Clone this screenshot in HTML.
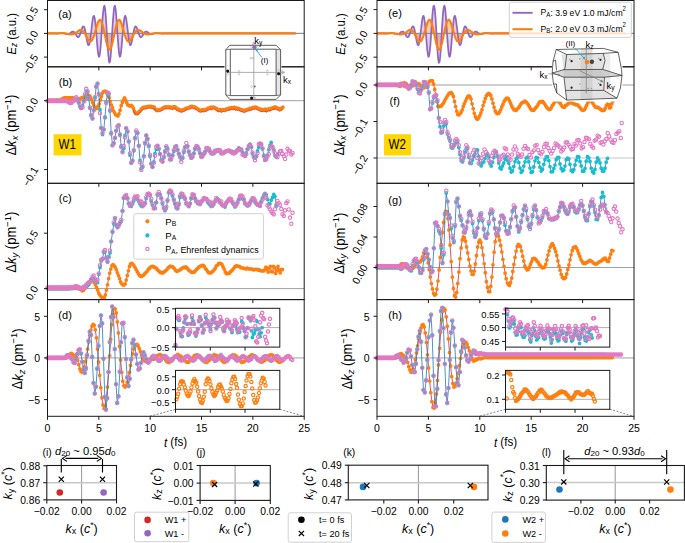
<!DOCTYPE html><html><head><meta charset="utf-8"><style>html,body{margin:0;padding:0;background:#fff;overflow:hidden;}svg{display:block;} text{font-family:"Liberation Sans", sans-serif;}</style></head><body><svg width="685" height="543" viewBox="0 0 685 543" font-family='"Liberation Sans", sans-serif'><defs></defs><line x1="47.5" y1="33.4" x2="304.2" y2="33.4" stroke="#a0a0a0" stroke-width="1" />
<line x1="47.5" y1="100.7" x2="304.2" y2="100.7" stroke="#a0a0a0" stroke-width="1" />
<line x1="47.5" y1="288.6" x2="304.2" y2="288.6" stroke="#a0a0a0" stroke-width="1" />
<line x1="47.5" y1="357.95" x2="304.2" y2="357.95" stroke="#a0a0a0" stroke-width="1" />
<line x1="377" y1="33.4" x2="634" y2="33.4" stroke="#a0a0a0" stroke-width="1" />
<line x1="377" y1="85" x2="634" y2="85" stroke="#a0a0a0" stroke-width="1" />
<line x1="377" y1="267.5" x2="634" y2="267.5" stroke="#a0a0a0" stroke-width="1" />
<line x1="377" y1="357.95" x2="634" y2="357.95" stroke="#a0a0a0" stroke-width="1" />
<line x1="377" y1="158" x2="634" y2="158" stroke="#c8c8c8" stroke-width="1.2" />
<path d="M47.5,33.4 48.1,33.4 48.7,33.4 49.3,33.4 50.0,33.4 50.6,33.4 51.2,33.4 51.8,33.4 52.4,33.4 53.0,33.4 53.6,33.4 54.2,33.4 54.9,33.4 55.5,33.5 56.1,33.5 56.7,33.5 57.3,33.5 57.9,33.5 58.5,33.5 59.1,33.4 59.8,33.3 60.4,33.3 61.0,33.2 61.6,33.1 62.2,33.1 62.8,33.1 63.4,33.2 64.0,33.3 64.7,33.4 65.3,33.6 65.9,33.8 66.5,34.0 67.1,34.1 67.7,34.2 68.3,34.1 68.9,33.9 69.6,33.6 70.2,33.2 70.8,32.7 71.4,32.2 72.0,31.8 72.6,31.6 73.2,31.6 73.8,31.9 74.5,32.5 75.1,33.3 75.7,34.3 76.3,35.3 76.9,36.3 77.5,36.9 78.1,37.2 78.7,36.9 79.4,36.1 80.0,34.7 80.6,32.9 81.2,30.9 81.8,29.0 82.4,27.4 83.0,26.4 83.6,26.4 84.3,27.3 84.9,29.3 85.5,32.1 86.1,35.5 86.7,39.0 87.3,42.1 87.9,44.3 88.5,45.2 89.2,44.6 89.8,42.3 90.4,38.4 91.0,33.5 91.6,28.1 92.2,22.9 92.8,18.7 93.4,16.2 94.1,15.9 94.7,18.0 95.3,22.4 95.9,28.7 96.5,36.0 97.1,43.5 97.7,50.1 98.3,54.8 99.0,56.8 99.6,55.7 100.2,51.6 100.8,44.7 101.4,36.0 102.0,26.6 102.6,17.8 103.3,10.8 103.9,6.5 104.5,5.8 105.1,8.8 105.7,15.1 106.3,24.0 106.9,34.3 107.5,44.6 108.2,53.5 108.8,59.9 109.4,62.7 110.0,61.6 110.6,56.8 111.2,49.0 111.8,39.1 112.4,28.7 113.1,18.9 113.7,11.3 114.3,6.7 114.9,5.7 115.5,8.4 116.1,14.3 116.7,22.4 117.3,31.7 118.0,40.9 118.6,48.7 119.2,54.2 119.8,56.7 120.4,56.1 121.0,52.5 121.6,46.7 122.2,39.5 122.9,32.0 123.5,25.1 124.1,19.8 124.7,16.6 125.3,15.8 125.9,17.3 126.5,20.8 127.1,25.6 127.8,31.0 128.4,36.3 129.0,40.7 129.6,43.7 130.2,45.1 130.8,44.9 131.4,43.3 132.0,40.5 132.7,37.1 133.3,33.6 133.9,30.5 134.5,28.1 135.1,26.7 135.7,26.3 136.3,26.8 136.9,28.2 137.6,30.0 138.2,32.0 138.8,33.9 139.4,35.5 140.0,36.6 140.6,37.2 141.2,37.1 141.8,36.6 142.5,35.8 143.1,34.8 143.7,33.7 144.3,32.8 144.9,32.1 145.5,31.7 146.1,31.6 146.7,31.7 147.4,32.0 148.0,32.5 148.6,33.0 149.2,33.4 149.8,33.8 150.4,34.0 151.0,34.2 151.7,34.2 152.3,34.1 152.9,33.9 153.5,33.7 154.1,33.5 154.7,33.3 155.3,33.2 155.9,33.1 156.6,33.1 157.2,33.1 157.8,33.2 158.4,33.2 159.0,33.3 159.6,33.4 160.2,33.4 160.8,33.5 161.5,33.5 162.1,33.5 162.7,33.5 163.3,33.5 163.9,33.4 164.5,33.4 165.1,33.4 165.7,33.4 166.4,33.4 167.0,33.4 167.6,33.4 168.2,33.4 168.8,33.4 169.4,33.4 170.0,33.4 170.6,33.4 171.3,33.4 171.9,33.4 172.5,33.4 173.1,33.4 173.7,33.4 174.3,33.4 174.9,33.4 175.5,33.4 176.2,33.4 176.8,33.4 177.4,33.4 178.0,33.4 178.6,33.4 179.2,33.4 179.8,33.4 180.4,33.4 181.1,33.4 181.7,33.4 182.3,33.4 182.9,33.4 183.5,33.4 184.1,33.4 184.7,33.4 185.3,33.4 186.0,33.4 186.6,33.4 187.2,33.4 187.8,33.4 188.4,33.4 189.0,33.4 189.6,33.4 190.2,33.4 190.9,33.4 191.5,33.4 192.1,33.4 192.7,33.4 193.3,33.4 193.9,33.4 194.5,33.4 195.1,33.4 195.8,33.4 196.4,33.4 197.0,33.4 197.6,33.4 198.2,33.4 198.8,33.4 199.4,33.4 200.0,33.4 200.7,33.4 201.3,33.4 201.9,33.4 202.5,33.4 203.1,33.4 203.7,33.4 204.3,33.4 205.0,33.4 205.6,33.4 206.2,33.4 206.8,33.4 207.4,33.4 208.0,33.4 208.6,33.4 209.2,33.4 209.9,33.4 210.5,33.4 211.1,33.4 211.7,33.4 212.3,33.4 212.9,33.4 213.5,33.4 214.1,33.4 214.8,33.4 215.4,33.4 216.0,33.4 216.6,33.4 217.2,33.4 217.8,33.4 218.4,33.4 219.0,33.4 219.7,33.4 220.3,33.4 220.9,33.4 221.5,33.4 222.1,33.4 222.7,33.4 223.3,33.4 223.9,33.4 224.6,33.4 225.2,33.4 225.8,33.4 226.4,33.4 227.0,33.4 227.6,33.4 228.2,33.4 228.8,33.4 229.5,33.4 230.1,33.4 230.7,33.4 231.3,33.4 231.9,33.4 232.5,33.4 233.1,33.4 233.7,33.4 234.4,33.4 235.0,33.4 235.6,33.4 236.2,33.4 236.8,33.4 237.4,33.4 238.0,33.4 238.6,33.4 239.3,33.4 239.9,33.4 240.5,33.4 241.1,33.4 241.7,33.4 242.3,33.4 242.9,33.4 243.5,33.4 244.2,33.4 244.8,33.4 245.4,33.4 246.0,33.4 246.6,33.4 247.2,33.4 247.8,33.4 248.4,33.4 249.1,33.4 249.7,33.4 250.3,33.4 250.9,33.4 251.5,33.4 252.1,33.4 252.7,33.4 253.4,33.4 254.0,33.4 254.6,33.4 255.2,33.4 255.8,33.4 256.4,33.4 257.0,33.4 257.6,33.4 258.3,33.4 258.9,33.4 259.5,33.4 260.1,33.4 260.7,33.4 261.3,33.4 261.9,33.4 262.5,33.4 263.2,33.4 263.8,33.4 264.4,33.4 265.0,33.4 265.6,33.4 266.2,33.4 266.8,33.4 267.4,33.4 268.1,33.4 268.7,33.4 269.3,33.4 269.9,33.4 270.5,33.4 271.1,33.4 271.7,33.4 272.3,33.4 273.0,33.4 273.6,33.4 274.2,33.4 274.8,33.4 275.4,33.4 276.0,33.4 276.6,33.4 277.2,33.4 277.9,33.4 278.5,33.4 279.1,33.4 279.7,33.4 280.3,33.4 280.9,33.4 281.5,33.4 282.1,33.4 282.8,33.4 283.4,33.4 284.0,33.4 284.6,33.4 285.2,33.4 285.8,33.4 286.4,33.4 287.0,33.4 287.7,33.4 288.3,33.4 288.9,33.4 289.5,33.4 290.1,33.4 290.7,33.4 291.3,33.4 291.9,33.4 292.6,33.4 293.2,33.4 293.8,33.4 294.4,33.4 295.0,33.4 295.6,33.4 296.2,33.4 296.8,33.4 297.5,33.4 298.1,33.4 298.7,33.4 299.3,33.4 299.9,33.4 300.5,33.4 301.1,33.4 301.7,33.4 302.4,33.4 303.0,33.4 303.6,33.4 304.2,33.4 L304.2,33.4 L47.5,33.4 Z" fill="#9467bd" fill-opacity="0.3" stroke="none"/>
<path d="M47.5,33.4 48.1,33.4 48.7,33.4 49.3,33.4 50.0,33.4 50.6,33.4 51.2,33.4 51.8,33.4 52.4,33.4 53.0,33.4 53.6,33.4 54.2,33.4 54.9,33.4 55.5,33.4 56.1,33.4 56.7,33.3 57.3,33.3 57.9,33.3 58.5,33.3 59.1,33.2 59.8,33.2 60.4,33.2 61.0,33.2 61.6,33.2 62.2,33.2 62.8,33.2 63.4,33.2 64.0,33.3 64.7,33.4 65.3,33.4 65.9,33.6 66.5,33.7 67.1,33.8 67.7,33.9 68.3,34.1 68.9,34.2 69.6,34.3 70.2,34.4 70.8,34.4 71.4,34.4 72.0,34.4 72.6,34.3 73.2,34.1 73.8,33.9 74.5,33.6 75.1,33.3 75.7,32.9 76.3,32.4 76.9,32.0 77.5,31.5 78.1,31.1 78.7,30.6 79.4,30.3 80.0,30.1 80.6,30.0 81.2,30.0 81.8,30.2 82.4,30.5 83.0,31.1 83.6,31.8 84.3,32.6 84.9,33.6 85.5,34.7 86.1,35.9 86.7,37.1 87.3,38.2 87.9,39.3 88.5,40.2 89.2,40.9 89.8,41.4 90.4,41.5 91.0,41.3 91.6,40.8 92.2,39.9 92.8,38.7 93.4,37.2 94.1,35.4 94.7,33.3 95.3,31.2 95.9,29.0 96.5,26.8 97.1,24.8 97.7,23.0 98.3,21.5 99.0,20.5 99.6,19.9 100.2,19.9 100.8,20.3 101.4,21.4 102.0,22.9 102.6,24.9 103.3,27.3 103.9,30.0 104.5,33.0 105.1,36.0 105.7,38.9 106.3,41.7 106.9,44.2 107.5,46.4 108.2,48.0 108.8,49.0 109.4,49.5 110.0,49.3 110.6,48.5 111.2,47.2 111.8,45.3 112.4,42.9 113.1,40.3 113.7,37.4 114.3,34.4 114.9,31.4 115.5,28.5 116.1,26.0 116.7,23.8 117.3,22.0 118.0,20.7 118.6,20.0 119.2,19.8 119.8,20.2 120.4,21.0 121.0,22.3 121.6,23.9 122.2,25.9 122.9,28.0 123.5,30.2 124.1,32.4 124.7,34.5 125.3,36.4 125.9,38.0 126.5,39.4 127.1,40.5 127.8,41.2 128.4,41.5 129.0,41.5 129.6,41.2 130.2,40.6 130.8,39.7 131.4,38.7 132.0,37.6 132.7,36.4 133.3,35.2 133.9,34.1 134.5,33.1 135.1,32.1 135.7,31.4 136.3,30.7 136.9,30.3 137.6,30.1 138.2,30.0 138.8,30.0 139.4,30.2 140.0,30.5 140.6,30.9 141.2,31.3 141.8,31.7 142.5,32.2 143.1,32.7 143.7,33.1 144.3,33.5 144.9,33.8 145.5,34.0 146.1,34.2 146.7,34.4 147.4,34.4 148.0,34.4 148.6,34.4 149.2,34.3 149.8,34.2 150.4,34.1 151.0,34.0 151.7,33.9 152.3,33.7 152.9,33.6 153.5,33.5 154.1,33.4 154.7,33.3 155.3,33.3 155.9,33.2 156.6,33.2 157.2,33.2 157.8,33.2 158.4,33.2 159.0,33.2 159.6,33.2 160.2,33.3 160.8,33.3 161.5,33.3 162.1,33.3 162.7,33.4 163.3,33.4 163.9,33.4 164.5,33.4 165.1,33.4 165.7,33.4 166.4,33.4 167.0,33.4 167.6,33.4 168.2,33.4 168.8,33.4 169.4,33.4 170.0,33.4 170.6,33.4 171.3,33.4 171.9,33.4 172.5,33.4 173.1,33.4 173.7,33.4 174.3,33.4 174.9,33.4 175.5,33.4 176.2,33.4 176.8,33.4 177.4,33.4 178.0,33.4 178.6,33.4 179.2,33.4 179.8,33.4 180.4,33.4 181.1,33.4 181.7,33.4 182.3,33.4 182.9,33.4 183.5,33.4 184.1,33.4 184.7,33.4 185.3,33.4 186.0,33.4 186.6,33.4 187.2,33.4 187.8,33.4 188.4,33.4 189.0,33.4 189.6,33.4 190.2,33.4 190.9,33.4 191.5,33.4 192.1,33.4 192.7,33.4 193.3,33.4 193.9,33.4 194.5,33.4 195.1,33.4 195.8,33.4 196.4,33.4 197.0,33.4 197.6,33.4 198.2,33.4 198.8,33.4 199.4,33.4 200.0,33.4 200.7,33.4 201.3,33.4 201.9,33.4 202.5,33.4 203.1,33.4 203.7,33.4 204.3,33.4 205.0,33.4 205.6,33.4 206.2,33.4 206.8,33.4 207.4,33.4 208.0,33.4 208.6,33.4 209.2,33.4 209.9,33.4 210.5,33.4 211.1,33.4 211.7,33.4 212.3,33.4 212.9,33.4 213.5,33.4 214.1,33.4 214.8,33.4 215.4,33.4 216.0,33.4 216.6,33.4 217.2,33.4 217.8,33.4 218.4,33.4 219.0,33.4 219.7,33.4 220.3,33.4 220.9,33.4 221.5,33.4 222.1,33.4 222.7,33.4 223.3,33.4 223.9,33.4 224.6,33.4 225.2,33.4 225.8,33.4 226.4,33.4 227.0,33.4 227.6,33.4 228.2,33.4 228.8,33.4 229.5,33.4 230.1,33.4 230.7,33.4 231.3,33.4 231.9,33.4 232.5,33.4 233.1,33.4 233.7,33.4 234.4,33.4 235.0,33.4 235.6,33.4 236.2,33.4 236.8,33.4 237.4,33.4 238.0,33.4 238.6,33.4 239.3,33.4 239.9,33.4 240.5,33.4 241.1,33.4 241.7,33.4 242.3,33.4 242.9,33.4 243.5,33.4 244.2,33.4 244.8,33.4 245.4,33.4 246.0,33.4 246.6,33.4 247.2,33.4 247.8,33.4 248.4,33.4 249.1,33.4 249.7,33.4 250.3,33.4 250.9,33.4 251.5,33.4 252.1,33.4 252.7,33.4 253.4,33.4 254.0,33.4 254.6,33.4 255.2,33.4 255.8,33.4 256.4,33.4 257.0,33.4 257.6,33.4 258.3,33.4 258.9,33.4 259.5,33.4 260.1,33.4 260.7,33.4 261.3,33.4 261.9,33.4 262.5,33.4 263.2,33.4 263.8,33.4 264.4,33.4 265.0,33.4 265.6,33.4 266.2,33.4 266.8,33.4 267.4,33.4 268.1,33.4 268.7,33.4 269.3,33.4 269.9,33.4 270.5,33.4 271.1,33.4 271.7,33.4 272.3,33.4 273.0,33.4 273.6,33.4 274.2,33.4 274.8,33.4 275.4,33.4 276.0,33.4 276.6,33.4 277.2,33.4 277.9,33.4 278.5,33.4 279.1,33.4 279.7,33.4 280.3,33.4 280.9,33.4 281.5,33.4 282.1,33.4 282.8,33.4 283.4,33.4 284.0,33.4 284.6,33.4 285.2,33.4 285.8,33.4 286.4,33.4 287.0,33.4 287.7,33.4 288.3,33.4 288.9,33.4 289.5,33.4 290.1,33.4 290.7,33.4 291.3,33.4 291.9,33.4 292.6,33.4 293.2,33.4 293.8,33.4 294.4,33.4 295.0,33.4 295.6,33.4 296.2,33.4 296.8,33.4 297.5,33.4 298.1,33.4 298.7,33.4 299.3,33.4 299.9,33.4 300.5,33.4 301.1,33.4 301.7,33.4 302.4,33.4 303.0,33.4 303.6,33.4 304.2,33.4 L304.2,33.4 L47.5,33.4 Z" fill="#ff7f0e" fill-opacity="0.38" stroke="none"/>
<line x1="47.5" y1="33.4" x2="304.2" y2="33.4" stroke="#8c8c8c" stroke-width="1" />
<path d="M47.5,33.4 48.1,33.4 48.7,33.4 49.3,33.4 50.0,33.4 50.6,33.4 51.2,33.4 51.8,33.4 52.4,33.4 53.0,33.4 53.6,33.4 54.2,33.4 54.9,33.4 55.5,33.5 56.1,33.5 56.7,33.5 57.3,33.5 57.9,33.5 58.5,33.5 59.1,33.4 59.8,33.3 60.4,33.3 61.0,33.2 61.6,33.1 62.2,33.1 62.8,33.1 63.4,33.2 64.0,33.3 64.7,33.4 65.3,33.6 65.9,33.8 66.5,34.0 67.1,34.1 67.7,34.2 68.3,34.1 68.9,33.9 69.6,33.6 70.2,33.2 70.8,32.7 71.4,32.2 72.0,31.8 72.6,31.6 73.2,31.6 73.8,31.9 74.5,32.5 75.1,33.3 75.7,34.3 76.3,35.3 76.9,36.3 77.5,36.9 78.1,37.2 78.7,36.9 79.4,36.1 80.0,34.7 80.6,32.9 81.2,30.9 81.8,29.0 82.4,27.4 83.0,26.4 83.6,26.4 84.3,27.3 84.9,29.3 85.5,32.1 86.1,35.5 86.7,39.0 87.3,42.1 87.9,44.3 88.5,45.2 89.2,44.6 89.8,42.3 90.4,38.4 91.0,33.5 91.6,28.1 92.2,22.9 92.8,18.7 93.4,16.2 94.1,15.9 94.7,18.0 95.3,22.4 95.9,28.7 96.5,36.0 97.1,43.5 97.7,50.1 98.3,54.8 99.0,56.8 99.6,55.7 100.2,51.6 100.8,44.7 101.4,36.0 102.0,26.6 102.6,17.8 103.3,10.8 103.9,6.5 104.5,5.8 105.1,8.8 105.7,15.1 106.3,24.0 106.9,34.3 107.5,44.6 108.2,53.5 108.8,59.9 109.4,62.7 110.0,61.6 110.6,56.8 111.2,49.0 111.8,39.1 112.4,28.7 113.1,18.9 113.7,11.3 114.3,6.7 114.9,5.7 115.5,8.4 116.1,14.3 116.7,22.4 117.3,31.7 118.0,40.9 118.6,48.7 119.2,54.2 119.8,56.7 120.4,56.1 121.0,52.5 121.6,46.7 122.2,39.5 122.9,32.0 123.5,25.1 124.1,19.8 124.7,16.6 125.3,15.8 125.9,17.3 126.5,20.8 127.1,25.6 127.8,31.0 128.4,36.3 129.0,40.7 129.6,43.7 130.2,45.1 130.8,44.9 131.4,43.3 132.0,40.5 132.7,37.1 133.3,33.6 133.9,30.5 134.5,28.1 135.1,26.7 135.7,26.3 136.3,26.8 136.9,28.2 137.6,30.0 138.2,32.0 138.8,33.9 139.4,35.5 140.0,36.6 140.6,37.2 141.2,37.1 141.8,36.6 142.5,35.8 143.1,34.8 143.7,33.7 144.3,32.8 144.9,32.1 145.5,31.7 146.1,31.6 146.7,31.7 147.4,32.0 148.0,32.5 148.6,33.0 149.2,33.4 149.8,33.8 150.4,34.0 151.0,34.2 151.7,34.2 152.3,34.1 152.9,33.9 153.5,33.7 154.1,33.5 154.7,33.3 155.3,33.2 155.9,33.1 156.6,33.1 157.2,33.1 157.8,33.2 158.4,33.2 159.0,33.3 159.6,33.4 160.2,33.4 160.8,33.5 161.5,33.5 162.1,33.5 162.7,33.5 163.3,33.5 163.9,33.4 164.5,33.4 165.1,33.4 165.7,33.4 166.4,33.4 167.0,33.4 167.6,33.4 168.2,33.4 168.8,33.4 169.4,33.4 170.0,33.4 170.6,33.4 171.3,33.4 171.9,33.4 172.5,33.4 173.1,33.4 173.7,33.4 174.3,33.4 174.9,33.4 175.5,33.4 176.2,33.4 176.8,33.4 177.4,33.4 178.0,33.4 178.6,33.4 179.2,33.4 179.8,33.4 180.4,33.4 181.1,33.4 181.7,33.4 182.3,33.4 182.9,33.4 183.5,33.4 184.1,33.4 184.7,33.4 185.3,33.4 186.0,33.4 186.6,33.4 187.2,33.4 187.8,33.4 188.4,33.4 189.0,33.4 189.6,33.4 190.2,33.4 190.9,33.4 191.5,33.4 192.1,33.4 192.7,33.4 193.3,33.4 193.9,33.4 194.5,33.4 195.1,33.4 195.8,33.4 196.4,33.4 197.0,33.4 197.6,33.4 198.2,33.4 198.8,33.4 199.4,33.4 200.0,33.4 200.7,33.4 201.3,33.4 201.9,33.4 202.5,33.4 203.1,33.4 203.7,33.4 204.3,33.4 205.0,33.4 205.6,33.4 206.2,33.4 206.8,33.4 207.4,33.4 208.0,33.4 208.6,33.4 209.2,33.4 209.9,33.4 210.5,33.4 211.1,33.4 211.7,33.4 212.3,33.4 212.9,33.4 213.5,33.4 214.1,33.4 214.8,33.4 215.4,33.4 216.0,33.4 216.6,33.4 217.2,33.4 217.8,33.4 218.4,33.4 219.0,33.4 219.7,33.4 220.3,33.4 220.9,33.4 221.5,33.4 222.1,33.4 222.7,33.4 223.3,33.4 223.9,33.4 224.6,33.4 225.2,33.4 225.8,33.4 226.4,33.4 227.0,33.4 227.6,33.4 228.2,33.4 228.8,33.4 229.5,33.4 230.1,33.4 230.7,33.4 231.3,33.4 231.9,33.4 232.5,33.4 233.1,33.4 233.7,33.4 234.4,33.4 235.0,33.4 235.6,33.4 236.2,33.4 236.8,33.4 237.4,33.4 238.0,33.4 238.6,33.4 239.3,33.4 239.9,33.4 240.5,33.4 241.1,33.4 241.7,33.4 242.3,33.4 242.9,33.4 243.5,33.4 244.2,33.4 244.8,33.4 245.4,33.4 246.0,33.4 246.6,33.4 247.2,33.4 247.8,33.4 248.4,33.4 249.1,33.4 249.7,33.4 250.3,33.4 250.9,33.4 251.5,33.4 252.1,33.4 252.7,33.4 253.4,33.4 254.0,33.4 254.6,33.4 255.2,33.4 255.8,33.4 256.4,33.4 257.0,33.4 257.6,33.4 258.3,33.4 258.9,33.4 259.5,33.4 260.1,33.4 260.7,33.4 261.3,33.4 261.9,33.4 262.5,33.4 263.2,33.4 263.8,33.4 264.4,33.4 265.0,33.4 265.6,33.4 266.2,33.4 266.8,33.4 267.4,33.4 268.1,33.4 268.7,33.4 269.3,33.4 269.9,33.4 270.5,33.4 271.1,33.4 271.7,33.4 272.3,33.4 273.0,33.4 273.6,33.4 274.2,33.4 274.8,33.4 275.4,33.4 276.0,33.4 276.6,33.4 277.2,33.4 277.9,33.4 278.5,33.4 279.1,33.4 279.7,33.4 280.3,33.4 280.9,33.4 281.5,33.4 282.1,33.4 282.8,33.4 283.4,33.4 284.0,33.4 284.6,33.4 285.2,33.4 285.8,33.4 286.4,33.4 287.0,33.4 287.7,33.4 288.3,33.4 288.9,33.4 289.5,33.4 290.1,33.4 290.7,33.4 291.3,33.4 291.9,33.4 292.6,33.4 293.2,33.4 293.8,33.4 294.4,33.4 295.0,33.4 295.6,33.4" fill="none" stroke="#9467bd" stroke-width="1.75" stroke-linejoin="round"/>
<path d="M47.5,33.4 48.1,33.4 48.7,33.4 49.3,33.4 50.0,33.4 50.6,33.4 51.2,33.4 51.8,33.4 52.4,33.4 53.0,33.4 53.6,33.4 54.2,33.4 54.9,33.4 55.5,33.4 56.1,33.4 56.7,33.3 57.3,33.3 57.9,33.3 58.5,33.3 59.1,33.2 59.8,33.2 60.4,33.2 61.0,33.2 61.6,33.2 62.2,33.2 62.8,33.2 63.4,33.2 64.0,33.3 64.7,33.4 65.3,33.4 65.9,33.6 66.5,33.7 67.1,33.8 67.7,33.9 68.3,34.1 68.9,34.2 69.6,34.3 70.2,34.4 70.8,34.4 71.4,34.4 72.0,34.4 72.6,34.3 73.2,34.1 73.8,33.9 74.5,33.6 75.1,33.3 75.7,32.9 76.3,32.4 76.9,32.0 77.5,31.5 78.1,31.1 78.7,30.6 79.4,30.3 80.0,30.1 80.6,30.0 81.2,30.0 81.8,30.2 82.4,30.5 83.0,31.1 83.6,31.8 84.3,32.6 84.9,33.6 85.5,34.7 86.1,35.9 86.7,37.1 87.3,38.2 87.9,39.3 88.5,40.2 89.2,40.9 89.8,41.4 90.4,41.5 91.0,41.3 91.6,40.8 92.2,39.9 92.8,38.7 93.4,37.2 94.1,35.4 94.7,33.3 95.3,31.2 95.9,29.0 96.5,26.8 97.1,24.8 97.7,23.0 98.3,21.5 99.0,20.5 99.6,19.9 100.2,19.9 100.8,20.3 101.4,21.4 102.0,22.9 102.6,24.9 103.3,27.3 103.9,30.0 104.5,33.0 105.1,36.0 105.7,38.9 106.3,41.7 106.9,44.2 107.5,46.4 108.2,48.0 108.8,49.0 109.4,49.5 110.0,49.3 110.6,48.5 111.2,47.2 111.8,45.3 112.4,42.9 113.1,40.3 113.7,37.4 114.3,34.4 114.9,31.4 115.5,28.5 116.1,26.0 116.7,23.8 117.3,22.0 118.0,20.7 118.6,20.0 119.2,19.8 119.8,20.2 120.4,21.0 121.0,22.3 121.6,23.9 122.2,25.9 122.9,28.0 123.5,30.2 124.1,32.4 124.7,34.5 125.3,36.4 125.9,38.0 126.5,39.4 127.1,40.5 127.8,41.2 128.4,41.5 129.0,41.5 129.6,41.2 130.2,40.6 130.8,39.7 131.4,38.7 132.0,37.6 132.7,36.4 133.3,35.2 133.9,34.1 134.5,33.1 135.1,32.1 135.7,31.4 136.3,30.7 136.9,30.3 137.6,30.1 138.2,30.0 138.8,30.0 139.4,30.2 140.0,30.5 140.6,30.9 141.2,31.3 141.8,31.7 142.5,32.2 143.1,32.7 143.7,33.1 144.3,33.5 144.9,33.8 145.5,34.0 146.1,34.2 146.7,34.4 147.4,34.4 148.0,34.4 148.6,34.4 149.2,34.3 149.8,34.2 150.4,34.1 151.0,34.0 151.7,33.9 152.3,33.7 152.9,33.6 153.5,33.5 154.1,33.4 154.7,33.3 155.3,33.3 155.9,33.2 156.6,33.2 157.2,33.2 157.8,33.2 158.4,33.2 159.0,33.2 159.6,33.2 160.2,33.3 160.8,33.3 161.5,33.3 162.1,33.3 162.7,33.4 163.3,33.4 163.9,33.4 164.5,33.4 165.1,33.4 165.7,33.4 166.4,33.4 167.0,33.4 167.6,33.4 168.2,33.4 168.8,33.4 169.4,33.4 170.0,33.4 170.6,33.4 171.3,33.4 171.9,33.4 172.5,33.4 173.1,33.4 173.7,33.4 174.3,33.4 174.9,33.4 175.5,33.4 176.2,33.4 176.8,33.4 177.4,33.4 178.0,33.4 178.6,33.4 179.2,33.4 179.8,33.4 180.4,33.4 181.1,33.4 181.7,33.4 182.3,33.4 182.9,33.4 183.5,33.4 184.1,33.4 184.7,33.4 185.3,33.4 186.0,33.4 186.6,33.4 187.2,33.4 187.8,33.4 188.4,33.4 189.0,33.4 189.6,33.4 190.2,33.4 190.9,33.4 191.5,33.4 192.1,33.4 192.7,33.4 193.3,33.4 193.9,33.4 194.5,33.4 195.1,33.4 195.8,33.4 196.4,33.4 197.0,33.4 197.6,33.4 198.2,33.4 198.8,33.4 199.4,33.4 200.0,33.4 200.7,33.4 201.3,33.4 201.9,33.4 202.5,33.4 203.1,33.4 203.7,33.4 204.3,33.4 205.0,33.4 205.6,33.4 206.2,33.4 206.8,33.4 207.4,33.4 208.0,33.4 208.6,33.4 209.2,33.4 209.9,33.4 210.5,33.4 211.1,33.4 211.7,33.4 212.3,33.4 212.9,33.4 213.5,33.4 214.1,33.4 214.8,33.4 215.4,33.4 216.0,33.4 216.6,33.4 217.2,33.4 217.8,33.4 218.4,33.4 219.0,33.4 219.7,33.4 220.3,33.4 220.9,33.4 221.5,33.4 222.1,33.4 222.7,33.4 223.3,33.4 223.9,33.4 224.6,33.4 225.2,33.4 225.8,33.4 226.4,33.4 227.0,33.4 227.6,33.4 228.2,33.4 228.8,33.4 229.5,33.4 230.1,33.4 230.7,33.4 231.3,33.4 231.9,33.4 232.5,33.4 233.1,33.4 233.7,33.4 234.4,33.4 235.0,33.4 235.6,33.4 236.2,33.4 236.8,33.4 237.4,33.4 238.0,33.4 238.6,33.4 239.3,33.4 239.9,33.4 240.5,33.4 241.1,33.4 241.7,33.4 242.3,33.4 242.9,33.4 243.5,33.4 244.2,33.4 244.8,33.4 245.4,33.4 246.0,33.4 246.6,33.4 247.2,33.4 247.8,33.4 248.4,33.4 249.1,33.4 249.7,33.4 250.3,33.4 250.9,33.4 251.5,33.4 252.1,33.4 252.7,33.4 253.4,33.4 254.0,33.4 254.6,33.4 255.2,33.4 255.8,33.4 256.4,33.4 257.0,33.4 257.6,33.4 258.3,33.4 258.9,33.4 259.5,33.4 260.1,33.4 260.7,33.4 261.3,33.4 261.9,33.4 262.5,33.4 263.2,33.4 263.8,33.4 264.4,33.4 265.0,33.4 265.6,33.4 266.2,33.4 266.8,33.4 267.4,33.4 268.1,33.4 268.7,33.4 269.3,33.4 269.9,33.4 270.5,33.4 271.1,33.4 271.7,33.4 272.3,33.4 273.0,33.4 273.6,33.4 274.2,33.4 274.8,33.4 275.4,33.4 276.0,33.4 276.6,33.4 277.2,33.4 277.9,33.4 278.5,33.4 279.1,33.4 279.7,33.4 280.3,33.4 280.9,33.4 281.5,33.4 282.1,33.4 282.8,33.4 283.4,33.4 284.0,33.4 284.6,33.4 285.2,33.4 285.8,33.4 286.4,33.4 287.0,33.4 287.7,33.4 288.3,33.4 288.9,33.4 289.5,33.4 290.1,33.4 290.7,33.4 291.3,33.4 291.9,33.4 292.6,33.4 293.2,33.4 293.8,33.4 294.4,33.4 295.0,33.4 295.6,33.4" fill="none" stroke="#ff7f0e" stroke-width="2.1" stroke-linejoin="round"/>
<path d="M377.0,33.4 377.6,33.4 378.2,33.4 378.8,33.4 379.5,33.4 380.1,33.4 380.7,33.4 381.3,33.4 381.9,33.4 382.5,33.4 383.1,33.4 383.7,33.4 384.4,33.4 385.0,33.5 385.6,33.5 386.2,33.5 386.8,33.5 387.4,33.5 388.0,33.5 388.7,33.4 389.3,33.3 389.9,33.3 390.5,33.2 391.1,33.1 391.7,33.1 392.3,33.1 392.9,33.2 393.6,33.3 394.2,33.4 394.8,33.6 395.4,33.8 396.0,34.0 396.6,34.1 397.2,34.2 397.9,34.1 398.5,33.9 399.1,33.6 399.7,33.2 400.3,32.7 400.9,32.2 401.5,31.8 402.1,31.6 402.8,31.6 403.4,31.9 404.0,32.5 404.6,33.3 405.2,34.3 405.8,35.3 406.4,36.3 407.1,37.0 407.7,37.2 408.3,37.0 408.9,36.1 409.5,34.7 410.1,32.9 410.7,30.9 411.3,29.0 412.0,27.4 412.6,26.4 413.2,26.4 413.8,27.3 414.4,29.3 415.0,32.1 415.6,35.5 416.3,39.0 416.9,42.1 417.5,44.4 418.1,45.3 418.7,44.6 419.3,42.3 419.9,38.5 420.5,33.5 421.2,28.1 421.8,22.9 422.4,18.7 423.0,16.2 423.6,15.9 424.2,18.0 424.8,22.4 425.5,28.7 426.1,36.0 426.7,43.5 427.3,50.1 427.9,54.8 428.5,56.9 429.1,55.8 429.7,51.6 430.4,44.8 431.0,36.1 431.6,26.6 432.2,17.7 432.8,10.7 433.4,6.4 434.0,5.7 434.7,8.7 435.3,15.0 435.9,24.0 436.5,34.3 437.1,44.7 437.7,53.6 438.3,60.0 438.9,62.8 439.6,61.7 440.2,56.9 440.8,49.1 441.4,39.2 442.0,28.6 442.6,18.9 443.2,11.2 443.9,6.6 444.5,5.6 445.1,8.3 445.7,14.2 446.3,22.4 446.9,31.7 447.5,40.9 448.2,48.8 448.8,54.3 449.4,56.8 450.0,56.1 450.6,52.6 451.2,46.8 451.8,39.5 452.4,32.0 453.1,25.1 453.7,19.7 454.3,16.5 454.9,15.7 455.5,17.3 456.1,20.8 456.7,25.6 457.4,31.0 458.0,36.3 458.6,40.7 459.2,43.8 459.8,45.2 460.4,45.0 461.0,43.3 461.6,40.5 462.3,37.1 462.9,33.6 463.5,30.5 464.1,28.1 464.7,26.7 465.3,26.3 465.9,26.8 466.6,28.2 467.2,30.0 467.8,32.0 468.4,33.9 469.0,35.5 469.6,36.6 470.2,37.2 470.8,37.1 471.5,36.6 472.1,35.8 472.7,34.8 473.3,33.7 473.9,32.8 474.5,32.1 475.1,31.7 475.8,31.6 476.4,31.7 477.0,32.0 477.6,32.5 478.2,33.0 478.8,33.4 479.4,33.8 480.0,34.0 480.7,34.2 481.3,34.2 481.9,34.1 482.5,33.9 483.1,33.7 483.7,33.5 484.3,33.3 485.0,33.2 485.6,33.1 486.2,33.1 486.8,33.1 487.4,33.2 488.0,33.2 488.6,33.3 489.2,33.4 489.9,33.4 490.5,33.5 491.1,33.5 491.7,33.5 492.3,33.5 492.9,33.5 493.5,33.4 494.2,33.4 494.8,33.4 495.4,33.4 496.0,33.4 496.6,33.4 497.2,33.4 497.8,33.4 498.4,33.4 499.1,33.4 499.7,33.4 500.3,33.4 500.9,33.4 501.5,33.4 502.1,33.4 502.7,33.4 503.4,33.4 504.0,33.4 504.6,33.4 505.2,33.4 505.8,33.4 506.4,33.4 507.0,33.4 507.6,33.4 508.3,33.4 508.9,33.4 509.5,33.4 510.1,33.4 510.7,33.4 511.3,33.4 511.9,33.4 512.6,33.4 513.2,33.4 513.8,33.4 514.4,33.4 515.0,33.4 515.6,33.4 516.2,33.4 516.8,33.4 517.5,33.4 518.1,33.4 518.7,33.4 519.3,33.4 519.9,33.4 520.5,33.4 521.1,33.4 521.8,33.4 522.4,33.4 523.0,33.4 523.6,33.4 524.2,33.4 524.8,33.4 525.4,33.4 526.0,33.4 526.7,33.4 527.3,33.4 527.9,33.4 528.5,33.4 529.1,33.4 529.7,33.4 530.3,33.4 531.0,33.4 531.6,33.4 532.2,33.4 532.8,33.4 533.4,33.4 534.0,33.4 534.6,33.4 535.2,33.4 535.9,33.4 536.5,33.4 537.1,33.4 537.7,33.4 538.3,33.4 538.9,33.4 539.5,33.4 540.2,33.4 540.8,33.4 541.4,33.4 542.0,33.4 542.6,33.4 543.2,33.4 543.8,33.4 544.4,33.4 545.1,33.4 545.7,33.4 546.3,33.4 546.9,33.4 547.5,33.4 548.1,33.4 548.7,33.4 549.4,33.4 550.0,33.4 550.6,33.4 551.2,33.4 551.8,33.4 552.4,33.4 553.0,33.4 553.6,33.4 554.3,33.4 554.9,33.4 555.5,33.4 556.1,33.4 556.7,33.4 557.3,33.4 557.9,33.4 558.6,33.4 559.2,33.4 559.8,33.4 560.4,33.4 561.0,33.4 561.6,33.4 562.2,33.4 562.8,33.4 563.5,33.4 564.1,33.4 564.7,33.4 565.3,33.4 565.9,33.4 566.5,33.4 567.1,33.4 567.8,33.4 568.4,33.4 569.0,33.4 569.6,33.4 570.2,33.4 570.8,33.4 571.4,33.4 572.1,33.4 572.7,33.4 573.3,33.4 573.9,33.4 574.5,33.4 575.1,33.4 575.7,33.4 576.3,33.4 577.0,33.4 577.6,33.4 578.2,33.4 578.8,33.4 579.4,33.4 580.0,33.4 580.6,33.4 581.3,33.4 581.9,33.4 582.5,33.4 583.1,33.4 583.7,33.4 584.3,33.4 584.9,33.4 585.5,33.4 586.2,33.4 586.8,33.4 587.4,33.4 588.0,33.4 588.6,33.4 589.2,33.4 589.8,33.4 590.5,33.4 591.1,33.4 591.7,33.4 592.3,33.4 592.9,33.4 593.5,33.4 594.1,33.4 594.7,33.4 595.4,33.4 596.0,33.4 596.6,33.4 597.2,33.4 597.8,33.4 598.4,33.4 599.0,33.4 599.7,33.4 600.3,33.4 600.9,33.4 601.5,33.4 602.1,33.4 602.7,33.4 603.3,33.4 603.9,33.4 604.6,33.4 605.2,33.4 605.8,33.4 606.4,33.4 607.0,33.4 607.6,33.4 608.2,33.4 608.9,33.4 609.5,33.4 610.1,33.4 610.7,33.4 611.3,33.4 611.9,33.4 612.5,33.4 613.1,33.4 613.8,33.4 614.4,33.4 615.0,33.4 615.6,33.4 616.2,33.4 616.8,33.4 617.4,33.4 618.1,33.4 618.7,33.4 619.3,33.4 619.9,33.4 620.5,33.4 621.1,33.4 621.7,33.4 622.3,33.4 623.0,33.4 623.6,33.4 624.2,33.4 624.8,33.4 625.4,33.4 626.0,33.4 626.6,33.4 627.3,33.4 627.9,33.4 628.5,33.4 629.1,33.4 629.7,33.4 630.3,33.4 630.9,33.4 631.5,33.4 632.2,33.4 632.8,33.4 633.4,33.4 634.0,33.4 L634.0,33.4 L377.0,33.4 Z" fill="#9467bd" fill-opacity="0.3" stroke="none"/>
<path d="M377.0,33.4 377.6,33.4 378.2,33.4 378.8,33.4 379.5,33.4 380.1,33.4 380.7,33.4 381.3,33.4 381.9,33.4 382.5,33.4 383.1,33.4 383.7,33.4 384.4,33.4 385.0,33.4 385.6,33.4 386.2,33.3 386.8,33.3 387.4,33.3 388.0,33.3 388.7,33.2 389.3,33.2 389.9,33.2 390.5,33.2 391.1,33.2 391.7,33.2 392.3,33.2 392.9,33.2 393.6,33.3 394.2,33.4 394.8,33.5 395.4,33.6 396.0,33.7 396.6,33.8 397.2,33.9 397.9,34.1 398.5,34.2 399.1,34.3 399.7,34.4 400.3,34.4 400.9,34.4 401.5,34.4 402.1,34.3 402.8,34.1 403.4,33.9 404.0,33.6 404.6,33.3 405.2,32.9 405.8,32.4 406.4,32.0 407.1,31.5 407.7,31.0 408.3,30.6 408.9,30.3 409.5,30.1 410.1,29.9 410.7,30.0 411.3,30.2 412.0,30.5 412.6,31.0 413.2,31.7 413.8,32.6 414.4,33.6 415.0,34.7 415.6,35.9 416.3,37.1 416.9,38.2 417.5,39.3 418.1,40.2 418.7,40.9 419.3,41.4 419.9,41.6 420.5,41.4 421.2,40.9 421.8,40.0 422.4,38.7 423.0,37.2 423.6,35.4 424.2,33.3 424.8,31.2 425.5,29.0 426.1,26.8 426.7,24.8 427.3,23.0 427.9,21.5 428.5,20.4 429.1,19.9 429.7,19.8 430.4,20.3 431.0,21.3 431.6,22.9 432.2,24.9 432.8,27.3 433.4,30.0 434.0,33.0 434.7,36.0 435.3,39.0 435.9,41.8 436.5,44.3 437.1,46.4 437.7,48.0 438.3,49.1 438.9,49.6 439.6,49.4 440.2,48.6 440.8,47.2 441.4,45.3 442.0,43.0 442.6,40.3 443.2,37.4 443.9,34.4 444.5,31.4 445.1,28.5 445.7,26.0 446.3,23.7 446.9,22.0 447.5,20.7 448.2,20.0 448.8,19.8 449.4,20.1 450.0,21.0 450.6,22.2 451.2,23.9 451.8,25.8 452.4,27.9 453.1,30.1 453.7,32.4 454.3,34.5 454.9,36.4 455.5,38.1 456.1,39.4 456.7,40.5 457.4,41.2 458.0,41.5 458.6,41.5 459.2,41.2 459.8,40.6 460.4,39.8 461.0,38.7 461.6,37.6 462.3,36.4 462.9,35.3 463.5,34.1 464.1,33.1 464.7,32.1 465.3,31.3 465.9,30.7 466.6,30.3 467.2,30.0 467.8,29.9 468.4,30.0 469.0,30.2 469.6,30.5 470.2,30.8 470.8,31.3 471.5,31.7 472.1,32.2 472.7,32.7 473.3,33.1 473.9,33.5 474.5,33.8 475.1,34.0 475.8,34.2 476.4,34.4 477.0,34.4 477.6,34.4 478.2,34.4 478.8,34.3 479.4,34.2 480.0,34.1 480.7,34.0 481.3,33.9 481.9,33.7 482.5,33.6 483.1,33.5 483.7,33.4 484.3,33.3 485.0,33.3 485.6,33.2 486.2,33.2 486.8,33.2 487.4,33.2 488.0,33.2 488.6,33.2 489.2,33.2 489.9,33.3 490.5,33.3 491.1,33.3 491.7,33.3 492.3,33.4 492.9,33.4 493.5,33.4 494.2,33.4 494.8,33.4 495.4,33.4 496.0,33.4 496.6,33.4 497.2,33.4 497.8,33.4 498.4,33.4 499.1,33.4 499.7,33.4 500.3,33.4 500.9,33.4 501.5,33.4 502.1,33.4 502.7,33.4 503.4,33.4 504.0,33.4 504.6,33.4 505.2,33.4 505.8,33.4 506.4,33.4 507.0,33.4 507.6,33.4 508.3,33.4 508.9,33.4 509.5,33.4 510.1,33.4 510.7,33.4 511.3,33.4 511.9,33.4 512.6,33.4 513.2,33.4 513.8,33.4 514.4,33.4 515.0,33.4 515.6,33.4 516.2,33.4 516.8,33.4 517.5,33.4 518.1,33.4 518.7,33.4 519.3,33.4 519.9,33.4 520.5,33.4 521.1,33.4 521.8,33.4 522.4,33.4 523.0,33.4 523.6,33.4 524.2,33.4 524.8,33.4 525.4,33.4 526.0,33.4 526.7,33.4 527.3,33.4 527.9,33.4 528.5,33.4 529.1,33.4 529.7,33.4 530.3,33.4 531.0,33.4 531.6,33.4 532.2,33.4 532.8,33.4 533.4,33.4 534.0,33.4 534.6,33.4 535.2,33.4 535.9,33.4 536.5,33.4 537.1,33.4 537.7,33.4 538.3,33.4 538.9,33.4 539.5,33.4 540.2,33.4 540.8,33.4 541.4,33.4 542.0,33.4 542.6,33.4 543.2,33.4 543.8,33.4 544.4,33.4 545.1,33.4 545.7,33.4 546.3,33.4 546.9,33.4 547.5,33.4 548.1,33.4 548.7,33.4 549.4,33.4 550.0,33.4 550.6,33.4 551.2,33.4 551.8,33.4 552.4,33.4 553.0,33.4 553.6,33.4 554.3,33.4 554.9,33.4 555.5,33.4 556.1,33.4 556.7,33.4 557.3,33.4 557.9,33.4 558.6,33.4 559.2,33.4 559.8,33.4 560.4,33.4 561.0,33.4 561.6,33.4 562.2,33.4 562.8,33.4 563.5,33.4 564.1,33.4 564.7,33.4 565.3,33.4 565.9,33.4 566.5,33.4 567.1,33.4 567.8,33.4 568.4,33.4 569.0,33.4 569.6,33.4 570.2,33.4 570.8,33.4 571.4,33.4 572.1,33.4 572.7,33.4 573.3,33.4 573.9,33.4 574.5,33.4 575.1,33.4 575.7,33.4 576.3,33.4 577.0,33.4 577.6,33.4 578.2,33.4 578.8,33.4 579.4,33.4 580.0,33.4 580.6,33.4 581.3,33.4 581.9,33.4 582.5,33.4 583.1,33.4 583.7,33.4 584.3,33.4 584.9,33.4 585.5,33.4 586.2,33.4 586.8,33.4 587.4,33.4 588.0,33.4 588.6,33.4 589.2,33.4 589.8,33.4 590.5,33.4 591.1,33.4 591.7,33.4 592.3,33.4 592.9,33.4 593.5,33.4 594.1,33.4 594.7,33.4 595.4,33.4 596.0,33.4 596.6,33.4 597.2,33.4 597.8,33.4 598.4,33.4 599.0,33.4 599.7,33.4 600.3,33.4 600.9,33.4 601.5,33.4 602.1,33.4 602.7,33.4 603.3,33.4 603.9,33.4 604.6,33.4 605.2,33.4 605.8,33.4 606.4,33.4 607.0,33.4 607.6,33.4 608.2,33.4 608.9,33.4 609.5,33.4 610.1,33.4 610.7,33.4 611.3,33.4 611.9,33.4 612.5,33.4 613.1,33.4 613.8,33.4 614.4,33.4 615.0,33.4 615.6,33.4 616.2,33.4 616.8,33.4 617.4,33.4 618.1,33.4 618.7,33.4 619.3,33.4 619.9,33.4 620.5,33.4 621.1,33.4 621.7,33.4 622.3,33.4 623.0,33.4 623.6,33.4 624.2,33.4 624.8,33.4 625.4,33.4 626.0,33.4 626.6,33.4 627.3,33.4 627.9,33.4 628.5,33.4 629.1,33.4 629.7,33.4 630.3,33.4 630.9,33.4 631.5,33.4 632.2,33.4 632.8,33.4 633.4,33.4 634.0,33.4 L634.0,33.4 L377.0,33.4 Z" fill="#ff7f0e" fill-opacity="0.38" stroke="none"/>
<line x1="377" y1="33.4" x2="634" y2="33.4" stroke="#8c8c8c" stroke-width="1" />
<path d="M377.0,33.4 377.6,33.4 378.2,33.4 378.8,33.4 379.5,33.4 380.1,33.4 380.7,33.4 381.3,33.4 381.9,33.4 382.5,33.4 383.1,33.4 383.7,33.4 384.4,33.4 385.0,33.5 385.6,33.5 386.2,33.5 386.8,33.5 387.4,33.5 388.0,33.5 388.7,33.4 389.3,33.3 389.9,33.3 390.5,33.2 391.1,33.1 391.7,33.1 392.3,33.1 392.9,33.2 393.6,33.3 394.2,33.4 394.8,33.6 395.4,33.8 396.0,34.0 396.6,34.1 397.2,34.2 397.9,34.1 398.5,33.9 399.1,33.6 399.7,33.2 400.3,32.7 400.9,32.2 401.5,31.8 402.1,31.6 402.8,31.6 403.4,31.9 404.0,32.5 404.6,33.3 405.2,34.3 405.8,35.3 406.4,36.3 407.1,37.0 407.7,37.2 408.3,37.0 408.9,36.1 409.5,34.7 410.1,32.9 410.7,30.9 411.3,29.0 412.0,27.4 412.6,26.4 413.2,26.4 413.8,27.3 414.4,29.3 415.0,32.1 415.6,35.5 416.3,39.0 416.9,42.1 417.5,44.4 418.1,45.3 418.7,44.6 419.3,42.3 419.9,38.5 420.5,33.5 421.2,28.1 421.8,22.9 422.4,18.7 423.0,16.2 423.6,15.9 424.2,18.0 424.8,22.4 425.5,28.7 426.1,36.0 426.7,43.5 427.3,50.1 427.9,54.8 428.5,56.9 429.1,55.8 429.7,51.6 430.4,44.8 431.0,36.1 431.6,26.6 432.2,17.7 432.8,10.7 433.4,6.4 434.0,5.7 434.7,8.7 435.3,15.0 435.9,24.0 436.5,34.3 437.1,44.7 437.7,53.6 438.3,60.0 438.9,62.8 439.6,61.7 440.2,56.9 440.8,49.1 441.4,39.2 442.0,28.6 442.6,18.9 443.2,11.2 443.9,6.6 444.5,5.6 445.1,8.3 445.7,14.2 446.3,22.4 446.9,31.7 447.5,40.9 448.2,48.8 448.8,54.3 449.4,56.8 450.0,56.1 450.6,52.6 451.2,46.8 451.8,39.5 452.4,32.0 453.1,25.1 453.7,19.7 454.3,16.5 454.9,15.7 455.5,17.3 456.1,20.8 456.7,25.6 457.4,31.0 458.0,36.3 458.6,40.7 459.2,43.8 459.8,45.2 460.4,45.0 461.0,43.3 461.6,40.5 462.3,37.1 462.9,33.6 463.5,30.5 464.1,28.1 464.7,26.7 465.3,26.3 465.9,26.8 466.6,28.2 467.2,30.0 467.8,32.0 468.4,33.9 469.0,35.5 469.6,36.6 470.2,37.2 470.8,37.1 471.5,36.6 472.1,35.8 472.7,34.8 473.3,33.7 473.9,32.8 474.5,32.1 475.1,31.7 475.8,31.6 476.4,31.7 477.0,32.0 477.6,32.5 478.2,33.0 478.8,33.4 479.4,33.8 480.0,34.0 480.7,34.2 481.3,34.2 481.9,34.1 482.5,33.9 483.1,33.7 483.7,33.5 484.3,33.3 485.0,33.2 485.6,33.1 486.2,33.1 486.8,33.1 487.4,33.2 488.0,33.2 488.6,33.3 489.2,33.4 489.9,33.4 490.5,33.5 491.1,33.5 491.7,33.5 492.3,33.5 492.9,33.5 493.5,33.4 494.2,33.4 494.8,33.4 495.4,33.4 496.0,33.4 496.6,33.4 497.2,33.4 497.8,33.4 498.4,33.4 499.1,33.4 499.7,33.4 500.3,33.4 500.9,33.4 501.5,33.4 502.1,33.4 502.7,33.4 503.4,33.4 504.0,33.4 504.6,33.4 505.2,33.4 505.8,33.4 506.4,33.4 507.0,33.4 507.6,33.4 508.3,33.4 508.9,33.4 509.5,33.4 510.1,33.4 510.7,33.4 511.3,33.4 511.9,33.4 512.6,33.4 513.2,33.4 513.8,33.4 514.4,33.4 515.0,33.4 515.6,33.4 516.2,33.4 516.8,33.4 517.5,33.4 518.1,33.4 518.7,33.4 519.3,33.4 519.9,33.4 520.5,33.4 521.1,33.4 521.8,33.4 522.4,33.4 523.0,33.4 523.6,33.4 524.2,33.4 524.8,33.4 525.4,33.4 526.0,33.4 526.7,33.4 527.3,33.4 527.9,33.4 528.5,33.4 529.1,33.4 529.7,33.4 530.3,33.4 531.0,33.4 531.6,33.4 532.2,33.4 532.8,33.4 533.4,33.4 534.0,33.4 534.6,33.4 535.2,33.4 535.9,33.4 536.5,33.4 537.1,33.4 537.7,33.4 538.3,33.4 538.9,33.4 539.5,33.4 540.2,33.4 540.8,33.4 541.4,33.4 542.0,33.4 542.6,33.4 543.2,33.4 543.8,33.4 544.4,33.4 545.1,33.4 545.7,33.4 546.3,33.4 546.9,33.4 547.5,33.4 548.1,33.4 548.7,33.4 549.4,33.4 550.0,33.4 550.6,33.4 551.2,33.4 551.8,33.4 552.4,33.4 553.0,33.4 553.6,33.4 554.3,33.4 554.9,33.4 555.5,33.4 556.1,33.4 556.7,33.4 557.3,33.4 557.9,33.4 558.6,33.4 559.2,33.4 559.8,33.4 560.4,33.4 561.0,33.4 561.6,33.4 562.2,33.4 562.8,33.4 563.5,33.4 564.1,33.4 564.7,33.4 565.3,33.4 565.9,33.4 566.5,33.4 567.1,33.4 567.8,33.4 568.4,33.4 569.0,33.4 569.6,33.4 570.2,33.4 570.8,33.4 571.4,33.4 572.1,33.4 572.7,33.4 573.3,33.4 573.9,33.4 574.5,33.4 575.1,33.4 575.7,33.4 576.3,33.4 577.0,33.4 577.6,33.4 578.2,33.4 578.8,33.4 579.4,33.4 580.0,33.4 580.6,33.4 581.3,33.4 581.9,33.4 582.5,33.4 583.1,33.4 583.7,33.4 584.3,33.4 584.9,33.4 585.5,33.4 586.2,33.4 586.8,33.4 587.4,33.4 588.0,33.4 588.6,33.4 589.2,33.4 589.8,33.4 590.5,33.4 591.1,33.4 591.7,33.4 592.3,33.4 592.9,33.4 593.5,33.4 594.1,33.4 594.7,33.4 595.4,33.4 596.0,33.4 596.6,33.4 597.2,33.4 597.8,33.4 598.4,33.4 599.0,33.4 599.7,33.4 600.3,33.4 600.9,33.4 601.5,33.4 602.1,33.4 602.7,33.4 603.3,33.4 603.9,33.4 604.6,33.4 605.2,33.4 605.8,33.4 606.4,33.4 607.0,33.4 607.6,33.4 608.2,33.4 608.9,33.4 609.5,33.4 610.1,33.4 610.7,33.4 611.3,33.4 611.9,33.4 612.5,33.4 613.1,33.4 613.8,33.4 614.4,33.4 615.0,33.4 615.6,33.4 616.2,33.4 616.8,33.4 617.4,33.4 618.1,33.4 618.7,33.4 619.3,33.4 619.9,33.4 620.5,33.4 621.1,33.4 621.7,33.4 622.3,33.4 623.0,33.4 623.6,33.4 624.2,33.4 624.8,33.4 625.4,33.4" fill="none" stroke="#9467bd" stroke-width="1.75" stroke-linejoin="round"/>
<path d="M377.0,33.4 377.6,33.4 378.2,33.4 378.8,33.4 379.5,33.4 380.1,33.4 380.7,33.4 381.3,33.4 381.9,33.4 382.5,33.4 383.1,33.4 383.7,33.4 384.4,33.4 385.0,33.4 385.6,33.4 386.2,33.3 386.8,33.3 387.4,33.3 388.0,33.3 388.7,33.2 389.3,33.2 389.9,33.2 390.5,33.2 391.1,33.2 391.7,33.2 392.3,33.2 392.9,33.2 393.6,33.3 394.2,33.4 394.8,33.5 395.4,33.6 396.0,33.7 396.6,33.8 397.2,33.9 397.9,34.1 398.5,34.2 399.1,34.3 399.7,34.4 400.3,34.4 400.9,34.4 401.5,34.4 402.1,34.3 402.8,34.1 403.4,33.9 404.0,33.6 404.6,33.3 405.2,32.9 405.8,32.4 406.4,32.0 407.1,31.5 407.7,31.0 408.3,30.6 408.9,30.3 409.5,30.1 410.1,29.9 410.7,30.0 411.3,30.2 412.0,30.5 412.6,31.0 413.2,31.7 413.8,32.6 414.4,33.6 415.0,34.7 415.6,35.9 416.3,37.1 416.9,38.2 417.5,39.3 418.1,40.2 418.7,40.9 419.3,41.4 419.9,41.6 420.5,41.4 421.2,40.9 421.8,40.0 422.4,38.7 423.0,37.2 423.6,35.4 424.2,33.3 424.8,31.2 425.5,29.0 426.1,26.8 426.7,24.8 427.3,23.0 427.9,21.5 428.5,20.4 429.1,19.9 429.7,19.8 430.4,20.3 431.0,21.3 431.6,22.9 432.2,24.9 432.8,27.3 433.4,30.0 434.0,33.0 434.7,36.0 435.3,39.0 435.9,41.8 436.5,44.3 437.1,46.4 437.7,48.0 438.3,49.1 438.9,49.6 439.6,49.4 440.2,48.6 440.8,47.2 441.4,45.3 442.0,43.0 442.6,40.3 443.2,37.4 443.9,34.4 444.5,31.4 445.1,28.5 445.7,26.0 446.3,23.7 446.9,22.0 447.5,20.7 448.2,20.0 448.8,19.8 449.4,20.1 450.0,21.0 450.6,22.2 451.2,23.9 451.8,25.8 452.4,27.9 453.1,30.1 453.7,32.4 454.3,34.5 454.9,36.4 455.5,38.1 456.1,39.4 456.7,40.5 457.4,41.2 458.0,41.5 458.6,41.5 459.2,41.2 459.8,40.6 460.4,39.8 461.0,38.7 461.6,37.6 462.3,36.4 462.9,35.3 463.5,34.1 464.1,33.1 464.7,32.1 465.3,31.3 465.9,30.7 466.6,30.3 467.2,30.0 467.8,29.9 468.4,30.0 469.0,30.2 469.6,30.5 470.2,30.8 470.8,31.3 471.5,31.7 472.1,32.2 472.7,32.7 473.3,33.1 473.9,33.5 474.5,33.8 475.1,34.0 475.8,34.2 476.4,34.4 477.0,34.4 477.6,34.4 478.2,34.4 478.8,34.3 479.4,34.2 480.0,34.1 480.7,34.0 481.3,33.9 481.9,33.7 482.5,33.6 483.1,33.5 483.7,33.4 484.3,33.3 485.0,33.3 485.6,33.2 486.2,33.2 486.8,33.2 487.4,33.2 488.0,33.2 488.6,33.2 489.2,33.2 489.9,33.3 490.5,33.3 491.1,33.3 491.7,33.3 492.3,33.4 492.9,33.4 493.5,33.4 494.2,33.4 494.8,33.4 495.4,33.4 496.0,33.4 496.6,33.4 497.2,33.4 497.8,33.4 498.4,33.4 499.1,33.4 499.7,33.4 500.3,33.4 500.9,33.4 501.5,33.4 502.1,33.4 502.7,33.4 503.4,33.4 504.0,33.4 504.6,33.4 505.2,33.4 505.8,33.4 506.4,33.4 507.0,33.4 507.6,33.4 508.3,33.4 508.9,33.4 509.5,33.4 510.1,33.4 510.7,33.4 511.3,33.4 511.9,33.4 512.6,33.4 513.2,33.4 513.8,33.4 514.4,33.4 515.0,33.4 515.6,33.4 516.2,33.4 516.8,33.4 517.5,33.4 518.1,33.4 518.7,33.4 519.3,33.4 519.9,33.4 520.5,33.4 521.1,33.4 521.8,33.4 522.4,33.4 523.0,33.4 523.6,33.4 524.2,33.4 524.8,33.4 525.4,33.4 526.0,33.4 526.7,33.4 527.3,33.4 527.9,33.4 528.5,33.4 529.1,33.4 529.7,33.4 530.3,33.4 531.0,33.4 531.6,33.4 532.2,33.4 532.8,33.4 533.4,33.4 534.0,33.4 534.6,33.4 535.2,33.4 535.9,33.4 536.5,33.4 537.1,33.4 537.7,33.4 538.3,33.4 538.9,33.4 539.5,33.4 540.2,33.4 540.8,33.4 541.4,33.4 542.0,33.4 542.6,33.4 543.2,33.4 543.8,33.4 544.4,33.4 545.1,33.4 545.7,33.4 546.3,33.4 546.9,33.4 547.5,33.4 548.1,33.4 548.7,33.4 549.4,33.4 550.0,33.4 550.6,33.4 551.2,33.4 551.8,33.4 552.4,33.4 553.0,33.4 553.6,33.4 554.3,33.4 554.9,33.4 555.5,33.4 556.1,33.4 556.7,33.4 557.3,33.4 557.9,33.4 558.6,33.4 559.2,33.4 559.8,33.4 560.4,33.4 561.0,33.4 561.6,33.4 562.2,33.4 562.8,33.4 563.5,33.4 564.1,33.4 564.7,33.4 565.3,33.4 565.9,33.4 566.5,33.4 567.1,33.4 567.8,33.4 568.4,33.4 569.0,33.4 569.6,33.4 570.2,33.4 570.8,33.4 571.4,33.4 572.1,33.4 572.7,33.4 573.3,33.4 573.9,33.4 574.5,33.4 575.1,33.4 575.7,33.4 576.3,33.4 577.0,33.4 577.6,33.4 578.2,33.4 578.8,33.4 579.4,33.4 580.0,33.4 580.6,33.4 581.3,33.4 581.9,33.4 582.5,33.4 583.1,33.4 583.7,33.4 584.3,33.4 584.9,33.4 585.5,33.4 586.2,33.4 586.8,33.4 587.4,33.4 588.0,33.4 588.6,33.4 589.2,33.4 589.8,33.4 590.5,33.4 591.1,33.4 591.7,33.4 592.3,33.4 592.9,33.4 593.5,33.4 594.1,33.4 594.7,33.4 595.4,33.4 596.0,33.4 596.6,33.4 597.2,33.4 597.8,33.4 598.4,33.4 599.0,33.4 599.7,33.4 600.3,33.4 600.9,33.4 601.5,33.4 602.1,33.4 602.7,33.4 603.3,33.4 603.9,33.4 604.6,33.4 605.2,33.4 605.8,33.4 606.4,33.4 607.0,33.4 607.6,33.4 608.2,33.4 608.9,33.4 609.5,33.4 610.1,33.4 610.7,33.4 611.3,33.4 611.9,33.4 612.5,33.4 613.1,33.4 613.8,33.4 614.4,33.4 615.0,33.4 615.6,33.4 616.2,33.4 616.8,33.4 617.4,33.4 618.1,33.4 618.7,33.4 619.3,33.4 619.9,33.4 620.5,33.4 621.1,33.4 621.7,33.4 622.3,33.4 623.0,33.4 623.6,33.4 624.2,33.4 624.8,33.4 625.4,33.4" fill="none" stroke="#ff7f0e" stroke-width="2.1" stroke-linejoin="round"/>
<path d="M47.5,100.7 47.9,100.7 48.2,100.7 48.6,100.7 48.9,100.7 49.3,100.7 49.6,100.7 50.0,100.7 50.3,100.7 50.7,100.7 51.0,100.7 51.4,100.7 51.7,100.6 52.1,100.6 52.4,100.6 52.8,100.6 53.1,100.6 53.5,100.6 53.8,100.6 54.2,100.6 54.5,100.6 54.9,100.6 55.2,100.6 55.6,100.6 55.9,100.5 56.3,100.5 56.6,100.5 57.0,100.5 57.3,100.5 57.7,100.5 58.0,100.5 58.4,100.5 58.7,100.5 59.1,100.5 59.4,100.5 59.8,100.5 60.1,100.5 60.5,100.4 60.8,100.2 61.2,100.0 61.5,99.6 61.9,99.3 62.2,99.0 62.6,98.6 62.9,98.4 63.3,98.3 63.6,98.2 64.0,98.2 64.3,98.2 64.7,98.2 65.0,98.2 65.4,98.2 65.7,98.2 66.1,98.2 66.4,98.2 66.8,98.2 67.1,98.2 67.5,98.2 67.8,98.2 68.2,98.2 68.5,98.2 68.9,98.2 69.2,98.2 69.6,98.2 69.9,98.2 70.3,98.2 70.6,98.2 71.0,98.2 71.3,98.2 71.7,98.2 72.0,98.1 72.4,98.2 72.7,98.2 73.1,98.3 73.4,98.2 73.8,97.9 74.1,98.3 74.5,98.6 74.8,98.7 75.0,99.0 76.1,99.5 77.2,99.7 78.3,99.6 79.4,99.1 80.5,98.3 81.6,97.8 82.7,97.5 83.8,98.4 84.9,98.8 86.0,98.6 87.1,97.3 88.2,95.8 89.3,95.6 90.4,96.8 91.5,99.5 92.6,102.3 93.7,105.1 94.8,107.4 95.9,108.3 97.0,108.3 98.1,106.2 99.2,103.8 100.3,100.0 101.4,96.5 102.5,93.1 103.6,91.6 104.7,91.2 105.8,91.3 106.9,93.0 108.0,95.3 109.1,97.6 110.2,101.3 111.3,104.8 112.4,107.5 113.5,110.8 114.6,112.7 115.7,114.8 116.8,115.3 117.9,116.0 119.0,113.9 120.1,110.2 121.2,105.7 122.3,102.4 123.4,99.9 124.5,97.9 125.6,100.0 126.7,102.7 127.8,104.9 128.9,105.6 130.0,106.0 131.1,105.5 132.2,106.2 133.3,108.2 134.4,111.2 135.5,113.1 136.6,113.2 137.7,113.2 138.8,111.8 139.9,111.1 141.0,109.5 142.1,108.2 143.2,107.4 144.3,107.3 145.4,107.2 146.5,107.0 147.6,106.6 148.7,106.4 149.8,106.4 150.9,106.3 152.0,106.7 153.1,107.0 154.2,107.1 155.3,108.9 156.4,109.9 157.5,109.8 158.6,109.8 159.7,109.6 160.8,109.3 161.9,108.8 163.0,107.8 164.1,107.5 165.2,106.9 166.3,107.1 167.4,106.9 168.5,107.2 169.6,107.0 170.7,107.4 171.8,107.2 172.9,107.8 174.0,106.6 175.1,107.0 176.2,107.9 177.3,109.1 178.4,109.2 179.5,110.0 180.6,110.1 181.7,110.5 182.8,109.8 183.9,109.7 185.0,108.9 186.1,108.1 187.2,108.1 188.3,107.6 189.4,107.4 190.5,106.7 191.6,106.4 192.7,106.7 193.8,106.8 194.9,107.2 196.0,107.6 197.1,108.7 198.2,109.1 199.3,110.1 200.4,110.3 201.5,110.4 202.6,109.7 203.7,110.2 204.8,109.8 205.9,109.5 207.0,109.1 208.1,108.2 209.2,108.1 210.3,107.4 211.4,108.1 212.5,107.2 213.6,107.2 214.7,107.6 215.8,108.3 216.9,108.7 218.0,110.1 219.1,109.8 220.2,109.7 221.3,110.5 222.4,110.0 223.5,109.6 224.6,109.9 225.7,109.5 226.8,108.8 227.9,108.9 229.0,108.1 230.1,108.3 231.2,107.7 232.3,108.0 233.4,107.6 234.5,107.3 235.6,108.6 236.7,108.1 237.8,108.5 238.9,108.7 240.0,109.2 241.1,109.7 242.2,110.0 243.3,110.3 244.4,110.7 245.5,110.1 246.6,109.6 247.7,109.3 248.8,109.1 249.9,108.3 251.0,108.6 252.1,107.8 253.2,107.5 254.3,107.5 255.4,107.1 256.5,107.5 257.6,108.2 258.7,108.6 259.8,108.8 260.9,109.9 262.0,109.3 263.1,109.8 264.2,109.9 265.3,109.1 266.4,110.4 267.5,109.6 268.6,108.9 269.7,109.4 270.8,108.6 271.9,108.2 273.0,107.6 274.1,107.6 275.2,107.0 276.3,107.9 277.4,108.0 278.5,108.7 279.6,109.3 280.7,108.9 281.8,108.1 282.9,107.2" stroke="#d62728" stroke-width="0.8" fill="none" stroke-linejoin="round"/>
<path d="M47.5 100.7h0M47.9 100.7h0M48.2 100.7h0M48.6 100.7h0M48.9 100.7h0M49.3 100.7h0M49.6 100.7h0M50.0 100.7h0M50.3 100.7h0M50.7 100.7h0M51.0 100.7h0M51.4 100.7h0M51.7 100.6h0M52.1 100.6h0M52.4 100.6h0M52.8 100.6h0M53.1 100.6h0M53.5 100.6h0M53.8 100.6h0M54.2 100.6h0M54.5 100.6h0M54.9 100.6h0M55.2 100.6h0M55.6 100.6h0M55.9 100.5h0M56.3 100.5h0M56.6 100.5h0M57.0 100.5h0M57.3 100.5h0M57.7 100.5h0M58.0 100.5h0M58.4 100.5h0M58.7 100.5h0M59.1 100.5h0M59.4 100.5h0M59.8 100.5h0M60.1 100.5h0M60.5 100.4h0M60.8 100.2h0M61.2 100.0h0M61.5 99.6h0M61.9 99.3h0M62.2 99.0h0M62.6 98.6h0M62.9 98.4h0M63.3 98.3h0M63.6 98.2h0M64.0 98.2h0M64.3 98.2h0M64.7 98.2h0M65.0 98.2h0M65.4 98.2h0M65.7 98.2h0M66.1 98.2h0M66.4 98.2h0M66.8 98.2h0M67.1 98.2h0M67.5 98.2h0M67.8 98.2h0M68.2 98.2h0M68.5 98.2h0M68.9 98.2h0M69.2 98.2h0M69.6 98.2h0M69.9 98.2h0M70.3 98.2h0M70.6 98.2h0M71.0 98.2h0M71.3 98.2h0M71.7 98.2h0M72.0 98.1h0M72.4 98.2h0M72.7 98.2h0M73.1 98.3h0M73.4 98.2h0M73.8 97.9h0M74.1 98.3h0M74.5 98.6h0M74.8 98.7h0M75.0 99.0h0M76.1 99.5h0M77.2 99.7h0M78.3 99.6h0M79.4 99.1h0M80.5 98.3h0M81.6 97.8h0M82.7 97.5h0M83.8 98.4h0M84.9 98.8h0M86.0 98.6h0M87.1 97.3h0M88.2 95.8h0M89.3 95.6h0M90.4 96.8h0M91.5 99.5h0M92.6 102.3h0M93.7 105.1h0M94.8 107.4h0M95.9 108.3h0M97.0 108.3h0M98.1 106.2h0M99.2 103.8h0M100.3 100.0h0M101.4 96.5h0M102.5 93.1h0M103.6 91.6h0M104.7 91.2h0M105.8 91.3h0M106.9 93.0h0M108.0 95.3h0M109.1 97.6h0M110.2 101.3h0M111.3 104.8h0M112.4 107.5h0M113.5 110.8h0M114.6 112.7h0M115.7 114.8h0M116.8 115.3h0M117.9 116.0h0M119.0 113.9h0M120.1 110.2h0M121.2 105.7h0M122.3 102.4h0M123.4 99.9h0M124.5 97.9h0M125.6 100.0h0M126.7 102.7h0M127.8 104.9h0M128.9 105.6h0M130.0 106.0h0M131.1 105.5h0M132.2 106.2h0M133.3 108.2h0M134.4 111.2h0M135.5 113.1h0M136.6 113.2h0M137.7 113.2h0M138.8 111.8h0M139.9 111.1h0M141.0 109.5h0M142.1 108.2h0M143.2 107.4h0M144.3 107.3h0M145.4 107.2h0M146.5 107.0h0M147.6 106.6h0M148.7 106.4h0M149.8 106.4h0M150.9 106.3h0M152.0 106.7h0M153.1 107.0h0M154.2 107.1h0M155.3 108.9h0M156.4 109.9h0M157.5 109.8h0M158.6 109.8h0M159.7 109.6h0M160.8 109.3h0M161.9 108.8h0M163.0 107.8h0M164.1 107.5h0M165.2 106.9h0M166.3 107.1h0M167.4 106.9h0M168.5 107.2h0M169.6 107.0h0M170.7 107.4h0M171.8 107.2h0M172.9 107.8h0M174.0 106.6h0M175.1 107.0h0M176.2 107.9h0M177.3 109.1h0M178.4 109.2h0M179.5 110.0h0M180.6 110.1h0M181.7 110.5h0M182.8 109.8h0M183.9 109.7h0M185.0 108.9h0M186.1 108.1h0M187.2 108.1h0M188.3 107.6h0M189.4 107.4h0M190.5 106.7h0M191.6 106.4h0M192.7 106.7h0M193.8 106.8h0M194.9 107.2h0M196.0 107.6h0M197.1 108.7h0M198.2 109.1h0M199.3 110.1h0M200.4 110.3h0M201.5 110.4h0M202.6 109.7h0M203.7 110.2h0M204.8 109.8h0M205.9 109.5h0M207.0 109.1h0M208.1 108.2h0M209.2 108.1h0M210.3 107.4h0M211.4 108.1h0M212.5 107.2h0M213.6 107.2h0M214.7 107.6h0M215.8 108.3h0M216.9 108.7h0M218.0 110.1h0M219.1 109.8h0M220.2 109.7h0M221.3 110.5h0M222.4 110.0h0M223.5 109.6h0M224.6 109.9h0M225.7 109.5h0M226.8 108.8h0M227.9 108.9h0M229.0 108.1h0M230.1 108.3h0M231.2 107.7h0M232.3 108.0h0M233.4 107.6h0M234.5 107.3h0M235.6 108.6h0M236.7 108.1h0M237.8 108.5h0M238.9 108.7h0M240.0 109.2h0M241.1 109.7h0M242.2 110.0h0M243.3 110.3h0M244.4 110.7h0M245.5 110.1h0M246.6 109.6h0M247.7 109.3h0M248.8 109.1h0M249.9 108.3h0M251.0 108.6h0M252.1 107.8h0M253.2 107.5h0M254.3 107.5h0M255.4 107.1h0M256.5 107.5h0M257.6 108.2h0M258.7 108.6h0M259.8 108.8h0M260.9 109.9h0M262.0 109.3h0M263.1 109.8h0M264.2 109.9h0M265.3 109.1h0M266.4 110.4h0M267.5 109.6h0M268.6 108.9h0M269.7 109.4h0M270.8 108.6h0M271.9 108.2h0M273.0 107.6h0M274.1 107.6h0M275.2 107.0h0M276.3 107.9h0M277.4 108.0h0M278.5 108.7h0M279.6 109.3h0M280.7 108.9h0M281.8 108.1h0M282.9 107.2h0" stroke="#ff7f0e" stroke-width="3.80" stroke-linecap="round" fill="none"/>
<path d="M133.3,110.1 134.4,113.1 135.5,115.0 136.6,115.1 137.7,115.1 138.8,113.7 139.9,113.0 141.0,111.4 142.1,110.1 143.2,109.3 144.3,109.2 145.4,109.1 146.5,108.9 147.6,108.5 148.7,108.3 149.8,108.3 150.9,108.2 152.0,108.6 153.1,108.9 154.2,109.0 155.3,110.8 156.4,111.8 157.5,111.7 158.6,111.7 159.7,111.5 160.8,111.2 161.9,110.7 163.0,109.7 164.1,109.4 165.2,108.8 166.3,109.0 167.4,108.8 168.5,109.1 169.6,108.9 170.7,109.3 171.8,109.1 172.9,109.7 174.0,108.5 175.1,108.9 176.2,109.8 177.3,111.0 178.4,111.1 179.5,111.9 180.6,112.0 181.7,112.4 182.8,111.7 183.9,111.6 185.0,110.8 186.1,110.0 187.2,110.0 188.3,109.5 189.4,109.3 190.5,108.6 191.6,108.3 192.7,108.6 193.8,108.7 194.9,109.1 196.0,109.5 197.1,110.6 198.2,111.0 199.3,112.0 200.4,112.2 201.5,112.3 202.6,111.6 203.7,112.1 204.8,111.7 205.9,111.4 207.0,111.0 208.1,110.1 209.2,110.0 210.3,109.3 211.4,110.0 212.5,109.1 213.6,109.1 214.7,109.5 215.8,110.2 216.9,110.6 218.0,112.0 219.1,111.7 220.2,111.6 221.3,112.4 222.4,111.9 223.5,111.5 224.6,111.8 225.7,111.4 226.8,110.7 227.9,110.8 229.0,110.0 230.1,110.2 231.2,109.6 232.3,109.9 233.4,109.5 234.5,109.2 235.6,110.5 236.7,110.0 237.8,110.4 238.9,110.6 240.0,111.1 241.1,111.6 242.2,111.9 243.3,112.2 244.4,112.6 245.5,112.0 246.6,111.5 247.7,111.2 248.8,111.0 249.9,110.2 251.0,110.5 252.1,109.7 253.2,109.4 254.3,109.4 255.4,109.0 256.5,109.4 257.6,110.1 258.7,110.5 259.8,110.7 260.9,111.8 262.0,111.2 263.1,111.7 264.2,111.8 265.3,111.0 266.4,112.3 267.5,111.5 268.6,110.8 269.7,111.3 270.8,110.5 271.9,110.1 273.0,109.5 274.1,109.5 275.2,108.9 276.3,109.8 277.4,109.9 278.5,110.6 279.6,111.2 280.7,110.8 281.8,110.0 282.9,109.1" stroke="#d62728" stroke-width="0.7" fill="none" stroke-linejoin="round"/>
<path d="M47.5,100.9 47.9,100.9 48.2,100.9 48.6,100.9 48.9,100.9 49.3,100.9 49.6,100.9 50.0,100.9 50.3,100.9 50.7,100.9 51.0,100.9 51.4,100.9 51.7,100.9 52.1,100.9 52.4,100.9 52.8,100.9 53.1,100.9 53.5,100.9 53.8,100.9 54.2,100.9 54.5,100.9 54.9,100.9 55.2,100.9 55.6,100.9 55.9,100.9 56.3,100.9 56.6,100.9 57.0,100.9 57.3,100.9 57.7,100.9 58.0,100.9 58.4,100.9 58.7,100.9 59.1,100.9 59.4,100.9 59.8,100.9 60.1,100.9 60.5,100.9 60.8,100.9 61.2,100.9 61.5,100.9 61.9,100.9 62.2,100.9 62.6,100.9 62.9,100.9 63.3,100.9 63.6,100.9 64.0,100.9 64.3,100.9 64.7,100.9 65.0,100.9 65.4,100.9 65.7,100.9 66.1,100.9 66.4,100.9 66.8,101.0 67.1,101.2 67.5,101.3 67.8,101.5 68.2,101.8 68.5,102.0 68.9,102.3 69.2,102.5 69.6,102.7 69.9,102.8 70.3,102.9 70.6,103.0 71.0,103.0 71.3,102.8 71.7,102.5 72.0,101.9 72.4,101.6 72.7,100.9 73.1,100.7 73.4,100.2 73.8,100.9 74.1,99.5 74.5,100.0 74.8,100.0 75.0,98.7 76.2,98.3 77.5,98.7 78.8,102.6 80.0,106.9 81.2,107.9 82.5,105.3 83.8,101.8 85.0,95.9 86.2,91.1 87.5,92.3 88.8,98.8 90.0,108.3 91.2,115.9 92.5,118.8 93.8,109.8 95.0,98.0 96.2,86.3 97.5,84.0 98.8,94.7 100.0,109.7 101.2,127.8 102.5,134.5 103.8,129.1 105.0,117.2 106.2,101.8 107.5,93.8 108.8,94.7 110.0,111.1 111.2,132.7 112.5,144.8 113.8,143.5 115.0,137.7 116.2,130.6 117.5,125.8 118.8,125.7 120.0,134.2 121.2,146.0 122.5,151.2 123.8,148.4 125.0,135.3 126.2,128.3 127.5,131.4 128.8,141.8 130.0,155.2 131.2,163.0 132.5,161.2 133.8,150.8 135.0,137.6 136.2,131.8 137.5,132.7 138.8,145.8 140.0,160.3 141.2,168.5 142.5,167.2 143.8,155.9 145.0,143.7 146.2,135.2 147.5,138.6 148.8,146.4 150.0,156.5 151.2,163.7 152.5,166.8 153.8,161.8 155.0,153.4 156.2,149.3 157.5,145.6 158.8,149.2 160.0,153.9 161.2,160.0 162.5,161.6 163.8,157.8 165.0,151.0 166.2,147.3 167.5,148.1 168.8,155.0 170.0,159.3 171.2,159.7 172.5,155.3 173.8,151.5 175.0,146.7 176.2,146.1 177.5,150.2 178.8,153.7 180.0,157.1 181.2,159.7 182.5,158.2 183.8,152.4 185.0,146.9 186.2,146.5 187.5,146.4 188.8,151.7 190.0,154.6 191.2,158.2 192.5,157.3 193.8,153.4 195.0,149.3 196.2,147.3 197.5,146.5 198.8,148.6 200.0,153.3 201.2,156.3 202.5,156.0 203.8,154.1 205.0,152.3 206.2,150.4 207.5,149.4 208.8,148.8 210.0,151.0 211.2,153.1 212.5,153.9 213.8,153.7 215.0,152.6 216.2,150.4 217.5,149.9 218.8,149.7 220.0,152.1 221.2,151.9 222.5,152.7 223.8,153.2 225.0,152.0 226.2,150.9 227.5,150.6 228.8,150.4 230.0,151.6 231.2,151.8 232.5,151.3 233.8,152.9 235.0,153.0 236.2,151.0 237.5,150.2 238.8,147.9 240.0,148.7 241.2,149.7 242.5,152.1 243.8,155.1 245.0,155.9 246.2,152.9 247.5,149.4 248.8,146.1 250.0,144.3 251.2,147.2 252.5,153.9 253.8,157.4 255.0,158.2 256.2,156.5 257.5,151.0 258.8,147.3 260.0,143.6 261.2,144.4 262.5,149.0 263.8,155.2 265.0,159.9 266.2,159.2 267.5,155.1 268.8,149.7 270.0,145.5 271.2,142.4 272.5,146.9 273.8,149.7 275.0,155.7 276.2,157.2 277.5,154.4" stroke="#1f77b4" stroke-width="0.8" fill="none" stroke-linejoin="round"/>
<path d="M47.5 100.9h0M47.9 100.9h0M48.2 100.9h0M48.6 100.9h0M48.9 100.9h0M49.3 100.9h0M49.6 100.9h0M50.0 100.9h0M50.3 100.9h0M50.7 100.9h0M51.0 100.9h0M51.4 100.9h0M51.7 100.9h0M52.1 100.9h0M52.4 100.9h0M52.8 100.9h0M53.1 100.9h0M53.5 100.9h0M53.8 100.9h0M54.2 100.9h0M54.5 100.9h0M54.9 100.9h0M55.2 100.9h0M55.6 100.9h0M55.9 100.9h0M56.3 100.9h0M56.6 100.9h0M57.0 100.9h0M57.3 100.9h0M57.7 100.9h0M58.0 100.9h0M58.4 100.9h0M58.7 100.9h0M59.1 100.9h0M59.4 100.9h0M59.8 100.9h0M60.1 100.9h0M60.5 100.9h0M60.8 100.9h0M61.2 100.9h0M61.5 100.9h0M61.9 100.9h0M62.2 100.9h0M62.6 100.9h0M62.9 100.9h0M63.3 100.9h0M63.6 100.9h0M64.0 100.9h0M64.3 100.9h0M64.7 100.9h0M65.0 100.9h0M65.4 100.9h0M65.7 100.9h0M66.1 100.9h0M66.4 100.9h0M66.8 101.0h0M67.1 101.2h0M67.5 101.3h0M67.8 101.5h0M68.2 101.8h0M68.5 102.0h0M68.9 102.3h0M69.2 102.5h0M69.6 102.7h0M69.9 102.8h0M70.3 102.9h0M70.6 103.0h0M71.0 103.0h0M71.3 102.8h0M71.7 102.5h0M72.0 101.9h0M72.4 101.6h0M72.7 100.9h0M73.1 100.7h0M73.4 100.2h0M73.8 100.9h0M74.1 99.5h0M74.5 100.0h0M74.8 100.0h0M75.0 98.7h0M76.2 98.3h0M77.5 98.7h0M78.8 102.6h0M80.0 106.9h0M81.2 107.9h0M82.5 105.3h0M83.8 101.8h0M85.0 95.9h0M86.2 91.1h0M87.5 92.3h0M88.8 98.8h0M90.0 108.3h0M91.2 115.9h0M92.5 118.8h0M93.8 109.8h0M95.0 98.0h0M96.2 86.3h0M97.5 84.0h0M98.8 94.7h0M100.0 109.7h0M101.2 127.8h0M102.5 134.5h0M103.8 129.1h0M105.0 117.2h0M106.2 101.8h0M107.5 93.8h0M108.8 94.7h0M110.0 111.1h0M111.2 132.7h0M112.5 144.8h0M113.8 143.5h0M115.0 137.7h0M116.2 130.6h0M117.5 125.8h0M118.8 125.7h0M120.0 134.2h0M121.2 146.0h0M122.5 151.2h0M123.8 148.4h0M125.0 135.3h0M126.2 128.3h0M127.5 131.4h0M128.8 141.8h0M130.0 155.2h0M131.2 163.0h0M132.5 161.2h0M133.8 150.8h0M135.0 137.6h0M136.2 131.8h0M137.5 132.7h0M138.8 145.8h0M140.0 160.3h0M141.2 168.5h0M142.5 167.2h0M143.8 155.9h0M145.0 143.7h0M146.2 135.2h0M147.5 138.6h0M148.8 146.4h0M150.0 156.5h0M151.2 163.7h0M152.5 166.8h0M153.8 161.8h0M155.0 153.4h0M156.2 149.3h0M157.5 145.6h0M158.8 149.2h0M160.0 153.9h0M161.2 160.0h0M162.5 161.6h0M163.8 157.8h0M165.0 151.0h0M166.2 147.3h0M167.5 148.1h0M168.8 155.0h0M170.0 159.3h0M171.2 159.7h0M172.5 155.3h0M173.8 151.5h0M175.0 146.7h0M176.2 146.1h0M177.5 150.2h0M178.8 153.7h0M180.0 157.1h0M181.2 159.7h0M182.5 158.2h0M183.8 152.4h0M185.0 146.9h0M186.2 146.5h0M187.5 146.4h0M188.8 151.7h0M190.0 154.6h0M191.2 158.2h0M192.5 157.3h0M193.8 153.4h0M195.0 149.3h0M196.2 147.3h0M197.5 146.5h0M198.8 148.6h0M200.0 153.3h0M201.2 156.3h0M202.5 156.0h0M203.8 154.1h0M205.0 152.3h0M206.2 150.4h0M207.5 149.4h0M208.8 148.8h0M210.0 151.0h0M211.2 153.1h0M212.5 153.9h0M213.8 153.7h0M215.0 152.6h0M216.2 150.4h0M217.5 149.9h0M218.8 149.7h0M220.0 152.1h0M221.2 151.9h0M222.5 152.7h0M223.8 153.2h0M225.0 152.0h0M226.2 150.9h0M227.5 150.6h0M228.8 150.4h0M230.0 151.6h0M231.2 151.8h0M232.5 151.3h0M233.8 152.9h0M235.0 153.0h0M236.2 151.0h0M237.5 150.2h0M238.8 147.9h0M240.0 148.7h0M241.2 149.7h0M242.5 152.1h0M243.8 155.1h0M245.0 155.9h0M246.2 152.9h0M247.5 149.4h0M248.8 146.1h0M250.0 144.3h0M251.2 147.2h0M252.5 153.9h0M253.8 157.4h0M255.0 158.2h0M256.2 156.5h0M257.5 151.0h0M258.8 147.3h0M260.0 143.6h0M261.2 144.4h0M262.5 149.0h0M263.8 155.2h0M265.0 159.9h0M266.2 159.2h0M267.5 155.1h0M268.8 149.7h0M270.0 145.5h0M271.2 142.4h0M272.5 146.9h0M273.8 149.7h0M275.0 155.7h0M276.2 157.2h0M277.5 154.4h0" stroke="#17becf" stroke-width="3.80" stroke-linecap="round" fill="none"/>
<path d="M45.8 100.9a1.7 1.7 0 1 0 3.4 0a1.7 1.7 0 1 0 -3.4 0M46.1 100.9a1.7 1.7 0 1 0 3.4 0a1.7 1.7 0 1 0 -3.4 0M46.5 100.9a1.7 1.7 0 1 0 3.4 0a1.7 1.7 0 1 0 -3.4 0M46.9 100.9a1.7 1.7 0 1 0 3.4 0a1.7 1.7 0 1 0 -3.4 0M47.2 100.9a1.7 1.7 0 1 0 3.4 0a1.7 1.7 0 1 0 -3.4 0M47.6 100.9a1.7 1.7 0 1 0 3.4 0a1.7 1.7 0 1 0 -3.4 0M47.9 100.9a1.7 1.7 0 1 0 3.4 0a1.7 1.7 0 1 0 -3.4 0M48.3 100.9a1.7 1.7 0 1 0 3.4 0a1.7 1.7 0 1 0 -3.4 0M48.6 100.9a1.7 1.7 0 1 0 3.4 0a1.7 1.7 0 1 0 -3.4 0M49.0 100.9a1.7 1.7 0 1 0 3.4 0a1.7 1.7 0 1 0 -3.4 0M49.3 100.9a1.7 1.7 0 1 0 3.4 0a1.7 1.7 0 1 0 -3.4 0M49.7 100.9a1.7 1.7 0 1 0 3.4 0a1.7 1.7 0 1 0 -3.4 0M50.0 100.9a1.7 1.7 0 1 0 3.4 0a1.7 1.7 0 1 0 -3.4 0M50.4 100.9a1.7 1.7 0 1 0 3.4 0a1.7 1.7 0 1 0 -3.4 0M50.7 100.9a1.7 1.7 0 1 0 3.4 0a1.7 1.7 0 1 0 -3.4 0M51.1 100.9a1.7 1.7 0 1 0 3.4 0a1.7 1.7 0 1 0 -3.4 0M51.4 100.9a1.7 1.7 0 1 0 3.4 0a1.7 1.7 0 1 0 -3.4 0M51.8 100.9a1.7 1.7 0 1 0 3.4 0a1.7 1.7 0 1 0 -3.4 0M52.1 100.9a1.7 1.7 0 1 0 3.4 0a1.7 1.7 0 1 0 -3.4 0M52.5 100.9a1.7 1.7 0 1 0 3.4 0a1.7 1.7 0 1 0 -3.4 0M52.8 100.9a1.7 1.7 0 1 0 3.4 0a1.7 1.7 0 1 0 -3.4 0M53.2 100.9a1.7 1.7 0 1 0 3.4 0a1.7 1.7 0 1 0 -3.4 0M53.5 100.9a1.7 1.7 0 1 0 3.4 0a1.7 1.7 0 1 0 -3.4 0M53.9 100.9a1.7 1.7 0 1 0 3.4 0a1.7 1.7 0 1 0 -3.4 0M54.2 100.9a1.7 1.7 0 1 0 3.4 0a1.7 1.7 0 1 0 -3.4 0M54.6 100.9a1.7 1.7 0 1 0 3.4 0a1.7 1.7 0 1 0 -3.4 0M54.9 100.9a1.7 1.7 0 1 0 3.4 0a1.7 1.7 0 1 0 -3.4 0M55.3 100.9a1.7 1.7 0 1 0 3.4 0a1.7 1.7 0 1 0 -3.4 0M55.6 100.9a1.7 1.7 0 1 0 3.4 0a1.7 1.7 0 1 0 -3.4 0M56.0 100.9a1.7 1.7 0 1 0 3.4 0a1.7 1.7 0 1 0 -3.4 0M56.3 100.9a1.7 1.7 0 1 0 3.4 0a1.7 1.7 0 1 0 -3.4 0M56.7 100.9a1.7 1.7 0 1 0 3.4 0a1.7 1.7 0 1 0 -3.4 0M57.0 100.9a1.7 1.7 0 1 0 3.4 0a1.7 1.7 0 1 0 -3.4 0M57.4 100.9a1.7 1.7 0 1 0 3.4 0a1.7 1.7 0 1 0 -3.4 0M57.7 100.9a1.7 1.7 0 1 0 3.4 0a1.7 1.7 0 1 0 -3.4 0M58.1 100.9a1.7 1.7 0 1 0 3.4 0a1.7 1.7 0 1 0 -3.4 0M58.4 100.9a1.7 1.7 0 1 0 3.4 0a1.7 1.7 0 1 0 -3.4 0M58.8 100.9a1.7 1.7 0 1 0 3.4 0a1.7 1.7 0 1 0 -3.4 0M59.1 100.9a1.7 1.7 0 1 0 3.4 0a1.7 1.7 0 1 0 -3.4 0M59.5 100.9a1.7 1.7 0 1 0 3.4 0a1.7 1.7 0 1 0 -3.4 0M59.8 100.9a1.7 1.7 0 1 0 3.4 0a1.7 1.7 0 1 0 -3.4 0M60.2 100.9a1.7 1.7 0 1 0 3.4 0a1.7 1.7 0 1 0 -3.4 0M60.5 100.9a1.7 1.7 0 1 0 3.4 0a1.7 1.7 0 1 0 -3.4 0M60.9 100.9a1.7 1.7 0 1 0 3.4 0a1.7 1.7 0 1 0 -3.4 0M61.2 100.9a1.7 1.7 0 1 0 3.4 0a1.7 1.7 0 1 0 -3.4 0M61.6 100.9a1.7 1.7 0 1 0 3.4 0a1.7 1.7 0 1 0 -3.4 0M61.9 100.9a1.7 1.7 0 1 0 3.4 0a1.7 1.7 0 1 0 -3.4 0M62.3 100.9a1.7 1.7 0 1 0 3.4 0a1.7 1.7 0 1 0 -3.4 0M62.6 100.9a1.7 1.7 0 1 0 3.4 0a1.7 1.7 0 1 0 -3.4 0M63.0 100.9a1.7 1.7 0 1 0 3.4 0a1.7 1.7 0 1 0 -3.4 0M63.3 100.9a1.7 1.7 0 1 0 3.4 0a1.7 1.7 0 1 0 -3.4 0M63.7 100.9a1.7 1.7 0 1 0 3.4 0a1.7 1.7 0 1 0 -3.4 0M64.0 100.9a1.7 1.7 0 1 0 3.4 0a1.7 1.7 0 1 0 -3.4 0M64.4 100.9a1.7 1.7 0 1 0 3.4 0a1.7 1.7 0 1 0 -3.4 0M64.7 100.9a1.7 1.7 0 1 0 3.4 0a1.7 1.7 0 1 0 -3.4 0M65.1 101.0a1.7 1.7 0 1 0 3.4 0a1.7 1.7 0 1 0 -3.4 0M65.4 101.2a1.7 1.7 0 1 0 3.4 0a1.7 1.7 0 1 0 -3.4 0M65.8 101.3a1.7 1.7 0 1 0 3.4 0a1.7 1.7 0 1 0 -3.4 0M66.1 101.5a1.7 1.7 0 1 0 3.4 0a1.7 1.7 0 1 0 -3.4 0M66.5 101.8a1.7 1.7 0 1 0 3.4 0a1.7 1.7 0 1 0 -3.4 0M66.8 102.0a1.7 1.7 0 1 0 3.4 0a1.7 1.7 0 1 0 -3.4 0M67.2 102.3a1.7 1.7 0 1 0 3.4 0a1.7 1.7 0 1 0 -3.4 0M67.5 102.5a1.7 1.7 0 1 0 3.4 0a1.7 1.7 0 1 0 -3.4 0M67.9 102.7a1.7 1.7 0 1 0 3.4 0a1.7 1.7 0 1 0 -3.4 0M68.2 102.8a1.7 1.7 0 1 0 3.4 0a1.7 1.7 0 1 0 -3.4 0M68.6 102.9a1.7 1.7 0 1 0 3.4 0a1.7 1.7 0 1 0 -3.4 0M68.9 103.0a1.7 1.7 0 1 0 3.4 0a1.7 1.7 0 1 0 -3.4 0M69.3 103.0a1.7 1.7 0 1 0 3.4 0a1.7 1.7 0 1 0 -3.4 0M69.6 102.8a1.7 1.7 0 1 0 3.4 0a1.7 1.7 0 1 0 -3.4 0M70.0 102.6a1.7 1.7 0 1 0 3.4 0a1.7 1.7 0 1 0 -3.4 0M70.3 101.8a1.7 1.7 0 1 0 3.4 0a1.7 1.7 0 1 0 -3.4 0M70.7 101.6a1.7 1.7 0 1 0 3.4 0a1.7 1.7 0 1 0 -3.4 0M71.0 101.0a1.7 1.7 0 1 0 3.4 0a1.7 1.7 0 1 0 -3.4 0M71.4 101.2a1.7 1.7 0 1 0 3.4 0a1.7 1.7 0 1 0 -3.4 0M71.7 100.7a1.7 1.7 0 1 0 3.4 0a1.7 1.7 0 1 0 -3.4 0M72.1 100.7a1.7 1.7 0 1 0 3.4 0a1.7 1.7 0 1 0 -3.4 0M72.4 100.6a1.7 1.7 0 1 0 3.4 0a1.7 1.7 0 1 0 -3.4 0M72.8 100.2a1.7 1.7 0 1 0 3.4 0a1.7 1.7 0 1 0 -3.4 0M73.1 98.9a1.7 1.7 0 1 0 3.4 0a1.7 1.7 0 1 0 -3.4 0M73.3 100.3a1.7 1.7 0 1 0 3.4 0a1.7 1.7 0 1 0 -3.4 0M74.5 97.3a1.7 1.7 0 1 0 3.4 0a1.7 1.7 0 1 0 -3.4 0M75.8 99.0a1.7 1.7 0 1 0 3.4 0a1.7 1.7 0 1 0 -3.4 0M77.0 102.7a1.7 1.7 0 1 0 3.4 0a1.7 1.7 0 1 0 -3.4 0M78.3 105.4a1.7 1.7 0 1 0 3.4 0a1.7 1.7 0 1 0 -3.4 0M79.5 108.2a1.7 1.7 0 1 0 3.4 0a1.7 1.7 0 1 0 -3.4 0M80.8 107.2a1.7 1.7 0 1 0 3.4 0a1.7 1.7 0 1 0 -3.4 0M82.0 101.0a1.7 1.7 0 1 0 3.4 0a1.7 1.7 0 1 0 -3.4 0M83.3 94.3a1.7 1.7 0 1 0 3.4 0a1.7 1.7 0 1 0 -3.4 0M84.5 88.8a1.7 1.7 0 1 0 3.4 0a1.7 1.7 0 1 0 -3.4 0M85.8 91.2a1.7 1.7 0 1 0 3.4 0a1.7 1.7 0 1 0 -3.4 0M87.0 98.0a1.7 1.7 0 1 0 3.4 0a1.7 1.7 0 1 0 -3.4 0M88.3 107.5a1.7 1.7 0 1 0 3.4 0a1.7 1.7 0 1 0 -3.4 0M89.5 114.9a1.7 1.7 0 1 0 3.4 0a1.7 1.7 0 1 0 -3.4 0M90.8 118.3a1.7 1.7 0 1 0 3.4 0a1.7 1.7 0 1 0 -3.4 0M92.0 110.4a1.7 1.7 0 1 0 3.4 0a1.7 1.7 0 1 0 -3.4 0M93.3 97.3a1.7 1.7 0 1 0 3.4 0a1.7 1.7 0 1 0 -3.4 0M94.5 86.7a1.7 1.7 0 1 0 3.4 0a1.7 1.7 0 1 0 -3.4 0M95.8 83.4a1.7 1.7 0 1 0 3.4 0a1.7 1.7 0 1 0 -3.4 0M97.0 93.7a1.7 1.7 0 1 0 3.4 0a1.7 1.7 0 1 0 -3.4 0M98.3 113.0a1.7 1.7 0 1 0 3.4 0a1.7 1.7 0 1 0 -3.4 0M99.5 127.9a1.7 1.7 0 1 0 3.4 0a1.7 1.7 0 1 0 -3.4 0M100.8 133.1a1.7 1.7 0 1 0 3.4 0a1.7 1.7 0 1 0 -3.4 0M102.0 129.7a1.7 1.7 0 1 0 3.4 0a1.7 1.7 0 1 0 -3.4 0M103.3 117.5a1.7 1.7 0 1 0 3.4 0a1.7 1.7 0 1 0 -3.4 0M104.5 103.1a1.7 1.7 0 1 0 3.4 0a1.7 1.7 0 1 0 -3.4 0M105.8 92.4a1.7 1.7 0 1 0 3.4 0a1.7 1.7 0 1 0 -3.4 0M107.0 93.2a1.7 1.7 0 1 0 3.4 0a1.7 1.7 0 1 0 -3.4 0M108.3 110.2a1.7 1.7 0 1 0 3.4 0a1.7 1.7 0 1 0 -3.4 0M109.5 133.7a1.7 1.7 0 1 0 3.4 0a1.7 1.7 0 1 0 -3.4 0M110.8 145.4a1.7 1.7 0 1 0 3.4 0a1.7 1.7 0 1 0 -3.4 0M112.0 143.2a1.7 1.7 0 1 0 3.4 0a1.7 1.7 0 1 0 -3.4 0M113.3 137.9a1.7 1.7 0 1 0 3.4 0a1.7 1.7 0 1 0 -3.4 0M114.5 130.7a1.7 1.7 0 1 0 3.4 0a1.7 1.7 0 1 0 -3.4 0M115.8 126.8a1.7 1.7 0 1 0 3.4 0a1.7 1.7 0 1 0 -3.4 0M117.0 125.2a1.7 1.7 0 1 0 3.4 0a1.7 1.7 0 1 0 -3.4 0M118.3 135.0a1.7 1.7 0 1 0 3.4 0a1.7 1.7 0 1 0 -3.4 0M119.5 147.1a1.7 1.7 0 1 0 3.4 0a1.7 1.7 0 1 0 -3.4 0M120.8 152.2a1.7 1.7 0 1 0 3.4 0a1.7 1.7 0 1 0 -3.4 0M122.0 146.1a1.7 1.7 0 1 0 3.4 0a1.7 1.7 0 1 0 -3.4 0M123.3 137.4a1.7 1.7 0 1 0 3.4 0a1.7 1.7 0 1 0 -3.4 0M124.5 128.3a1.7 1.7 0 1 0 3.4 0a1.7 1.7 0 1 0 -3.4 0M125.8 131.6a1.7 1.7 0 1 0 3.4 0a1.7 1.7 0 1 0 -3.4 0M127.0 141.3a1.7 1.7 0 1 0 3.4 0a1.7 1.7 0 1 0 -3.4 0M128.3 153.3a1.7 1.7 0 1 0 3.4 0a1.7 1.7 0 1 0 -3.4 0M129.6 162.7a1.7 1.7 0 1 0 3.4 0a1.7 1.7 0 1 0 -3.4 0M130.8 160.7a1.7 1.7 0 1 0 3.4 0a1.7 1.7 0 1 0 -3.4 0M132.1 150.2a1.7 1.7 0 1 0 3.4 0a1.7 1.7 0 1 0 -3.4 0M133.3 138.4a1.7 1.7 0 1 0 3.4 0a1.7 1.7 0 1 0 -3.4 0M134.6 130.5a1.7 1.7 0 1 0 3.4 0a1.7 1.7 0 1 0 -3.4 0M135.8 133.1a1.7 1.7 0 1 0 3.4 0a1.7 1.7 0 1 0 -3.4 0M137.1 145.8a1.7 1.7 0 1 0 3.4 0a1.7 1.7 0 1 0 -3.4 0M138.3 162.3a1.7 1.7 0 1 0 3.4 0a1.7 1.7 0 1 0 -3.4 0M139.6 169.9a1.7 1.7 0 1 0 3.4 0a1.7 1.7 0 1 0 -3.4 0M140.8 166.4a1.7 1.7 0 1 0 3.4 0a1.7 1.7 0 1 0 -3.4 0M142.1 156.5a1.7 1.7 0 1 0 3.4 0a1.7 1.7 0 1 0 -3.4 0M143.3 142.7a1.7 1.7 0 1 0 3.4 0a1.7 1.7 0 1 0 -3.4 0M144.6 135.7a1.7 1.7 0 1 0 3.4 0a1.7 1.7 0 1 0 -3.4 0M145.8 138.9a1.7 1.7 0 1 0 3.4 0a1.7 1.7 0 1 0 -3.4 0M147.1 145.6a1.7 1.7 0 1 0 3.4 0a1.7 1.7 0 1 0 -3.4 0M148.3 154.9a1.7 1.7 0 1 0 3.4 0a1.7 1.7 0 1 0 -3.4 0M149.6 163.7a1.7 1.7 0 1 0 3.4 0a1.7 1.7 0 1 0 -3.4 0M150.8 167.0a1.7 1.7 0 1 0 3.4 0a1.7 1.7 0 1 0 -3.4 0M152.1 162.9a1.7 1.7 0 1 0 3.4 0a1.7 1.7 0 1 0 -3.4 0M153.3 155.7a1.7 1.7 0 1 0 3.4 0a1.7 1.7 0 1 0 -3.4 0M154.6 146.7a1.7 1.7 0 1 0 3.4 0a1.7 1.7 0 1 0 -3.4 0M155.8 145.7a1.7 1.7 0 1 0 3.4 0a1.7 1.7 0 1 0 -3.4 0M157.1 148.5a1.7 1.7 0 1 0 3.4 0a1.7 1.7 0 1 0 -3.4 0M158.3 154.0a1.7 1.7 0 1 0 3.4 0a1.7 1.7 0 1 0 -3.4 0M159.6 160.3a1.7 1.7 0 1 0 3.4 0a1.7 1.7 0 1 0 -3.4 0M160.8 161.7a1.7 1.7 0 1 0 3.4 0a1.7 1.7 0 1 0 -3.4 0M162.1 156.7a1.7 1.7 0 1 0 3.4 0a1.7 1.7 0 1 0 -3.4 0M163.3 152.0a1.7 1.7 0 1 0 3.4 0a1.7 1.7 0 1 0 -3.4 0M164.6 146.3a1.7 1.7 0 1 0 3.4 0a1.7 1.7 0 1 0 -3.4 0M165.8 149.4a1.7 1.7 0 1 0 3.4 0a1.7 1.7 0 1 0 -3.4 0M167.1 154.6a1.7 1.7 0 1 0 3.4 0a1.7 1.7 0 1 0 -3.4 0M168.3 159.4a1.7 1.7 0 1 0 3.4 0a1.7 1.7 0 1 0 -3.4 0M169.6 158.4a1.7 1.7 0 1 0 3.4 0a1.7 1.7 0 1 0 -3.4 0M170.8 155.4a1.7 1.7 0 1 0 3.4 0a1.7 1.7 0 1 0 -3.4 0M172.1 150.3a1.7 1.7 0 1 0 3.4 0a1.7 1.7 0 1 0 -3.4 0M173.3 147.9a1.7 1.7 0 1 0 3.4 0a1.7 1.7 0 1 0 -3.4 0M174.6 146.2a1.7 1.7 0 1 0 3.4 0a1.7 1.7 0 1 0 -3.4 0M175.8 149.7a1.7 1.7 0 1 0 3.4 0a1.7 1.7 0 1 0 -3.4 0M177.1 153.7a1.7 1.7 0 1 0 3.4 0a1.7 1.7 0 1 0 -3.4 0M178.3 156.6a1.7 1.7 0 1 0 3.4 0a1.7 1.7 0 1 0 -3.4 0M179.6 162.0a1.7 1.7 0 1 0 3.4 0a1.7 1.7 0 1 0 -3.4 0M180.8 157.7a1.7 1.7 0 1 0 3.4 0a1.7 1.7 0 1 0 -3.4 0M182.1 151.0a1.7 1.7 0 1 0 3.4 0a1.7 1.7 0 1 0 -3.4 0M183.3 147.8a1.7 1.7 0 1 0 3.4 0a1.7 1.7 0 1 0 -3.4 0M184.6 143.0a1.7 1.7 0 1 0 3.4 0a1.7 1.7 0 1 0 -3.4 0M185.8 146.2a1.7 1.7 0 1 0 3.4 0a1.7 1.7 0 1 0 -3.4 0M187.1 151.6a1.7 1.7 0 1 0 3.4 0a1.7 1.7 0 1 0 -3.4 0M188.3 155.2a1.7 1.7 0 1 0 3.4 0a1.7 1.7 0 1 0 -3.4 0M189.6 157.6a1.7 1.7 0 1 0 3.4 0a1.7 1.7 0 1 0 -3.4 0M190.8 156.3a1.7 1.7 0 1 0 3.4 0a1.7 1.7 0 1 0 -3.4 0M192.1 153.5a1.7 1.7 0 1 0 3.4 0a1.7 1.7 0 1 0 -3.4 0M193.3 148.4a1.7 1.7 0 1 0 3.4 0a1.7 1.7 0 1 0 -3.4 0M194.6 146.0a1.7 1.7 0 1 0 3.4 0a1.7 1.7 0 1 0 -3.4 0M195.8 146.5a1.7 1.7 0 1 0 3.4 0a1.7 1.7 0 1 0 -3.4 0M197.1 149.9a1.7 1.7 0 1 0 3.4 0a1.7 1.7 0 1 0 -3.4 0M198.3 153.2a1.7 1.7 0 1 0 3.4 0a1.7 1.7 0 1 0 -3.4 0M199.6 157.0a1.7 1.7 0 1 0 3.4 0a1.7 1.7 0 1 0 -3.4 0M200.8 156.5a1.7 1.7 0 1 0 3.4 0a1.7 1.7 0 1 0 -3.4 0M202.1 153.9a1.7 1.7 0 1 0 3.4 0a1.7 1.7 0 1 0 -3.4 0M203.3 151.9a1.7 1.7 0 1 0 3.4 0a1.7 1.7 0 1 0 -3.4 0M204.6 148.0a1.7 1.7 0 1 0 3.4 0a1.7 1.7 0 1 0 -3.4 0M205.8 148.1a1.7 1.7 0 1 0 3.4 0a1.7 1.7 0 1 0 -3.4 0M207.1 148.7a1.7 1.7 0 1 0 3.4 0a1.7 1.7 0 1 0 -3.4 0M208.3 151.5a1.7 1.7 0 1 0 3.4 0a1.7 1.7 0 1 0 -3.4 0M209.6 153.4a1.7 1.7 0 1 0 3.4 0a1.7 1.7 0 1 0 -3.4 0M210.8 153.0a1.7 1.7 0 1 0 3.4 0a1.7 1.7 0 1 0 -3.4 0M212.1 152.6a1.7 1.7 0 1 0 3.4 0a1.7 1.7 0 1 0 -3.4 0M213.3 150.7a1.7 1.7 0 1 0 3.4 0a1.7 1.7 0 1 0 -3.4 0M214.6 150.9a1.7 1.7 0 1 0 3.4 0a1.7 1.7 0 1 0 -3.4 0M215.8 150.6a1.7 1.7 0 1 0 3.4 0a1.7 1.7 0 1 0 -3.4 0M217.1 150.8a1.7 1.7 0 1 0 3.4 0a1.7 1.7 0 1 0 -3.4 0M218.3 150.3a1.7 1.7 0 1 0 3.4 0a1.7 1.7 0 1 0 -3.4 0M219.6 153.6a1.7 1.7 0 1 0 3.4 0a1.7 1.7 0 1 0 -3.4 0M220.8 153.5a1.7 1.7 0 1 0 3.4 0a1.7 1.7 0 1 0 -3.4 0M222.1 152.5a1.7 1.7 0 1 0 3.4 0a1.7 1.7 0 1 0 -3.4 0M223.3 151.8a1.7 1.7 0 1 0 3.4 0a1.7 1.7 0 1 0 -3.4 0M224.6 151.3a1.7 1.7 0 1 0 3.4 0a1.7 1.7 0 1 0 -3.4 0M225.8 151.0a1.7 1.7 0 1 0 3.4 0a1.7 1.7 0 1 0 -3.4 0M227.1 150.5a1.7 1.7 0 1 0 3.4 0a1.7 1.7 0 1 0 -3.4 0M228.3 151.1a1.7 1.7 0 1 0 3.4 0a1.7 1.7 0 1 0 -3.4 0M229.6 151.9a1.7 1.7 0 1 0 3.4 0a1.7 1.7 0 1 0 -3.4 0M230.8 153.2a1.7 1.7 0 1 0 3.4 0a1.7 1.7 0 1 0 -3.4 0M232.1 153.5a1.7 1.7 0 1 0 3.4 0a1.7 1.7 0 1 0 -3.4 0M233.3 152.4a1.7 1.7 0 1 0 3.4 0a1.7 1.7 0 1 0 -3.4 0M234.6 152.0a1.7 1.7 0 1 0 3.4 0a1.7 1.7 0 1 0 -3.4 0M235.8 149.9a1.7 1.7 0 1 0 3.4 0a1.7 1.7 0 1 0 -3.4 0M237.1 148.5a1.7 1.7 0 1 0 3.4 0a1.7 1.7 0 1 0 -3.4 0M238.3 150.2a1.7 1.7 0 1 0 3.4 0a1.7 1.7 0 1 0 -3.4 0M239.6 149.4a1.7 1.7 0 1 0 3.4 0a1.7 1.7 0 1 0 -3.4 0M240.8 154.7a1.7 1.7 0 1 0 3.4 0a1.7 1.7 0 1 0 -3.4 0M242.1 155.2a1.7 1.7 0 1 0 3.4 0a1.7 1.7 0 1 0 -3.4 0M243.3 156.0a1.7 1.7 0 1 0 3.4 0a1.7 1.7 0 1 0 -3.4 0M244.6 154.2a1.7 1.7 0 1 0 3.4 0a1.7 1.7 0 1 0 -3.4 0M245.8 149.2a1.7 1.7 0 1 0 3.4 0a1.7 1.7 0 1 0 -3.4 0M247.1 146.1a1.7 1.7 0 1 0 3.4 0a1.7 1.7 0 1 0 -3.4 0M248.3 144.5a1.7 1.7 0 1 0 3.4 0a1.7 1.7 0 1 0 -3.4 0M249.6 147.0a1.7 1.7 0 1 0 3.4 0a1.7 1.7 0 1 0 -3.4 0M250.8 152.5a1.7 1.7 0 1 0 3.4 0a1.7 1.7 0 1 0 -3.4 0M252.1 156.7a1.7 1.7 0 1 0 3.4 0a1.7 1.7 0 1 0 -3.4 0M253.3 160.2a1.7 1.7 0 1 0 3.4 0a1.7 1.7 0 1 0 -3.4 0M254.6 156.3a1.7 1.7 0 1 0 3.4 0a1.7 1.7 0 1 0 -3.4 0M255.8 153.3a1.7 1.7 0 1 0 3.4 0a1.7 1.7 0 1 0 -3.4 0M257.1 144.2a1.7 1.7 0 1 0 3.4 0a1.7 1.7 0 1 0 -3.4 0M258.3 143.4a1.7 1.7 0 1 0 3.4 0a1.7 1.7 0 1 0 -3.4 0M259.6 144.2a1.7 1.7 0 1 0 3.4 0a1.7 1.7 0 1 0 -3.4 0M260.8 148.2a1.7 1.7 0 1 0 3.4 0a1.7 1.7 0 1 0 -3.4 0M262.1 156.0a1.7 1.7 0 1 0 3.4 0a1.7 1.7 0 1 0 -3.4 0M263.3 159.9a1.7 1.7 0 1 0 3.4 0a1.7 1.7 0 1 0 -3.4 0M264.6 158.9a1.7 1.7 0 1 0 3.4 0a1.7 1.7 0 1 0 -3.4 0M265.8 156.5a1.7 1.7 0 1 0 3.4 0a1.7 1.7 0 1 0 -3.4 0M267.1 154.1a1.7 1.7 0 1 0 3.4 0a1.7 1.7 0 1 0 -3.4 0M268.3 147.9a1.7 1.7 0 1 0 3.4 0a1.7 1.7 0 1 0 -3.4 0M269.6 146.3a1.7 1.7 0 1 0 3.4 0a1.7 1.7 0 1 0 -3.4 0M270.8 147.0a1.7 1.7 0 1 0 3.4 0a1.7 1.7 0 1 0 -3.4 0M272.1 151.0a1.7 1.7 0 1 0 3.4 0a1.7 1.7 0 1 0 -3.4 0M273.3 153.3a1.7 1.7 0 1 0 3.4 0a1.7 1.7 0 1 0 -3.4 0M274.6 155.8a1.7 1.7 0 1 0 3.4 0a1.7 1.7 0 1 0 -3.4 0M275.8 157.3a1.7 1.7 0 1 0 3.4 0a1.7 1.7 0 1 0 -3.4 0M277.1 153.8a1.7 1.7 0 1 0 3.4 0a1.7 1.7 0 1 0 -3.4 0M278.3 151.2a1.7 1.7 0 1 0 3.4 0a1.7 1.7 0 1 0 -3.4 0M279.6 151.1a1.7 1.7 0 1 0 3.4 0a1.7 1.7 0 1 0 -3.4 0M280.8 153.9a1.7 1.7 0 1 0 3.4 0a1.7 1.7 0 1 0 -3.4 0M282.1 156.0a1.7 1.7 0 1 0 3.4 0a1.7 1.7 0 1 0 -3.4 0M283.3 158.9a1.7 1.7 0 1 0 3.4 0a1.7 1.7 0 1 0 -3.4 0M284.6 154.6a1.7 1.7 0 1 0 3.4 0a1.7 1.7 0 1 0 -3.4 0M285.8 148.8a1.7 1.7 0 1 0 3.4 0a1.7 1.7 0 1 0 -3.4 0M287.1 150.6a1.7 1.7 0 1 0 3.4 0a1.7 1.7 0 1 0 -3.4 0M288.3 151.1a1.7 1.7 0 1 0 3.4 0a1.7 1.7 0 1 0 -3.4 0M289.6 154.4a1.7 1.7 0 1 0 3.4 0a1.7 1.7 0 1 0 -3.4 0M290.8 152.9a1.7 1.7 0 1 0 3.4 0a1.7 1.7 0 1 0 -3.4 0" stroke="#e377c2" stroke-width="1.1" fill="none"/>
<path d="M47.5,288.6 47.9,288.6 48.2,288.6 48.6,288.6 48.9,288.6 49.3,288.6 49.6,288.6 50.0,288.6 50.3,288.6 50.7,288.6 51.0,288.6 51.4,288.6 51.7,288.6 52.1,288.6 52.4,288.6 52.8,288.6 53.1,288.6 53.5,288.6 53.8,288.6 54.2,288.6 54.5,288.6 54.9,288.6 55.2,288.6 55.6,288.6 55.9,288.6 56.3,288.6 56.6,288.6 57.0,288.6 57.3,288.6 57.7,288.6 58.0,288.6 58.4,288.6 58.7,288.6 59.1,288.6 59.4,288.6 59.8,288.6 60.1,288.6 60.5,288.6 60.8,288.6 61.2,288.6 61.5,288.6 61.9,288.6 62.2,288.6 62.6,288.6 62.9,288.6 63.3,288.6 63.6,288.6 64.0,288.6 64.3,288.6 64.7,288.6 65.0,288.6 65.4,288.6 65.7,288.6 66.1,288.6 66.4,288.6 66.8,288.6 67.1,288.6 67.5,288.6 67.8,288.6 68.2,288.6 68.5,288.6 68.9,288.5 69.2,288.3 69.6,288.2 69.9,288.0 70.3,287.8 70.6,287.7 71.0,287.5 71.3,287.4 71.7,287.3 72.0,287.3 72.4,287.3 72.7,287.4 73.1,287.5 73.4,287.6 73.8,287.7 74.1,287.9 74.5,288.0 74.8,288.2 75.2,288.3 75.5,288.4 75.9,288.4 76.2,288.4 76.6,288.3 76.9,288.2 77.3,288.2 77.6,287.9 78.0,287.6 78.3,287.7 78.7,287.5 79.0,287.5 79.4,287.6 79.7,287.8 80.0,288.0 81.1,289.7 82.2,290.8 83.3,290.4 84.4,288.8 85.5,287.0 86.6,286.9 87.7,285.6 88.8,283.5 89.9,281.4 91.0,280.1 92.1,280.6 93.2,281.0 94.3,282.6 95.4,284.7 96.5,287.3 97.6,289.9 98.7,293.1 99.8,295.0 100.9,296.3 102.0,297.8 103.1,298.0 104.2,297.7 105.3,295.0 106.4,290.1 107.5,284.8 108.6,278.6 109.7,273.2 110.8,269.1 111.9,265.7 113.0,264.6 114.1,265.7 115.2,267.2 116.3,269.7 117.4,272.8 118.5,275.6 119.6,278.4 120.7,282.0 121.8,283.8 122.9,284.8 124.0,285.0 125.1,283.9 126.2,280.1 127.3,275.5 128.4,270.8 129.5,266.4 130.6,263.9 131.7,263.5 132.8,264.1 133.9,265.6 135.0,267.3 136.1,269.6 137.2,271.6 138.3,273.6 139.4,275.2 140.5,276.2 141.6,276.4 142.7,275.6 143.8,274.9 144.9,273.6 146.0,272.6 147.1,271.3 148.2,269.4 149.3,268.5 150.4,267.2 151.5,266.6 152.6,266.5 153.7,266.6 154.8,267.6 155.9,267.9 157.0,269.2 158.1,270.5 159.2,271.3 160.3,272.5 161.4,272.5 162.5,273.0 163.6,272.2 164.7,271.6 165.8,270.6 166.9,269.6 168.0,268.0 169.1,267.1 170.2,266.1 171.3,266.6 172.4,266.6 173.5,267.7 174.6,268.8 175.7,270.4 176.8,271.3 177.9,270.9 179.0,270.6 180.1,269.8 181.2,269.0 182.3,268.1 183.4,267.3 184.5,267.7 185.6,266.9 186.7,267.7 187.8,269.0 188.9,270.3 190.0,271.0 191.1,271.9 192.2,272.4 193.3,272.2 194.4,272.0 195.5,270.7 196.6,269.4 197.7,268.3 198.8,267.2 199.9,266.5 201.0,266.0 202.1,265.3 203.2,265.5 204.3,266.5 205.4,268.7 206.5,269.7 207.6,271.3 208.7,272.8 209.8,272.8 210.9,272.9 212.0,272.1 213.1,270.9 214.2,269.8 215.3,268.2 216.4,265.8 217.5,265.1 218.6,263.7 219.7,263.4 220.8,263.6 221.9,264.5 223.0,266.7 224.1,268.9 225.2,271.8 226.3,273.5 227.4,273.7 228.5,273.2 229.6,273.1 230.7,271.6 231.8,270.7 232.9,269.3 234.0,268.0 235.1,266.5 236.2,265.9 237.3,266.0 238.4,266.3 239.5,266.5 240.6,267.5 241.7,267.9 242.8,268.1 243.9,268.3 245.0,268.7 246.1,268.9 247.2,268.1 248.3,268.8 249.4,268.8 250.5,268.9 251.6,269.2 252.7,269.4 253.8,269.9 254.9,269.5 256.0,269.4 257.1,269.4 258.2,270.1 259.3,270.0 260.4,270.5 261.5,270.9 262.6,270.9 263.7,270.9 264.8,269.6 265.9,267.2 267.0,269.5 268.1,272.0 269.2,268.2 270.3,266.3 271.4,271.6 272.5,271.8 273.6,266.5 274.7,267.9 275.8,273.4 276.9,270.6 278.0,266.3 279.1,270.0 280.2,272.8 281.3,269.6 282.4,269.5" stroke="#d62728" stroke-width="0.8" fill="none" stroke-linejoin="round"/>
<path d="M47.5 288.6h0M47.9 288.6h0M48.2 288.6h0M48.6 288.6h0M48.9 288.6h0M49.3 288.6h0M49.6 288.6h0M50.0 288.6h0M50.3 288.6h0M50.7 288.6h0M51.0 288.6h0M51.4 288.6h0M51.7 288.6h0M52.1 288.6h0M52.4 288.6h0M52.8 288.6h0M53.1 288.6h0M53.5 288.6h0M53.8 288.6h0M54.2 288.6h0M54.5 288.6h0M54.9 288.6h0M55.2 288.6h0M55.6 288.6h0M55.9 288.6h0M56.3 288.6h0M56.6 288.6h0M57.0 288.6h0M57.3 288.6h0M57.7 288.6h0M58.0 288.6h0M58.4 288.6h0M58.7 288.6h0M59.1 288.6h0M59.4 288.6h0M59.8 288.6h0M60.1 288.6h0M60.5 288.6h0M60.8 288.6h0M61.2 288.6h0M61.5 288.6h0M61.9 288.6h0M62.2 288.6h0M62.6 288.6h0M62.9 288.6h0M63.3 288.6h0M63.6 288.6h0M64.0 288.6h0M64.3 288.6h0M64.7 288.6h0M65.0 288.6h0M65.4 288.6h0M65.7 288.6h0M66.1 288.6h0M66.4 288.6h0M66.8 288.6h0M67.1 288.6h0M67.5 288.6h0M67.8 288.6h0M68.2 288.6h0M68.5 288.6h0M68.9 288.5h0M69.2 288.3h0M69.6 288.2h0M69.9 288.0h0M70.3 287.8h0M70.6 287.7h0M71.0 287.5h0M71.3 287.4h0M71.7 287.3h0M72.0 287.3h0M72.4 287.3h0M72.7 287.4h0M73.1 287.5h0M73.4 287.6h0M73.8 287.7h0M74.1 287.9h0M74.5 288.0h0M74.8 288.2h0M75.2 288.3h0M75.5 288.4h0M75.9 288.4h0M76.2 288.4h0M76.6 288.3h0M76.9 288.2h0M77.3 288.2h0M77.6 287.9h0M78.0 287.6h0M78.3 287.7h0M78.7 287.5h0M79.0 287.5h0M79.4 287.6h0M79.7 287.8h0M80.0 288.0h0M81.1 289.7h0M82.2 290.8h0M83.3 290.4h0M84.4 288.8h0M85.5 287.0h0M86.6 286.9h0M87.7 285.6h0M88.8 283.5h0M89.9 281.4h0M91.0 280.1h0M92.1 280.6h0M93.2 281.0h0M94.3 282.6h0M95.4 284.7h0M96.5 287.3h0M97.6 289.9h0M98.7 293.1h0M99.8 295.0h0M100.9 296.3h0M102.0 297.8h0M103.1 298.0h0M104.2 297.7h0M105.3 295.0h0M106.4 290.1h0M107.5 284.8h0M108.6 278.6h0M109.7 273.2h0M110.8 269.1h0M111.9 265.7h0M113.0 264.6h0M114.1 265.7h0M115.2 267.2h0M116.3 269.7h0M117.4 272.8h0M118.5 275.6h0M119.6 278.4h0M120.7 282.0h0M121.8 283.8h0M122.9 284.8h0M124.0 285.0h0M125.1 283.9h0M126.2 280.1h0M127.3 275.5h0M128.4 270.8h0M129.5 266.4h0M130.6 263.9h0M131.7 263.5h0M132.8 264.1h0M133.9 265.6h0M135.0 267.3h0M136.1 269.6h0M137.2 271.6h0M138.3 273.6h0M139.4 275.2h0M140.5 276.2h0M141.6 276.4h0M142.7 275.6h0M143.8 274.9h0M144.9 273.6h0M146.0 272.6h0M147.1 271.3h0M148.2 269.4h0M149.3 268.5h0M150.4 267.2h0M151.5 266.6h0M152.6 266.5h0M153.7 266.6h0M154.8 267.6h0M155.9 267.9h0M157.0 269.2h0M158.1 270.5h0M159.2 271.3h0M160.3 272.5h0M161.4 272.5h0M162.5 273.0h0M163.6 272.2h0M164.7 271.6h0M165.8 270.6h0M166.9 269.6h0M168.0 268.0h0M169.1 267.1h0M170.2 266.1h0M171.3 266.6h0M172.4 266.6h0M173.5 267.7h0M174.6 268.8h0M175.7 270.4h0M176.8 271.3h0M177.9 270.9h0M179.0 270.6h0M180.1 269.8h0M181.2 269.0h0M182.3 268.1h0M183.4 267.3h0M184.5 267.7h0M185.6 266.9h0M186.7 267.7h0M187.8 269.0h0M188.9 270.3h0M190.0 271.0h0M191.1 271.9h0M192.2 272.4h0M193.3 272.2h0M194.4 272.0h0M195.5 270.7h0M196.6 269.4h0M197.7 268.3h0M198.8 267.2h0M199.9 266.5h0M201.0 266.0h0M202.1 265.3h0M203.2 265.5h0M204.3 266.5h0M205.4 268.7h0M206.5 269.7h0M207.6 271.3h0M208.7 272.8h0M209.8 272.8h0M210.9 272.9h0M212.0 272.1h0M213.1 270.9h0M214.2 269.8h0M215.3 268.2h0M216.4 265.8h0M217.5 265.1h0M218.6 263.7h0M219.7 263.4h0M220.8 263.6h0M221.9 264.5h0M223.0 266.7h0M224.1 268.9h0M225.2 271.8h0M226.3 273.5h0M227.4 273.7h0M228.5 273.2h0M229.6 273.1h0M230.7 271.6h0M231.8 270.7h0M232.9 269.3h0M234.0 268.0h0M235.1 266.5h0M236.2 265.9h0M237.3 266.0h0M238.4 266.3h0M239.5 266.5h0M240.6 267.5h0M241.7 267.9h0M242.8 268.1h0M243.9 268.3h0M245.0 268.7h0M246.1 268.9h0M247.2 268.1h0M248.3 268.8h0M249.4 268.8h0M250.5 268.9h0M251.6 269.2h0M252.7 269.4h0M253.8 269.9h0M254.9 269.5h0M256.0 269.4h0M257.1 269.4h0M258.2 270.1h0M259.3 270.0h0M260.4 270.5h0M261.5 270.9h0M262.6 270.9h0M263.7 270.9h0M264.8 269.6h0M265.9 267.2h0M267.0 269.5h0M268.1 272.0h0M269.2 268.2h0M270.3 266.3h0M271.4 271.6h0M272.5 271.8h0M273.6 266.5h0M274.7 267.9h0M275.8 273.4h0M276.9 270.6h0M278.0 266.3h0M279.1 270.0h0M280.2 272.8h0M281.3 269.6h0M282.4 269.5h0" stroke="#ff7f0e" stroke-width="3.80" stroke-linecap="round" fill="none"/>
<path d="M47.5,288.6 47.9,288.6 48.2,288.6 48.6,288.6 48.9,288.6 49.3,288.6 49.6,288.6 50.0,288.6 50.3,288.6 50.7,288.6 51.0,288.6 51.4,288.6 51.7,288.6 52.1,288.6 52.4,288.6 52.8,288.6 53.1,288.6 53.5,288.6 53.8,288.6 54.2,288.6 54.5,288.6 54.9,288.6 55.2,288.6 55.6,288.6 55.9,288.6 56.3,288.6 56.6,288.6 57.0,288.6 57.3,288.6 57.7,288.6 58.0,288.6 58.4,288.6 58.7,288.6 59.1,288.6 59.4,288.6 59.8,288.6 60.1,288.6 60.5,288.6 60.8,288.6 61.2,288.6 61.5,288.6 61.9,288.6 62.2,288.6 62.6,288.6 62.9,288.6 63.3,288.6 63.6,288.6 64.0,288.6 64.3,288.6 64.7,288.6 65.0,288.6 65.4,288.6 65.7,288.6 66.1,288.6 66.4,288.6 66.8,288.6 67.1,288.6 67.5,288.6 67.8,288.6 68.2,288.6 68.5,288.6 68.9,288.6 69.2,288.6 69.6,288.6 69.9,288.6 70.3,288.6 70.6,288.6 71.0,288.6 71.3,288.6 71.7,288.6 72.0,288.6 72.4,288.6 72.7,288.5 73.1,288.3 73.4,288.2 73.8,288.0 74.1,287.7 74.5,287.5 74.8,287.3 75.2,287.2 75.5,287.1 75.9,287.0 76.2,287.0 76.6,287.1 76.9,287.3 77.3,287.5 77.6,287.5 78.0,287.8 78.3,287.9 78.7,288.2 79.0,288.9 79.4,288.5 79.7,288.7 80.0,288.5 81.2,288.2 82.5,288.4 83.8,287.2 85.0,286.8 86.2,286.0 87.5,284.8 88.8,284.5 90.0,282.6 91.2,279.2 92.5,278.8 93.8,278.3 95.0,280.5 96.2,281.5 97.5,282.5 98.8,274.3 100.0,267.4 101.2,260.9 102.5,258.5 103.8,252.6 105.0,252.1 106.2,257.5 107.5,262.1 108.8,256.5 110.0,252.9 111.2,241.4 112.5,232.3 113.8,223.9 115.0,219.0 116.2,225.3 117.5,227.4 118.8,225.4 120.0,223.1 121.2,221.6 122.5,210.8 123.8,198.2 125.0,197.3 126.2,195.8 127.5,198.7 128.8,203.7 130.0,206.2 131.2,206.4 132.5,204.0 133.8,200.8 135.0,197.7 136.2,197.6 137.5,199.3 138.8,201.7 140.0,204.0 141.2,206.0 142.5,206.2 143.8,205.3 145.0,203.7 146.2,198.7 147.5,195.0 148.8,193.5 150.0,195.4 151.2,201.2 152.5,205.3 153.8,207.5 155.0,208.3 156.2,202.3 157.5,195.1 158.8,193.8 160.0,194.5 161.2,198.0 162.5,203.9 163.8,207.9 165.0,210.7 166.2,208.5 167.5,201.1 168.8,192.8 170.0,190.9 171.2,191.9 172.5,196.0 173.8,200.1 175.0,204.0 176.2,207.9 177.5,208.0 178.8,204.9 180.0,197.5 181.2,194.8 182.5,195.5 183.8,197.5 185.0,198.9 186.2,203.9 187.5,204.7 188.8,206.6 190.0,203.3 191.2,198.6 192.5,195.7 193.8,195.9 195.0,198.4 196.2,201.5 197.5,203.3 198.8,203.9 200.0,203.8 201.2,202.2 202.5,200.4 203.8,198.9 205.0,198.7 206.2,199.1 207.5,202.0 208.8,203.4 210.0,204.9 211.2,206.4 212.5,206.1 213.8,204.3 215.0,200.9 216.2,199.5 217.5,198.7 218.8,200.6 220.0,201.9 221.2,204.1 222.5,205.1 223.8,205.6 225.0,207.1 226.2,203.7 227.5,201.1 228.8,199.7 230.0,200.0 231.2,200.9 232.5,203.1 233.8,204.7 235.0,206.9 236.2,204.5 237.5,201.9 238.8,199.7 240.0,197.2 241.2,196.9 242.5,198.8 243.8,200.0 245.0,203.0 246.2,205.0 247.5,205.9 248.8,205.6 250.0,203.2 251.2,200.4 252.5,199.0 253.8,200.0 255.0,202.1 256.2,203.5 257.5,205.1 258.8,204.9 260.0,205.8 261.2,201.6 262.5,197.9 263.8,195.0 265.0,193.3 266.2,194.6 267.5,199.4 268.8,204.1 270.0,203.8 271.2,200.2 272.5,197.4 273.8,194.5 275.0,196.6 276.2,206.2" stroke="#1f77b4" stroke-width="0.8" fill="none" stroke-linejoin="round"/>
<path d="M47.5 288.6h0M47.9 288.6h0M48.2 288.6h0M48.6 288.6h0M48.9 288.6h0M49.3 288.6h0M49.6 288.6h0M50.0 288.6h0M50.3 288.6h0M50.7 288.6h0M51.0 288.6h0M51.4 288.6h0M51.7 288.6h0M52.1 288.6h0M52.4 288.6h0M52.8 288.6h0M53.1 288.6h0M53.5 288.6h0M53.8 288.6h0M54.2 288.6h0M54.5 288.6h0M54.9 288.6h0M55.2 288.6h0M55.6 288.6h0M55.9 288.6h0M56.3 288.6h0M56.6 288.6h0M57.0 288.6h0M57.3 288.6h0M57.7 288.6h0M58.0 288.6h0M58.4 288.6h0M58.7 288.6h0M59.1 288.6h0M59.4 288.6h0M59.8 288.6h0M60.1 288.6h0M60.5 288.6h0M60.8 288.6h0M61.2 288.6h0M61.5 288.6h0M61.9 288.6h0M62.2 288.6h0M62.6 288.6h0M62.9 288.6h0M63.3 288.6h0M63.6 288.6h0M64.0 288.6h0M64.3 288.6h0M64.7 288.6h0M65.0 288.6h0M65.4 288.6h0M65.7 288.6h0M66.1 288.6h0M66.4 288.6h0M66.8 288.6h0M67.1 288.6h0M67.5 288.6h0M67.8 288.6h0M68.2 288.6h0M68.5 288.6h0M68.9 288.6h0M69.2 288.6h0M69.6 288.6h0M69.9 288.6h0M70.3 288.6h0M70.6 288.6h0M71.0 288.6h0M71.3 288.6h0M71.7 288.6h0M72.0 288.6h0M72.4 288.6h0M72.7 288.5h0M73.1 288.3h0M73.4 288.2h0M73.8 288.0h0M74.1 287.7h0M74.5 287.5h0M74.8 287.3h0M75.2 287.2h0M75.5 287.1h0M75.9 287.0h0M76.2 287.0h0M76.6 287.1h0M76.9 287.3h0M77.3 287.5h0M77.6 287.5h0M78.0 287.8h0M78.3 287.9h0M78.7 288.2h0M79.0 288.9h0M79.4 288.5h0M79.7 288.7h0M80.0 288.5h0M81.2 288.2h0M82.5 288.4h0M83.8 287.2h0M85.0 286.8h0M86.2 286.0h0M87.5 284.8h0M88.8 284.5h0M90.0 282.6h0M91.2 279.2h0M92.5 278.8h0M93.8 278.3h0M95.0 280.5h0M96.2 281.5h0M97.5 282.5h0M98.8 274.3h0M100.0 267.4h0M101.2 260.9h0M102.5 258.5h0M103.8 252.6h0M105.0 252.1h0M106.2 257.5h0M107.5 262.1h0M108.8 256.5h0M110.0 252.9h0M111.2 241.4h0M112.5 232.3h0M113.8 223.9h0M115.0 219.0h0M116.2 225.3h0M117.5 227.4h0M118.8 225.4h0M120.0 223.1h0M121.2 221.6h0M122.5 210.8h0M123.8 198.2h0M125.0 197.3h0M126.2 195.8h0M127.5 198.7h0M128.8 203.7h0M130.0 206.2h0M131.2 206.4h0M132.5 204.0h0M133.8 200.8h0M135.0 197.7h0M136.2 197.6h0M137.5 199.3h0M138.8 201.7h0M140.0 204.0h0M141.2 206.0h0M142.5 206.2h0M143.8 205.3h0M145.0 203.7h0M146.2 198.7h0M147.5 195.0h0M148.8 193.5h0M150.0 195.4h0M151.2 201.2h0M152.5 205.3h0M153.8 207.5h0M155.0 208.3h0M156.2 202.3h0M157.5 195.1h0M158.8 193.8h0M160.0 194.5h0M161.2 198.0h0M162.5 203.9h0M163.8 207.9h0M165.0 210.7h0M166.2 208.5h0M167.5 201.1h0M168.8 192.8h0M170.0 190.9h0M171.2 191.9h0M172.5 196.0h0M173.8 200.1h0M175.0 204.0h0M176.2 207.9h0M177.5 208.0h0M178.8 204.9h0M180.0 197.5h0M181.2 194.8h0M182.5 195.5h0M183.8 197.5h0M185.0 198.9h0M186.2 203.9h0M187.5 204.7h0M188.8 206.6h0M190.0 203.3h0M191.2 198.6h0M192.5 195.7h0M193.8 195.9h0M195.0 198.4h0M196.2 201.5h0M197.5 203.3h0M198.8 203.9h0M200.0 203.8h0M201.2 202.2h0M202.5 200.4h0M203.8 198.9h0M205.0 198.7h0M206.2 199.1h0M207.5 202.0h0M208.8 203.4h0M210.0 204.9h0M211.2 206.4h0M212.5 206.1h0M213.8 204.3h0M215.0 200.9h0M216.2 199.5h0M217.5 198.7h0M218.8 200.6h0M220.0 201.9h0M221.2 204.1h0M222.5 205.1h0M223.8 205.6h0M225.0 207.1h0M226.2 203.7h0M227.5 201.1h0M228.8 199.7h0M230.0 200.0h0M231.2 200.9h0M232.5 203.1h0M233.8 204.7h0M235.0 206.9h0M236.2 204.5h0M237.5 201.9h0M238.8 199.7h0M240.0 197.2h0M241.2 196.9h0M242.5 198.8h0M243.8 200.0h0M245.0 203.0h0M246.2 205.0h0M247.5 205.9h0M248.8 205.6h0M250.0 203.2h0M251.2 200.4h0M252.5 199.0h0M253.8 200.0h0M255.0 202.1h0M256.2 203.5h0M257.5 205.1h0M258.8 204.9h0M260.0 205.8h0M261.2 201.6h0M262.5 197.9h0M263.8 195.0h0M265.0 193.3h0M266.2 194.6h0M267.5 199.4h0M268.8 204.1h0M270.0 203.8h0M271.2 200.2h0M272.5 197.4h0M273.8 194.5h0M275.0 196.6h0M276.2 206.2h0" stroke="#17becf" stroke-width="3.80" stroke-linecap="round" fill="none"/>
<path d="M45.8 287.8a1.7 1.7 0 1 0 3.4 0a1.7 1.7 0 1 0 -3.4 0M46.1 287.8a1.7 1.7 0 1 0 3.4 0a1.7 1.7 0 1 0 -3.4 0M46.5 287.8a1.7 1.7 0 1 0 3.4 0a1.7 1.7 0 1 0 -3.4 0M46.9 287.8a1.7 1.7 0 1 0 3.4 0a1.7 1.7 0 1 0 -3.4 0M47.2 287.8a1.7 1.7 0 1 0 3.4 0a1.7 1.7 0 1 0 -3.4 0M47.6 287.8a1.7 1.7 0 1 0 3.4 0a1.7 1.7 0 1 0 -3.4 0M47.9 287.8a1.7 1.7 0 1 0 3.4 0a1.7 1.7 0 1 0 -3.4 0M48.3 287.8a1.7 1.7 0 1 0 3.4 0a1.7 1.7 0 1 0 -3.4 0M48.6 287.8a1.7 1.7 0 1 0 3.4 0a1.7 1.7 0 1 0 -3.4 0M49.0 287.8a1.7 1.7 0 1 0 3.4 0a1.7 1.7 0 1 0 -3.4 0M49.3 287.8a1.7 1.7 0 1 0 3.4 0a1.7 1.7 0 1 0 -3.4 0M49.7 287.8a1.7 1.7 0 1 0 3.4 0a1.7 1.7 0 1 0 -3.4 0M50.0 287.8a1.7 1.7 0 1 0 3.4 0a1.7 1.7 0 1 0 -3.4 0M50.4 287.8a1.7 1.7 0 1 0 3.4 0a1.7 1.7 0 1 0 -3.4 0M50.7 287.8a1.7 1.7 0 1 0 3.4 0a1.7 1.7 0 1 0 -3.4 0M51.1 287.8a1.7 1.7 0 1 0 3.4 0a1.7 1.7 0 1 0 -3.4 0M51.4 287.8a1.7 1.7 0 1 0 3.4 0a1.7 1.7 0 1 0 -3.4 0M51.8 287.8a1.7 1.7 0 1 0 3.4 0a1.7 1.7 0 1 0 -3.4 0M52.1 287.8a1.7 1.7 0 1 0 3.4 0a1.7 1.7 0 1 0 -3.4 0M52.5 287.8a1.7 1.7 0 1 0 3.4 0a1.7 1.7 0 1 0 -3.4 0M52.8 287.8a1.7 1.7 0 1 0 3.4 0a1.7 1.7 0 1 0 -3.4 0M53.2 287.8a1.7 1.7 0 1 0 3.4 0a1.7 1.7 0 1 0 -3.4 0M53.5 287.8a1.7 1.7 0 1 0 3.4 0a1.7 1.7 0 1 0 -3.4 0M53.9 287.8a1.7 1.7 0 1 0 3.4 0a1.7 1.7 0 1 0 -3.4 0M54.2 287.8a1.7 1.7 0 1 0 3.4 0a1.7 1.7 0 1 0 -3.4 0M54.6 287.8a1.7 1.7 0 1 0 3.4 0a1.7 1.7 0 1 0 -3.4 0M54.9 287.8a1.7 1.7 0 1 0 3.4 0a1.7 1.7 0 1 0 -3.4 0M55.3 287.8a1.7 1.7 0 1 0 3.4 0a1.7 1.7 0 1 0 -3.4 0M55.6 287.8a1.7 1.7 0 1 0 3.4 0a1.7 1.7 0 1 0 -3.4 0M56.0 287.8a1.7 1.7 0 1 0 3.4 0a1.7 1.7 0 1 0 -3.4 0M56.3 287.8a1.7 1.7 0 1 0 3.4 0a1.7 1.7 0 1 0 -3.4 0M56.7 287.8a1.7 1.7 0 1 0 3.4 0a1.7 1.7 0 1 0 -3.4 0M57.0 287.8a1.7 1.7 0 1 0 3.4 0a1.7 1.7 0 1 0 -3.4 0M57.4 287.8a1.7 1.7 0 1 0 3.4 0a1.7 1.7 0 1 0 -3.4 0M57.7 287.8a1.7 1.7 0 1 0 3.4 0a1.7 1.7 0 1 0 -3.4 0M58.1 287.8a1.7 1.7 0 1 0 3.4 0a1.7 1.7 0 1 0 -3.4 0M58.4 287.8a1.7 1.7 0 1 0 3.4 0a1.7 1.7 0 1 0 -3.4 0M58.8 287.8a1.7 1.7 0 1 0 3.4 0a1.7 1.7 0 1 0 -3.4 0M59.1 287.8a1.7 1.7 0 1 0 3.4 0a1.7 1.7 0 1 0 -3.4 0M59.5 287.8a1.7 1.7 0 1 0 3.4 0a1.7 1.7 0 1 0 -3.4 0M59.8 287.8a1.7 1.7 0 1 0 3.4 0a1.7 1.7 0 1 0 -3.4 0M60.2 287.8a1.7 1.7 0 1 0 3.4 0a1.7 1.7 0 1 0 -3.4 0M60.5 287.8a1.7 1.7 0 1 0 3.4 0a1.7 1.7 0 1 0 -3.4 0M60.9 287.8a1.7 1.7 0 1 0 3.4 0a1.7 1.7 0 1 0 -3.4 0M61.2 287.8a1.7 1.7 0 1 0 3.4 0a1.7 1.7 0 1 0 -3.4 0M61.6 287.8a1.7 1.7 0 1 0 3.4 0a1.7 1.7 0 1 0 -3.4 0M61.9 287.8a1.7 1.7 0 1 0 3.4 0a1.7 1.7 0 1 0 -3.4 0M62.3 287.8a1.7 1.7 0 1 0 3.4 0a1.7 1.7 0 1 0 -3.4 0M62.6 287.8a1.7 1.7 0 1 0 3.4 0a1.7 1.7 0 1 0 -3.4 0M63.0 287.8a1.7 1.7 0 1 0 3.4 0a1.7 1.7 0 1 0 -3.4 0M63.3 287.8a1.7 1.7 0 1 0 3.4 0a1.7 1.7 0 1 0 -3.4 0M63.7 287.8a1.7 1.7 0 1 0 3.4 0a1.7 1.7 0 1 0 -3.4 0M64.0 287.8a1.7 1.7 0 1 0 3.4 0a1.7 1.7 0 1 0 -3.4 0M64.4 287.8a1.7 1.7 0 1 0 3.4 0a1.7 1.7 0 1 0 -3.4 0M64.7 287.8a1.7 1.7 0 1 0 3.4 0a1.7 1.7 0 1 0 -3.4 0M65.1 287.8a1.7 1.7 0 1 0 3.4 0a1.7 1.7 0 1 0 -3.4 0M65.4 287.8a1.7 1.7 0 1 0 3.4 0a1.7 1.7 0 1 0 -3.4 0M65.8 287.8a1.7 1.7 0 1 0 3.4 0a1.7 1.7 0 1 0 -3.4 0M66.1 287.8a1.7 1.7 0 1 0 3.4 0a1.7 1.7 0 1 0 -3.4 0M66.5 287.8a1.7 1.7 0 1 0 3.4 0a1.7 1.7 0 1 0 -3.4 0M66.8 287.8a1.7 1.7 0 1 0 3.4 0a1.7 1.7 0 1 0 -3.4 0M67.2 287.8a1.7 1.7 0 1 0 3.4 0a1.7 1.7 0 1 0 -3.4 0M67.5 287.8a1.7 1.7 0 1 0 3.4 0a1.7 1.7 0 1 0 -3.4 0M67.9 287.8a1.7 1.7 0 1 0 3.4 0a1.7 1.7 0 1 0 -3.4 0M68.2 287.8a1.7 1.7 0 1 0 3.4 0a1.7 1.7 0 1 0 -3.4 0M68.6 287.8a1.7 1.7 0 1 0 3.4 0a1.7 1.7 0 1 0 -3.4 0M68.9 287.8a1.7 1.7 0 1 0 3.4 0a1.7 1.7 0 1 0 -3.4 0M69.3 287.8a1.7 1.7 0 1 0 3.4 0a1.7 1.7 0 1 0 -3.4 0M69.6 287.8a1.7 1.7 0 1 0 3.4 0a1.7 1.7 0 1 0 -3.4 0M70.0 287.8a1.7 1.7 0 1 0 3.4 0a1.7 1.7 0 1 0 -3.4 0M70.3 287.8a1.7 1.7 0 1 0 3.4 0a1.7 1.7 0 1 0 -3.4 0M70.7 287.8a1.7 1.7 0 1 0 3.4 0a1.7 1.7 0 1 0 -3.4 0M71.0 287.7a1.7 1.7 0 1 0 3.4 0a1.7 1.7 0 1 0 -3.4 0M71.4 287.5a1.7 1.7 0 1 0 3.4 0a1.7 1.7 0 1 0 -3.4 0M71.7 287.4a1.7 1.7 0 1 0 3.4 0a1.7 1.7 0 1 0 -3.4 0M72.1 287.2a1.7 1.7 0 1 0 3.4 0a1.7 1.7 0 1 0 -3.4 0M72.4 286.9a1.7 1.7 0 1 0 3.4 0a1.7 1.7 0 1 0 -3.4 0M72.8 286.7a1.7 1.7 0 1 0 3.4 0a1.7 1.7 0 1 0 -3.4 0M73.1 286.5a1.7 1.7 0 1 0 3.4 0a1.7 1.7 0 1 0 -3.4 0M73.5 286.4a1.7 1.7 0 1 0 3.4 0a1.7 1.7 0 1 0 -3.4 0M73.8 286.3a1.7 1.7 0 1 0 3.4 0a1.7 1.7 0 1 0 -3.4 0M74.2 286.2a1.7 1.7 0 1 0 3.4 0a1.7 1.7 0 1 0 -3.4 0M74.5 286.2a1.7 1.7 0 1 0 3.4 0a1.7 1.7 0 1 0 -3.4 0M74.9 286.3a1.7 1.7 0 1 0 3.4 0a1.7 1.7 0 1 0 -3.4 0M75.2 286.4a1.7 1.7 0 1 0 3.4 0a1.7 1.7 0 1 0 -3.4 0M75.6 286.7a1.7 1.7 0 1 0 3.4 0a1.7 1.7 0 1 0 -3.4 0M75.9 286.9a1.7 1.7 0 1 0 3.4 0a1.7 1.7 0 1 0 -3.4 0M76.3 286.8a1.7 1.7 0 1 0 3.4 0a1.7 1.7 0 1 0 -3.4 0M76.6 287.6a1.7 1.7 0 1 0 3.4 0a1.7 1.7 0 1 0 -3.4 0M77.0 287.3a1.7 1.7 0 1 0 3.4 0a1.7 1.7 0 1 0 -3.4 0M77.3 287.9a1.7 1.7 0 1 0 3.4 0a1.7 1.7 0 1 0 -3.4 0M77.7 287.6a1.7 1.7 0 1 0 3.4 0a1.7 1.7 0 1 0 -3.4 0M78.0 287.7a1.7 1.7 0 1 0 3.4 0a1.7 1.7 0 1 0 -3.4 0M78.3 288.1a1.7 1.7 0 1 0 3.4 0a1.7 1.7 0 1 0 -3.4 0M79.5 289.0a1.7 1.7 0 1 0 3.4 0a1.7 1.7 0 1 0 -3.4 0M80.8 287.7a1.7 1.7 0 1 0 3.4 0a1.7 1.7 0 1 0 -3.4 0M82.0 286.7a1.7 1.7 0 1 0 3.4 0a1.7 1.7 0 1 0 -3.4 0M83.3 287.6a1.7 1.7 0 1 0 3.4 0a1.7 1.7 0 1 0 -3.4 0M84.5 284.9a1.7 1.7 0 1 0 3.4 0a1.7 1.7 0 1 0 -3.4 0M85.8 283.4a1.7 1.7 0 1 0 3.4 0a1.7 1.7 0 1 0 -3.4 0M87.0 282.5a1.7 1.7 0 1 0 3.4 0a1.7 1.7 0 1 0 -3.4 0M88.3 281.9a1.7 1.7 0 1 0 3.4 0a1.7 1.7 0 1 0 -3.4 0M89.5 279.6a1.7 1.7 0 1 0 3.4 0a1.7 1.7 0 1 0 -3.4 0M90.8 277.1a1.7 1.7 0 1 0 3.4 0a1.7 1.7 0 1 0 -3.4 0M92.0 275.6a1.7 1.7 0 1 0 3.4 0a1.7 1.7 0 1 0 -3.4 0M93.3 278.9a1.7 1.7 0 1 0 3.4 0a1.7 1.7 0 1 0 -3.4 0M94.5 281.3a1.7 1.7 0 1 0 3.4 0a1.7 1.7 0 1 0 -3.4 0M95.8 279.9a1.7 1.7 0 1 0 3.4 0a1.7 1.7 0 1 0 -3.4 0M97.0 273.5a1.7 1.7 0 1 0 3.4 0a1.7 1.7 0 1 0 -3.4 0M98.3 265.3a1.7 1.7 0 1 0 3.4 0a1.7 1.7 0 1 0 -3.4 0M99.5 259.7a1.7 1.7 0 1 0 3.4 0a1.7 1.7 0 1 0 -3.4 0M100.8 259.1a1.7 1.7 0 1 0 3.4 0a1.7 1.7 0 1 0 -3.4 0M102.0 251.5a1.7 1.7 0 1 0 3.4 0a1.7 1.7 0 1 0 -3.4 0M103.3 250.1a1.7 1.7 0 1 0 3.4 0a1.7 1.7 0 1 0 -3.4 0M104.5 258.6a1.7 1.7 0 1 0 3.4 0a1.7 1.7 0 1 0 -3.4 0M105.8 261.6a1.7 1.7 0 1 0 3.4 0a1.7 1.7 0 1 0 -3.4 0M107.0 257.3a1.7 1.7 0 1 0 3.4 0a1.7 1.7 0 1 0 -3.4 0M108.3 250.5a1.7 1.7 0 1 0 3.4 0a1.7 1.7 0 1 0 -3.4 0M109.5 241.4a1.7 1.7 0 1 0 3.4 0a1.7 1.7 0 1 0 -3.4 0M110.8 231.6a1.7 1.7 0 1 0 3.4 0a1.7 1.7 0 1 0 -3.4 0M112.0 222.5a1.7 1.7 0 1 0 3.4 0a1.7 1.7 0 1 0 -3.4 0M113.3 217.9a1.7 1.7 0 1 0 3.4 0a1.7 1.7 0 1 0 -3.4 0M114.5 224.8a1.7 1.7 0 1 0 3.4 0a1.7 1.7 0 1 0 -3.4 0M115.8 227.2a1.7 1.7 0 1 0 3.4 0a1.7 1.7 0 1 0 -3.4 0M117.0 225.2a1.7 1.7 0 1 0 3.4 0a1.7 1.7 0 1 0 -3.4 0M118.3 222.5a1.7 1.7 0 1 0 3.4 0a1.7 1.7 0 1 0 -3.4 0M119.5 220.1a1.7 1.7 0 1 0 3.4 0a1.7 1.7 0 1 0 -3.4 0M120.8 210.9a1.7 1.7 0 1 0 3.4 0a1.7 1.7 0 1 0 -3.4 0M122.0 197.9a1.7 1.7 0 1 0 3.4 0a1.7 1.7 0 1 0 -3.4 0M123.3 195.9a1.7 1.7 0 1 0 3.4 0a1.7 1.7 0 1 0 -3.4 0M124.5 194.9a1.7 1.7 0 1 0 3.4 0a1.7 1.7 0 1 0 -3.4 0M125.8 198.3a1.7 1.7 0 1 0 3.4 0a1.7 1.7 0 1 0 -3.4 0M127.0 203.5a1.7 1.7 0 1 0 3.4 0a1.7 1.7 0 1 0 -3.4 0M128.3 205.6a1.7 1.7 0 1 0 3.4 0a1.7 1.7 0 1 0 -3.4 0M129.6 205.1a1.7 1.7 0 1 0 3.4 0a1.7 1.7 0 1 0 -3.4 0M130.8 202.4a1.7 1.7 0 1 0 3.4 0a1.7 1.7 0 1 0 -3.4 0M132.1 198.5a1.7 1.7 0 1 0 3.4 0a1.7 1.7 0 1 0 -3.4 0M133.3 196.4a1.7 1.7 0 1 0 3.4 0a1.7 1.7 0 1 0 -3.4 0M134.6 196.7a1.7 1.7 0 1 0 3.4 0a1.7 1.7 0 1 0 -3.4 0M135.8 196.3a1.7 1.7 0 1 0 3.4 0a1.7 1.7 0 1 0 -3.4 0M137.1 200.4a1.7 1.7 0 1 0 3.4 0a1.7 1.7 0 1 0 -3.4 0M138.3 202.0a1.7 1.7 0 1 0 3.4 0a1.7 1.7 0 1 0 -3.4 0M139.6 201.6a1.7 1.7 0 1 0 3.4 0a1.7 1.7 0 1 0 -3.4 0M140.8 206.2a1.7 1.7 0 1 0 3.4 0a1.7 1.7 0 1 0 -3.4 0M142.1 204.5a1.7 1.7 0 1 0 3.4 0a1.7 1.7 0 1 0 -3.4 0M143.3 203.1a1.7 1.7 0 1 0 3.4 0a1.7 1.7 0 1 0 -3.4 0M144.6 197.1a1.7 1.7 0 1 0 3.4 0a1.7 1.7 0 1 0 -3.4 0M145.8 194.1a1.7 1.7 0 1 0 3.4 0a1.7 1.7 0 1 0 -3.4 0M147.1 193.8a1.7 1.7 0 1 0 3.4 0a1.7 1.7 0 1 0 -3.4 0M148.3 194.7a1.7 1.7 0 1 0 3.4 0a1.7 1.7 0 1 0 -3.4 0M149.6 198.8a1.7 1.7 0 1 0 3.4 0a1.7 1.7 0 1 0 -3.4 0M150.8 204.1a1.7 1.7 0 1 0 3.4 0a1.7 1.7 0 1 0 -3.4 0M152.1 208.4a1.7 1.7 0 1 0 3.4 0a1.7 1.7 0 1 0 -3.4 0M153.3 208.2a1.7 1.7 0 1 0 3.4 0a1.7 1.7 0 1 0 -3.4 0M154.6 202.5a1.7 1.7 0 1 0 3.4 0a1.7 1.7 0 1 0 -3.4 0M155.8 194.3a1.7 1.7 0 1 0 3.4 0a1.7 1.7 0 1 0 -3.4 0M157.1 192.1a1.7 1.7 0 1 0 3.4 0a1.7 1.7 0 1 0 -3.4 0M158.3 194.5a1.7 1.7 0 1 0 3.4 0a1.7 1.7 0 1 0 -3.4 0M159.6 198.4a1.7 1.7 0 1 0 3.4 0a1.7 1.7 0 1 0 -3.4 0M160.8 202.5a1.7 1.7 0 1 0 3.4 0a1.7 1.7 0 1 0 -3.4 0M162.1 208.1a1.7 1.7 0 1 0 3.4 0a1.7 1.7 0 1 0 -3.4 0M163.3 209.2a1.7 1.7 0 1 0 3.4 0a1.7 1.7 0 1 0 -3.4 0M164.6 206.9a1.7 1.7 0 1 0 3.4 0a1.7 1.7 0 1 0 -3.4 0M165.8 200.2a1.7 1.7 0 1 0 3.4 0a1.7 1.7 0 1 0 -3.4 0M167.1 192.3a1.7 1.7 0 1 0 3.4 0a1.7 1.7 0 1 0 -3.4 0M168.3 190.5a1.7 1.7 0 1 0 3.4 0a1.7 1.7 0 1 0 -3.4 0M169.6 191.6a1.7 1.7 0 1 0 3.4 0a1.7 1.7 0 1 0 -3.4 0M170.8 194.6a1.7 1.7 0 1 0 3.4 0a1.7 1.7 0 1 0 -3.4 0M172.1 199.5a1.7 1.7 0 1 0 3.4 0a1.7 1.7 0 1 0 -3.4 0M173.3 203.4a1.7 1.7 0 1 0 3.4 0a1.7 1.7 0 1 0 -3.4 0M174.6 206.6a1.7 1.7 0 1 0 3.4 0a1.7 1.7 0 1 0 -3.4 0M175.8 208.6a1.7 1.7 0 1 0 3.4 0a1.7 1.7 0 1 0 -3.4 0M177.1 203.6a1.7 1.7 0 1 0 3.4 0a1.7 1.7 0 1 0 -3.4 0M178.3 196.1a1.7 1.7 0 1 0 3.4 0a1.7 1.7 0 1 0 -3.4 0M179.6 193.5a1.7 1.7 0 1 0 3.4 0a1.7 1.7 0 1 0 -3.4 0M180.8 194.1a1.7 1.7 0 1 0 3.4 0a1.7 1.7 0 1 0 -3.4 0M182.1 196.6a1.7 1.7 0 1 0 3.4 0a1.7 1.7 0 1 0 -3.4 0M183.3 198.4a1.7 1.7 0 1 0 3.4 0a1.7 1.7 0 1 0 -3.4 0M184.6 202.8a1.7 1.7 0 1 0 3.4 0a1.7 1.7 0 1 0 -3.4 0M185.8 204.2a1.7 1.7 0 1 0 3.4 0a1.7 1.7 0 1 0 -3.4 0M187.1 205.8a1.7 1.7 0 1 0 3.4 0a1.7 1.7 0 1 0 -3.4 0M188.3 203.7a1.7 1.7 0 1 0 3.4 0a1.7 1.7 0 1 0 -3.4 0M189.6 198.1a1.7 1.7 0 1 0 3.4 0a1.7 1.7 0 1 0 -3.4 0M190.8 194.2a1.7 1.7 0 1 0 3.4 0a1.7 1.7 0 1 0 -3.4 0M192.1 194.7a1.7 1.7 0 1 0 3.4 0a1.7 1.7 0 1 0 -3.4 0M193.3 198.4a1.7 1.7 0 1 0 3.4 0a1.7 1.7 0 1 0 -3.4 0M194.6 201.1a1.7 1.7 0 1 0 3.4 0a1.7 1.7 0 1 0 -3.4 0M195.8 201.6a1.7 1.7 0 1 0 3.4 0a1.7 1.7 0 1 0 -3.4 0M197.1 203.1a1.7 1.7 0 1 0 3.4 0a1.7 1.7 0 1 0 -3.4 0M198.3 204.2a1.7 1.7 0 1 0 3.4 0a1.7 1.7 0 1 0 -3.4 0M199.6 201.3a1.7 1.7 0 1 0 3.4 0a1.7 1.7 0 1 0 -3.4 0M200.8 200.6a1.7 1.7 0 1 0 3.4 0a1.7 1.7 0 1 0 -3.4 0M202.1 198.0a1.7 1.7 0 1 0 3.4 0a1.7 1.7 0 1 0 -3.4 0M203.3 198.5a1.7 1.7 0 1 0 3.4 0a1.7 1.7 0 1 0 -3.4 0M204.6 198.8a1.7 1.7 0 1 0 3.4 0a1.7 1.7 0 1 0 -3.4 0M205.8 200.3a1.7 1.7 0 1 0 3.4 0a1.7 1.7 0 1 0 -3.4 0M207.1 201.4a1.7 1.7 0 1 0 3.4 0a1.7 1.7 0 1 0 -3.4 0M208.3 202.0a1.7 1.7 0 1 0 3.4 0a1.7 1.7 0 1 0 -3.4 0M209.6 206.0a1.7 1.7 0 1 0 3.4 0a1.7 1.7 0 1 0 -3.4 0M210.8 205.5a1.7 1.7 0 1 0 3.4 0a1.7 1.7 0 1 0 -3.4 0M212.1 202.8a1.7 1.7 0 1 0 3.4 0a1.7 1.7 0 1 0 -3.4 0M213.3 201.6a1.7 1.7 0 1 0 3.4 0a1.7 1.7 0 1 0 -3.4 0M214.6 197.9a1.7 1.7 0 1 0 3.4 0a1.7 1.7 0 1 0 -3.4 0M215.8 200.2a1.7 1.7 0 1 0 3.4 0a1.7 1.7 0 1 0 -3.4 0M217.1 200.1a1.7 1.7 0 1 0 3.4 0a1.7 1.7 0 1 0 -3.4 0M218.3 202.4a1.7 1.7 0 1 0 3.4 0a1.7 1.7 0 1 0 -3.4 0M219.6 201.4a1.7 1.7 0 1 0 3.4 0a1.7 1.7 0 1 0 -3.4 0M220.8 205.3a1.7 1.7 0 1 0 3.4 0a1.7 1.7 0 1 0 -3.4 0M222.1 205.8a1.7 1.7 0 1 0 3.4 0a1.7 1.7 0 1 0 -3.4 0M223.3 205.3a1.7 1.7 0 1 0 3.4 0a1.7 1.7 0 1 0 -3.4 0M224.6 202.8a1.7 1.7 0 1 0 3.4 0a1.7 1.7 0 1 0 -3.4 0M225.8 201.4a1.7 1.7 0 1 0 3.4 0a1.7 1.7 0 1 0 -3.4 0M227.1 199.4a1.7 1.7 0 1 0 3.4 0a1.7 1.7 0 1 0 -3.4 0M228.3 198.4a1.7 1.7 0 1 0 3.4 0a1.7 1.7 0 1 0 -3.4 0M229.6 199.2a1.7 1.7 0 1 0 3.4 0a1.7 1.7 0 1 0 -3.4 0M230.8 201.7a1.7 1.7 0 1 0 3.4 0a1.7 1.7 0 1 0 -3.4 0M232.1 204.2a1.7 1.7 0 1 0 3.4 0a1.7 1.7 0 1 0 -3.4 0M233.3 206.1a1.7 1.7 0 1 0 3.4 0a1.7 1.7 0 1 0 -3.4 0M234.6 205.0a1.7 1.7 0 1 0 3.4 0a1.7 1.7 0 1 0 -3.4 0M235.8 203.1a1.7 1.7 0 1 0 3.4 0a1.7 1.7 0 1 0 -3.4 0M237.1 199.3a1.7 1.7 0 1 0 3.4 0a1.7 1.7 0 1 0 -3.4 0M238.3 195.7a1.7 1.7 0 1 0 3.4 0a1.7 1.7 0 1 0 -3.4 0M239.6 195.6a1.7 1.7 0 1 0 3.4 0a1.7 1.7 0 1 0 -3.4 0M240.8 196.3a1.7 1.7 0 1 0 3.4 0a1.7 1.7 0 1 0 -3.4 0M242.1 199.3a1.7 1.7 0 1 0 3.4 0a1.7 1.7 0 1 0 -3.4 0M243.3 203.3a1.7 1.7 0 1 0 3.4 0a1.7 1.7 0 1 0 -3.4 0M244.6 204.2a1.7 1.7 0 1 0 3.4 0a1.7 1.7 0 1 0 -3.4 0M245.8 204.9a1.7 1.7 0 1 0 3.4 0a1.7 1.7 0 1 0 -3.4 0M247.1 204.7a1.7 1.7 0 1 0 3.4 0a1.7 1.7 0 1 0 -3.4 0M248.3 202.7a1.7 1.7 0 1 0 3.4 0a1.7 1.7 0 1 0 -3.4 0M249.6 200.6a1.7 1.7 0 1 0 3.4 0a1.7 1.7 0 1 0 -3.4 0M250.8 198.1a1.7 1.7 0 1 0 3.4 0a1.7 1.7 0 1 0 -3.4 0M252.1 198.6a1.7 1.7 0 1 0 3.4 0a1.7 1.7 0 1 0 -3.4 0M253.3 200.4a1.7 1.7 0 1 0 3.4 0a1.7 1.7 0 1 0 -3.4 0M254.6 203.3a1.7 1.7 0 1 0 3.4 0a1.7 1.7 0 1 0 -3.4 0M255.8 204.5a1.7 1.7 0 1 0 3.4 0a1.7 1.7 0 1 0 -3.4 0M257.1 204.4a1.7 1.7 0 1 0 3.4 0a1.7 1.7 0 1 0 -3.4 0M258.3 206.1a1.7 1.7 0 1 0 3.4 0a1.7 1.7 0 1 0 -3.4 0M259.6 202.0a1.7 1.7 0 1 0 3.4 0a1.7 1.7 0 1 0 -3.4 0M260.8 199.4a1.7 1.7 0 1 0 3.4 0a1.7 1.7 0 1 0 -3.4 0M262.1 196.7a1.7 1.7 0 1 0 3.4 0a1.7 1.7 0 1 0 -3.4 0M263.3 194.6a1.7 1.7 0 1 0 3.4 0a1.7 1.7 0 1 0 -3.4 0M264.6 197.8a1.7 1.7 0 1 0 3.4 0a1.7 1.7 0 1 0 -3.4 0M265.8 205.3a1.7 1.7 0 1 0 3.4 0a1.7 1.7 0 1 0 -3.4 0M267.1 206.8a1.7 1.7 0 1 0 3.4 0a1.7 1.7 0 1 0 -3.4 0M268.3 209.2a1.7 1.7 0 1 0 3.4 0a1.7 1.7 0 1 0 -3.4 0M269.6 211.6a1.7 1.7 0 1 0 3.4 0a1.7 1.7 0 1 0 -3.4 0M270.8 213.3a1.7 1.7 0 1 0 3.4 0a1.7 1.7 0 1 0 -3.4 0M272.1 214.3a1.7 1.7 0 1 0 3.4 0a1.7 1.7 0 1 0 -3.4 0M273.3 209.2a1.7 1.7 0 1 0 3.4 0a1.7 1.7 0 1 0 -3.4 0M274.6 204.9a1.7 1.7 0 1 0 3.4 0a1.7 1.7 0 1 0 -3.4 0M275.8 200.9a1.7 1.7 0 1 0 3.4 0a1.7 1.7 0 1 0 -3.4 0M277.1 203.1a1.7 1.7 0 1 0 3.4 0a1.7 1.7 0 1 0 -3.4 0M278.3 204.9a1.7 1.7 0 1 0 3.4 0a1.7 1.7 0 1 0 -3.4 0M279.6 209.1a1.7 1.7 0 1 0 3.4 0a1.7 1.7 0 1 0 -3.4 0M280.8 214.3a1.7 1.7 0 1 0 3.4 0a1.7 1.7 0 1 0 -3.4 0M282.1 215.8a1.7 1.7 0 1 0 3.4 0a1.7 1.7 0 1 0 -3.4 0M283.3 210.3a1.7 1.7 0 1 0 3.4 0a1.7 1.7 0 1 0 -3.4 0M284.6 203.1a1.7 1.7 0 1 0 3.4 0a1.7 1.7 0 1 0 -3.4 0M285.8 201.5a1.7 1.7 0 1 0 3.4 0a1.7 1.7 0 1 0 -3.4 0M287.1 209.4a1.7 1.7 0 1 0 3.4 0a1.7 1.7 0 1 0 -3.4 0M288.3 217.6a1.7 1.7 0 1 0 3.4 0a1.7 1.7 0 1 0 -3.4 0M289.6 223.8a1.7 1.7 0 1 0 3.4 0a1.7 1.7 0 1 0 -3.4 0M290.8 212.8a1.7 1.7 0 1 0 3.4 0a1.7 1.7 0 1 0 -3.4 0" stroke="#e377c2" stroke-width="1.1" fill="none"/>
<path d="M47.5,358.0 47.9,358.0 48.2,358.0 48.6,358.0 48.9,358.0 49.3,358.0 49.6,358.0 50.0,358.0 50.3,358.0 50.7,358.0 51.0,358.0 51.4,358.0 51.7,358.0 52.1,358.0 52.4,358.0 52.8,358.0 53.1,358.0 53.5,358.0 53.8,358.0 54.2,358.0 54.5,358.0 54.9,358.0 55.2,358.0 55.6,358.0 55.9,358.0 56.3,358.0 56.6,358.0 57.0,358.0 57.3,358.0 57.7,358.0 58.0,358.0 58.4,358.0 58.7,358.0 59.1,358.0 59.4,358.0 59.8,358.0 60.1,358.0 60.5,358.0 60.8,358.0 61.2,358.0 61.5,358.0 61.9,358.0 62.2,358.0 62.6,358.0 62.9,358.0 63.3,358.0 63.6,358.0 64.0,358.0 64.3,358.0 64.7,358.0 65.0,358.0 65.4,358.0 65.7,358.0 66.1,358.0 66.4,357.9 66.8,357.8 67.1,357.5 67.5,357.3 67.8,356.9 68.2,356.7 68.5,356.1 68.9,355.4 69.2,355.2 69.6,355.2 69.9,354.4 70.0,354.2 71.1,353.5 72.2,353.8 73.3,355.0 74.4,355.9 75.5,357.5 76.6,357.5 77.7,360.2 78.8,364.7 79.9,369.0 81.0,371.4 82.1,372.2 83.2,370.7 84.3,367.0 85.4,361.4 86.5,355.9 87.6,349.1 88.7,342.0 89.8,335.2 90.9,330.1 92.0,326.2 93.1,324.4 94.2,325.3 95.3,329.8 96.4,337.8 97.5,349.0 98.6,362.0 99.7,375.3 100.8,387.7 101.9,397.8 103.0,405.0 104.1,408.6 105.2,406.4 106.3,398.9 107.4,387.1 108.5,372.0 109.6,355.8 110.7,339.5 111.8,324.7 112.9,314.7 114.0,308.7 115.1,308.9 116.2,313.0 117.3,321.9 118.4,332.9 119.5,346.3 120.6,359.9 121.7,372.2 122.8,381.2 123.9,385.8 125.0,387.1 126.1,385.5 127.2,382.1 128.3,377.3 129.4,372.3 130.5,365.5 131.6,359.1 132.7,353.8 133.8,349.0 134.9,345.7 136.0,344.4 137.1,344.4 138.2,345.9 139.3,348.6 140.4,351.7 141.5,354.8 142.6,357.8 143.7,359.9 144.8,361.0 145.9,360.6 147.0,360.2 148.1,360.4 149.2,359.6 150.3,359.1 151.4,359.6 152.5,359.2 153.6,359.2 154.7,358.1 155.8,356.9 156.9,355.9 158.0,355.3 159.1,354.9 160.2,354.7 161.3,355.3 162.4,355.8 163.5,357.5 164.6,358.3 165.7,360.1 166.8,361.4 167.9,362.2 169.0,362.6 170.1,361.4 171.2,361.3 172.3,360.4 173.4,359.0 174.5,357.1 175.6,356.3 176.7,355.9 177.8,354.5 178.9,355.1 180.0,355.9 181.1,356.3 182.2,357.9 183.3,358.8 184.4,360.1 185.5,361.1 186.6,362.0 187.7,362.1 188.8,362.0 189.9,360.6 191.0,359.7 192.1,358.8 193.2,357.3 194.3,355.6 195.4,355.4 196.5,354.8 197.6,355.2 198.7,355.8 199.8,357.1 200.9,358.0 202.0,358.8 203.1,360.1 204.2,361.7 205.3,361.9 206.4,362.4 207.5,361.7 208.6,360.5 209.7,359.9 210.8,358.0 211.9,356.3 213.0,356.5 214.1,354.6 215.2,355.1 216.3,355.4 217.4,355.9 218.5,356.4 219.6,358.5 220.7,359.1 221.8,360.3 222.9,361.5 224.0,362.3 225.1,362.1 226.2,361.7 227.3,360.4 228.4,359.3 229.5,357.6 230.6,356.6 231.7,355.9 232.8,355.0 233.9,355.1 235.0,355.1 236.1,355.9 237.2,357.2 238.3,358.4 239.4,360.0 240.5,361.0 241.6,362.3 242.7,362.0 243.8,361.9 244.9,361.0 246.0,360.3 247.1,359.3 248.2,357.5 249.3,356.5 250.4,355.8 251.5,355.0 252.6,354.8 253.7,355.6 254.8,356.2 255.9,357.5 257.0,359.1 258.1,360.4 259.2,361.0 260.3,361.7 261.4,362.2 262.5,361.8 263.6,360.6 264.7,360.5 265.8,358.8 266.9,357.7 268.0,356.0 269.1,355.8 270.2,354.8 271.3,354.9 272.4,355.1 273.5,356.4 274.6,357.6 275.7,358.9 276.8,360.4 277.9,361.3 279.0,362.2 280.1,362.0 281.2,361.5 282.3,361.0" stroke="#d62728" stroke-width="0.8" fill="none" stroke-linejoin="round"/>
<path d="M47.5 358.0h0M47.9 358.0h0M48.2 358.0h0M48.6 358.0h0M48.9 358.0h0M49.3 358.0h0M49.6 358.0h0M50.0 358.0h0M50.3 358.0h0M50.7 358.0h0M51.0 358.0h0M51.4 358.0h0M51.7 358.0h0M52.1 358.0h0M52.4 358.0h0M52.8 358.0h0M53.1 358.0h0M53.5 358.0h0M53.8 358.0h0M54.2 358.0h0M54.5 358.0h0M54.9 358.0h0M55.2 358.0h0M55.6 358.0h0M55.9 358.0h0M56.3 358.0h0M56.6 358.0h0M57.0 358.0h0M57.3 358.0h0M57.7 358.0h0M58.0 358.0h0M58.4 358.0h0M58.7 358.0h0M59.1 358.0h0M59.4 358.0h0M59.8 358.0h0M60.1 358.0h0M60.5 358.0h0M60.8 358.0h0M61.2 358.0h0M61.5 358.0h0M61.9 358.0h0M62.2 358.0h0M62.6 358.0h0M62.9 358.0h0M63.3 358.0h0M63.6 358.0h0M64.0 358.0h0M64.3 358.0h0M64.7 358.0h0M65.0 358.0h0M65.4 358.0h0M65.7 358.0h0M66.1 358.0h0M66.4 357.9h0M66.8 357.8h0M67.1 357.5h0M67.5 357.3h0M67.8 356.9h0M68.2 356.7h0M68.5 356.1h0M68.9 355.4h0M69.2 355.2h0M69.6 355.2h0M69.9 354.4h0M70.0 354.2h0M71.1 353.5h0M72.2 353.8h0M73.3 355.0h0M74.4 355.9h0M75.5 357.5h0M76.6 357.5h0M77.7 360.2h0M78.8 364.7h0M79.9 369.0h0M81.0 371.4h0M82.1 372.2h0M83.2 370.7h0M84.3 367.0h0M85.4 361.4h0M86.5 355.9h0M87.6 349.1h0M88.7 342.0h0M89.8 335.2h0M90.9 330.1h0M92.0 326.2h0M93.1 324.4h0M94.2 325.3h0M95.3 329.8h0M96.4 337.8h0M97.5 349.0h0M98.6 362.0h0M99.7 375.3h0M100.8 387.7h0M101.9 397.8h0M103.0 405.0h0M104.1 408.6h0M105.2 406.4h0M106.3 398.9h0M107.4 387.1h0M108.5 372.0h0M109.6 355.8h0M110.7 339.5h0M111.8 324.7h0M112.9 314.7h0M114.0 308.7h0M115.1 308.9h0M116.2 313.0h0M117.3 321.9h0M118.4 332.9h0M119.5 346.3h0M120.6 359.9h0M121.7 372.2h0M122.8 381.2h0M123.9 385.8h0M125.0 387.1h0M126.1 385.5h0M127.2 382.1h0M128.3 377.3h0M129.4 372.3h0M130.5 365.5h0M131.6 359.1h0M132.7 353.8h0M133.8 349.0h0M134.9 345.7h0M136.0 344.4h0M137.1 344.4h0M138.2 345.9h0M139.3 348.6h0M140.4 351.7h0M141.5 354.8h0M142.6 357.8h0M143.7 359.9h0M144.8 361.0h0M145.9 360.6h0M147.0 360.2h0M148.1 360.4h0M149.2 359.6h0M150.3 359.1h0M151.4 359.6h0M152.5 359.2h0M153.6 359.2h0M154.7 358.1h0M155.8 356.9h0M156.9 355.9h0M158.0 355.3h0M159.1 354.9h0M160.2 354.7h0M161.3 355.3h0M162.4 355.8h0M163.5 357.5h0M164.6 358.3h0M165.7 360.1h0M166.8 361.4h0M167.9 362.2h0M169.0 362.6h0M170.1 361.4h0M171.2 361.3h0M172.3 360.4h0M173.4 359.0h0M174.5 357.1h0M175.6 356.3h0M176.7 355.9h0M177.8 354.5h0M178.9 355.1h0M180.0 355.9h0M181.1 356.3h0M182.2 357.9h0M183.3 358.8h0M184.4 360.1h0M185.5 361.1h0M186.6 362.0h0M187.7 362.1h0M188.8 362.0h0M189.9 360.6h0M191.0 359.7h0M192.1 358.8h0M193.2 357.3h0M194.3 355.6h0M195.4 355.4h0M196.5 354.8h0M197.6 355.2h0M198.7 355.8h0M199.8 357.1h0M200.9 358.0h0M202.0 358.8h0M203.1 360.1h0M204.2 361.7h0M205.3 361.9h0M206.4 362.4h0M207.5 361.7h0M208.6 360.5h0M209.7 359.9h0M210.8 358.0h0M211.9 356.3h0M213.0 356.5h0M214.1 354.6h0M215.2 355.1h0M216.3 355.4h0M217.4 355.9h0M218.5 356.4h0M219.6 358.5h0M220.7 359.1h0M221.8 360.3h0M222.9 361.5h0M224.0 362.3h0M225.1 362.1h0M226.2 361.7h0M227.3 360.4h0M228.4 359.3h0M229.5 357.6h0M230.6 356.6h0M231.7 355.9h0M232.8 355.0h0M233.9 355.1h0M235.0 355.1h0M236.1 355.9h0M237.2 357.2h0M238.3 358.4h0M239.4 360.0h0M240.5 361.0h0M241.6 362.3h0M242.7 362.0h0M243.8 361.9h0M244.9 361.0h0M246.0 360.3h0M247.1 359.3h0M248.2 357.5h0M249.3 356.5h0M250.4 355.8h0M251.5 355.0h0M252.6 354.8h0M253.7 355.6h0M254.8 356.2h0M255.9 357.5h0M257.0 359.1h0M258.1 360.4h0M259.2 361.0h0M260.3 361.7h0M261.4 362.2h0M262.5 361.8h0M263.6 360.6h0M264.7 360.5h0M265.8 358.8h0M266.9 357.7h0M268.0 356.0h0M269.1 355.8h0M270.2 354.8h0M271.3 354.9h0M272.4 355.1h0M273.5 356.4h0M274.6 357.6h0M275.7 358.9h0M276.8 360.4h0M277.9 361.3h0M279.0 362.2h0M280.1 362.0h0M281.2 361.5h0M282.3 361.0h0" stroke="#ff7f0e" stroke-width="3.80" stroke-linecap="round" fill="none"/>
<path d="M47.5,358.0 47.9,358.0 48.2,358.0 48.6,358.0 48.9,358.0 49.3,358.0 49.6,358.0 50.0,358.0 50.3,358.0 50.7,358.0 51.0,358.0 51.4,358.0 51.7,358.0 52.1,358.0 52.4,358.0 52.8,358.0 53.1,358.0 53.5,358.0 53.8,358.0 54.2,358.0 54.5,358.0 54.9,358.0 55.2,358.0 55.6,358.0 55.9,358.0 56.3,358.0 56.6,358.0 57.0,358.0 57.3,358.0 57.7,358.0 58.0,358.0 58.4,358.0 58.7,358.0 59.1,358.0 59.4,358.0 59.8,358.0 60.1,358.0 60.5,358.0 60.8,358.0 61.2,358.0 61.5,358.0 61.9,358.0 62.2,358.0 62.6,358.0 62.9,358.0 63.3,357.9 63.6,358.2 64.0,358.0 64.3,357.9 64.7,358.0 65.0,357.5 65.4,357.4 65.7,357.0 66.0,356.5 67.2,355.1 68.5,355.2 69.8,356.0 71.0,358.2 72.2,359.5 73.5,361.6 74.8,363.2 76.0,359.1 77.2,353.6 78.5,350.0 79.8,349.1 81.0,353.8 82.2,361.5 83.5,369.5 84.8,372.9 86.0,369.0 87.2,355.0 88.5,341.2 89.8,332.0 91.0,334.5 92.2,356.7 93.5,383.0 94.8,393.6 96.0,386.7 97.2,368.9 98.5,346.2 99.8,325.8 101.0,315.3 102.2,323.2 103.5,359.0 104.8,397.0 106.0,409.8 107.2,398.0 108.5,372.1 109.8,342.6 111.0,317.2 112.2,306.6 113.5,317.1 114.8,349.2 116.0,384.1 117.2,402.9 118.5,395.9 119.8,372.3 121.0,342.3 122.2,323.0 123.5,323.6 124.8,337.7 126.0,359.0 127.2,378.1 128.5,386.3 129.8,378.6 131.0,359.3 132.2,343.2 133.5,340.5 134.8,345.7 136.0,354.9 137.2,364.3 138.5,369.7 139.8,368.8 141.0,362.9 142.2,355.8 143.5,352.7 144.8,355.0 146.0,358.5 147.2,361.4 148.5,362.8 149.8,361.1 151.0,359.5 152.2,356.5 153.5,356.4 154.8,356.5 156.0,358.0 157.2,359.1 158.5,361.1 159.8,360.3 161.0,360.0 162.2,357.8 163.5,356.2 164.8,355.9 166.0,357.1 167.2,357.8 168.5,359.5 169.8,360.8 171.0,360.7 172.2,359.0 173.5,357.7 174.8,357.0 176.0,355.9 177.2,357.0 178.5,358.1 179.8,359.1 181.0,360.5 182.2,360.1 183.5,359.3 184.8,357.5 186.0,356.7 187.2,356.1 188.5,357.0 189.8,357.8 191.0,359.5 192.2,360.7 193.5,360.7 194.8,359.5 196.0,357.9 197.2,356.3 198.5,356.2 199.8,357.0 201.0,358.3 202.2,359.8 203.5,360.3 204.8,360.5 206.0,359.1 207.2,357.4 208.5,356.0 209.8,356.5 211.0,356.5 212.2,357.9 213.5,359.2 214.8,361.1 216.0,360.8 217.2,358.8 218.5,357.0 219.8,356.2 221.0,355.9 222.2,356.7 223.5,358.4 224.8,359.4 226.0,360.4 227.2,360.3 228.5,359.1 229.8,357.6 231.0,356.2 232.2,356.1 233.5,357.1 234.8,358.0 236.0,360.0 237.2,360.3 238.5,360.4 239.8,358.4 241.0,357.6 242.2,356.2 243.5,356.5 244.8,356.9 246.0,358.1 247.2,360.1 248.5,360.2 249.8,359.8 251.0,358.6 252.2,357.1 253.5,356.1 254.8,355.9 256.0,357.3 257.2,358.8 258.5,360.2 259.8,361.1 261.0,360.3 262.2,358.8 263.5,357.0 264.8,356.1 266.0,356.2 267.2,357.5 268.5,358.4 269.8,360.4 271.0,361.0 272.2,360.0 273.5,358.7 274.8,357.3 276.0,356.0" stroke="#1f77b4" stroke-width="0.8" fill="none" stroke-linejoin="round"/>
<path d="M47.5 358.0h0M47.9 358.0h0M48.2 358.0h0M48.6 358.0h0M48.9 358.0h0M49.3 358.0h0M49.6 358.0h0M50.0 358.0h0M50.3 358.0h0M50.7 358.0h0M51.0 358.0h0M51.4 358.0h0M51.7 358.0h0M52.1 358.0h0M52.4 358.0h0M52.8 358.0h0M53.1 358.0h0M53.5 358.0h0M53.8 358.0h0M54.2 358.0h0M54.5 358.0h0M54.9 358.0h0M55.2 358.0h0M55.6 358.0h0M55.9 358.0h0M56.3 358.0h0M56.6 358.0h0M57.0 358.0h0M57.3 358.0h0M57.7 358.0h0M58.0 358.0h0M58.4 358.0h0M58.7 358.0h0M59.1 358.0h0M59.4 358.0h0M59.8 358.0h0M60.1 358.0h0M60.5 358.0h0M60.8 358.0h0M61.2 358.0h0M61.5 358.0h0M61.9 358.0h0M62.2 358.0h0M62.6 358.0h0M62.9 358.0h0M63.3 357.9h0M63.6 358.2h0M64.0 358.0h0M64.3 357.9h0M64.7 358.0h0M65.0 357.5h0M65.4 357.4h0M65.7 357.0h0M66.0 356.5h0M67.2 355.1h0M68.5 355.2h0M69.8 356.0h0M71.0 358.2h0M72.2 359.5h0M73.5 361.6h0M74.8 363.2h0M76.0 359.1h0M77.2 353.6h0M78.5 350.0h0M79.8 349.1h0M81.0 353.8h0M82.2 361.5h0M83.5 369.5h0M84.8 372.9h0M86.0 369.0h0M87.2 355.0h0M88.5 341.2h0M89.8 332.0h0M91.0 334.5h0M92.2 356.7h0M93.5 383.0h0M94.8 393.6h0M96.0 386.7h0M97.2 368.9h0M98.5 346.2h0M99.8 325.8h0M101.0 315.3h0M102.2 323.2h0M103.5 359.0h0M104.8 397.0h0M106.0 409.8h0M107.2 398.0h0M108.5 372.1h0M109.8 342.6h0M111.0 317.2h0M112.2 306.6h0M113.5 317.1h0M114.8 349.2h0M116.0 384.1h0M117.2 402.9h0M118.5 395.9h0M119.8 372.3h0M121.0 342.3h0M122.2 323.0h0M123.5 323.6h0M124.8 337.7h0M126.0 359.0h0M127.2 378.1h0M128.5 386.3h0M129.8 378.6h0M131.0 359.3h0M132.2 343.2h0M133.5 340.5h0M134.8 345.7h0M136.0 354.9h0M137.2 364.3h0M138.5 369.7h0M139.8 368.8h0M141.0 362.9h0M142.2 355.8h0M143.5 352.7h0M144.8 355.0h0M146.0 358.5h0M147.2 361.4h0M148.5 362.8h0M149.8 361.1h0M151.0 359.5h0M152.2 356.5h0M153.5 356.4h0M154.8 356.5h0M156.0 358.0h0M157.2 359.1h0M158.5 361.1h0M159.8 360.3h0M161.0 360.0h0M162.2 357.8h0M163.5 356.2h0M164.8 355.9h0M166.0 357.1h0M167.2 357.8h0M168.5 359.5h0M169.8 360.8h0M171.0 360.7h0M172.2 359.0h0M173.5 357.7h0M174.8 357.0h0M176.0 355.9h0M177.2 357.0h0M178.5 358.1h0M179.8 359.1h0M181.0 360.5h0M182.2 360.1h0M183.5 359.3h0M184.8 357.5h0M186.0 356.7h0M187.2 356.1h0M188.5 357.0h0M189.8 357.8h0M191.0 359.5h0M192.2 360.7h0M193.5 360.7h0M194.8 359.5h0M196.0 357.9h0M197.2 356.3h0M198.5 356.2h0M199.8 357.0h0M201.0 358.3h0M202.2 359.8h0M203.5 360.3h0M204.8 360.5h0M206.0 359.1h0M207.2 357.4h0M208.5 356.0h0M209.8 356.5h0M211.0 356.5h0M212.2 357.9h0M213.5 359.2h0M214.8 361.1h0M216.0 360.8h0M217.2 358.8h0M218.5 357.0h0M219.8 356.2h0M221.0 355.9h0M222.2 356.7h0M223.5 358.4h0M224.8 359.4h0M226.0 360.4h0M227.2 360.3h0M228.5 359.1h0M229.8 357.6h0M231.0 356.2h0M232.2 356.1h0M233.5 357.1h0M234.8 358.0h0M236.0 360.0h0M237.2 360.3h0M238.5 360.4h0M239.8 358.4h0M241.0 357.6h0M242.2 356.2h0M243.5 356.5h0M244.8 356.9h0M246.0 358.1h0M247.2 360.1h0M248.5 360.2h0M249.8 359.8h0M251.0 358.6h0M252.2 357.1h0M253.5 356.1h0M254.8 355.9h0M256.0 357.3h0M257.2 358.8h0M258.5 360.2h0M259.8 361.1h0M261.0 360.3h0M262.2 358.8h0M263.5 357.0h0M264.8 356.1h0M266.0 356.2h0M267.2 357.5h0M268.5 358.4h0M269.8 360.4h0M271.0 361.0h0M272.2 360.0h0M273.5 358.7h0M274.8 357.3h0M276.0 356.0h0" stroke="#17becf" stroke-width="3.80" stroke-linecap="round" fill="none"/>
<path d="M45.8 358.0a1.7 1.7 0 1 0 3.4 0a1.7 1.7 0 1 0 -3.4 0M46.1 358.0a1.7 1.7 0 1 0 3.4 0a1.7 1.7 0 1 0 -3.4 0M46.5 358.0a1.7 1.7 0 1 0 3.4 0a1.7 1.7 0 1 0 -3.4 0M46.9 358.0a1.7 1.7 0 1 0 3.4 0a1.7 1.7 0 1 0 -3.4 0M47.2 358.0a1.7 1.7 0 1 0 3.4 0a1.7 1.7 0 1 0 -3.4 0M47.6 358.0a1.7 1.7 0 1 0 3.4 0a1.7 1.7 0 1 0 -3.4 0M47.9 358.0a1.7 1.7 0 1 0 3.4 0a1.7 1.7 0 1 0 -3.4 0M48.3 358.0a1.7 1.7 0 1 0 3.4 0a1.7 1.7 0 1 0 -3.4 0M48.6 358.0a1.7 1.7 0 1 0 3.4 0a1.7 1.7 0 1 0 -3.4 0M49.0 358.0a1.7 1.7 0 1 0 3.4 0a1.7 1.7 0 1 0 -3.4 0M49.3 358.0a1.7 1.7 0 1 0 3.4 0a1.7 1.7 0 1 0 -3.4 0M49.7 358.0a1.7 1.7 0 1 0 3.4 0a1.7 1.7 0 1 0 -3.4 0M50.0 358.0a1.7 1.7 0 1 0 3.4 0a1.7 1.7 0 1 0 -3.4 0M50.4 358.0a1.7 1.7 0 1 0 3.4 0a1.7 1.7 0 1 0 -3.4 0M50.7 358.0a1.7 1.7 0 1 0 3.4 0a1.7 1.7 0 1 0 -3.4 0M51.1 358.0a1.7 1.7 0 1 0 3.4 0a1.7 1.7 0 1 0 -3.4 0M51.4 358.0a1.7 1.7 0 1 0 3.4 0a1.7 1.7 0 1 0 -3.4 0M51.8 358.0a1.7 1.7 0 1 0 3.4 0a1.7 1.7 0 1 0 -3.4 0M52.1 358.0a1.7 1.7 0 1 0 3.4 0a1.7 1.7 0 1 0 -3.4 0M52.5 358.0a1.7 1.7 0 1 0 3.4 0a1.7 1.7 0 1 0 -3.4 0M52.8 358.0a1.7 1.7 0 1 0 3.4 0a1.7 1.7 0 1 0 -3.4 0M53.2 358.0a1.7 1.7 0 1 0 3.4 0a1.7 1.7 0 1 0 -3.4 0M53.5 358.0a1.7 1.7 0 1 0 3.4 0a1.7 1.7 0 1 0 -3.4 0M53.9 358.0a1.7 1.7 0 1 0 3.4 0a1.7 1.7 0 1 0 -3.4 0M54.2 358.0a1.7 1.7 0 1 0 3.4 0a1.7 1.7 0 1 0 -3.4 0M54.6 358.0a1.7 1.7 0 1 0 3.4 0a1.7 1.7 0 1 0 -3.4 0M54.9 358.0a1.7 1.7 0 1 0 3.4 0a1.7 1.7 0 1 0 -3.4 0M55.3 358.0a1.7 1.7 0 1 0 3.4 0a1.7 1.7 0 1 0 -3.4 0M55.6 358.0a1.7 1.7 0 1 0 3.4 0a1.7 1.7 0 1 0 -3.4 0M56.0 358.0a1.7 1.7 0 1 0 3.4 0a1.7 1.7 0 1 0 -3.4 0M56.3 358.0a1.7 1.7 0 1 0 3.4 0a1.7 1.7 0 1 0 -3.4 0M56.7 358.0a1.7 1.7 0 1 0 3.4 0a1.7 1.7 0 1 0 -3.4 0M57.0 358.0a1.7 1.7 0 1 0 3.4 0a1.7 1.7 0 1 0 -3.4 0M57.4 358.0a1.7 1.7 0 1 0 3.4 0a1.7 1.7 0 1 0 -3.4 0M57.7 358.0a1.7 1.7 0 1 0 3.4 0a1.7 1.7 0 1 0 -3.4 0M58.1 358.0a1.7 1.7 0 1 0 3.4 0a1.7 1.7 0 1 0 -3.4 0M58.4 358.0a1.7 1.7 0 1 0 3.4 0a1.7 1.7 0 1 0 -3.4 0M58.8 358.0a1.7 1.7 0 1 0 3.4 0a1.7 1.7 0 1 0 -3.4 0M59.1 358.0a1.7 1.7 0 1 0 3.4 0a1.7 1.7 0 1 0 -3.4 0M59.5 358.0a1.7 1.7 0 1 0 3.4 0a1.7 1.7 0 1 0 -3.4 0M59.8 358.0a1.7 1.7 0 1 0 3.4 0a1.7 1.7 0 1 0 -3.4 0M60.2 358.0a1.7 1.7 0 1 0 3.4 0a1.7 1.7 0 1 0 -3.4 0M60.5 358.0a1.7 1.7 0 1 0 3.4 0a1.7 1.7 0 1 0 -3.4 0M60.9 358.0a1.7 1.7 0 1 0 3.4 0a1.7 1.7 0 1 0 -3.4 0M61.2 358.0a1.7 1.7 0 1 0 3.4 0a1.7 1.7 0 1 0 -3.4 0M61.6 358.0a1.7 1.7 0 1 0 3.4 0a1.7 1.7 0 1 0 -3.4 0M61.9 358.0a1.7 1.7 0 1 0 3.4 0a1.7 1.7 0 1 0 -3.4 0M62.3 358.0a1.7 1.7 0 1 0 3.4 0a1.7 1.7 0 1 0 -3.4 0M62.6 358.0a1.7 1.7 0 1 0 3.4 0a1.7 1.7 0 1 0 -3.4 0M63.0 358.0a1.7 1.7 0 1 0 3.4 0a1.7 1.7 0 1 0 -3.4 0M63.3 357.6a1.7 1.7 0 1 0 3.4 0a1.7 1.7 0 1 0 -3.4 0M63.7 357.4a1.7 1.7 0 1 0 3.4 0a1.7 1.7 0 1 0 -3.4 0M64.0 357.1a1.7 1.7 0 1 0 3.4 0a1.7 1.7 0 1 0 -3.4 0M64.3 357.0a1.7 1.7 0 1 0 3.4 0a1.7 1.7 0 1 0 -3.4 0M65.5 355.3a1.7 1.7 0 1 0 3.4 0a1.7 1.7 0 1 0 -3.4 0M66.8 355.6a1.7 1.7 0 1 0 3.4 0a1.7 1.7 0 1 0 -3.4 0M68.0 356.2a1.7 1.7 0 1 0 3.4 0a1.7 1.7 0 1 0 -3.4 0M69.3 358.0a1.7 1.7 0 1 0 3.4 0a1.7 1.7 0 1 0 -3.4 0M70.5 359.2a1.7 1.7 0 1 0 3.4 0a1.7 1.7 0 1 0 -3.4 0M71.8 362.4a1.7 1.7 0 1 0 3.4 0a1.7 1.7 0 1 0 -3.4 0M73.0 362.7a1.7 1.7 0 1 0 3.4 0a1.7 1.7 0 1 0 -3.4 0M74.3 359.5a1.7 1.7 0 1 0 3.4 0a1.7 1.7 0 1 0 -3.4 0M75.5 354.4a1.7 1.7 0 1 0 3.4 0a1.7 1.7 0 1 0 -3.4 0M76.8 350.3a1.7 1.7 0 1 0 3.4 0a1.7 1.7 0 1 0 -3.4 0M78.0 349.4a1.7 1.7 0 1 0 3.4 0a1.7 1.7 0 1 0 -3.4 0M79.3 353.6a1.7 1.7 0 1 0 3.4 0a1.7 1.7 0 1 0 -3.4 0M80.5 361.9a1.7 1.7 0 1 0 3.4 0a1.7 1.7 0 1 0 -3.4 0M81.8 369.5a1.7 1.7 0 1 0 3.4 0a1.7 1.7 0 1 0 -3.4 0M83.0 373.0a1.7 1.7 0 1 0 3.4 0a1.7 1.7 0 1 0 -3.4 0M84.3 368.0a1.7 1.7 0 1 0 3.4 0a1.7 1.7 0 1 0 -3.4 0M85.5 355.3a1.7 1.7 0 1 0 3.4 0a1.7 1.7 0 1 0 -3.4 0M86.8 340.7a1.7 1.7 0 1 0 3.4 0a1.7 1.7 0 1 0 -3.4 0M88.0 331.7a1.7 1.7 0 1 0 3.4 0a1.7 1.7 0 1 0 -3.4 0M89.3 335.2a1.7 1.7 0 1 0 3.4 0a1.7 1.7 0 1 0 -3.4 0M90.5 356.9a1.7 1.7 0 1 0 3.4 0a1.7 1.7 0 1 0 -3.4 0M91.8 383.0a1.7 1.7 0 1 0 3.4 0a1.7 1.7 0 1 0 -3.4 0M93.0 393.6a1.7 1.7 0 1 0 3.4 0a1.7 1.7 0 1 0 -3.4 0M94.3 386.7a1.7 1.7 0 1 0 3.4 0a1.7 1.7 0 1 0 -3.4 0M95.5 368.5a1.7 1.7 0 1 0 3.4 0a1.7 1.7 0 1 0 -3.4 0M96.8 345.5a1.7 1.7 0 1 0 3.4 0a1.7 1.7 0 1 0 -3.4 0M98.0 326.1a1.7 1.7 0 1 0 3.4 0a1.7 1.7 0 1 0 -3.4 0M99.3 315.5a1.7 1.7 0 1 0 3.4 0a1.7 1.7 0 1 0 -3.4 0M100.5 323.5a1.7 1.7 0 1 0 3.4 0a1.7 1.7 0 1 0 -3.4 0M101.8 358.4a1.7 1.7 0 1 0 3.4 0a1.7 1.7 0 1 0 -3.4 0M103.0 397.1a1.7 1.7 0 1 0 3.4 0a1.7 1.7 0 1 0 -3.4 0M104.3 409.5a1.7 1.7 0 1 0 3.4 0a1.7 1.7 0 1 0 -3.4 0M105.5 398.2a1.7 1.7 0 1 0 3.4 0a1.7 1.7 0 1 0 -3.4 0M106.8 372.1a1.7 1.7 0 1 0 3.4 0a1.7 1.7 0 1 0 -3.4 0M108.0 342.1a1.7 1.7 0 1 0 3.4 0a1.7 1.7 0 1 0 -3.4 0M109.3 317.1a1.7 1.7 0 1 0 3.4 0a1.7 1.7 0 1 0 -3.4 0M110.5 306.4a1.7 1.7 0 1 0 3.4 0a1.7 1.7 0 1 0 -3.4 0M111.8 317.1a1.7 1.7 0 1 0 3.4 0a1.7 1.7 0 1 0 -3.4 0M113.0 349.1a1.7 1.7 0 1 0 3.4 0a1.7 1.7 0 1 0 -3.4 0M114.3 384.2a1.7 1.7 0 1 0 3.4 0a1.7 1.7 0 1 0 -3.4 0M115.5 402.9a1.7 1.7 0 1 0 3.4 0a1.7 1.7 0 1 0 -3.4 0M116.8 396.5a1.7 1.7 0 1 0 3.4 0a1.7 1.7 0 1 0 -3.4 0M118.0 371.6a1.7 1.7 0 1 0 3.4 0a1.7 1.7 0 1 0 -3.4 0M119.3 342.2a1.7 1.7 0 1 0 3.4 0a1.7 1.7 0 1 0 -3.4 0M120.5 323.4a1.7 1.7 0 1 0 3.4 0a1.7 1.7 0 1 0 -3.4 0M121.8 322.8a1.7 1.7 0 1 0 3.4 0a1.7 1.7 0 1 0 -3.4 0M123.0 337.1a1.7 1.7 0 1 0 3.4 0a1.7 1.7 0 1 0 -3.4 0M124.3 359.1a1.7 1.7 0 1 0 3.4 0a1.7 1.7 0 1 0 -3.4 0M125.5 377.6a1.7 1.7 0 1 0 3.4 0a1.7 1.7 0 1 0 -3.4 0M126.8 385.9a1.7 1.7 0 1 0 3.4 0a1.7 1.7 0 1 0 -3.4 0M128.1 378.8a1.7 1.7 0 1 0 3.4 0a1.7 1.7 0 1 0 -3.4 0M129.3 359.6a1.7 1.7 0 1 0 3.4 0a1.7 1.7 0 1 0 -3.4 0M130.6 343.1a1.7 1.7 0 1 0 3.4 0a1.7 1.7 0 1 0 -3.4 0M131.8 339.6a1.7 1.7 0 1 0 3.4 0a1.7 1.7 0 1 0 -3.4 0M133.1 345.2a1.7 1.7 0 1 0 3.4 0a1.7 1.7 0 1 0 -3.4 0M134.3 354.4a1.7 1.7 0 1 0 3.4 0a1.7 1.7 0 1 0 -3.4 0M135.6 363.8a1.7 1.7 0 1 0 3.4 0a1.7 1.7 0 1 0 -3.4 0M136.8 369.4a1.7 1.7 0 1 0 3.4 0a1.7 1.7 0 1 0 -3.4 0M138.1 368.2a1.7 1.7 0 1 0 3.4 0a1.7 1.7 0 1 0 -3.4 0M139.3 362.8a1.7 1.7 0 1 0 3.4 0a1.7 1.7 0 1 0 -3.4 0M140.6 355.6a1.7 1.7 0 1 0 3.4 0a1.7 1.7 0 1 0 -3.4 0M141.8 352.3a1.7 1.7 0 1 0 3.4 0a1.7 1.7 0 1 0 -3.4 0M143.1 355.4a1.7 1.7 0 1 0 3.4 0a1.7 1.7 0 1 0 -3.4 0M144.3 359.1a1.7 1.7 0 1 0 3.4 0a1.7 1.7 0 1 0 -3.4 0M145.6 361.9a1.7 1.7 0 1 0 3.4 0a1.7 1.7 0 1 0 -3.4 0M146.8 362.6a1.7 1.7 0 1 0 3.4 0a1.7 1.7 0 1 0 -3.4 0M148.1 360.6a1.7 1.7 0 1 0 3.4 0a1.7 1.7 0 1 0 -3.4 0M149.3 359.3a1.7 1.7 0 1 0 3.4 0a1.7 1.7 0 1 0 -3.4 0M150.6 356.8a1.7 1.7 0 1 0 3.4 0a1.7 1.7 0 1 0 -3.4 0M151.8 355.7a1.7 1.7 0 1 0 3.4 0a1.7 1.7 0 1 0 -3.4 0M153.1 356.6a1.7 1.7 0 1 0 3.4 0a1.7 1.7 0 1 0 -3.4 0M154.3 357.5a1.7 1.7 0 1 0 3.4 0a1.7 1.7 0 1 0 -3.4 0M155.6 359.3a1.7 1.7 0 1 0 3.4 0a1.7 1.7 0 1 0 -3.4 0M156.8 360.4a1.7 1.7 0 1 0 3.4 0a1.7 1.7 0 1 0 -3.4 0M158.1 360.8a1.7 1.7 0 1 0 3.4 0a1.7 1.7 0 1 0 -3.4 0M159.3 359.5a1.7 1.7 0 1 0 3.4 0a1.7 1.7 0 1 0 -3.4 0M160.6 357.9a1.7 1.7 0 1 0 3.4 0a1.7 1.7 0 1 0 -3.4 0M161.8 356.9a1.7 1.7 0 1 0 3.4 0a1.7 1.7 0 1 0 -3.4 0M163.1 356.0a1.7 1.7 0 1 0 3.4 0a1.7 1.7 0 1 0 -3.4 0M164.3 356.5a1.7 1.7 0 1 0 3.4 0a1.7 1.7 0 1 0 -3.4 0M165.6 358.2a1.7 1.7 0 1 0 3.4 0a1.7 1.7 0 1 0 -3.4 0M166.8 359.3a1.7 1.7 0 1 0 3.4 0a1.7 1.7 0 1 0 -3.4 0M168.1 360.2a1.7 1.7 0 1 0 3.4 0a1.7 1.7 0 1 0 -3.4 0M169.3 360.6a1.7 1.7 0 1 0 3.4 0a1.7 1.7 0 1 0 -3.4 0M170.6 359.2a1.7 1.7 0 1 0 3.4 0a1.7 1.7 0 1 0 -3.4 0M171.8 358.0a1.7 1.7 0 1 0 3.4 0a1.7 1.7 0 1 0 -3.4 0M173.1 356.6a1.7 1.7 0 1 0 3.4 0a1.7 1.7 0 1 0 -3.4 0M174.3 355.9a1.7 1.7 0 1 0 3.4 0a1.7 1.7 0 1 0 -3.4 0M175.6 357.0a1.7 1.7 0 1 0 3.4 0a1.7 1.7 0 1 0 -3.4 0M176.8 358.0a1.7 1.7 0 1 0 3.4 0a1.7 1.7 0 1 0 -3.4 0M178.1 359.8a1.7 1.7 0 1 0 3.4 0a1.7 1.7 0 1 0 -3.4 0M179.3 360.3a1.7 1.7 0 1 0 3.4 0a1.7 1.7 0 1 0 -3.4 0M180.6 360.4a1.7 1.7 0 1 0 3.4 0a1.7 1.7 0 1 0 -3.4 0M181.8 359.4a1.7 1.7 0 1 0 3.4 0a1.7 1.7 0 1 0 -3.4 0M183.1 357.5a1.7 1.7 0 1 0 3.4 0a1.7 1.7 0 1 0 -3.4 0M184.3 356.4a1.7 1.7 0 1 0 3.4 0a1.7 1.7 0 1 0 -3.4 0M185.6 356.1a1.7 1.7 0 1 0 3.4 0a1.7 1.7 0 1 0 -3.4 0M186.8 356.5a1.7 1.7 0 1 0 3.4 0a1.7 1.7 0 1 0 -3.4 0M188.1 358.1a1.7 1.7 0 1 0 3.4 0a1.7 1.7 0 1 0 -3.4 0M189.3 359.5a1.7 1.7 0 1 0 3.4 0a1.7 1.7 0 1 0 -3.4 0M190.6 360.2a1.7 1.7 0 1 0 3.4 0a1.7 1.7 0 1 0 -3.4 0M191.8 360.3a1.7 1.7 0 1 0 3.4 0a1.7 1.7 0 1 0 -3.4 0M193.1 359.4a1.7 1.7 0 1 0 3.4 0a1.7 1.7 0 1 0 -3.4 0M194.3 357.5a1.7 1.7 0 1 0 3.4 0a1.7 1.7 0 1 0 -3.4 0M195.6 356.4a1.7 1.7 0 1 0 3.4 0a1.7 1.7 0 1 0 -3.4 0M196.8 355.7a1.7 1.7 0 1 0 3.4 0a1.7 1.7 0 1 0 -3.4 0M198.1 356.4a1.7 1.7 0 1 0 3.4 0a1.7 1.7 0 1 0 -3.4 0M199.3 358.0a1.7 1.7 0 1 0 3.4 0a1.7 1.7 0 1 0 -3.4 0M200.6 359.4a1.7 1.7 0 1 0 3.4 0a1.7 1.7 0 1 0 -3.4 0M201.8 360.3a1.7 1.7 0 1 0 3.4 0a1.7 1.7 0 1 0 -3.4 0M203.1 360.4a1.7 1.7 0 1 0 3.4 0a1.7 1.7 0 1 0 -3.4 0M204.3 359.8a1.7 1.7 0 1 0 3.4 0a1.7 1.7 0 1 0 -3.4 0M205.6 357.7a1.7 1.7 0 1 0 3.4 0a1.7 1.7 0 1 0 -3.4 0M206.8 356.4a1.7 1.7 0 1 0 3.4 0a1.7 1.7 0 1 0 -3.4 0M208.1 355.8a1.7 1.7 0 1 0 3.4 0a1.7 1.7 0 1 0 -3.4 0M209.3 357.0a1.7 1.7 0 1 0 3.4 0a1.7 1.7 0 1 0 -3.4 0M210.6 357.3a1.7 1.7 0 1 0 3.4 0a1.7 1.7 0 1 0 -3.4 0M211.8 359.1a1.7 1.7 0 1 0 3.4 0a1.7 1.7 0 1 0 -3.4 0M213.1 360.2a1.7 1.7 0 1 0 3.4 0a1.7 1.7 0 1 0 -3.4 0M214.3 360.3a1.7 1.7 0 1 0 3.4 0a1.7 1.7 0 1 0 -3.4 0M215.6 359.7a1.7 1.7 0 1 0 3.4 0a1.7 1.7 0 1 0 -3.4 0M216.8 357.7a1.7 1.7 0 1 0 3.4 0a1.7 1.7 0 1 0 -3.4 0M218.1 356.4a1.7 1.7 0 1 0 3.4 0a1.7 1.7 0 1 0 -3.4 0M219.3 355.1a1.7 1.7 0 1 0 3.4 0a1.7 1.7 0 1 0 -3.4 0M220.6 357.2a1.7 1.7 0 1 0 3.4 0a1.7 1.7 0 1 0 -3.4 0M221.8 358.1a1.7 1.7 0 1 0 3.4 0a1.7 1.7 0 1 0 -3.4 0M223.1 359.4a1.7 1.7 0 1 0 3.4 0a1.7 1.7 0 1 0 -3.4 0M224.3 360.4a1.7 1.7 0 1 0 3.4 0a1.7 1.7 0 1 0 -3.4 0M225.6 360.6a1.7 1.7 0 1 0 3.4 0a1.7 1.7 0 1 0 -3.4 0M226.8 358.7a1.7 1.7 0 1 0 3.4 0a1.7 1.7 0 1 0 -3.4 0M228.1 357.2a1.7 1.7 0 1 0 3.4 0a1.7 1.7 0 1 0 -3.4 0M229.3 356.3a1.7 1.7 0 1 0 3.4 0a1.7 1.7 0 1 0 -3.4 0M230.6 356.1a1.7 1.7 0 1 0 3.4 0a1.7 1.7 0 1 0 -3.4 0M231.8 357.4a1.7 1.7 0 1 0 3.4 0a1.7 1.7 0 1 0 -3.4 0M233.1 358.3a1.7 1.7 0 1 0 3.4 0a1.7 1.7 0 1 0 -3.4 0M234.3 359.5a1.7 1.7 0 1 0 3.4 0a1.7 1.7 0 1 0 -3.4 0M235.6 360.6a1.7 1.7 0 1 0 3.4 0a1.7 1.7 0 1 0 -3.4 0M236.8 359.8a1.7 1.7 0 1 0 3.4 0a1.7 1.7 0 1 0 -3.4 0M238.1 358.9a1.7 1.7 0 1 0 3.4 0a1.7 1.7 0 1 0 -3.4 0M239.3 357.7a1.7 1.7 0 1 0 3.4 0a1.7 1.7 0 1 0 -3.4 0M240.6 356.5a1.7 1.7 0 1 0 3.4 0a1.7 1.7 0 1 0 -3.4 0M241.8 356.3a1.7 1.7 0 1 0 3.4 0a1.7 1.7 0 1 0 -3.4 0M243.1 357.2a1.7 1.7 0 1 0 3.4 0a1.7 1.7 0 1 0 -3.4 0M244.3 358.0a1.7 1.7 0 1 0 3.4 0a1.7 1.7 0 1 0 -3.4 0M245.6 359.2a1.7 1.7 0 1 0 3.4 0a1.7 1.7 0 1 0 -3.4 0M246.8 360.7a1.7 1.7 0 1 0 3.4 0a1.7 1.7 0 1 0 -3.4 0M248.1 359.7a1.7 1.7 0 1 0 3.4 0a1.7 1.7 0 1 0 -3.4 0M249.3 359.3a1.7 1.7 0 1 0 3.4 0a1.7 1.7 0 1 0 -3.4 0M250.6 357.5a1.7 1.7 0 1 0 3.4 0a1.7 1.7 0 1 0 -3.4 0M251.8 356.5a1.7 1.7 0 1 0 3.4 0a1.7 1.7 0 1 0 -3.4 0M253.1 356.5a1.7 1.7 0 1 0 3.4 0a1.7 1.7 0 1 0 -3.4 0M254.3 357.1a1.7 1.7 0 1 0 3.4 0a1.7 1.7 0 1 0 -3.4 0M255.6 358.8a1.7 1.7 0 1 0 3.4 0a1.7 1.7 0 1 0 -3.4 0M256.8 360.1a1.7 1.7 0 1 0 3.4 0a1.7 1.7 0 1 0 -3.4 0M258.1 360.7a1.7 1.7 0 1 0 3.4 0a1.7 1.7 0 1 0 -3.4 0M259.3 360.4a1.7 1.7 0 1 0 3.4 0a1.7 1.7 0 1 0 -3.4 0M260.6 358.5a1.7 1.7 0 1 0 3.4 0a1.7 1.7 0 1 0 -3.4 0M261.8 357.1a1.7 1.7 0 1 0 3.4 0a1.7 1.7 0 1 0 -3.4 0M263.1 356.4a1.7 1.7 0 1 0 3.4 0a1.7 1.7 0 1 0 -3.4 0M264.3 356.1a1.7 1.7 0 1 0 3.4 0a1.7 1.7 0 1 0 -3.4 0M265.6 357.2a1.7 1.7 0 1 0 3.4 0a1.7 1.7 0 1 0 -3.4 0M266.8 359.1a1.7 1.7 0 1 0 3.4 0a1.7 1.7 0 1 0 -3.4 0M268.1 359.9a1.7 1.7 0 1 0 3.4 0a1.7 1.7 0 1 0 -3.4 0M269.3 360.1a1.7 1.7 0 1 0 3.4 0a1.7 1.7 0 1 0 -3.4 0M270.6 360.3a1.7 1.7 0 1 0 3.4 0a1.7 1.7 0 1 0 -3.4 0M271.8 358.6a1.7 1.7 0 1 0 3.4 0a1.7 1.7 0 1 0 -3.4 0M273.1 357.8a1.7 1.7 0 1 0 3.4 0a1.7 1.7 0 1 0 -3.4 0M274.3 356.4a1.7 1.7 0 1 0 3.4 0a1.7 1.7 0 1 0 -3.4 0M275.6 356.0a1.7 1.7 0 1 0 3.4 0a1.7 1.7 0 1 0 -3.4 0M276.8 357.0a1.7 1.7 0 1 0 3.4 0a1.7 1.7 0 1 0 -3.4 0M278.1 358.8a1.7 1.7 0 1 0 3.4 0a1.7 1.7 0 1 0 -3.4 0M279.3 360.1a1.7 1.7 0 1 0 3.4 0a1.7 1.7 0 1 0 -3.4 0M280.6 360.0a1.7 1.7 0 1 0 3.4 0a1.7 1.7 0 1 0 -3.4 0M281.8 359.7a1.7 1.7 0 1 0 3.4 0a1.7 1.7 0 1 0 -3.4 0M283.1 358.6a1.7 1.7 0 1 0 3.4 0a1.7 1.7 0 1 0 -3.4 0M284.3 357.3a1.7 1.7 0 1 0 3.4 0a1.7 1.7 0 1 0 -3.4 0M285.6 356.2a1.7 1.7 0 1 0 3.4 0a1.7 1.7 0 1 0 -3.4 0M286.8 355.9a1.7 1.7 0 1 0 3.4 0a1.7 1.7 0 1 0 -3.4 0M288.1 356.7a1.7 1.7 0 1 0 3.4 0a1.7 1.7 0 1 0 -3.4 0M289.3 359.0a1.7 1.7 0 1 0 3.4 0a1.7 1.7 0 1 0 -3.4 0M290.6 359.9a1.7 1.7 0 1 0 3.4 0a1.7 1.7 0 1 0 -3.4 0" stroke="#e377c2" stroke-width="1.1" fill="none"/>
<path d="M377.0,358.0 377.4,358.0 377.7,358.0 378.1,358.0 378.4,358.0 378.8,358.0 379.1,358.0 379.5,358.0 379.8,358.0 380.2,358.0 380.5,358.0 380.9,358.0 381.2,358.0 381.6,358.0 381.9,358.0 382.3,358.0 382.6,358.0 383.0,358.0 383.3,358.0 383.7,358.0 384.0,358.0 384.4,358.0 384.7,358.0 385.1,358.0 385.4,358.0 385.8,358.0 386.1,358.0 386.5,358.0 386.8,358.0 387.2,358.0 387.5,358.0 387.9,358.0 388.2,358.0 388.6,358.0 388.9,358.0 389.3,358.0 389.6,358.0 390.0,358.0 390.3,358.0 390.7,358.0 391.0,358.0 391.4,358.0 391.7,358.0 392.1,358.0 392.4,358.0 392.8,358.0 393.1,358.0 393.5,358.0 393.8,358.0 394.2,358.0 394.5,358.0 394.9,358.0 395.2,358.0 395.6,358.0 395.9,357.9 396.3,357.8 396.6,357.5 397.0,357.3 397.3,356.9 397.7,356.6 398.0,356.1 398.4,355.4 398.7,355.2 399.1,355.1 399.4,354.4 399.8,354.1 400.0,353.8 401.1,353.6 402.2,354.4 403.3,355.3 404.4,357.2 405.5,357.1 406.6,358.5 407.7,362.3 408.8,366.7 409.9,370.0 411.0,372.2 412.1,371.8 413.2,369.1 414.3,364.4 415.4,359.5 416.5,352.9 417.6,345.8 418.7,338.6 419.8,332.9 420.9,328.1 422.0,325.2 423.1,324.7 424.2,326.9 425.3,332.9 426.4,342.6 427.5,354.8 428.6,368.0 429.7,381.1 430.8,392.6 431.9,401.6 433.0,407.5 434.1,408.0 435.2,403.4 436.3,394.0 437.4,380.5 438.5,365.0 439.6,348.3 440.7,332.1 441.8,320.0 442.9,311.2 444.0,308.5 445.1,310.0 446.2,316.8 447.3,326.2 448.4,338.9 449.5,352.6 450.6,365.9 451.7,376.6 452.8,383.5 453.9,387.1 455.0,386.4 456.1,383.4 457.2,378.6 458.3,373.2 459.4,365.6 460.5,358.4 461.6,352.3 462.7,346.9 463.8,343.2 464.9,342.0 466.0,342.3 467.1,344.2 468.2,347.3 469.3,350.7 470.4,354.2 471.5,357.6 472.6,359.8 473.7,361.0 474.8,360.5 475.9,359.7 477.0,359.6 478.1,358.6 479.2,358.2 480.3,358.8 481.4,358.3 482.5,358.3 483.6,357.8 484.7,357.4 485.8,357.2 486.9,357.6 488.0,357.6 489.1,357.6 490.2,357.6 491.3,357.6 492.4,357.6 493.5,357.6 494.6,357.6 495.7,357.6 496.8,357.6 497.9,357.6 499.0,357.6 500.1,357.6 501.2,357.6 502.3,357.6 503.4,357.6 504.5,357.6 505.6,357.6 506.7,357.6 507.8,357.6 508.9,357.6 510.0,357.6 511.1,357.6 512.2,357.6 513.3,357.6 514.4,357.6 515.5,357.6 516.6,357.6 517.7,357.6 518.8,357.6 519.9,357.6 521.0,357.6 522.1,357.6 523.2,357.6 524.3,357.6 525.4,357.6 526.5,357.6 527.6,357.6 528.7,357.6 529.8,357.6 530.9,357.6 532.0,357.6 533.1,357.6 534.2,357.6 535.3,357.6 536.4,357.6 537.5,357.6 538.6,357.6 539.7,357.6 540.8,357.6 541.9,357.6 543.0,357.6 544.1,357.6 545.2,357.6 546.3,357.6 547.4,357.6 548.5,357.6 549.6,357.6 550.7,357.6 551.8,357.6 552.9,357.6 554.0,357.6 555.1,357.6 556.2,357.6 557.3,357.6 558.4,357.6 559.5,357.6 560.6,357.6 561.7,357.6 562.8,357.6 563.9,357.6 565.0,357.6 566.1,357.6 567.2,357.6 568.3,357.6 569.4,357.6 570.5,357.6 571.6,357.6 572.7,357.6 573.8,357.6 574.9,357.6 576.0,357.6 577.1,357.6 578.2,357.6 579.3,357.6 580.4,357.6 581.5,357.6 582.6,357.6 583.7,357.6 584.8,357.6 585.9,357.6 587.0,357.6 588.1,357.6 589.2,357.6 590.3,357.6 591.4,357.6 592.5,357.6 593.6,357.6 594.7,357.6 595.8,357.6 596.9,357.6 598.0,357.6 599.1,357.6 600.2,357.6 601.3,357.6 602.4,357.6 603.5,357.6 604.6,357.6 605.7,357.6 606.8,357.6 607.9,357.6 609.0,357.6 610.1,357.6 611.2,357.6 612.3,357.6" stroke="#d62728" stroke-width="0.8" fill="none" stroke-linejoin="round"/>
<path d="M377.0 358.0h0M377.4 358.0h0M377.7 358.0h0M378.1 358.0h0M378.4 358.0h0M378.8 358.0h0M379.1 358.0h0M379.5 358.0h0M379.8 358.0h0M380.2 358.0h0M380.5 358.0h0M380.9 358.0h0M381.2 358.0h0M381.6 358.0h0M381.9 358.0h0M382.3 358.0h0M382.6 358.0h0M383.0 358.0h0M383.3 358.0h0M383.7 358.0h0M384.0 358.0h0M384.4 358.0h0M384.7 358.0h0M385.1 358.0h0M385.4 358.0h0M385.8 358.0h0M386.1 358.0h0M386.5 358.0h0M386.8 358.0h0M387.2 358.0h0M387.5 358.0h0M387.9 358.0h0M388.2 358.0h0M388.6 358.0h0M388.9 358.0h0M389.3 358.0h0M389.6 358.0h0M390.0 358.0h0M390.3 358.0h0M390.7 358.0h0M391.0 358.0h0M391.4 358.0h0M391.7 358.0h0M392.1 358.0h0M392.4 358.0h0M392.8 358.0h0M393.1 358.0h0M393.5 358.0h0M393.8 358.0h0M394.2 358.0h0M394.5 358.0h0M394.9 358.0h0M395.2 358.0h0M395.6 358.0h0M395.9 357.9h0M396.3 357.8h0M396.6 357.5h0M397.0 357.3h0M397.3 356.9h0M397.7 356.6h0M398.0 356.1h0M398.4 355.4h0M398.7 355.2h0M399.1 355.1h0M399.4 354.4h0M399.8 354.1h0M400.0 353.8h0M401.1 353.6h0M402.2 354.4h0M403.3 355.3h0M404.4 357.2h0M405.5 357.1h0M406.6 358.5h0M407.7 362.3h0M408.8 366.7h0M409.9 370.0h0M411.0 372.2h0M412.1 371.8h0M413.2 369.1h0M414.3 364.4h0M415.4 359.5h0M416.5 352.9h0M417.6 345.8h0M418.7 338.6h0M419.8 332.9h0M420.9 328.1h0M422.0 325.2h0M423.1 324.7h0M424.2 326.9h0M425.3 332.9h0M426.4 342.6h0M427.5 354.8h0M428.6 368.0h0M429.7 381.1h0M430.8 392.6h0M431.9 401.6h0M433.0 407.5h0M434.1 408.0h0M435.2 403.4h0M436.3 394.0h0M437.4 380.5h0M438.5 365.0h0M439.6 348.3h0M440.7 332.1h0M441.8 320.0h0M442.9 311.2h0M444.0 308.5h0M445.1 310.0h0M446.2 316.8h0M447.3 326.2h0M448.4 338.9h0M449.5 352.6h0M450.6 365.9h0M451.7 376.6h0M452.8 383.5h0M453.9 387.1h0M455.0 386.4h0M456.1 383.4h0M457.2 378.6h0M458.3 373.2h0M459.4 365.6h0M460.5 358.4h0M461.6 352.3h0M462.7 346.9h0M463.8 343.2h0M464.9 342.0h0M466.0 342.3h0M467.1 344.2h0M468.2 347.3h0M469.3 350.7h0M470.4 354.2h0M471.5 357.6h0M472.6 359.8h0M473.7 361.0h0M474.8 360.5h0M475.9 359.7h0M477.0 359.6h0M478.1 358.6h0M479.2 358.2h0M480.3 358.8h0M481.4 358.3h0M482.5 358.3h0M483.6 357.8h0M484.7 357.4h0M485.8 357.2h0M486.9 357.6h0M488.0 357.6h0M489.1 357.6h0M490.2 357.6h0M491.3 357.6h0M492.4 357.6h0M493.5 357.6h0M494.6 357.6h0M495.7 357.6h0M496.8 357.6h0M497.9 357.6h0M499.0 357.6h0M500.1 357.6h0M501.2 357.6h0M502.3 357.6h0M503.4 357.6h0M504.5 357.6h0M505.6 357.6h0M506.7 357.6h0M507.8 357.6h0M508.9 357.6h0M510.0 357.6h0M511.1 357.6h0M512.2 357.6h0M513.3 357.6h0M514.4 357.6h0M515.5 357.6h0M516.6 357.6h0M517.7 357.6h0M518.8 357.6h0M519.9 357.6h0M521.0 357.6h0M522.1 357.6h0M523.2 357.6h0M524.3 357.6h0M525.4 357.6h0M526.5 357.6h0M527.6 357.6h0M528.7 357.6h0M529.8 357.6h0M530.9 357.6h0M532.0 357.6h0M533.1 357.6h0M534.2 357.6h0M535.3 357.6h0M536.4 357.6h0M537.5 357.6h0M538.6 357.6h0M539.7 357.6h0M540.8 357.6h0M541.9 357.6h0M543.0 357.6h0M544.1 357.6h0M545.2 357.6h0M546.3 357.6h0M547.4 357.6h0M548.5 357.6h0M549.6 357.6h0M550.7 357.6h0M551.8 357.6h0M552.9 357.6h0M554.0 357.6h0M555.1 357.6h0M556.2 357.6h0M557.3 357.6h0M558.4 357.6h0M559.5 357.6h0M560.6 357.6h0M561.7 357.6h0M562.8 357.6h0M563.9 357.6h0M565.0 357.6h0M566.1 357.6h0M567.2 357.6h0M568.3 357.6h0M569.4 357.6h0M570.5 357.6h0M571.6 357.6h0M572.7 357.6h0M573.8 357.6h0M574.9 357.6h0M576.0 357.6h0M577.1 357.6h0M578.2 357.6h0M579.3 357.6h0M580.4 357.6h0M581.5 357.6h0M582.6 357.6h0M583.7 357.6h0M584.8 357.6h0M585.9 357.6h0M587.0 357.6h0M588.1 357.6h0M589.2 357.6h0M590.3 357.6h0M591.4 357.6h0M592.5 357.6h0M593.6 357.6h0M594.7 357.6h0M595.8 357.6h0M596.9 357.6h0M598.0 357.6h0M599.1 357.6h0M600.2 357.6h0M601.3 357.6h0M602.4 357.6h0M603.5 357.6h0M604.6 357.6h0M605.7 357.6h0M606.8 357.6h0M607.9 357.6h0M609.0 357.6h0M610.1 357.6h0M611.2 357.6h0M612.3 357.6h0" stroke="#ff7f0e" stroke-width="3.80" stroke-linecap="round" fill="none"/>
<path d="M377.0,358.0 377.4,358.0 377.7,358.0 378.1,358.0 378.4,358.0 378.8,358.0 379.1,358.0 379.5,358.0 379.8,358.0 380.2,358.0 380.5,358.0 380.9,358.0 381.2,358.0 381.6,358.0 381.9,358.0 382.3,358.0 382.6,358.0 383.0,358.0 383.3,358.0 383.7,358.0 384.0,358.0 384.4,358.0 384.7,358.0 385.1,358.0 385.4,358.0 385.8,358.0 386.1,358.0 386.5,358.0 386.8,358.0 387.2,358.0 387.5,358.0 387.9,358.0 388.2,358.0 388.6,358.0 388.9,358.0 389.3,358.0 389.6,358.0 390.0,358.0 390.3,358.0 390.7,358.0 391.0,358.0 391.4,358.0 391.7,358.0 392.1,358.0 392.4,358.0 392.8,358.0 393.1,358.1 393.5,358.0 393.8,357.9 394.2,358.0 394.5,357.5 394.9,357.4 395.2,357.1 395.6,356.5 395.9,356.0 396.0,356.4 397.2,355.3 398.5,355.2 399.8,357.3 401.0,358.7 402.2,360.5 403.5,362.3 404.8,361.0 406.0,357.5 407.2,352.6 408.5,349.7 409.8,349.9 411.0,356.3 412.2,365.1 413.5,372.4 414.8,371.8 416.0,363.9 417.2,349.6 418.5,336.2 419.8,330.8 421.0,341.8 422.2,367.7 423.5,390.0 424.8,392.7 426.0,380.8 427.2,359.7 428.5,337.1 429.8,320.3 431.0,315.1 432.2,335.1 433.5,375.9 434.8,406.2 436.0,406.3 437.2,389.3 438.5,360.3 439.8,331.3 441.0,311.0 442.2,307.8 443.5,328.1 444.8,363.8 446.0,394.0 447.2,403.4 448.5,388.2 449.8,359.6 451.0,333.0 452.2,321.1 453.5,327.7 454.8,345.9 456.0,367.4 457.2,382.6 458.5,385.0 459.8,372.2 461.0,352.1 462.2,340.2 463.5,341.5 464.8,347.8 466.0,355.5 467.2,360.6 468.5,361.6 469.8,359.5 471.0,355.6 472.2,352.7 473.5,350.2 474.8,350.8 476.0,354.1 477.2,353.8 478.5,354.3 479.8,353.2 481.0,353.9 482.2,353.8 483.5,354.2 484.8,354.0 486.0,355.1 487.2,354.4 488.5,354.4 489.8,354.4 491.0,354.4 492.2,354.4 493.5,354.4 494.8,354.4 496.0,354.4 497.2,354.4 498.5,354.4 499.8,354.4 501.0,354.4 502.2,354.4 503.5,354.4 504.8,354.4 506.0,354.4 507.2,354.4 508.5,354.4 509.8,354.4 511.0,354.4 512.2,354.4 513.5,354.4 514.8,354.4 516.0,354.4 517.2,354.4 518.5,354.4 519.8,354.4 521.0,354.4 522.2,354.4 523.5,354.4 524.8,354.4 526.0,354.4 527.2,354.4 528.5,354.4 529.8,354.4 531.0,354.4 532.2,354.4 533.5,354.4 534.8,354.4 536.0,354.4 537.2,354.4 538.5,354.4 539.8,354.4 541.0,354.4 542.2,354.4 543.5,354.4 544.8,354.4 546.0,354.4 547.2,354.4 548.5,354.4 549.8,354.4 551.0,354.4 552.2,354.4 553.5,354.4 554.8,354.4 556.0,354.4 557.2,354.4 558.5,354.4 559.8,354.4 561.0,354.4 562.2,354.4 563.5,354.4 564.8,354.4 566.0,354.4 567.2,354.4 568.5,354.4 569.8,354.4 571.0,354.4 572.2,354.4 573.5,354.4 574.8,354.4 576.0,354.4 577.2,354.4 578.5,354.4 579.8,354.4 581.0,354.4 582.2,354.4 583.5,354.4 584.8,354.4 586.0,354.4 587.2,354.4 588.5,354.4 589.8,354.4 591.0,354.4 592.2,354.4 593.5,354.4 594.8,354.4 596.0,354.4 597.2,354.4 598.5,354.4 599.8,354.4 601.0,354.4 602.2,354.4 603.5,354.4 604.8,354.4 606.0,354.4" stroke="#1f77b4" stroke-width="0.8" fill="none" stroke-linejoin="round"/>
<path d="M377.0 358.0h0M377.4 358.0h0M377.7 358.0h0M378.1 358.0h0M378.4 358.0h0M378.8 358.0h0M379.1 358.0h0M379.5 358.0h0M379.8 358.0h0M380.2 358.0h0M380.5 358.0h0M380.9 358.0h0M381.2 358.0h0M381.6 358.0h0M381.9 358.0h0M382.3 358.0h0M382.6 358.0h0M383.0 358.0h0M383.3 358.0h0M383.7 358.0h0M384.0 358.0h0M384.4 358.0h0M384.7 358.0h0M385.1 358.0h0M385.4 358.0h0M385.8 358.0h0M386.1 358.0h0M386.5 358.0h0M386.8 358.0h0M387.2 358.0h0M387.5 358.0h0M387.9 358.0h0M388.2 358.0h0M388.6 358.0h0M388.9 358.0h0M389.3 358.0h0M389.6 358.0h0M390.0 358.0h0M390.3 358.0h0M390.7 358.0h0M391.0 358.0h0M391.4 358.0h0M391.7 358.0h0M392.1 358.0h0M392.4 358.0h0M392.8 358.0h0M393.1 358.1h0M393.5 358.0h0M393.8 357.9h0M394.2 358.0h0M394.5 357.5h0M394.9 357.4h0M395.2 357.1h0M395.6 356.5h0M395.9 356.0h0M396.0 356.4h0M397.2 355.3h0M398.5 355.2h0M399.8 357.3h0M401.0 358.7h0M402.2 360.5h0M403.5 362.3h0M404.8 361.0h0M406.0 357.5h0M407.2 352.6h0M408.5 349.7h0M409.8 349.9h0M411.0 356.3h0M412.2 365.1h0M413.5 372.4h0M414.8 371.8h0M416.0 363.9h0M417.2 349.6h0M418.5 336.2h0M419.8 330.8h0M421.0 341.8h0M422.2 367.7h0M423.5 390.0h0M424.8 392.7h0M426.0 380.8h0M427.2 359.7h0M428.5 337.1h0M429.8 320.3h0M431.0 315.1h0M432.2 335.1h0M433.5 375.9h0M434.8 406.2h0M436.0 406.3h0M437.2 389.3h0M438.5 360.3h0M439.8 331.3h0M441.0 311.0h0M442.2 307.8h0M443.5 328.1h0M444.8 363.8h0M446.0 394.0h0M447.2 403.4h0M448.5 388.2h0M449.8 359.6h0M451.0 333.0h0M452.2 321.1h0M453.5 327.7h0M454.8 345.9h0M456.0 367.4h0M457.2 382.6h0M458.5 385.0h0M459.8 372.2h0M461.0 352.1h0M462.2 340.2h0M463.5 341.5h0M464.8 347.8h0M466.0 355.5h0M467.2 360.6h0M468.5 361.6h0M469.8 359.5h0M471.0 355.6h0M472.2 352.7h0M473.5 350.2h0M474.8 350.8h0M476.0 354.1h0M477.2 353.8h0M478.5 354.3h0M479.8 353.2h0M481.0 353.9h0M482.2 353.8h0M483.5 354.2h0M484.8 354.0h0M486.0 355.1h0M487.2 354.4h0M488.5 354.4h0M489.8 354.4h0M491.0 354.4h0M492.2 354.4h0M493.5 354.4h0M494.8 354.4h0M496.0 354.4h0M497.2 354.4h0M498.5 354.4h0M499.8 354.4h0M501.0 354.4h0M502.2 354.4h0M503.5 354.4h0M504.8 354.4h0M506.0 354.4h0M507.2 354.4h0M508.5 354.4h0M509.8 354.4h0M511.0 354.4h0M512.2 354.4h0M513.5 354.4h0M514.8 354.4h0M516.0 354.4h0M517.2 354.4h0M518.5 354.4h0M519.8 354.4h0M521.0 354.4h0M522.2 354.4h0M523.5 354.4h0M524.8 354.4h0M526.0 354.4h0M527.2 354.4h0M528.5 354.4h0M529.8 354.4h0M531.0 354.4h0M532.2 354.4h0M533.5 354.4h0M534.8 354.4h0M536.0 354.4h0M537.2 354.4h0M538.5 354.4h0M539.8 354.4h0M541.0 354.4h0M542.2 354.4h0M543.5 354.4h0M544.8 354.4h0M546.0 354.4h0M547.2 354.4h0M548.5 354.4h0M549.8 354.4h0M551.0 354.4h0M552.2 354.4h0M553.5 354.4h0M554.8 354.4h0M556.0 354.4h0M557.2 354.4h0M558.5 354.4h0M559.8 354.4h0M561.0 354.4h0M562.2 354.4h0M563.5 354.4h0M564.8 354.4h0M566.0 354.4h0M567.2 354.4h0M568.5 354.4h0M569.8 354.4h0M571.0 354.4h0M572.2 354.4h0M573.5 354.4h0M574.8 354.4h0M576.0 354.4h0M577.2 354.4h0M578.5 354.4h0M579.8 354.4h0M581.0 354.4h0M582.2 354.4h0M583.5 354.4h0M584.8 354.4h0M586.0 354.4h0M587.2 354.4h0M588.5 354.4h0M589.8 354.4h0M591.0 354.4h0M592.2 354.4h0M593.5 354.4h0M594.8 354.4h0M596.0 354.4h0M597.2 354.4h0M598.5 354.4h0M599.8 354.4h0M601.0 354.4h0M602.2 354.4h0M603.5 354.4h0M604.8 354.4h0M606.0 354.4h0" stroke="#17becf" stroke-width="3.80" stroke-linecap="round" fill="none"/>
<path d="M375.3 358.0a1.7 1.7 0 1 0 3.4 0a1.7 1.7 0 1 0 -3.4 0M375.7 358.0a1.7 1.7 0 1 0 3.4 0a1.7 1.7 0 1 0 -3.4 0M376.0 358.0a1.7 1.7 0 1 0 3.4 0a1.7 1.7 0 1 0 -3.4 0M376.4 358.0a1.7 1.7 0 1 0 3.4 0a1.7 1.7 0 1 0 -3.4 0M376.7 358.0a1.7 1.7 0 1 0 3.4 0a1.7 1.7 0 1 0 -3.4 0M377.1 358.0a1.7 1.7 0 1 0 3.4 0a1.7 1.7 0 1 0 -3.4 0M377.4 358.0a1.7 1.7 0 1 0 3.4 0a1.7 1.7 0 1 0 -3.4 0M377.8 358.0a1.7 1.7 0 1 0 3.4 0a1.7 1.7 0 1 0 -3.4 0M378.1 358.0a1.7 1.7 0 1 0 3.4 0a1.7 1.7 0 1 0 -3.4 0M378.5 358.0a1.7 1.7 0 1 0 3.4 0a1.7 1.7 0 1 0 -3.4 0M378.8 358.0a1.7 1.7 0 1 0 3.4 0a1.7 1.7 0 1 0 -3.4 0M379.2 358.0a1.7 1.7 0 1 0 3.4 0a1.7 1.7 0 1 0 -3.4 0M379.5 358.0a1.7 1.7 0 1 0 3.4 0a1.7 1.7 0 1 0 -3.4 0M379.9 358.0a1.7 1.7 0 1 0 3.4 0a1.7 1.7 0 1 0 -3.4 0M380.2 358.0a1.7 1.7 0 1 0 3.4 0a1.7 1.7 0 1 0 -3.4 0M380.6 358.0a1.7 1.7 0 1 0 3.4 0a1.7 1.7 0 1 0 -3.4 0M380.9 358.0a1.7 1.7 0 1 0 3.4 0a1.7 1.7 0 1 0 -3.4 0M381.3 358.0a1.7 1.7 0 1 0 3.4 0a1.7 1.7 0 1 0 -3.4 0M381.6 358.0a1.7 1.7 0 1 0 3.4 0a1.7 1.7 0 1 0 -3.4 0M382.0 358.0a1.7 1.7 0 1 0 3.4 0a1.7 1.7 0 1 0 -3.4 0M382.3 358.0a1.7 1.7 0 1 0 3.4 0a1.7 1.7 0 1 0 -3.4 0M382.7 358.0a1.7 1.7 0 1 0 3.4 0a1.7 1.7 0 1 0 -3.4 0M383.0 358.0a1.7 1.7 0 1 0 3.4 0a1.7 1.7 0 1 0 -3.4 0M383.4 358.0a1.7 1.7 0 1 0 3.4 0a1.7 1.7 0 1 0 -3.4 0M383.7 358.0a1.7 1.7 0 1 0 3.4 0a1.7 1.7 0 1 0 -3.4 0M384.1 358.0a1.7 1.7 0 1 0 3.4 0a1.7 1.7 0 1 0 -3.4 0M384.4 358.0a1.7 1.7 0 1 0 3.4 0a1.7 1.7 0 1 0 -3.4 0M384.8 358.0a1.7 1.7 0 1 0 3.4 0a1.7 1.7 0 1 0 -3.4 0M385.1 358.0a1.7 1.7 0 1 0 3.4 0a1.7 1.7 0 1 0 -3.4 0M385.5 358.0a1.7 1.7 0 1 0 3.4 0a1.7 1.7 0 1 0 -3.4 0M385.8 358.0a1.7 1.7 0 1 0 3.4 0a1.7 1.7 0 1 0 -3.4 0M386.2 358.0a1.7 1.7 0 1 0 3.4 0a1.7 1.7 0 1 0 -3.4 0M386.5 358.0a1.7 1.7 0 1 0 3.4 0a1.7 1.7 0 1 0 -3.4 0M386.9 358.0a1.7 1.7 0 1 0 3.4 0a1.7 1.7 0 1 0 -3.4 0M387.2 358.0a1.7 1.7 0 1 0 3.4 0a1.7 1.7 0 1 0 -3.4 0M387.6 358.0a1.7 1.7 0 1 0 3.4 0a1.7 1.7 0 1 0 -3.4 0M387.9 358.0a1.7 1.7 0 1 0 3.4 0a1.7 1.7 0 1 0 -3.4 0M388.3 358.0a1.7 1.7 0 1 0 3.4 0a1.7 1.7 0 1 0 -3.4 0M388.6 358.0a1.7 1.7 0 1 0 3.4 0a1.7 1.7 0 1 0 -3.4 0M389.0 358.0a1.7 1.7 0 1 0 3.4 0a1.7 1.7 0 1 0 -3.4 0M389.3 358.0a1.7 1.7 0 1 0 3.4 0a1.7 1.7 0 1 0 -3.4 0M389.7 358.0a1.7 1.7 0 1 0 3.4 0a1.7 1.7 0 1 0 -3.4 0M390.0 358.0a1.7 1.7 0 1 0 3.4 0a1.7 1.7 0 1 0 -3.4 0M390.4 358.0a1.7 1.7 0 1 0 3.4 0a1.7 1.7 0 1 0 -3.4 0M390.7 358.0a1.7 1.7 0 1 0 3.4 0a1.7 1.7 0 1 0 -3.4 0M391.1 358.0a1.7 1.7 0 1 0 3.4 0a1.7 1.7 0 1 0 -3.4 0M391.4 358.0a1.7 1.7 0 1 0 3.4 0a1.7 1.7 0 1 0 -3.4 0M391.8 358.0a1.7 1.7 0 1 0 3.4 0a1.7 1.7 0 1 0 -3.4 0M392.1 358.0a1.7 1.7 0 1 0 3.4 0a1.7 1.7 0 1 0 -3.4 0M392.5 357.9a1.7 1.7 0 1 0 3.4 0a1.7 1.7 0 1 0 -3.4 0M392.8 357.6a1.7 1.7 0 1 0 3.4 0a1.7 1.7 0 1 0 -3.4 0M393.2 357.4a1.7 1.7 0 1 0 3.4 0a1.7 1.7 0 1 0 -3.4 0M393.5 357.1a1.7 1.7 0 1 0 3.4 0a1.7 1.7 0 1 0 -3.4 0M393.9 356.9a1.7 1.7 0 1 0 3.4 0a1.7 1.7 0 1 0 -3.4 0M394.2 356.2a1.7 1.7 0 1 0 3.4 0a1.7 1.7 0 1 0 -3.4 0M394.3 356.7a1.7 1.7 0 1 0 3.4 0a1.7 1.7 0 1 0 -3.4 0M395.6 355.4a1.7 1.7 0 1 0 3.4 0a1.7 1.7 0 1 0 -3.4 0M396.8 355.0a1.7 1.7 0 1 0 3.4 0a1.7 1.7 0 1 0 -3.4 0M398.1 357.0a1.7 1.7 0 1 0 3.4 0a1.7 1.7 0 1 0 -3.4 0M399.3 359.4a1.7 1.7 0 1 0 3.4 0a1.7 1.7 0 1 0 -3.4 0M400.6 359.9a1.7 1.7 0 1 0 3.4 0a1.7 1.7 0 1 0 -3.4 0M401.8 362.8a1.7 1.7 0 1 0 3.4 0a1.7 1.7 0 1 0 -3.4 0M403.1 361.8a1.7 1.7 0 1 0 3.4 0a1.7 1.7 0 1 0 -3.4 0M404.3 357.8a1.7 1.7 0 1 0 3.4 0a1.7 1.7 0 1 0 -3.4 0M405.6 352.8a1.7 1.7 0 1 0 3.4 0a1.7 1.7 0 1 0 -3.4 0M406.8 349.4a1.7 1.7 0 1 0 3.4 0a1.7 1.7 0 1 0 -3.4 0M408.1 350.2a1.7 1.7 0 1 0 3.4 0a1.7 1.7 0 1 0 -3.4 0M409.3 356.3a1.7 1.7 0 1 0 3.4 0a1.7 1.7 0 1 0 -3.4 0M410.6 365.1a1.7 1.7 0 1 0 3.4 0a1.7 1.7 0 1 0 -3.4 0M411.8 371.5a1.7 1.7 0 1 0 3.4 0a1.7 1.7 0 1 0 -3.4 0M413.1 372.1a1.7 1.7 0 1 0 3.4 0a1.7 1.7 0 1 0 -3.4 0M414.3 363.5a1.7 1.7 0 1 0 3.4 0a1.7 1.7 0 1 0 -3.4 0M415.6 349.3a1.7 1.7 0 1 0 3.4 0a1.7 1.7 0 1 0 -3.4 0M416.8 336.9a1.7 1.7 0 1 0 3.4 0a1.7 1.7 0 1 0 -3.4 0M418.1 331.0a1.7 1.7 0 1 0 3.4 0a1.7 1.7 0 1 0 -3.4 0M419.3 341.8a1.7 1.7 0 1 0 3.4 0a1.7 1.7 0 1 0 -3.4 0M420.6 367.8a1.7 1.7 0 1 0 3.4 0a1.7 1.7 0 1 0 -3.4 0M421.8 389.9a1.7 1.7 0 1 0 3.4 0a1.7 1.7 0 1 0 -3.4 0M423.1 392.3a1.7 1.7 0 1 0 3.4 0a1.7 1.7 0 1 0 -3.4 0M424.3 380.1a1.7 1.7 0 1 0 3.4 0a1.7 1.7 0 1 0 -3.4 0M425.6 359.9a1.7 1.7 0 1 0 3.4 0a1.7 1.7 0 1 0 -3.4 0M426.8 337.3a1.7 1.7 0 1 0 3.4 0a1.7 1.7 0 1 0 -3.4 0M428.1 320.7a1.7 1.7 0 1 0 3.4 0a1.7 1.7 0 1 0 -3.4 0M429.3 314.5a1.7 1.7 0 1 0 3.4 0a1.7 1.7 0 1 0 -3.4 0M430.6 335.3a1.7 1.7 0 1 0 3.4 0a1.7 1.7 0 1 0 -3.4 0M431.8 375.6a1.7 1.7 0 1 0 3.4 0a1.7 1.7 0 1 0 -3.4 0M433.1 406.4a1.7 1.7 0 1 0 3.4 0a1.7 1.7 0 1 0 -3.4 0M434.3 406.4a1.7 1.7 0 1 0 3.4 0a1.7 1.7 0 1 0 -3.4 0M435.6 388.8a1.7 1.7 0 1 0 3.4 0a1.7 1.7 0 1 0 -3.4 0M436.8 360.1a1.7 1.7 0 1 0 3.4 0a1.7 1.7 0 1 0 -3.4 0M438.1 331.1a1.7 1.7 0 1 0 3.4 0a1.7 1.7 0 1 0 -3.4 0M439.3 311.1a1.7 1.7 0 1 0 3.4 0a1.7 1.7 0 1 0 -3.4 0M440.6 307.7a1.7 1.7 0 1 0 3.4 0a1.7 1.7 0 1 0 -3.4 0M441.8 328.2a1.7 1.7 0 1 0 3.4 0a1.7 1.7 0 1 0 -3.4 0M443.1 363.9a1.7 1.7 0 1 0 3.4 0a1.7 1.7 0 1 0 -3.4 0M444.3 394.6a1.7 1.7 0 1 0 3.4 0a1.7 1.7 0 1 0 -3.4 0M445.6 402.7a1.7 1.7 0 1 0 3.4 0a1.7 1.7 0 1 0 -3.4 0M446.8 388.1a1.7 1.7 0 1 0 3.4 0a1.7 1.7 0 1 0 -3.4 0M448.1 360.0a1.7 1.7 0 1 0 3.4 0a1.7 1.7 0 1 0 -3.4 0M449.3 332.2a1.7 1.7 0 1 0 3.4 0a1.7 1.7 0 1 0 -3.4 0M450.6 320.5a1.7 1.7 0 1 0 3.4 0a1.7 1.7 0 1 0 -3.4 0M451.8 327.8a1.7 1.7 0 1 0 3.4 0a1.7 1.7 0 1 0 -3.4 0M453.1 345.4a1.7 1.7 0 1 0 3.4 0a1.7 1.7 0 1 0 -3.4 0M454.3 367.0a1.7 1.7 0 1 0 3.4 0a1.7 1.7 0 1 0 -3.4 0M455.6 382.8a1.7 1.7 0 1 0 3.4 0a1.7 1.7 0 1 0 -3.4 0M456.8 385.3a1.7 1.7 0 1 0 3.4 0a1.7 1.7 0 1 0 -3.4 0M458.1 372.1a1.7 1.7 0 1 0 3.4 0a1.7 1.7 0 1 0 -3.4 0M459.3 351.3a1.7 1.7 0 1 0 3.4 0a1.7 1.7 0 1 0 -3.4 0M460.6 339.7a1.7 1.7 0 1 0 3.4 0a1.7 1.7 0 1 0 -3.4 0M461.8 341.0a1.7 1.7 0 1 0 3.4 0a1.7 1.7 0 1 0 -3.4 0M463.1 347.3a1.7 1.7 0 1 0 3.4 0a1.7 1.7 0 1 0 -3.4 0M464.3 355.2a1.7 1.7 0 1 0 3.4 0a1.7 1.7 0 1 0 -3.4 0M465.6 360.0a1.7 1.7 0 1 0 3.4 0a1.7 1.7 0 1 0 -3.4 0M466.8 361.6a1.7 1.7 0 1 0 3.4 0a1.7 1.7 0 1 0 -3.4 0M468.1 359.3a1.7 1.7 0 1 0 3.4 0a1.7 1.7 0 1 0 -3.4 0M469.3 355.3a1.7 1.7 0 1 0 3.4 0a1.7 1.7 0 1 0 -3.4 0M470.6 353.0a1.7 1.7 0 1 0 3.4 0a1.7 1.7 0 1 0 -3.4 0M471.8 350.9a1.7 1.7 0 1 0 3.4 0a1.7 1.7 0 1 0 -3.4 0M473.1 351.3a1.7 1.7 0 1 0 3.4 0a1.7 1.7 0 1 0 -3.4 0M474.3 354.0a1.7 1.7 0 1 0 3.4 0a1.7 1.7 0 1 0 -3.4 0M475.6 353.3a1.7 1.7 0 1 0 3.4 0a1.7 1.7 0 1 0 -3.4 0M476.8 354.1a1.7 1.7 0 1 0 3.4 0a1.7 1.7 0 1 0 -3.4 0M478.1 353.5a1.7 1.7 0 1 0 3.4 0a1.7 1.7 0 1 0 -3.4 0M479.3 353.3a1.7 1.7 0 1 0 3.4 0a1.7 1.7 0 1 0 -3.4 0M480.6 353.8a1.7 1.7 0 1 0 3.4 0a1.7 1.7 0 1 0 -3.4 0M481.8 353.7a1.7 1.7 0 1 0 3.4 0a1.7 1.7 0 1 0 -3.4 0M483.1 354.2a1.7 1.7 0 1 0 3.4 0a1.7 1.7 0 1 0 -3.4 0M484.3 354.5a1.7 1.7 0 1 0 3.4 0a1.7 1.7 0 1 0 -3.4 0M485.6 354.4a1.7 1.7 0 1 0 3.4 0a1.7 1.7 0 1 0 -3.4 0M486.8 354.4a1.7 1.7 0 1 0 3.4 0a1.7 1.7 0 1 0 -3.4 0M488.1 354.4a1.7 1.7 0 1 0 3.4 0a1.7 1.7 0 1 0 -3.4 0M489.3 354.4a1.7 1.7 0 1 0 3.4 0a1.7 1.7 0 1 0 -3.4 0M490.6 354.4a1.7 1.7 0 1 0 3.4 0a1.7 1.7 0 1 0 -3.4 0M491.8 354.4a1.7 1.7 0 1 0 3.4 0a1.7 1.7 0 1 0 -3.4 0M493.1 354.4a1.7 1.7 0 1 0 3.4 0a1.7 1.7 0 1 0 -3.4 0M494.3 354.4a1.7 1.7 0 1 0 3.4 0a1.7 1.7 0 1 0 -3.4 0M495.6 354.4a1.7 1.7 0 1 0 3.4 0a1.7 1.7 0 1 0 -3.4 0M496.8 354.4a1.7 1.7 0 1 0 3.4 0a1.7 1.7 0 1 0 -3.4 0M498.1 354.4a1.7 1.7 0 1 0 3.4 0a1.7 1.7 0 1 0 -3.4 0M499.3 354.4a1.7 1.7 0 1 0 3.4 0a1.7 1.7 0 1 0 -3.4 0M500.6 354.4a1.7 1.7 0 1 0 3.4 0a1.7 1.7 0 1 0 -3.4 0M501.8 354.4a1.7 1.7 0 1 0 3.4 0a1.7 1.7 0 1 0 -3.4 0M503.1 354.4a1.7 1.7 0 1 0 3.4 0a1.7 1.7 0 1 0 -3.4 0M504.3 354.4a1.7 1.7 0 1 0 3.4 0a1.7 1.7 0 1 0 -3.4 0M505.6 354.4a1.7 1.7 0 1 0 3.4 0a1.7 1.7 0 1 0 -3.4 0M506.8 354.4a1.7 1.7 0 1 0 3.4 0a1.7 1.7 0 1 0 -3.4 0M508.1 354.4a1.7 1.7 0 1 0 3.4 0a1.7 1.7 0 1 0 -3.4 0M509.3 354.4a1.7 1.7 0 1 0 3.4 0a1.7 1.7 0 1 0 -3.4 0M510.6 354.4a1.7 1.7 0 1 0 3.4 0a1.7 1.7 0 1 0 -3.4 0M511.8 354.4a1.7 1.7 0 1 0 3.4 0a1.7 1.7 0 1 0 -3.4 0M513.0 354.4a1.7 1.7 0 1 0 3.4 0a1.7 1.7 0 1 0 -3.4 0M514.3 354.4a1.7 1.7 0 1 0 3.4 0a1.7 1.7 0 1 0 -3.4 0M515.5 354.4a1.7 1.7 0 1 0 3.4 0a1.7 1.7 0 1 0 -3.4 0M516.8 354.4a1.7 1.7 0 1 0 3.4 0a1.7 1.7 0 1 0 -3.4 0M518.0 354.4a1.7 1.7 0 1 0 3.4 0a1.7 1.7 0 1 0 -3.4 0M519.3 354.4a1.7 1.7 0 1 0 3.4 0a1.7 1.7 0 1 0 -3.4 0M520.5 354.4a1.7 1.7 0 1 0 3.4 0a1.7 1.7 0 1 0 -3.4 0M521.8 354.4a1.7 1.7 0 1 0 3.4 0a1.7 1.7 0 1 0 -3.4 0M523.0 354.4a1.7 1.7 0 1 0 3.4 0a1.7 1.7 0 1 0 -3.4 0M524.3 354.4a1.7 1.7 0 1 0 3.4 0a1.7 1.7 0 1 0 -3.4 0M525.5 354.4a1.7 1.7 0 1 0 3.4 0a1.7 1.7 0 1 0 -3.4 0M526.8 354.4a1.7 1.7 0 1 0 3.4 0a1.7 1.7 0 1 0 -3.4 0M528.0 354.4a1.7 1.7 0 1 0 3.4 0a1.7 1.7 0 1 0 -3.4 0M529.3 354.4a1.7 1.7 0 1 0 3.4 0a1.7 1.7 0 1 0 -3.4 0M530.5 354.4a1.7 1.7 0 1 0 3.4 0a1.7 1.7 0 1 0 -3.4 0M531.8 354.4a1.7 1.7 0 1 0 3.4 0a1.7 1.7 0 1 0 -3.4 0M533.0 354.4a1.7 1.7 0 1 0 3.4 0a1.7 1.7 0 1 0 -3.4 0M534.3 354.4a1.7 1.7 0 1 0 3.4 0a1.7 1.7 0 1 0 -3.4 0M535.5 354.4a1.7 1.7 0 1 0 3.4 0a1.7 1.7 0 1 0 -3.4 0M536.8 354.4a1.7 1.7 0 1 0 3.4 0a1.7 1.7 0 1 0 -3.4 0M538.0 354.4a1.7 1.7 0 1 0 3.4 0a1.7 1.7 0 1 0 -3.4 0M539.3 354.4a1.7 1.7 0 1 0 3.4 0a1.7 1.7 0 1 0 -3.4 0M540.5 354.4a1.7 1.7 0 1 0 3.4 0a1.7 1.7 0 1 0 -3.4 0M541.8 354.4a1.7 1.7 0 1 0 3.4 0a1.7 1.7 0 1 0 -3.4 0M543.0 354.4a1.7 1.7 0 1 0 3.4 0a1.7 1.7 0 1 0 -3.4 0M544.3 354.4a1.7 1.7 0 1 0 3.4 0a1.7 1.7 0 1 0 -3.4 0M545.5 354.4a1.7 1.7 0 1 0 3.4 0a1.7 1.7 0 1 0 -3.4 0M546.8 354.4a1.7 1.7 0 1 0 3.4 0a1.7 1.7 0 1 0 -3.4 0M548.0 354.4a1.7 1.7 0 1 0 3.4 0a1.7 1.7 0 1 0 -3.4 0M549.3 354.4a1.7 1.7 0 1 0 3.4 0a1.7 1.7 0 1 0 -3.4 0M550.5 354.4a1.7 1.7 0 1 0 3.4 0a1.7 1.7 0 1 0 -3.4 0M551.8 354.4a1.7 1.7 0 1 0 3.4 0a1.7 1.7 0 1 0 -3.4 0M553.0 354.4a1.7 1.7 0 1 0 3.4 0a1.7 1.7 0 1 0 -3.4 0M554.3 354.4a1.7 1.7 0 1 0 3.4 0a1.7 1.7 0 1 0 -3.4 0M555.5 354.4a1.7 1.7 0 1 0 3.4 0a1.7 1.7 0 1 0 -3.4 0M556.8 354.4a1.7 1.7 0 1 0 3.4 0a1.7 1.7 0 1 0 -3.4 0M558.0 354.4a1.7 1.7 0 1 0 3.4 0a1.7 1.7 0 1 0 -3.4 0M559.3 354.4a1.7 1.7 0 1 0 3.4 0a1.7 1.7 0 1 0 -3.4 0M560.5 354.4a1.7 1.7 0 1 0 3.4 0a1.7 1.7 0 1 0 -3.4 0M561.8 354.4a1.7 1.7 0 1 0 3.4 0a1.7 1.7 0 1 0 -3.4 0M563.0 354.4a1.7 1.7 0 1 0 3.4 0a1.7 1.7 0 1 0 -3.4 0M564.3 354.4a1.7 1.7 0 1 0 3.4 0a1.7 1.7 0 1 0 -3.4 0M565.5 354.4a1.7 1.7 0 1 0 3.4 0a1.7 1.7 0 1 0 -3.4 0M566.8 354.4a1.7 1.7 0 1 0 3.4 0a1.7 1.7 0 1 0 -3.4 0M568.0 354.4a1.7 1.7 0 1 0 3.4 0a1.7 1.7 0 1 0 -3.4 0M569.3 354.4a1.7 1.7 0 1 0 3.4 0a1.7 1.7 0 1 0 -3.4 0M570.5 354.4a1.7 1.7 0 1 0 3.4 0a1.7 1.7 0 1 0 -3.4 0M571.8 354.4a1.7 1.7 0 1 0 3.4 0a1.7 1.7 0 1 0 -3.4 0M573.0 354.4a1.7 1.7 0 1 0 3.4 0a1.7 1.7 0 1 0 -3.4 0M574.3 354.4a1.7 1.7 0 1 0 3.4 0a1.7 1.7 0 1 0 -3.4 0M575.5 354.4a1.7 1.7 0 1 0 3.4 0a1.7 1.7 0 1 0 -3.4 0M576.8 354.4a1.7 1.7 0 1 0 3.4 0a1.7 1.7 0 1 0 -3.4 0M578.0 354.4a1.7 1.7 0 1 0 3.4 0a1.7 1.7 0 1 0 -3.4 0M579.3 354.4a1.7 1.7 0 1 0 3.4 0a1.7 1.7 0 1 0 -3.4 0M580.5 354.4a1.7 1.7 0 1 0 3.4 0a1.7 1.7 0 1 0 -3.4 0M581.8 354.4a1.7 1.7 0 1 0 3.4 0a1.7 1.7 0 1 0 -3.4 0M583.0 354.4a1.7 1.7 0 1 0 3.4 0a1.7 1.7 0 1 0 -3.4 0M584.3 354.4a1.7 1.7 0 1 0 3.4 0a1.7 1.7 0 1 0 -3.4 0M585.5 354.4a1.7 1.7 0 1 0 3.4 0a1.7 1.7 0 1 0 -3.4 0M586.8 354.4a1.7 1.7 0 1 0 3.4 0a1.7 1.7 0 1 0 -3.4 0M588.0 354.4a1.7 1.7 0 1 0 3.4 0a1.7 1.7 0 1 0 -3.4 0M589.3 354.4a1.7 1.7 0 1 0 3.4 0a1.7 1.7 0 1 0 -3.4 0M590.5 354.4a1.7 1.7 0 1 0 3.4 0a1.7 1.7 0 1 0 -3.4 0M591.8 354.4a1.7 1.7 0 1 0 3.4 0a1.7 1.7 0 1 0 -3.4 0M593.0 354.4a1.7 1.7 0 1 0 3.4 0a1.7 1.7 0 1 0 -3.4 0M594.3 354.4a1.7 1.7 0 1 0 3.4 0a1.7 1.7 0 1 0 -3.4 0M595.5 354.4a1.7 1.7 0 1 0 3.4 0a1.7 1.7 0 1 0 -3.4 0M596.8 354.4a1.7 1.7 0 1 0 3.4 0a1.7 1.7 0 1 0 -3.4 0M598.0 354.4a1.7 1.7 0 1 0 3.4 0a1.7 1.7 0 1 0 -3.4 0M599.3 354.4a1.7 1.7 0 1 0 3.4 0a1.7 1.7 0 1 0 -3.4 0M600.5 354.4a1.7 1.7 0 1 0 3.4 0a1.7 1.7 0 1 0 -3.4 0M601.8 354.4a1.7 1.7 0 1 0 3.4 0a1.7 1.7 0 1 0 -3.4 0M603.0 354.4a1.7 1.7 0 1 0 3.4 0a1.7 1.7 0 1 0 -3.4 0M604.3 354.4a1.7 1.7 0 1 0 3.4 0a1.7 1.7 0 1 0 -3.4 0M605.5 354.4a1.7 1.7 0 1 0 3.4 0a1.7 1.7 0 1 0 -3.4 0M606.8 354.4a1.7 1.7 0 1 0 3.4 0a1.7 1.7 0 1 0 -3.4 0M608.0 354.4a1.7 1.7 0 1 0 3.4 0a1.7 1.7 0 1 0 -3.4 0M609.3 354.4a1.7 1.7 0 1 0 3.4 0a1.7 1.7 0 1 0 -3.4 0M610.5 354.4a1.7 1.7 0 1 0 3.4 0a1.7 1.7 0 1 0 -3.4 0M611.8 354.4a1.7 1.7 0 1 0 3.4 0a1.7 1.7 0 1 0 -3.4 0M613.0 354.4a1.7 1.7 0 1 0 3.4 0a1.7 1.7 0 1 0 -3.4 0M614.3 354.4a1.7 1.7 0 1 0 3.4 0a1.7 1.7 0 1 0 -3.4 0M615.5 354.4a1.7 1.7 0 1 0 3.4 0a1.7 1.7 0 1 0 -3.4 0M616.8 354.4a1.7 1.7 0 1 0 3.4 0a1.7 1.7 0 1 0 -3.4 0M618.0 354.4a1.7 1.7 0 1 0 3.4 0a1.7 1.7 0 1 0 -3.4 0M619.3 354.4a1.7 1.7 0 1 0 3.4 0a1.7 1.7 0 1 0 -3.4 0" stroke="#e377c2" stroke-width="1.1" fill="none"/>
<path d="M377.0,85.0 377.4,85.0 377.7,85.0 378.1,85.0 378.4,85.0 378.8,85.0 379.1,85.0 379.5,85.0 379.8,85.0 380.2,85.0 380.5,85.0 380.9,85.0 381.2,85.0 381.6,85.0 381.9,85.0 382.3,85.0 382.6,85.0 383.0,85.0 383.3,85.0 383.7,85.0 384.0,85.0 384.4,85.0 384.7,85.0 385.1,85.0 385.4,85.0 385.8,85.0 386.1,85.0 386.5,85.0 386.8,85.0 387.2,85.0 387.5,85.0 387.9,85.0 388.2,85.0 388.6,85.0 388.9,85.0 389.3,85.0 389.6,85.0 390.0,85.0 390.3,85.0 390.7,85.0 391.0,85.0 391.4,85.0 391.7,85.0 392.1,85.0 392.4,85.0 392.8,85.0 393.1,85.0 393.5,85.0 393.8,85.0 394.2,85.0 394.5,85.0 394.9,85.0 395.2,85.0 395.6,85.0 395.9,85.0 396.3,85.0 396.6,85.1 397.0,85.2 397.3,85.3 397.7,85.4 398.0,85.6 398.4,85.8 398.7,85.9 399.1,86.0 399.4,86.1 399.8,86.2 400.1,86.2 400.5,86.1 400.8,85.9 401.2,85.6 401.5,85.2 401.9,84.8 402.2,84.4 402.6,84.0 402.9,83.7 403.3,83.4 403.6,83.1 404.0,82.9 404.3,82.9 404.7,82.8 405.0,83.3 406.1,83.6 407.2,85.2 408.3,86.3 409.4,86.1 410.5,86.3 411.6,86.1 412.7,85.9 413.8,84.9 414.9,84.4 416.0,83.8 417.1,83.5 418.2,83.8 419.3,84.0 420.4,85.6 421.5,87.1 422.6,88.1 423.7,87.6 424.8,87.6 425.9,86.3 427.0,85.1 428.1,83.5 429.2,81.7 430.3,81.0 431.4,80.8 432.5,80.8 433.6,83.8 434.7,89.5 435.8,96.1 436.9,101.5 438.0,106.2 439.1,106.5 440.2,106.2 441.3,106.0 442.4,104.4 443.5,102.9 444.6,100.9 445.7,98.8 446.8,97.0 447.9,95.2 449.0,93.4 450.1,93.0 451.2,92.6 452.3,94.1 453.4,96.5 454.5,101.5 455.6,106.6 456.7,111.2 457.8,114.5 458.9,114.8 460.0,113.8 461.1,112.2 462.2,109.9 463.3,106.5 464.4,103.6 465.5,101.1 466.6,98.6 467.7,96.7 468.8,95.9 469.9,96.7 471.0,99.0 472.1,103.8 473.2,108.6 474.3,113.3 475.4,116.7 476.5,118.8 477.6,119.2 478.7,118.0 479.8,115.7 480.9,113.0 482.0,109.7 483.1,105.6 484.2,101.9 485.3,98.5 486.4,95.7 487.5,94.4 488.6,93.5 489.7,93.8 490.8,95.5 491.9,98.9 493.0,103.2 494.1,107.3 495.2,110.9 496.3,112.8 497.4,113.7 498.5,113.4 499.6,111.9 500.7,109.8 501.8,106.9 502.9,104.5 504.0,101.7 505.1,100.0 506.2,98.5 507.3,98.1 508.4,98.7 509.5,100.8 510.6,103.2 511.7,105.9 512.8,107.9 513.9,109.8 515.0,109.9 516.1,110.4 517.2,109.1 518.3,108.0 519.4,106.5 520.5,104.6 521.6,103.2 522.7,102.4 523.8,102.1 524.9,101.2 526.0,101.8 527.1,103.2 528.2,104.6 529.3,106.5 530.4,108.6 531.5,109.9 532.6,110.2 533.7,110.3 534.8,109.0 535.9,107.7 537.0,106.3 538.1,104.6 539.2,102.4 540.3,101.7 541.4,101.8 542.5,101.5 543.6,102.7 544.7,104.1 545.8,105.8 546.9,107.4 548.0,108.8 549.1,109.5 550.2,109.2 551.3,107.7 552.4,105.5 553.5,104.0 554.6,102.1 555.7,101.0 556.8,100.4 557.9,100.3 559.0,102.0 560.1,103.0 561.2,105.0 562.3,106.6 563.4,107.1 564.5,107.2 565.6,105.4 566.7,105.0 567.8,104.0 568.9,102.9 570.0,102.8 571.1,102.4 572.2,103.2 573.3,103.8 574.4,104.0 575.5,104.6 576.6,104.9 577.7,105.0 578.8,106.2 579.9,107.3 581.0,109.0 582.1,110.1 583.2,110.3 584.3,109.8 585.4,108.0 586.5,105.6 587.6,103.1 588.7,101.4 589.8,100.2 590.9,100.8 592.0,102.1 593.1,103.7 594.2,105.6 595.3,107.1 596.4,107.4 597.5,107.1 598.6,107.9 599.7,108.6 600.8,109.4 601.9,110.4 603.0,110.5 604.1,110.2 605.2,108.5 606.3,105.7 607.4,104.2 608.5,104.6 609.6,107.9 610.7,107.2 611.8,103.8 612.9,101.0" stroke="#d62728" stroke-width="0.8" fill="none" stroke-linejoin="round"/>
<path d="M377.0 85.0h0M377.4 85.0h0M377.7 85.0h0M378.1 85.0h0M378.4 85.0h0M378.8 85.0h0M379.1 85.0h0M379.5 85.0h0M379.8 85.0h0M380.2 85.0h0M380.5 85.0h0M380.9 85.0h0M381.2 85.0h0M381.6 85.0h0M381.9 85.0h0M382.3 85.0h0M382.6 85.0h0M383.0 85.0h0M383.3 85.0h0M383.7 85.0h0M384.0 85.0h0M384.4 85.0h0M384.7 85.0h0M385.1 85.0h0M385.4 85.0h0M385.8 85.0h0M386.1 85.0h0M386.5 85.0h0M386.8 85.0h0M387.2 85.0h0M387.5 85.0h0M387.9 85.0h0M388.2 85.0h0M388.6 85.0h0M388.9 85.0h0M389.3 85.0h0M389.6 85.0h0M390.0 85.0h0M390.3 85.0h0M390.7 85.0h0M391.0 85.0h0M391.4 85.0h0M391.7 85.0h0M392.1 85.0h0M392.4 85.0h0M392.8 85.0h0M393.1 85.0h0M393.5 85.0h0M393.8 85.0h0M394.2 85.0h0M394.5 85.0h0M394.9 85.0h0M395.2 85.0h0M395.6 85.0h0M395.9 85.0h0M396.3 85.0h0M396.6 85.1h0M397.0 85.2h0M397.3 85.3h0M397.7 85.4h0M398.0 85.6h0M398.4 85.8h0M398.7 85.9h0M399.1 86.0h0M399.4 86.1h0M399.8 86.2h0M400.1 86.2h0M400.5 86.1h0M400.8 85.9h0M401.2 85.6h0M401.5 85.2h0M401.9 84.8h0M402.2 84.4h0M402.6 84.0h0M402.9 83.7h0M403.3 83.4h0M403.6 83.1h0M404.0 82.9h0M404.3 82.9h0M404.7 82.8h0M405.0 83.3h0M406.1 83.6h0M407.2 85.2h0M408.3 86.3h0M409.4 86.1h0M410.5 86.3h0M411.6 86.1h0M412.7 85.9h0M413.8 84.9h0M414.9 84.4h0M416.0 83.8h0M417.1 83.5h0M418.2 83.8h0M419.3 84.0h0M420.4 85.6h0M421.5 87.1h0M422.6 88.1h0M423.7 87.6h0M424.8 87.6h0M425.9 86.3h0M427.0 85.1h0M428.1 83.5h0M429.2 81.7h0M430.3 81.0h0M431.4 80.8h0M432.5 80.8h0M433.6 83.8h0M434.7 89.5h0M435.8 96.1h0M436.9 101.5h0M438.0 106.2h0M439.1 106.5h0M440.2 106.2h0M441.3 106.0h0M442.4 104.4h0M443.5 102.9h0M444.6 100.9h0M445.7 98.8h0M446.8 97.0h0M447.9 95.2h0M449.0 93.4h0M450.1 93.0h0M451.2 92.6h0M452.3 94.1h0M453.4 96.5h0M454.5 101.5h0M455.6 106.6h0M456.7 111.2h0M457.8 114.5h0M458.9 114.8h0M460.0 113.8h0M461.1 112.2h0M462.2 109.9h0M463.3 106.5h0M464.4 103.6h0M465.5 101.1h0M466.6 98.6h0M467.7 96.7h0M468.8 95.9h0M469.9 96.7h0M471.0 99.0h0M472.1 103.8h0M473.2 108.6h0M474.3 113.3h0M475.4 116.7h0M476.5 118.8h0M477.6 119.2h0M478.7 118.0h0M479.8 115.7h0M480.9 113.0h0M482.0 109.7h0M483.1 105.6h0M484.2 101.9h0M485.3 98.5h0M486.4 95.7h0M487.5 94.4h0M488.6 93.5h0M489.7 93.8h0M490.8 95.5h0M491.9 98.9h0M493.0 103.2h0M494.1 107.3h0M495.2 110.9h0M496.3 112.8h0M497.4 113.7h0M498.5 113.4h0M499.6 111.9h0M500.7 109.8h0M501.8 106.9h0M502.9 104.5h0M504.0 101.7h0M505.1 100.0h0M506.2 98.5h0M507.3 98.1h0M508.4 98.7h0M509.5 100.8h0M510.6 103.2h0M511.7 105.9h0M512.8 107.9h0M513.9 109.8h0M515.0 109.9h0M516.1 110.4h0M517.2 109.1h0M518.3 108.0h0M519.4 106.5h0M520.5 104.6h0M521.6 103.2h0M522.7 102.4h0M523.8 102.1h0M524.9 101.2h0M526.0 101.8h0M527.1 103.2h0M528.2 104.6h0M529.3 106.5h0M530.4 108.6h0M531.5 109.9h0M532.6 110.2h0M533.7 110.3h0M534.8 109.0h0M535.9 107.7h0M537.0 106.3h0M538.1 104.6h0M539.2 102.4h0M540.3 101.7h0M541.4 101.8h0M542.5 101.5h0M543.6 102.7h0M544.7 104.1h0M545.8 105.8h0M546.9 107.4h0M548.0 108.8h0M549.1 109.5h0M550.2 109.2h0M551.3 107.7h0M552.4 105.5h0M553.5 104.0h0M554.6 102.1h0M555.7 101.0h0M556.8 100.4h0M557.9 100.3h0M559.0 102.0h0M560.1 103.0h0M561.2 105.0h0M562.3 106.6h0M563.4 107.1h0M564.5 107.2h0M565.6 105.4h0M566.7 105.0h0M567.8 104.0h0M568.9 102.9h0M570.0 102.8h0M571.1 102.4h0M572.2 103.2h0M573.3 103.8h0M574.4 104.0h0M575.5 104.6h0M576.6 104.9h0M577.7 105.0h0M578.8 106.2h0M579.9 107.3h0M581.0 109.0h0M582.1 110.1h0M583.2 110.3h0M584.3 109.8h0M585.4 108.0h0M586.5 105.6h0M587.6 103.1h0M588.7 101.4h0M589.8 100.2h0M590.9 100.8h0M592.0 102.1h0M593.1 103.7h0M594.2 105.6h0M595.3 107.1h0M596.4 107.4h0M597.5 107.1h0M598.6 107.9h0M599.7 108.6h0M600.8 109.4h0M601.9 110.4h0M603.0 110.5h0M604.1 110.2h0M605.2 108.5h0M606.3 105.7h0M607.4 104.2h0M608.5 104.6h0M609.6 107.9h0M610.7 107.2h0M611.8 103.8h0M612.9 101.0h0" stroke="#ff7f0e" stroke-width="3.80" stroke-linecap="round" fill="none"/>
<path d="M377.0,85.0 377.4,85.0 377.7,85.0 378.1,85.0 378.4,85.0 378.8,85.0 379.1,85.0 379.5,85.0 379.8,85.0 380.2,85.0 380.5,85.0 380.9,85.0 381.2,85.0 381.6,85.0 381.9,85.0 382.3,85.0 382.6,85.0 383.0,85.0 383.3,85.0 383.7,85.0 384.0,85.0 384.4,85.0 384.7,85.0 385.1,85.0 385.4,85.0 385.8,85.0 386.1,85.0 386.5,85.0 386.8,85.0 387.2,85.0 387.5,85.0 387.9,85.0 388.2,85.0 388.6,85.0 388.9,85.0 389.3,85.0 389.6,85.0 390.0,85.0 390.3,85.0 390.7,85.0 391.0,85.0 391.4,85.0 391.7,85.0 392.1,85.0 392.4,85.0 392.8,85.0 393.1,85.0 393.5,85.0 393.8,85.0 394.2,85.0 394.5,85.0 394.9,85.0 395.2,85.0 395.6,85.0 395.9,85.0 396.3,85.0 396.6,85.0 397.0,85.0 397.3,85.0 397.7,85.0 398.0,85.0 398.4,85.0 398.7,84.9 399.1,84.8 399.4,84.6 399.8,84.4 400.1,84.2 400.5,84.0 400.8,83.9 401.2,83.8 401.5,83.8 401.9,83.9 402.2,84.1 402.6,83.8 402.9,84.6 403.3,84.9 403.6,84.7 404.0,85.0 404.3,85.1 404.7,85.3 405.0,85.2 406.2,85.2 407.5,87.6 408.8,88.2 410.0,88.0 411.2,84.4 412.5,81.8 413.8,81.9 415.0,81.7 416.2,85.4 417.5,89.3 418.8,91.6 420.0,91.6 421.2,89.7 422.5,85.6 423.8,81.8 425.0,82.2 426.2,83.6 427.5,87.4 428.8,93.0 430.0,109.5 431.2,108.8 432.5,103.1 433.8,97.7 435.0,96.7 436.2,95.7 437.5,101.8 438.8,118.3 440.0,126.7 441.2,133.1 442.5,132.3 443.8,126.0 445.0,123.0 446.2,123.8 447.5,134.1 448.8,137.8 450.0,141.0 451.2,147.5 452.5,148.2 453.8,146.0 455.0,143.5 456.2,141.1 457.5,142.1 458.8,147.6 460.0,154.6 461.2,160.8 462.5,161.9 463.8,158.0 465.0,152.4 466.2,148.6 467.5,148.6 468.8,157.2 470.0,163.4 471.2,163.5 472.5,160.0 473.8,156.3 475.0,154.0 476.2,149.9 477.5,150.0 478.8,156.3 480.0,163.5 481.2,165.9 482.5,162.8 483.8,161.9 485.0,158.3 486.2,155.0 487.5,153.9 488.8,156.8 490.0,163.4 491.2,166.1 492.5,162.3 493.8,157.3 495.0,152.3 496.2,152.7 497.5,156.5 498.8,163.1 500.0,168.0 501.2,169.1 502.5,165.9 503.8,163.0 505.0,159.0 506.2,156.4 507.5,160.4 508.8,163.2 510.0,168.2 511.2,172.0 512.5,171.0 513.8,166.6 515.0,161.6 516.2,158.8 517.5,157.0 518.8,162.4 520.0,168.1 521.2,172.3 522.5,170.8 523.8,166.1 525.0,161.9 526.2,157.9 527.5,157.1 528.8,161.7 530.0,168.1 531.2,172.4 532.5,171.7 533.8,166.9 535.0,160.8 536.2,157.5 537.5,157.8 538.8,162.4 540.0,167.2 541.2,171.1 542.5,169.4 543.8,164.3 545.0,159.8 546.2,156.8 547.5,156.6 548.8,160.6 550.0,166.6 551.2,171.8 552.5,171.7 553.8,168.5 555.0,165.1 556.2,159.7 557.5,157.7 558.8,157.5 560.0,164.0 561.2,168.4 562.5,170.8 563.8,169.9 565.0,166.1 566.2,159.7 567.5,158.2 568.8,159.0 570.0,164.3 571.2,170.3 572.5,171.7 573.8,169.7 575.0,165.0 576.2,160.2 577.5,156.6 578.8,157.0 580.0,161.5 581.2,165.9 582.5,171.2 583.8,171.2 585.0,168.4 586.2,161.2 587.5,156.7 588.8,157.8 590.0,161.5 591.2,168.2 592.5,171.7 593.8,173.0 595.0,169.4 596.2,162.1 597.5,158.0 598.8,160.1 600.0,162.9 601.2,168.2 602.5,171.1 603.8,171.0 605.0,168.2 606.2,162.2 607.5,158.3" stroke="#1f77b4" stroke-width="0.8" fill="none" stroke-linejoin="round"/>
<path d="M377.0 85.0h0M377.4 85.0h0M377.7 85.0h0M378.1 85.0h0M378.4 85.0h0M378.8 85.0h0M379.1 85.0h0M379.5 85.0h0M379.8 85.0h0M380.2 85.0h0M380.5 85.0h0M380.9 85.0h0M381.2 85.0h0M381.6 85.0h0M381.9 85.0h0M382.3 85.0h0M382.6 85.0h0M383.0 85.0h0M383.3 85.0h0M383.7 85.0h0M384.0 85.0h0M384.4 85.0h0M384.7 85.0h0M385.1 85.0h0M385.4 85.0h0M385.8 85.0h0M386.1 85.0h0M386.5 85.0h0M386.8 85.0h0M387.2 85.0h0M387.5 85.0h0M387.9 85.0h0M388.2 85.0h0M388.6 85.0h0M388.9 85.0h0M389.3 85.0h0M389.6 85.0h0M390.0 85.0h0M390.3 85.0h0M390.7 85.0h0M391.0 85.0h0M391.4 85.0h0M391.7 85.0h0M392.1 85.0h0M392.4 85.0h0M392.8 85.0h0M393.1 85.0h0M393.5 85.0h0M393.8 85.0h0M394.2 85.0h0M394.5 85.0h0M394.9 85.0h0M395.2 85.0h0M395.6 85.0h0M395.9 85.0h0M396.3 85.0h0M396.6 85.0h0M397.0 85.0h0M397.3 85.0h0M397.7 85.0h0M398.0 85.0h0M398.4 85.0h0M398.7 84.9h0M399.1 84.8h0M399.4 84.6h0M399.8 84.4h0M400.1 84.2h0M400.5 84.0h0M400.8 83.9h0M401.2 83.8h0M401.5 83.8h0M401.9 83.9h0M402.2 84.1h0M402.6 83.8h0M402.9 84.6h0M403.3 84.9h0M403.6 84.7h0M404.0 85.0h0M404.3 85.1h0M404.7 85.3h0M405.0 85.2h0M406.2 85.2h0M407.5 87.6h0M408.8 88.2h0M410.0 88.0h0M411.2 84.4h0M412.5 81.8h0M413.8 81.9h0M415.0 81.7h0M416.2 85.4h0M417.5 89.3h0M418.8 91.6h0M420.0 91.6h0M421.2 89.7h0M422.5 85.6h0M423.8 81.8h0M425.0 82.2h0M426.2 83.6h0M427.5 87.4h0M428.8 93.0h0M430.0 109.5h0M431.2 108.8h0M432.5 103.1h0M433.8 97.7h0M435.0 96.7h0M436.2 95.7h0M437.5 101.8h0M438.8 118.3h0M440.0 126.7h0M441.2 133.1h0M442.5 132.3h0M443.8 126.0h0M445.0 123.0h0M446.2 123.8h0M447.5 134.1h0M448.8 137.8h0M450.0 141.0h0M451.2 147.5h0M452.5 148.2h0M453.8 146.0h0M455.0 143.5h0M456.2 141.1h0M457.5 142.1h0M458.8 147.6h0M460.0 154.6h0M461.2 160.8h0M462.5 161.9h0M463.8 158.0h0M465.0 152.4h0M466.2 148.6h0M467.5 148.6h0M468.8 157.2h0M470.0 163.4h0M471.2 163.5h0M472.5 160.0h0M473.8 156.3h0M475.0 154.0h0M476.2 149.9h0M477.5 150.0h0M478.8 156.3h0M480.0 163.5h0M481.2 165.9h0M482.5 162.8h0M483.8 161.9h0M485.0 158.3h0M486.2 155.0h0M487.5 153.9h0M488.8 156.8h0M490.0 163.4h0M491.2 166.1h0M492.5 162.3h0M493.8 157.3h0M495.0 152.3h0M496.2 152.7h0M497.5 156.5h0M498.8 163.1h0M500.0 168.0h0M501.2 169.1h0M502.5 165.9h0M503.8 163.0h0M505.0 159.0h0M506.2 156.4h0M507.5 160.4h0M508.8 163.2h0M510.0 168.2h0M511.2 172.0h0M512.5 171.0h0M513.8 166.6h0M515.0 161.6h0M516.2 158.8h0M517.5 157.0h0M518.8 162.4h0M520.0 168.1h0M521.2 172.3h0M522.5 170.8h0M523.8 166.1h0M525.0 161.9h0M526.2 157.9h0M527.5 157.1h0M528.8 161.7h0M530.0 168.1h0M531.2 172.4h0M532.5 171.7h0M533.8 166.9h0M535.0 160.8h0M536.2 157.5h0M537.5 157.8h0M538.8 162.4h0M540.0 167.2h0M541.2 171.1h0M542.5 169.4h0M543.8 164.3h0M545.0 159.8h0M546.2 156.8h0M547.5 156.6h0M548.8 160.6h0M550.0 166.6h0M551.2 171.8h0M552.5 171.7h0M553.8 168.5h0M555.0 165.1h0M556.2 159.7h0M557.5 157.7h0M558.8 157.5h0M560.0 164.0h0M561.2 168.4h0M562.5 170.8h0M563.8 169.9h0M565.0 166.1h0M566.2 159.7h0M567.5 158.2h0M568.8 159.0h0M570.0 164.3h0M571.2 170.3h0M572.5 171.7h0M573.8 169.7h0M575.0 165.0h0M576.2 160.2h0M577.5 156.6h0M578.8 157.0h0M580.0 161.5h0M581.2 165.9h0M582.5 171.2h0M583.8 171.2h0M585.0 168.4h0M586.2 161.2h0M587.5 156.7h0M588.8 157.8h0M590.0 161.5h0M591.2 168.2h0M592.5 171.7h0M593.8 173.0h0M595.0 169.4h0M596.2 162.1h0M597.5 158.0h0M598.8 160.1h0M600.0 162.9h0M601.2 168.2h0M602.5 171.1h0M603.8 171.0h0M605.0 168.2h0M606.2 162.2h0M607.5 158.3h0" stroke="#17becf" stroke-width="3.80" stroke-linecap="round" fill="none"/>
<path d="M375.3 85.0a1.7 1.7 0 1 0 3.4 0a1.7 1.7 0 1 0 -3.4 0M375.7 85.0a1.7 1.7 0 1 0 3.4 0a1.7 1.7 0 1 0 -3.4 0M376.0 85.0a1.7 1.7 0 1 0 3.4 0a1.7 1.7 0 1 0 -3.4 0M376.4 85.0a1.7 1.7 0 1 0 3.4 0a1.7 1.7 0 1 0 -3.4 0M376.7 85.0a1.7 1.7 0 1 0 3.4 0a1.7 1.7 0 1 0 -3.4 0M377.1 85.0a1.7 1.7 0 1 0 3.4 0a1.7 1.7 0 1 0 -3.4 0M377.4 85.0a1.7 1.7 0 1 0 3.4 0a1.7 1.7 0 1 0 -3.4 0M377.8 85.0a1.7 1.7 0 1 0 3.4 0a1.7 1.7 0 1 0 -3.4 0M378.1 85.0a1.7 1.7 0 1 0 3.4 0a1.7 1.7 0 1 0 -3.4 0M378.5 85.0a1.7 1.7 0 1 0 3.4 0a1.7 1.7 0 1 0 -3.4 0M378.8 85.0a1.7 1.7 0 1 0 3.4 0a1.7 1.7 0 1 0 -3.4 0M379.2 85.0a1.7 1.7 0 1 0 3.4 0a1.7 1.7 0 1 0 -3.4 0M379.5 85.0a1.7 1.7 0 1 0 3.4 0a1.7 1.7 0 1 0 -3.4 0M379.9 85.0a1.7 1.7 0 1 0 3.4 0a1.7 1.7 0 1 0 -3.4 0M380.2 85.0a1.7 1.7 0 1 0 3.4 0a1.7 1.7 0 1 0 -3.4 0M380.6 85.0a1.7 1.7 0 1 0 3.4 0a1.7 1.7 0 1 0 -3.4 0M380.9 85.0a1.7 1.7 0 1 0 3.4 0a1.7 1.7 0 1 0 -3.4 0M381.3 85.0a1.7 1.7 0 1 0 3.4 0a1.7 1.7 0 1 0 -3.4 0M381.6 85.0a1.7 1.7 0 1 0 3.4 0a1.7 1.7 0 1 0 -3.4 0M382.0 85.0a1.7 1.7 0 1 0 3.4 0a1.7 1.7 0 1 0 -3.4 0M382.3 85.0a1.7 1.7 0 1 0 3.4 0a1.7 1.7 0 1 0 -3.4 0M382.7 85.0a1.7 1.7 0 1 0 3.4 0a1.7 1.7 0 1 0 -3.4 0M383.0 85.0a1.7 1.7 0 1 0 3.4 0a1.7 1.7 0 1 0 -3.4 0M383.4 85.0a1.7 1.7 0 1 0 3.4 0a1.7 1.7 0 1 0 -3.4 0M383.7 85.0a1.7 1.7 0 1 0 3.4 0a1.7 1.7 0 1 0 -3.4 0M384.1 85.0a1.7 1.7 0 1 0 3.4 0a1.7 1.7 0 1 0 -3.4 0M384.4 85.0a1.7 1.7 0 1 0 3.4 0a1.7 1.7 0 1 0 -3.4 0M384.8 85.0a1.7 1.7 0 1 0 3.4 0a1.7 1.7 0 1 0 -3.4 0M385.1 85.0a1.7 1.7 0 1 0 3.4 0a1.7 1.7 0 1 0 -3.4 0M385.5 85.0a1.7 1.7 0 1 0 3.4 0a1.7 1.7 0 1 0 -3.4 0M385.8 85.0a1.7 1.7 0 1 0 3.4 0a1.7 1.7 0 1 0 -3.4 0M386.2 85.0a1.7 1.7 0 1 0 3.4 0a1.7 1.7 0 1 0 -3.4 0M386.5 85.0a1.7 1.7 0 1 0 3.4 0a1.7 1.7 0 1 0 -3.4 0M386.9 85.0a1.7 1.7 0 1 0 3.4 0a1.7 1.7 0 1 0 -3.4 0M387.2 85.0a1.7 1.7 0 1 0 3.4 0a1.7 1.7 0 1 0 -3.4 0M387.6 85.0a1.7 1.7 0 1 0 3.4 0a1.7 1.7 0 1 0 -3.4 0M387.9 85.0a1.7 1.7 0 1 0 3.4 0a1.7 1.7 0 1 0 -3.4 0M388.3 85.0a1.7 1.7 0 1 0 3.4 0a1.7 1.7 0 1 0 -3.4 0M388.6 85.0a1.7 1.7 0 1 0 3.4 0a1.7 1.7 0 1 0 -3.4 0M389.0 85.0a1.7 1.7 0 1 0 3.4 0a1.7 1.7 0 1 0 -3.4 0M389.3 85.0a1.7 1.7 0 1 0 3.4 0a1.7 1.7 0 1 0 -3.4 0M389.7 85.0a1.7 1.7 0 1 0 3.4 0a1.7 1.7 0 1 0 -3.4 0M390.0 85.0a1.7 1.7 0 1 0 3.4 0a1.7 1.7 0 1 0 -3.4 0M390.4 85.0a1.7 1.7 0 1 0 3.4 0a1.7 1.7 0 1 0 -3.4 0M390.7 85.0a1.7 1.7 0 1 0 3.4 0a1.7 1.7 0 1 0 -3.4 0M391.1 85.0a1.7 1.7 0 1 0 3.4 0a1.7 1.7 0 1 0 -3.4 0M391.4 85.0a1.7 1.7 0 1 0 3.4 0a1.7 1.7 0 1 0 -3.4 0M391.8 85.0a1.7 1.7 0 1 0 3.4 0a1.7 1.7 0 1 0 -3.4 0M392.1 85.0a1.7 1.7 0 1 0 3.4 0a1.7 1.7 0 1 0 -3.4 0M392.5 85.0a1.7 1.7 0 1 0 3.4 0a1.7 1.7 0 1 0 -3.4 0M392.8 85.0a1.7 1.7 0 1 0 3.4 0a1.7 1.7 0 1 0 -3.4 0M393.2 85.0a1.7 1.7 0 1 0 3.4 0a1.7 1.7 0 1 0 -3.4 0M393.5 85.0a1.7 1.7 0 1 0 3.4 0a1.7 1.7 0 1 0 -3.4 0M393.9 85.0a1.7 1.7 0 1 0 3.4 0a1.7 1.7 0 1 0 -3.4 0M394.2 85.0a1.7 1.7 0 1 0 3.4 0a1.7 1.7 0 1 0 -3.4 0M394.6 85.0a1.7 1.7 0 1 0 3.4 0a1.7 1.7 0 1 0 -3.4 0M394.9 85.0a1.7 1.7 0 1 0 3.4 0a1.7 1.7 0 1 0 -3.4 0M395.3 85.0a1.7 1.7 0 1 0 3.4 0a1.7 1.7 0 1 0 -3.4 0M395.6 85.0a1.7 1.7 0 1 0 3.4 0a1.7 1.7 0 1 0 -3.4 0M396.0 85.0a1.7 1.7 0 1 0 3.4 0a1.7 1.7 0 1 0 -3.4 0M396.3 85.0a1.7 1.7 0 1 0 3.4 0a1.7 1.7 0 1 0 -3.4 0M396.7 85.0a1.7 1.7 0 1 0 3.4 0a1.7 1.7 0 1 0 -3.4 0M397.0 84.9a1.7 1.7 0 1 0 3.4 0a1.7 1.7 0 1 0 -3.4 0M397.4 84.8a1.7 1.7 0 1 0 3.4 0a1.7 1.7 0 1 0 -3.4 0M397.7 84.6a1.7 1.7 0 1 0 3.4 0a1.7 1.7 0 1 0 -3.4 0M398.1 84.4a1.7 1.7 0 1 0 3.4 0a1.7 1.7 0 1 0 -3.4 0M398.4 84.2a1.7 1.7 0 1 0 3.4 0a1.7 1.7 0 1 0 -3.4 0M398.8 84.0a1.7 1.7 0 1 0 3.4 0a1.7 1.7 0 1 0 -3.4 0M399.1 83.9a1.7 1.7 0 1 0 3.4 0a1.7 1.7 0 1 0 -3.4 0M399.5 83.9a1.7 1.7 0 1 0 3.4 0a1.7 1.7 0 1 0 -3.4 0M399.8 83.7a1.7 1.7 0 1 0 3.4 0a1.7 1.7 0 1 0 -3.4 0M400.2 83.7a1.7 1.7 0 1 0 3.4 0a1.7 1.7 0 1 0 -3.4 0M400.5 83.9a1.7 1.7 0 1 0 3.4 0a1.7 1.7 0 1 0 -3.4 0M400.9 84.2a1.7 1.7 0 1 0 3.4 0a1.7 1.7 0 1 0 -3.4 0M401.2 84.1a1.7 1.7 0 1 0 3.4 0a1.7 1.7 0 1 0 -3.4 0M401.6 84.7a1.7 1.7 0 1 0 3.4 0a1.7 1.7 0 1 0 -3.4 0M401.9 84.5a1.7 1.7 0 1 0 3.4 0a1.7 1.7 0 1 0 -3.4 0M402.3 85.3a1.7 1.7 0 1 0 3.4 0a1.7 1.7 0 1 0 -3.4 0M402.6 85.2a1.7 1.7 0 1 0 3.4 0a1.7 1.7 0 1 0 -3.4 0M403.0 85.3a1.7 1.7 0 1 0 3.4 0a1.7 1.7 0 1 0 -3.4 0M403.3 86.2a1.7 1.7 0 1 0 3.4 0a1.7 1.7 0 1 0 -3.4 0M404.6 85.2a1.7 1.7 0 1 0 3.4 0a1.7 1.7 0 1 0 -3.4 0M405.8 87.1a1.7 1.7 0 1 0 3.4 0a1.7 1.7 0 1 0 -3.4 0M407.1 88.7a1.7 1.7 0 1 0 3.4 0a1.7 1.7 0 1 0 -3.4 0M408.3 87.5a1.7 1.7 0 1 0 3.4 0a1.7 1.7 0 1 0 -3.4 0M409.6 85.1a1.7 1.7 0 1 0 3.4 0a1.7 1.7 0 1 0 -3.4 0M410.8 81.3a1.7 1.7 0 1 0 3.4 0a1.7 1.7 0 1 0 -3.4 0M412.1 82.4a1.7 1.7 0 1 0 3.4 0a1.7 1.7 0 1 0 -3.4 0M413.3 82.3a1.7 1.7 0 1 0 3.4 0a1.7 1.7 0 1 0 -3.4 0M414.6 84.9a1.7 1.7 0 1 0 3.4 0a1.7 1.7 0 1 0 -3.4 0M415.8 88.0a1.7 1.7 0 1 0 3.4 0a1.7 1.7 0 1 0 -3.4 0M417.1 93.0a1.7 1.7 0 1 0 3.4 0a1.7 1.7 0 1 0 -3.4 0M418.3 93.4a1.7 1.7 0 1 0 3.4 0a1.7 1.7 0 1 0 -3.4 0M419.6 89.6a1.7 1.7 0 1 0 3.4 0a1.7 1.7 0 1 0 -3.4 0M420.8 86.5a1.7 1.7 0 1 0 3.4 0a1.7 1.7 0 1 0 -3.4 0M422.1 81.9a1.7 1.7 0 1 0 3.4 0a1.7 1.7 0 1 0 -3.4 0M423.3 81.9a1.7 1.7 0 1 0 3.4 0a1.7 1.7 0 1 0 -3.4 0M424.6 83.8a1.7 1.7 0 1 0 3.4 0a1.7 1.7 0 1 0 -3.4 0M425.8 86.6a1.7 1.7 0 1 0 3.4 0a1.7 1.7 0 1 0 -3.4 0M427.1 92.2a1.7 1.7 0 1 0 3.4 0a1.7 1.7 0 1 0 -3.4 0M428.3 109.1a1.7 1.7 0 1 0 3.4 0a1.7 1.7 0 1 0 -3.4 0M429.6 108.3a1.7 1.7 0 1 0 3.4 0a1.7 1.7 0 1 0 -3.4 0M430.8 101.8a1.7 1.7 0 1 0 3.4 0a1.7 1.7 0 1 0 -3.4 0M432.1 96.6a1.7 1.7 0 1 0 3.4 0a1.7 1.7 0 1 0 -3.4 0M433.3 95.6a1.7 1.7 0 1 0 3.4 0a1.7 1.7 0 1 0 -3.4 0M434.6 95.0a1.7 1.7 0 1 0 3.4 0a1.7 1.7 0 1 0 -3.4 0M435.8 100.3a1.7 1.7 0 1 0 3.4 0a1.7 1.7 0 1 0 -3.4 0M437.1 117.7a1.7 1.7 0 1 0 3.4 0a1.7 1.7 0 1 0 -3.4 0M438.3 121.9a1.7 1.7 0 1 0 3.4 0a1.7 1.7 0 1 0 -3.4 0M439.6 131.9a1.7 1.7 0 1 0 3.4 0a1.7 1.7 0 1 0 -3.4 0M440.8 129.7a1.7 1.7 0 1 0 3.4 0a1.7 1.7 0 1 0 -3.4 0M442.1 122.6a1.7 1.7 0 1 0 3.4 0a1.7 1.7 0 1 0 -3.4 0M443.3 119.9a1.7 1.7 0 1 0 3.4 0a1.7 1.7 0 1 0 -3.4 0M444.6 121.9a1.7 1.7 0 1 0 3.4 0a1.7 1.7 0 1 0 -3.4 0M445.8 132.2a1.7 1.7 0 1 0 3.4 0a1.7 1.7 0 1 0 -3.4 0M447.1 135.8a1.7 1.7 0 1 0 3.4 0a1.7 1.7 0 1 0 -3.4 0M448.3 139.4a1.7 1.7 0 1 0 3.4 0a1.7 1.7 0 1 0 -3.4 0M449.6 145.1a1.7 1.7 0 1 0 3.4 0a1.7 1.7 0 1 0 -3.4 0M450.8 147.1a1.7 1.7 0 1 0 3.4 0a1.7 1.7 0 1 0 -3.4 0M452.1 145.4a1.7 1.7 0 1 0 3.4 0a1.7 1.7 0 1 0 -3.4 0M453.3 140.7a1.7 1.7 0 1 0 3.4 0a1.7 1.7 0 1 0 -3.4 0M454.6 139.0a1.7 1.7 0 1 0 3.4 0a1.7 1.7 0 1 0 -3.4 0M455.8 140.4a1.7 1.7 0 1 0 3.4 0a1.7 1.7 0 1 0 -3.4 0M457.1 145.2a1.7 1.7 0 1 0 3.4 0a1.7 1.7 0 1 0 -3.4 0M458.3 152.2a1.7 1.7 0 1 0 3.4 0a1.7 1.7 0 1 0 -3.4 0M459.6 158.2a1.7 1.7 0 1 0 3.4 0a1.7 1.7 0 1 0 -3.4 0M460.8 160.6a1.7 1.7 0 1 0 3.4 0a1.7 1.7 0 1 0 -3.4 0M462.1 156.2a1.7 1.7 0 1 0 3.4 0a1.7 1.7 0 1 0 -3.4 0M463.3 151.6a1.7 1.7 0 1 0 3.4 0a1.7 1.7 0 1 0 -3.4 0M464.6 145.2a1.7 1.7 0 1 0 3.4 0a1.7 1.7 0 1 0 -3.4 0M465.8 147.3a1.7 1.7 0 1 0 3.4 0a1.7 1.7 0 1 0 -3.4 0M467.1 155.1a1.7 1.7 0 1 0 3.4 0a1.7 1.7 0 1 0 -3.4 0M468.3 162.8a1.7 1.7 0 1 0 3.4 0a1.7 1.7 0 1 0 -3.4 0M469.8 157.9a1.7 1.7 0 1 0 3.4 0a1.7 1.7 0 1 0 -3.4 0M471.2 152.7a1.7 1.7 0 1 0 3.4 0a1.7 1.7 0 1 0 -3.4 0M472.6 149.7a1.7 1.7 0 1 0 3.4 0a1.7 1.7 0 1 0 -3.4 0M474.1 152.8a1.7 1.7 0 1 0 3.4 0a1.7 1.7 0 1 0 -3.4 0M475.5 158.0a1.7 1.7 0 1 0 3.4 0a1.7 1.7 0 1 0 -3.4 0M477.0 163.6a1.7 1.7 0 1 0 3.4 0a1.7 1.7 0 1 0 -3.4 0M478.4 160.8a1.7 1.7 0 1 0 3.4 0a1.7 1.7 0 1 0 -3.4 0M479.9 158.0a1.7 1.7 0 1 0 3.4 0a1.7 1.7 0 1 0 -3.4 0M481.3 153.7a1.7 1.7 0 1 0 3.4 0a1.7 1.7 0 1 0 -3.4 0M482.8 149.4a1.7 1.7 0 1 0 3.4 0a1.7 1.7 0 1 0 -3.4 0M484.2 152.1a1.7 1.7 0 1 0 3.4 0a1.7 1.7 0 1 0 -3.4 0M485.7 154.6a1.7 1.7 0 1 0 3.4 0a1.7 1.7 0 1 0 -3.4 0M487.1 160.6a1.7 1.7 0 1 0 3.4 0a1.7 1.7 0 1 0 -3.4 0M488.6 161.9a1.7 1.7 0 1 0 3.4 0a1.7 1.7 0 1 0 -3.4 0M490.0 155.8a1.7 1.7 0 1 0 3.4 0a1.7 1.7 0 1 0 -3.4 0M491.5 152.6a1.7 1.7 0 1 0 3.4 0a1.7 1.7 0 1 0 -3.4 0M492.9 150.8a1.7 1.7 0 1 0 3.4 0a1.7 1.7 0 1 0 -3.4 0M494.4 152.0a1.7 1.7 0 1 0 3.4 0a1.7 1.7 0 1 0 -3.4 0M495.8 155.5a1.7 1.7 0 1 0 3.4 0a1.7 1.7 0 1 0 -3.4 0M497.3 160.2a1.7 1.7 0 1 0 3.4 0a1.7 1.7 0 1 0 -3.4 0M498.7 159.3a1.7 1.7 0 1 0 3.4 0a1.7 1.7 0 1 0 -3.4 0M500.2 156.0a1.7 1.7 0 1 0 3.4 0a1.7 1.7 0 1 0 -3.4 0M501.6 154.8a1.7 1.7 0 1 0 3.4 0a1.7 1.7 0 1 0 -3.4 0M503.1 148.2a1.7 1.7 0 1 0 3.4 0a1.7 1.7 0 1 0 -3.4 0M504.5 149.3a1.7 1.7 0 1 0 3.4 0a1.7 1.7 0 1 0 -3.4 0M506.0 154.5a1.7 1.7 0 1 0 3.4 0a1.7 1.7 0 1 0 -3.4 0M507.4 158.6a1.7 1.7 0 1 0 3.4 0a1.7 1.7 0 1 0 -3.4 0M508.9 159.8a1.7 1.7 0 1 0 3.4 0a1.7 1.7 0 1 0 -3.4 0M510.3 154.6a1.7 1.7 0 1 0 3.4 0a1.7 1.7 0 1 0 -3.4 0M511.8 149.4a1.7 1.7 0 1 0 3.4 0a1.7 1.7 0 1 0 -3.4 0M513.2 146.5a1.7 1.7 0 1 0 3.4 0a1.7 1.7 0 1 0 -3.4 0M514.7 149.6a1.7 1.7 0 1 0 3.4 0a1.7 1.7 0 1 0 -3.4 0M516.1 153.9a1.7 1.7 0 1 0 3.4 0a1.7 1.7 0 1 0 -3.4 0M517.6 155.4a1.7 1.7 0 1 0 3.4 0a1.7 1.7 0 1 0 -3.4 0M519.0 156.8a1.7 1.7 0 1 0 3.4 0a1.7 1.7 0 1 0 -3.4 0M520.5 154.6a1.7 1.7 0 1 0 3.4 0a1.7 1.7 0 1 0 -3.4 0M521.9 148.7a1.7 1.7 0 1 0 3.4 0a1.7 1.7 0 1 0 -3.4 0M523.4 146.1a1.7 1.7 0 1 0 3.4 0a1.7 1.7 0 1 0 -3.4 0M524.8 148.3a1.7 1.7 0 1 0 3.4 0a1.7 1.7 0 1 0 -3.4 0M526.3 149.1a1.7 1.7 0 1 0 3.4 0a1.7 1.7 0 1 0 -3.4 0M527.7 155.1a1.7 1.7 0 1 0 3.4 0a1.7 1.7 0 1 0 -3.4 0M529.2 157.5a1.7 1.7 0 1 0 3.4 0a1.7 1.7 0 1 0 -3.4 0M530.6 152.2a1.7 1.7 0 1 0 3.4 0a1.7 1.7 0 1 0 -3.4 0M532.1 150.5a1.7 1.7 0 1 0 3.4 0a1.7 1.7 0 1 0 -3.4 0M533.5 145.7a1.7 1.7 0 1 0 3.4 0a1.7 1.7 0 1 0 -3.4 0M535.0 144.9a1.7 1.7 0 1 0 3.4 0a1.7 1.7 0 1 0 -3.4 0M536.4 150.0a1.7 1.7 0 1 0 3.4 0a1.7 1.7 0 1 0 -3.4 0M537.9 152.9a1.7 1.7 0 1 0 3.4 0a1.7 1.7 0 1 0 -3.4 0M539.3 154.2a1.7 1.7 0 1 0 3.4 0a1.7 1.7 0 1 0 -3.4 0M540.8 151.8a1.7 1.7 0 1 0 3.4 0a1.7 1.7 0 1 0 -3.4 0M542.2 147.1a1.7 1.7 0 1 0 3.4 0a1.7 1.7 0 1 0 -3.4 0M543.7 143.9a1.7 1.7 0 1 0 3.4 0a1.7 1.7 0 1 0 -3.4 0M545.1 143.8a1.7 1.7 0 1 0 3.4 0a1.7 1.7 0 1 0 -3.4 0M546.6 148.1a1.7 1.7 0 1 0 3.4 0a1.7 1.7 0 1 0 -3.4 0M548.0 150.8a1.7 1.7 0 1 0 3.4 0a1.7 1.7 0 1 0 -3.4 0M549.5 153.5a1.7 1.7 0 1 0 3.4 0a1.7 1.7 0 1 0 -3.4 0M550.9 151.0a1.7 1.7 0 1 0 3.4 0a1.7 1.7 0 1 0 -3.4 0M552.4 147.9a1.7 1.7 0 1 0 3.4 0a1.7 1.7 0 1 0 -3.4 0M553.8 143.4a1.7 1.7 0 1 0 3.4 0a1.7 1.7 0 1 0 -3.4 0M555.3 144.4a1.7 1.7 0 1 0 3.4 0a1.7 1.7 0 1 0 -3.4 0M556.7 145.7a1.7 1.7 0 1 0 3.4 0a1.7 1.7 0 1 0 -3.4 0M558.2 147.2a1.7 1.7 0 1 0 3.4 0a1.7 1.7 0 1 0 -3.4 0M559.6 151.4a1.7 1.7 0 1 0 3.4 0a1.7 1.7 0 1 0 -3.4 0M561.1 149.8a1.7 1.7 0 1 0 3.4 0a1.7 1.7 0 1 0 -3.4 0M562.5 147.6a1.7 1.7 0 1 0 3.4 0a1.7 1.7 0 1 0 -3.4 0M564.0 142.4a1.7 1.7 0 1 0 3.4 0a1.7 1.7 0 1 0 -3.4 0M565.4 142.3a1.7 1.7 0 1 0 3.4 0a1.7 1.7 0 1 0 -3.4 0M566.9 144.4a1.7 1.7 0 1 0 3.4 0a1.7 1.7 0 1 0 -3.4 0M568.3 146.5a1.7 1.7 0 1 0 3.4 0a1.7 1.7 0 1 0 -3.4 0M569.8 149.5a1.7 1.7 0 1 0 3.4 0a1.7 1.7 0 1 0 -3.4 0M571.2 149.1a1.7 1.7 0 1 0 3.4 0a1.7 1.7 0 1 0 -3.4 0M572.7 143.9a1.7 1.7 0 1 0 3.4 0a1.7 1.7 0 1 0 -3.4 0M574.1 145.6a1.7 1.7 0 1 0 3.4 0a1.7 1.7 0 1 0 -3.4 0M575.6 140.3a1.7 1.7 0 1 0 3.4 0a1.7 1.7 0 1 0 -3.4 0M577.0 139.9a1.7 1.7 0 1 0 3.4 0a1.7 1.7 0 1 0 -3.4 0M578.5 143.6a1.7 1.7 0 1 0 3.4 0a1.7 1.7 0 1 0 -3.4 0M579.9 148.3a1.7 1.7 0 1 0 3.4 0a1.7 1.7 0 1 0 -3.4 0M581.4 147.2a1.7 1.7 0 1 0 3.4 0a1.7 1.7 0 1 0 -3.4 0M582.8 142.1a1.7 1.7 0 1 0 3.4 0a1.7 1.7 0 1 0 -3.4 0M584.3 137.8a1.7 1.7 0 1 0 3.4 0a1.7 1.7 0 1 0 -3.4 0M585.7 138.2a1.7 1.7 0 1 0 3.4 0a1.7 1.7 0 1 0 -3.4 0M587.2 139.2a1.7 1.7 0 1 0 3.4 0a1.7 1.7 0 1 0 -3.4 0M588.6 144.0a1.7 1.7 0 1 0 3.4 0a1.7 1.7 0 1 0 -3.4 0M590.1 146.3a1.7 1.7 0 1 0 3.4 0a1.7 1.7 0 1 0 -3.4 0M591.5 147.7a1.7 1.7 0 1 0 3.4 0a1.7 1.7 0 1 0 -3.4 0M593.0 140.7a1.7 1.7 0 1 0 3.4 0a1.7 1.7 0 1 0 -3.4 0M594.4 139.7a1.7 1.7 0 1 0 3.4 0a1.7 1.7 0 1 0 -3.4 0M595.9 135.7a1.7 1.7 0 1 0 3.4 0a1.7 1.7 0 1 0 -3.4 0M597.3 136.7a1.7 1.7 0 1 0 3.4 0a1.7 1.7 0 1 0 -3.4 0M598.8 142.7a1.7 1.7 0 1 0 3.4 0a1.7 1.7 0 1 0 -3.4 0M600.2 142.0a1.7 1.7 0 1 0 3.4 0a1.7 1.7 0 1 0 -3.4 0M601.7 144.6a1.7 1.7 0 1 0 3.4 0a1.7 1.7 0 1 0 -3.4 0M603.1 141.2a1.7 1.7 0 1 0 3.4 0a1.7 1.7 0 1 0 -3.4 0M604.6 139.1a1.7 1.7 0 1 0 3.4 0a1.7 1.7 0 1 0 -3.4 0M606.0 133.1a1.7 1.7 0 1 0 3.4 0a1.7 1.7 0 1 0 -3.4 0M607.5 136.3a1.7 1.7 0 1 0 3.4 0a1.7 1.7 0 1 0 -3.4 0M608.9 139.7a1.7 1.7 0 1 0 3.4 0a1.7 1.7 0 1 0 -3.4 0M610.4 142.3a1.7 1.7 0 1 0 3.4 0a1.7 1.7 0 1 0 -3.4 0M611.8 143.0a1.7 1.7 0 1 0 3.4 0a1.7 1.7 0 1 0 -3.4 0M613.3 139.9a1.7 1.7 0 1 0 3.4 0a1.7 1.7 0 1 0 -3.4 0M614.7 134.1a1.7 1.7 0 1 0 3.4 0a1.7 1.7 0 1 0 -3.4 0M616.2 132.5a1.7 1.7 0 1 0 3.4 0a1.7 1.7 0 1 0 -3.4 0M617.6 131.2a1.7 1.7 0 1 0 3.4 0a1.7 1.7 0 1 0 -3.4 0M619.1 138.0a1.7 1.7 0 1 0 3.4 0a1.7 1.7 0 1 0 -3.4 0M620.0 122.9a1.7 1.7 0 1 0 3.4 0a1.7 1.7 0 1 0 -3.4 0" stroke="#e377c2" stroke-width="1.1" fill="none"/>
<path d="M377.0,267.5 377.4,267.5 377.7,267.5 378.1,267.5 378.4,267.5 378.8,267.5 379.1,267.5 379.5,267.5 379.8,267.5 380.2,267.5 380.5,267.5 380.9,267.5 381.2,267.5 381.6,267.5 381.9,267.5 382.3,267.5 382.6,267.5 383.0,267.5 383.3,267.5 383.7,267.5 384.0,267.5 384.4,267.5 384.7,267.5 385.1,267.5 385.4,267.5 385.8,267.5 386.1,267.5 386.5,267.5 386.8,267.5 387.2,267.5 387.5,267.5 387.9,267.5 388.2,267.5 388.6,267.5 388.9,267.5 389.3,267.5 389.6,267.5 390.0,267.5 390.3,267.5 390.7,267.5 391.0,267.5 391.4,267.5 391.7,267.5 392.1,267.5 392.4,267.5 392.8,267.5 393.1,267.5 393.5,267.5 393.8,267.5 394.2,267.5 394.5,267.5 394.9,267.5 395.2,267.5 395.6,267.5 395.9,267.5 396.3,267.5 396.6,267.5 397.0,267.5 397.3,267.5 397.7,267.5 398.0,267.5 398.4,267.4 398.7,267.2 399.1,266.9 399.4,266.5 399.8,266.1 400.1,265.6 400.5,265.1 400.8,264.6 401.2,264.3 401.5,264.0 401.9,264.0 402.2,264.0 402.6,264.0 402.9,264.2 403.3,264.5 403.6,264.9 404.0,265.3 404.3,265.6 404.7,265.9 405.0,266.4 406.1,267.6 407.2,267.9 408.3,267.8 409.4,268.0 410.5,267.7 411.6,268.4 412.7,268.5 413.8,267.4 414.9,265.5 416.0,264.0 417.1,262.5 418.2,261.9 419.3,262.2 420.4,261.8 421.5,259.9 422.6,256.8 423.7,252.9 424.8,251.9 425.9,253.1 427.0,257.3 428.1,262.8 429.2,269.7 430.3,277.0 431.4,283.6 432.5,288.9 433.6,293.5 434.7,295.1 435.8,294.2 436.9,289.2 438.0,281.1 439.1,269.9 440.2,257.4 441.3,244.7 442.4,232.5 443.5,222.5 444.6,214.3 445.7,211.3 446.8,211.7 447.9,218.6 449.0,229.9 450.1,245.0 451.2,261.6 452.3,277.1 453.4,288.5 454.5,295.7 455.6,297.1 456.7,292.5 457.8,283.5 458.9,272.1 460.0,258.7 461.1,247.9 462.2,239.9 463.3,237.0 464.4,237.7 465.5,241.2 466.6,246.9 467.7,252.8 468.8,259.5 469.9,266.1 471.0,270.9 472.1,274.3 473.2,274.3 474.3,271.1 475.4,264.0 476.5,255.5 477.6,246.9 478.7,242.0 479.8,240.2 480.9,242.5 482.0,247.6 483.1,255.0 484.2,263.8 485.3,272.7 486.4,281.7 487.5,287.5 488.6,291.7 489.7,291.7 490.8,286.3 491.9,277.1 493.0,264.8 494.1,252.2 495.2,241.7 496.3,235.6 497.4,234.5 498.5,236.2 499.6,240.2 500.7,245.5 501.8,251.9 502.9,259.3 504.0,266.3 505.1,273.2 506.2,278.7 507.3,283.1 508.4,284.5 509.5,285.4 510.6,282.5 511.7,278.2 512.8,271.5 513.9,264.4 515.0,257.5 516.1,251.1 517.2,246.6 518.3,244.5 519.4,245.1 520.5,246.6 521.6,250.9 522.7,256.2 523.8,261.0 524.9,266.0 526.0,268.2 527.1,269.9 528.2,269.6 529.3,267.5 530.4,264.5 531.5,261.8 532.6,259.0 533.7,258.4 534.8,258.7 535.9,259.4 537.0,261.2 538.1,262.2 539.2,264.5 540.3,265.4 541.4,267.0 542.5,267.8 543.6,267.7 544.7,267.0 545.8,264.3 546.9,260.0 548.0,255.1 549.1,250.9 550.2,247.1 551.3,244.9 552.4,243.7 553.5,245.6 554.6,248.4 555.7,251.5 556.8,255.5 557.9,260.9 559.0,266.0 560.1,270.2 561.2,274.3 562.3,277.2 563.4,278.4 564.5,278.5 565.6,277.4 566.7,274.0 567.8,269.5 568.9,264.9 570.0,259.8 571.1,254.8 572.2,250.7 573.3,247.7 574.4,247.3 575.5,246.6 576.6,248.3 577.7,250.7 578.8,253.7 579.9,256.5 581.0,259.6 582.1,261.6 583.2,263.3 584.3,263.0 585.4,263.5 586.5,262.6 587.6,262.0 588.7,261.2 589.8,260.5 590.9,260.9 592.0,261.6 593.1,262.9 594.2,263.3 595.3,264.1 596.4,263.9 597.5,263.2 598.6,262.3 599.7,261.6 600.8,261.2 601.9,260.4 603.0,259.5 604.1,258.4 605.2,258.2 606.3,259.9 607.4,261.3 608.5,261.4 609.6,257.9 610.7,254.2 611.8,250.4 612.9,250.8" stroke="#d62728" stroke-width="0.8" fill="none" stroke-linejoin="round"/>
<path d="M377.0 267.5h0M377.4 267.5h0M377.7 267.5h0M378.1 267.5h0M378.4 267.5h0M378.8 267.5h0M379.1 267.5h0M379.5 267.5h0M379.8 267.5h0M380.2 267.5h0M380.5 267.5h0M380.9 267.5h0M381.2 267.5h0M381.6 267.5h0M381.9 267.5h0M382.3 267.5h0M382.6 267.5h0M383.0 267.5h0M383.3 267.5h0M383.7 267.5h0M384.0 267.5h0M384.4 267.5h0M384.7 267.5h0M385.1 267.5h0M385.4 267.5h0M385.8 267.5h0M386.1 267.5h0M386.5 267.5h0M386.8 267.5h0M387.2 267.5h0M387.5 267.5h0M387.9 267.5h0M388.2 267.5h0M388.6 267.5h0M388.9 267.5h0M389.3 267.5h0M389.6 267.5h0M390.0 267.5h0M390.3 267.5h0M390.7 267.5h0M391.0 267.5h0M391.4 267.5h0M391.7 267.5h0M392.1 267.5h0M392.4 267.5h0M392.8 267.5h0M393.1 267.5h0M393.5 267.5h0M393.8 267.5h0M394.2 267.5h0M394.5 267.5h0M394.9 267.5h0M395.2 267.5h0M395.6 267.5h0M395.9 267.5h0M396.3 267.5h0M396.6 267.5h0M397.0 267.5h0M397.3 267.5h0M397.7 267.5h0M398.0 267.5h0M398.4 267.4h0M398.7 267.2h0M399.1 266.9h0M399.4 266.5h0M399.8 266.1h0M400.1 265.6h0M400.5 265.1h0M400.8 264.6h0M401.2 264.3h0M401.5 264.0h0M401.9 264.0h0M402.2 264.0h0M402.6 264.0h0M402.9 264.2h0M403.3 264.5h0M403.6 264.9h0M404.0 265.3h0M404.3 265.6h0M404.7 265.9h0M405.0 266.4h0M406.1 267.6h0M407.2 267.9h0M408.3 267.8h0M409.4 268.0h0M410.5 267.7h0M411.6 268.4h0M412.7 268.5h0M413.8 267.4h0M414.9 265.5h0M416.0 264.0h0M417.1 262.5h0M418.2 261.9h0M419.3 262.2h0M420.4 261.8h0M421.5 259.9h0M422.6 256.8h0M423.7 252.9h0M424.8 251.9h0M425.9 253.1h0M427.0 257.3h0M428.1 262.8h0M429.2 269.7h0M430.3 277.0h0M431.4 283.6h0M432.5 288.9h0M433.6 293.5h0M434.7 295.1h0M435.8 294.2h0M436.9 289.2h0M438.0 281.1h0M439.1 269.9h0M440.2 257.4h0M441.3 244.7h0M442.4 232.5h0M443.5 222.5h0M444.6 214.3h0M445.7 211.3h0M446.8 211.7h0M447.9 218.6h0M449.0 229.9h0M450.1 245.0h0M451.2 261.6h0M452.3 277.1h0M453.4 288.5h0M454.5 295.7h0M455.6 297.1h0M456.7 292.5h0M457.8 283.5h0M458.9 272.1h0M460.0 258.7h0M461.1 247.9h0M462.2 239.9h0M463.3 237.0h0M464.4 237.7h0M465.5 241.2h0M466.6 246.9h0M467.7 252.8h0M468.8 259.5h0M469.9 266.1h0M471.0 270.9h0M472.1 274.3h0M473.2 274.3h0M474.3 271.1h0M475.4 264.0h0M476.5 255.5h0M477.6 246.9h0M478.7 242.0h0M479.8 240.2h0M480.9 242.5h0M482.0 247.6h0M483.1 255.0h0M484.2 263.8h0M485.3 272.7h0M486.4 281.7h0M487.5 287.5h0M488.6 291.7h0M489.7 291.7h0M490.8 286.3h0M491.9 277.1h0M493.0 264.8h0M494.1 252.2h0M495.2 241.7h0M496.3 235.6h0M497.4 234.5h0M498.5 236.2h0M499.6 240.2h0M500.7 245.5h0M501.8 251.9h0M502.9 259.3h0M504.0 266.3h0M505.1 273.2h0M506.2 278.7h0M507.3 283.1h0M508.4 284.5h0M509.5 285.4h0M510.6 282.5h0M511.7 278.2h0M512.8 271.5h0M513.9 264.4h0M515.0 257.5h0M516.1 251.1h0M517.2 246.6h0M518.3 244.5h0M519.4 245.1h0M520.5 246.6h0M521.6 250.9h0M522.7 256.2h0M523.8 261.0h0M524.9 266.0h0M526.0 268.2h0M527.1 269.9h0M528.2 269.6h0M529.3 267.5h0M530.4 264.5h0M531.5 261.8h0M532.6 259.0h0M533.7 258.4h0M534.8 258.7h0M535.9 259.4h0M537.0 261.2h0M538.1 262.2h0M539.2 264.5h0M540.3 265.4h0M541.4 267.0h0M542.5 267.8h0M543.6 267.7h0M544.7 267.0h0M545.8 264.3h0M546.9 260.0h0M548.0 255.1h0M549.1 250.9h0M550.2 247.1h0M551.3 244.9h0M552.4 243.7h0M553.5 245.6h0M554.6 248.4h0M555.7 251.5h0M556.8 255.5h0M557.9 260.9h0M559.0 266.0h0M560.1 270.2h0M561.2 274.3h0M562.3 277.2h0M563.4 278.4h0M564.5 278.5h0M565.6 277.4h0M566.7 274.0h0M567.8 269.5h0M568.9 264.9h0M570.0 259.8h0M571.1 254.8h0M572.2 250.7h0M573.3 247.7h0M574.4 247.3h0M575.5 246.6h0M576.6 248.3h0M577.7 250.7h0M578.8 253.7h0M579.9 256.5h0M581.0 259.6h0M582.1 261.6h0M583.2 263.3h0M584.3 263.0h0M585.4 263.5h0M586.5 262.6h0M587.6 262.0h0M588.7 261.2h0M589.8 260.5h0M590.9 260.9h0M592.0 261.6h0M593.1 262.9h0M594.2 263.3h0M595.3 264.1h0M596.4 263.9h0M597.5 263.2h0M598.6 262.3h0M599.7 261.6h0M600.8 261.2h0M601.9 260.4h0M603.0 259.5h0M604.1 258.4h0M605.2 258.2h0M606.3 259.9h0M607.4 261.3h0M608.5 261.4h0M609.6 257.9h0M610.7 254.2h0M611.8 250.4h0M612.9 250.8h0" stroke="#ff7f0e" stroke-width="3.80" stroke-linecap="round" fill="none"/>
<path d="M377.0,267.5 377.4,267.5 377.7,267.5 378.1,267.5 378.4,267.5 378.8,267.5 379.1,267.5 379.5,267.5 379.8,267.5 380.2,267.5 380.5,267.5 380.9,267.5 381.2,267.5 381.6,267.5 381.9,267.5 382.3,267.5 382.6,267.5 383.0,267.5 383.3,267.5 383.7,267.5 384.0,267.5 384.4,267.5 384.7,267.5 385.1,267.5 385.4,267.5 385.8,267.5 386.1,267.5 386.5,267.5 386.8,267.5 387.2,267.5 387.5,267.5 387.9,267.5 388.2,267.5 388.6,267.5 388.9,267.5 389.3,267.5 389.6,267.5 390.0,267.5 390.3,267.5 390.7,267.5 391.0,267.5 391.4,267.5 391.7,267.5 392.1,267.5 392.4,267.5 392.8,267.5 393.1,267.5 393.5,267.5 393.8,267.5 394.2,267.5 394.5,267.5 394.9,267.5 395.2,267.5 395.6,267.5 395.9,267.5 396.3,267.5 396.6,267.5 397.0,267.5 397.3,267.5 397.7,267.5 398.0,267.5 398.4,267.5 398.7,267.5 399.1,267.5 399.4,267.7 399.8,268.1 400.1,268.6 400.5,269.0 400.8,269.2 401.2,269.2 401.5,269.0 401.9,268.5 402.2,268.4 402.6,267.8 402.9,267.2 403.3,266.4 403.6,266.2 404.0,265.9 404.3,265.5 404.7,265.1 405.0,265.2 406.2,265.5 407.5,266.4 408.8,269.1 410.0,270.4 411.2,270.9 412.5,265.9 413.8,260.7 415.0,260.2 416.2,261.4 417.5,264.0 418.8,267.8 420.0,273.0 421.2,272.6 422.5,269.4 423.8,259.6 425.0,249.8 426.2,249.1 427.5,253.6 428.8,260.0 430.0,266.8 431.2,272.2 432.5,271.7 433.8,248.4 435.0,223.0 436.2,223.6 437.5,226.0 438.8,231.2 440.0,233.5 441.2,248.2 442.5,263.5 443.8,254.7 445.0,214.5 446.2,193.0 447.5,201.4 448.8,214.8 450.0,218.6 451.2,228.6 452.5,238.1 453.8,242.5 455.0,226.3 456.2,202.6 457.5,199.0 458.8,206.5 460.0,216.7 461.2,220.4 462.5,225.2 463.8,232.0 465.0,232.8 466.2,228.9 467.5,221.4 468.8,212.7 470.0,212.0 471.2,215.6 472.5,223.6 473.8,233.0 475.0,236.8 476.2,234.9 477.5,228.1 478.8,220.8 480.0,214.0 481.2,215.0 482.5,220.8 483.8,229.7 485.0,236.9 486.2,238.2 487.5,233.2 488.8,224.1 490.0,214.1 491.2,210.9 492.5,212.6 493.8,219.2 495.0,228.8 496.2,233.9 497.5,234.0 498.8,230.0 500.0,222.8 501.2,216.2 502.5,215.7 503.8,218.4 505.0,225.3 506.2,230.9 507.5,233.5 508.8,231.5 510.0,227.7 511.2,219.5 512.5,211.7 513.8,208.7 515.0,207.9 516.2,216.9 517.5,226.5 518.8,231.9 520.0,228.8 521.2,222.3 522.5,215.6 523.8,209.6 525.0,206.1 526.2,210.7 527.5,219.3 528.8,226.7 530.0,227.4 531.2,224.4 532.5,216.5 533.8,209.5 535.0,206.2 536.2,209.8 537.5,217.8 538.8,222.2 540.0,222.5 541.2,220.5 542.5,217.3 543.8,212.8 545.0,211.2 546.2,211.6 547.5,214.0 548.8,218.6 550.0,219.0 551.2,219.8 552.5,219.0 553.8,219.7 555.0,218.8 556.2,218.2 557.5,216.9 558.8,211.8 560.0,207.7 561.2,203.8 562.5,203.8 563.8,206.9 565.0,210.7 566.2,213.2 567.5,213.4 568.8,212.1 570.0,207.4 571.2,204.7 572.5,205.7 573.8,207.6 575.0,211.8 576.2,212.8 577.5,212.6 578.8,209.5 580.0,205.1 581.2,203.4 582.5,206.0 583.8,211.0 585.0,217.5 586.2,220.6 587.5,220.6 588.8,213.9 590.0,206.7 591.2,201.7 592.5,202.0 593.8,206.3 595.0,212.5 596.2,219.4 597.5,219.7 598.8,215.5 600.0,206.4 601.2,197.4 602.5,192.3 603.8,196.4 605.0,204.8 606.2,211.8" stroke="#1f77b4" stroke-width="0.8" fill="none" stroke-linejoin="round"/>
<path d="M377.0 267.5h0M377.4 267.5h0M377.7 267.5h0M378.1 267.5h0M378.4 267.5h0M378.8 267.5h0M379.1 267.5h0M379.5 267.5h0M379.8 267.5h0M380.2 267.5h0M380.5 267.5h0M380.9 267.5h0M381.2 267.5h0M381.6 267.5h0M381.9 267.5h0M382.3 267.5h0M382.6 267.5h0M383.0 267.5h0M383.3 267.5h0M383.7 267.5h0M384.0 267.5h0M384.4 267.5h0M384.7 267.5h0M385.1 267.5h0M385.4 267.5h0M385.8 267.5h0M386.1 267.5h0M386.5 267.5h0M386.8 267.5h0M387.2 267.5h0M387.5 267.5h0M387.9 267.5h0M388.2 267.5h0M388.6 267.5h0M388.9 267.5h0M389.3 267.5h0M389.6 267.5h0M390.0 267.5h0M390.3 267.5h0M390.7 267.5h0M391.0 267.5h0M391.4 267.5h0M391.7 267.5h0M392.1 267.5h0M392.4 267.5h0M392.8 267.5h0M393.1 267.5h0M393.5 267.5h0M393.8 267.5h0M394.2 267.5h0M394.5 267.5h0M394.9 267.5h0M395.2 267.5h0M395.6 267.5h0M395.9 267.5h0M396.3 267.5h0M396.6 267.5h0M397.0 267.5h0M397.3 267.5h0M397.7 267.5h0M398.0 267.5h0M398.4 267.5h0M398.7 267.5h0M399.1 267.5h0M399.4 267.7h0M399.8 268.1h0M400.1 268.6h0M400.5 269.0h0M400.8 269.2h0M401.2 269.2h0M401.5 269.0h0M401.9 268.5h0M402.2 268.4h0M402.6 267.8h0M402.9 267.2h0M403.3 266.4h0M403.6 266.2h0M404.0 265.9h0M404.3 265.5h0M404.7 265.1h0M405.0 265.2h0M406.2 265.5h0M407.5 266.4h0M408.8 269.1h0M410.0 270.4h0M411.2 270.9h0M412.5 265.9h0M413.8 260.7h0M415.0 260.2h0M416.2 261.4h0M417.5 264.0h0M418.8 267.8h0M420.0 273.0h0M421.2 272.6h0M422.5 269.4h0M423.8 259.6h0M425.0 249.8h0M426.2 249.1h0M427.5 253.6h0M428.8 260.0h0M430.0 266.8h0M431.2 272.2h0M432.5 271.7h0M433.8 248.4h0M435.0 223.0h0M436.2 223.6h0M437.5 226.0h0M438.8 231.2h0M440.0 233.5h0M441.2 248.2h0M442.5 263.5h0M443.8 254.7h0M445.0 214.5h0M446.2 193.0h0M447.5 201.4h0M448.8 214.8h0M450.0 218.6h0M451.2 228.6h0M452.5 238.1h0M453.8 242.5h0M455.0 226.3h0M456.2 202.6h0M457.5 199.0h0M458.8 206.5h0M460.0 216.7h0M461.2 220.4h0M462.5 225.2h0M463.8 232.0h0M465.0 232.8h0M466.2 228.9h0M467.5 221.4h0M468.8 212.7h0M470.0 212.0h0M471.2 215.6h0M472.5 223.6h0M473.8 233.0h0M475.0 236.8h0M476.2 234.9h0M477.5 228.1h0M478.8 220.8h0M480.0 214.0h0M481.2 215.0h0M482.5 220.8h0M483.8 229.7h0M485.0 236.9h0M486.2 238.2h0M487.5 233.2h0M488.8 224.1h0M490.0 214.1h0M491.2 210.9h0M492.5 212.6h0M493.8 219.2h0M495.0 228.8h0M496.2 233.9h0M497.5 234.0h0M498.8 230.0h0M500.0 222.8h0M501.2 216.2h0M502.5 215.7h0M503.8 218.4h0M505.0 225.3h0M506.2 230.9h0M507.5 233.5h0M508.8 231.5h0M510.0 227.7h0M511.2 219.5h0M512.5 211.7h0M513.8 208.7h0M515.0 207.9h0M516.2 216.9h0M517.5 226.5h0M518.8 231.9h0M520.0 228.8h0M521.2 222.3h0M522.5 215.6h0M523.8 209.6h0M525.0 206.1h0M526.2 210.7h0M527.5 219.3h0M528.8 226.7h0M530.0 227.4h0M531.2 224.4h0M532.5 216.5h0M533.8 209.5h0M535.0 206.2h0M536.2 209.8h0M537.5 217.8h0M538.8 222.2h0M540.0 222.5h0M541.2 220.5h0M542.5 217.3h0M543.8 212.8h0M545.0 211.2h0M546.2 211.6h0M547.5 214.0h0M548.8 218.6h0M550.0 219.0h0M551.2 219.8h0M552.5 219.0h0M553.8 219.7h0M555.0 218.8h0M556.2 218.2h0M557.5 216.9h0M558.8 211.8h0M560.0 207.7h0M561.2 203.8h0M562.5 203.8h0M563.8 206.9h0M565.0 210.7h0M566.2 213.2h0M567.5 213.4h0M568.8 212.1h0M570.0 207.4h0M571.2 204.7h0M572.5 205.7h0M573.8 207.6h0M575.0 211.8h0M576.2 212.8h0M577.5 212.6h0M578.8 209.5h0M580.0 205.1h0M581.2 203.4h0M582.5 206.0h0M583.8 211.0h0M585.0 217.5h0M586.2 220.6h0M587.5 220.6h0M588.8 213.9h0M590.0 206.7h0M591.2 201.7h0M592.5 202.0h0M593.8 206.3h0M595.0 212.5h0M596.2 219.4h0M597.5 219.7h0M598.8 215.5h0M600.0 206.4h0M601.2 197.4h0M602.5 192.3h0M603.8 196.4h0M605.0 204.8h0M606.2 211.8h0" stroke="#17becf" stroke-width="3.80" stroke-linecap="round" fill="none"/>
<path d="M375.3 266.5a1.7 1.7 0 1 0 3.4 0a1.7 1.7 0 1 0 -3.4 0M375.7 266.5a1.7 1.7 0 1 0 3.4 0a1.7 1.7 0 1 0 -3.4 0M376.0 266.5a1.7 1.7 0 1 0 3.4 0a1.7 1.7 0 1 0 -3.4 0M376.4 266.5a1.7 1.7 0 1 0 3.4 0a1.7 1.7 0 1 0 -3.4 0M376.7 266.5a1.7 1.7 0 1 0 3.4 0a1.7 1.7 0 1 0 -3.4 0M377.1 266.5a1.7 1.7 0 1 0 3.4 0a1.7 1.7 0 1 0 -3.4 0M377.4 266.5a1.7 1.7 0 1 0 3.4 0a1.7 1.7 0 1 0 -3.4 0M377.8 266.5a1.7 1.7 0 1 0 3.4 0a1.7 1.7 0 1 0 -3.4 0M378.1 266.5a1.7 1.7 0 1 0 3.4 0a1.7 1.7 0 1 0 -3.4 0M378.5 266.5a1.7 1.7 0 1 0 3.4 0a1.7 1.7 0 1 0 -3.4 0M378.8 266.5a1.7 1.7 0 1 0 3.4 0a1.7 1.7 0 1 0 -3.4 0M379.2 266.5a1.7 1.7 0 1 0 3.4 0a1.7 1.7 0 1 0 -3.4 0M379.5 266.5a1.7 1.7 0 1 0 3.4 0a1.7 1.7 0 1 0 -3.4 0M379.9 266.5a1.7 1.7 0 1 0 3.4 0a1.7 1.7 0 1 0 -3.4 0M380.2 266.5a1.7 1.7 0 1 0 3.4 0a1.7 1.7 0 1 0 -3.4 0M380.6 266.5a1.7 1.7 0 1 0 3.4 0a1.7 1.7 0 1 0 -3.4 0M380.9 266.5a1.7 1.7 0 1 0 3.4 0a1.7 1.7 0 1 0 -3.4 0M381.3 266.5a1.7 1.7 0 1 0 3.4 0a1.7 1.7 0 1 0 -3.4 0M381.6 266.5a1.7 1.7 0 1 0 3.4 0a1.7 1.7 0 1 0 -3.4 0M382.0 266.5a1.7 1.7 0 1 0 3.4 0a1.7 1.7 0 1 0 -3.4 0M382.3 266.5a1.7 1.7 0 1 0 3.4 0a1.7 1.7 0 1 0 -3.4 0M382.7 266.5a1.7 1.7 0 1 0 3.4 0a1.7 1.7 0 1 0 -3.4 0M383.0 266.5a1.7 1.7 0 1 0 3.4 0a1.7 1.7 0 1 0 -3.4 0M383.4 266.5a1.7 1.7 0 1 0 3.4 0a1.7 1.7 0 1 0 -3.4 0M383.7 266.5a1.7 1.7 0 1 0 3.4 0a1.7 1.7 0 1 0 -3.4 0M384.1 266.5a1.7 1.7 0 1 0 3.4 0a1.7 1.7 0 1 0 -3.4 0M384.4 266.5a1.7 1.7 0 1 0 3.4 0a1.7 1.7 0 1 0 -3.4 0M384.8 266.5a1.7 1.7 0 1 0 3.4 0a1.7 1.7 0 1 0 -3.4 0M385.1 266.5a1.7 1.7 0 1 0 3.4 0a1.7 1.7 0 1 0 -3.4 0M385.5 266.5a1.7 1.7 0 1 0 3.4 0a1.7 1.7 0 1 0 -3.4 0M385.8 266.5a1.7 1.7 0 1 0 3.4 0a1.7 1.7 0 1 0 -3.4 0M386.2 266.5a1.7 1.7 0 1 0 3.4 0a1.7 1.7 0 1 0 -3.4 0M386.5 266.5a1.7 1.7 0 1 0 3.4 0a1.7 1.7 0 1 0 -3.4 0M386.9 266.5a1.7 1.7 0 1 0 3.4 0a1.7 1.7 0 1 0 -3.4 0M387.2 266.5a1.7 1.7 0 1 0 3.4 0a1.7 1.7 0 1 0 -3.4 0M387.6 266.5a1.7 1.7 0 1 0 3.4 0a1.7 1.7 0 1 0 -3.4 0M387.9 266.5a1.7 1.7 0 1 0 3.4 0a1.7 1.7 0 1 0 -3.4 0M388.3 266.5a1.7 1.7 0 1 0 3.4 0a1.7 1.7 0 1 0 -3.4 0M388.6 266.5a1.7 1.7 0 1 0 3.4 0a1.7 1.7 0 1 0 -3.4 0M389.0 266.5a1.7 1.7 0 1 0 3.4 0a1.7 1.7 0 1 0 -3.4 0M389.3 266.5a1.7 1.7 0 1 0 3.4 0a1.7 1.7 0 1 0 -3.4 0M389.7 266.5a1.7 1.7 0 1 0 3.4 0a1.7 1.7 0 1 0 -3.4 0M390.0 266.5a1.7 1.7 0 1 0 3.4 0a1.7 1.7 0 1 0 -3.4 0M390.4 266.5a1.7 1.7 0 1 0 3.4 0a1.7 1.7 0 1 0 -3.4 0M390.7 266.5a1.7 1.7 0 1 0 3.4 0a1.7 1.7 0 1 0 -3.4 0M391.1 266.5a1.7 1.7 0 1 0 3.4 0a1.7 1.7 0 1 0 -3.4 0M391.4 266.5a1.7 1.7 0 1 0 3.4 0a1.7 1.7 0 1 0 -3.4 0M391.8 266.5a1.7 1.7 0 1 0 3.4 0a1.7 1.7 0 1 0 -3.4 0M392.1 266.5a1.7 1.7 0 1 0 3.4 0a1.7 1.7 0 1 0 -3.4 0M392.5 266.5a1.7 1.7 0 1 0 3.4 0a1.7 1.7 0 1 0 -3.4 0M392.8 266.5a1.7 1.7 0 1 0 3.4 0a1.7 1.7 0 1 0 -3.4 0M393.2 266.5a1.7 1.7 0 1 0 3.4 0a1.7 1.7 0 1 0 -3.4 0M393.5 266.5a1.7 1.7 0 1 0 3.4 0a1.7 1.7 0 1 0 -3.4 0M393.9 266.5a1.7 1.7 0 1 0 3.4 0a1.7 1.7 0 1 0 -3.4 0M394.2 266.5a1.7 1.7 0 1 0 3.4 0a1.7 1.7 0 1 0 -3.4 0M394.6 266.5a1.7 1.7 0 1 0 3.4 0a1.7 1.7 0 1 0 -3.4 0M394.9 266.5a1.7 1.7 0 1 0 3.4 0a1.7 1.7 0 1 0 -3.4 0M395.3 266.5a1.7 1.7 0 1 0 3.4 0a1.7 1.7 0 1 0 -3.4 0M395.6 266.5a1.7 1.7 0 1 0 3.4 0a1.7 1.7 0 1 0 -3.4 0M396.0 266.5a1.7 1.7 0 1 0 3.4 0a1.7 1.7 0 1 0 -3.4 0M396.3 266.5a1.7 1.7 0 1 0 3.4 0a1.7 1.7 0 1 0 -3.4 0M396.7 266.5a1.7 1.7 0 1 0 3.4 0a1.7 1.7 0 1 0 -3.4 0M397.0 266.5a1.7 1.7 0 1 0 3.4 0a1.7 1.7 0 1 0 -3.4 0M397.4 266.5a1.7 1.7 0 1 0 3.4 0a1.7 1.7 0 1 0 -3.4 0M397.7 266.7a1.7 1.7 0 1 0 3.4 0a1.7 1.7 0 1 0 -3.4 0M398.1 267.1a1.7 1.7 0 1 0 3.4 0a1.7 1.7 0 1 0 -3.4 0M398.4 267.6a1.7 1.7 0 1 0 3.4 0a1.7 1.7 0 1 0 -3.4 0M398.8 268.0a1.7 1.7 0 1 0 3.4 0a1.7 1.7 0 1 0 -3.4 0M399.1 268.2a1.7 1.7 0 1 0 3.4 0a1.7 1.7 0 1 0 -3.4 0M399.5 268.2a1.7 1.7 0 1 0 3.4 0a1.7 1.7 0 1 0 -3.4 0M399.8 268.0a1.7 1.7 0 1 0 3.4 0a1.7 1.7 0 1 0 -3.4 0M400.2 267.7a1.7 1.7 0 1 0 3.4 0a1.7 1.7 0 1 0 -3.4 0M400.5 267.3a1.7 1.7 0 1 0 3.4 0a1.7 1.7 0 1 0 -3.4 0M400.9 266.7a1.7 1.7 0 1 0 3.4 0a1.7 1.7 0 1 0 -3.4 0M401.2 266.3a1.7 1.7 0 1 0 3.4 0a1.7 1.7 0 1 0 -3.4 0M401.6 265.8a1.7 1.7 0 1 0 3.4 0a1.7 1.7 0 1 0 -3.4 0M401.9 264.9a1.7 1.7 0 1 0 3.4 0a1.7 1.7 0 1 0 -3.4 0M402.3 264.9a1.7 1.7 0 1 0 3.4 0a1.7 1.7 0 1 0 -3.4 0M402.6 264.4a1.7 1.7 0 1 0 3.4 0a1.7 1.7 0 1 0 -3.4 0M403.0 264.2a1.7 1.7 0 1 0 3.4 0a1.7 1.7 0 1 0 -3.4 0M403.3 264.3a1.7 1.7 0 1 0 3.4 0a1.7 1.7 0 1 0 -3.4 0M404.6 264.3a1.7 1.7 0 1 0 3.4 0a1.7 1.7 0 1 0 -3.4 0M405.8 265.2a1.7 1.7 0 1 0 3.4 0a1.7 1.7 0 1 0 -3.4 0M407.1 268.6a1.7 1.7 0 1 0 3.4 0a1.7 1.7 0 1 0 -3.4 0M408.3 269.5a1.7 1.7 0 1 0 3.4 0a1.7 1.7 0 1 0 -3.4 0M409.6 267.9a1.7 1.7 0 1 0 3.4 0a1.7 1.7 0 1 0 -3.4 0M410.8 264.0a1.7 1.7 0 1 0 3.4 0a1.7 1.7 0 1 0 -3.4 0M412.1 260.6a1.7 1.7 0 1 0 3.4 0a1.7 1.7 0 1 0 -3.4 0M413.3 259.0a1.7 1.7 0 1 0 3.4 0a1.7 1.7 0 1 0 -3.4 0M414.6 258.7a1.7 1.7 0 1 0 3.4 0a1.7 1.7 0 1 0 -3.4 0M415.8 263.1a1.7 1.7 0 1 0 3.4 0a1.7 1.7 0 1 0 -3.4 0M417.1 267.1a1.7 1.7 0 1 0 3.4 0a1.7 1.7 0 1 0 -3.4 0M418.3 270.9a1.7 1.7 0 1 0 3.4 0a1.7 1.7 0 1 0 -3.4 0M419.6 273.0a1.7 1.7 0 1 0 3.4 0a1.7 1.7 0 1 0 -3.4 0M420.8 270.3a1.7 1.7 0 1 0 3.4 0a1.7 1.7 0 1 0 -3.4 0M422.1 257.7a1.7 1.7 0 1 0 3.4 0a1.7 1.7 0 1 0 -3.4 0M423.3 250.7a1.7 1.7 0 1 0 3.4 0a1.7 1.7 0 1 0 -3.4 0M424.6 249.1a1.7 1.7 0 1 0 3.4 0a1.7 1.7 0 1 0 -3.4 0M425.8 254.2a1.7 1.7 0 1 0 3.4 0a1.7 1.7 0 1 0 -3.4 0M427.1 259.4a1.7 1.7 0 1 0 3.4 0a1.7 1.7 0 1 0 -3.4 0M428.3 266.9a1.7 1.7 0 1 0 3.4 0a1.7 1.7 0 1 0 -3.4 0M429.6 272.4a1.7 1.7 0 1 0 3.4 0a1.7 1.7 0 1 0 -3.4 0M430.8 271.1a1.7 1.7 0 1 0 3.4 0a1.7 1.7 0 1 0 -3.4 0M432.1 248.2a1.7 1.7 0 1 0 3.4 0a1.7 1.7 0 1 0 -3.4 0M433.3 223.1a1.7 1.7 0 1 0 3.4 0a1.7 1.7 0 1 0 -3.4 0M434.6 222.6a1.7 1.7 0 1 0 3.4 0a1.7 1.7 0 1 0 -3.4 0M435.8 226.0a1.7 1.7 0 1 0 3.4 0a1.7 1.7 0 1 0 -3.4 0M437.1 228.8a1.7 1.7 0 1 0 3.4 0a1.7 1.7 0 1 0 -3.4 0M438.3 232.0a1.7 1.7 0 1 0 3.4 0a1.7 1.7 0 1 0 -3.4 0M439.6 246.0a1.7 1.7 0 1 0 3.4 0a1.7 1.7 0 1 0 -3.4 0M440.8 262.7a1.7 1.7 0 1 0 3.4 0a1.7 1.7 0 1 0 -3.4 0M442.1 252.7a1.7 1.7 0 1 0 3.4 0a1.7 1.7 0 1 0 -3.4 0M443.3 213.3a1.7 1.7 0 1 0 3.4 0a1.7 1.7 0 1 0 -3.4 0M444.6 190.7a1.7 1.7 0 1 0 3.4 0a1.7 1.7 0 1 0 -3.4 0M445.8 201.5a1.7 1.7 0 1 0 3.4 0a1.7 1.7 0 1 0 -3.4 0M447.1 214.8a1.7 1.7 0 1 0 3.4 0a1.7 1.7 0 1 0 -3.4 0M448.3 217.8a1.7 1.7 0 1 0 3.4 0a1.7 1.7 0 1 0 -3.4 0M449.6 225.5a1.7 1.7 0 1 0 3.4 0a1.7 1.7 0 1 0 -3.4 0M450.8 236.0a1.7 1.7 0 1 0 3.4 0a1.7 1.7 0 1 0 -3.4 0M452.1 241.1a1.7 1.7 0 1 0 3.4 0a1.7 1.7 0 1 0 -3.4 0M453.3 225.0a1.7 1.7 0 1 0 3.4 0a1.7 1.7 0 1 0 -3.4 0M454.6 201.5a1.7 1.7 0 1 0 3.4 0a1.7 1.7 0 1 0 -3.4 0M455.8 198.5a1.7 1.7 0 1 0 3.4 0a1.7 1.7 0 1 0 -3.4 0M457.1 206.4a1.7 1.7 0 1 0 3.4 0a1.7 1.7 0 1 0 -3.4 0M458.3 215.7a1.7 1.7 0 1 0 3.4 0a1.7 1.7 0 1 0 -3.4 0M459.6 218.9a1.7 1.7 0 1 0 3.4 0a1.7 1.7 0 1 0 -3.4 0M460.8 225.5a1.7 1.7 0 1 0 3.4 0a1.7 1.7 0 1 0 -3.4 0M462.1 232.6a1.7 1.7 0 1 0 3.4 0a1.7 1.7 0 1 0 -3.4 0M463.3 231.6a1.7 1.7 0 1 0 3.4 0a1.7 1.7 0 1 0 -3.4 0M464.6 227.3a1.7 1.7 0 1 0 3.4 0a1.7 1.7 0 1 0 -3.4 0M465.8 221.8a1.7 1.7 0 1 0 3.4 0a1.7 1.7 0 1 0 -3.4 0M467.1 214.6a1.7 1.7 0 1 0 3.4 0a1.7 1.7 0 1 0 -3.4 0M468.3 211.3a1.7 1.7 0 1 0 3.4 0a1.7 1.7 0 1 0 -3.4 0M469.6 215.3a1.7 1.7 0 1 0 3.4 0a1.7 1.7 0 1 0 -3.4 0M470.8 221.7a1.7 1.7 0 1 0 3.4 0a1.7 1.7 0 1 0 -3.4 0M472.1 231.2a1.7 1.7 0 1 0 3.4 0a1.7 1.7 0 1 0 -3.4 0M473.3 236.7a1.7 1.7 0 1 0 3.4 0a1.7 1.7 0 1 0 -3.4 0M474.6 232.6a1.7 1.7 0 1 0 3.4 0a1.7 1.7 0 1 0 -3.4 0M475.8 228.0a1.7 1.7 0 1 0 3.4 0a1.7 1.7 0 1 0 -3.4 0M477.1 218.6a1.7 1.7 0 1 0 3.4 0a1.7 1.7 0 1 0 -3.4 0M478.3 215.5a1.7 1.7 0 1 0 3.4 0a1.7 1.7 0 1 0 -3.4 0M479.6 213.3a1.7 1.7 0 1 0 3.4 0a1.7 1.7 0 1 0 -3.4 0M480.8 219.2a1.7 1.7 0 1 0 3.4 0a1.7 1.7 0 1 0 -3.4 0M482.1 228.4a1.7 1.7 0 1 0 3.4 0a1.7 1.7 0 1 0 -3.4 0M483.3 235.5a1.7 1.7 0 1 0 3.4 0a1.7 1.7 0 1 0 -3.4 0M484.6 238.1a1.7 1.7 0 1 0 3.4 0a1.7 1.7 0 1 0 -3.4 0M485.8 233.9a1.7 1.7 0 1 0 3.4 0a1.7 1.7 0 1 0 -3.4 0M487.1 222.1a1.7 1.7 0 1 0 3.4 0a1.7 1.7 0 1 0 -3.4 0M488.3 213.2a1.7 1.7 0 1 0 3.4 0a1.7 1.7 0 1 0 -3.4 0M489.6 209.4a1.7 1.7 0 1 0 3.4 0a1.7 1.7 0 1 0 -3.4 0M490.8 210.6a1.7 1.7 0 1 0 3.4 0a1.7 1.7 0 1 0 -3.4 0M492.1 219.4a1.7 1.7 0 1 0 3.4 0a1.7 1.7 0 1 0 -3.4 0M493.3 227.9a1.7 1.7 0 1 0 3.4 0a1.7 1.7 0 1 0 -3.4 0M494.6 233.5a1.7 1.7 0 1 0 3.4 0a1.7 1.7 0 1 0 -3.4 0M495.8 232.9a1.7 1.7 0 1 0 3.4 0a1.7 1.7 0 1 0 -3.4 0M497.1 228.7a1.7 1.7 0 1 0 3.4 0a1.7 1.7 0 1 0 -3.4 0M498.3 222.3a1.7 1.7 0 1 0 3.4 0a1.7 1.7 0 1 0 -3.4 0M499.6 215.7a1.7 1.7 0 1 0 3.4 0a1.7 1.7 0 1 0 -3.4 0M500.8 215.4a1.7 1.7 0 1 0 3.4 0a1.7 1.7 0 1 0 -3.4 0M502.1 217.8a1.7 1.7 0 1 0 3.4 0a1.7 1.7 0 1 0 -3.4 0M503.3 222.5a1.7 1.7 0 1 0 3.4 0a1.7 1.7 0 1 0 -3.4 0M504.6 231.0a1.7 1.7 0 1 0 3.4 0a1.7 1.7 0 1 0 -3.4 0M505.8 233.8a1.7 1.7 0 1 0 3.4 0a1.7 1.7 0 1 0 -3.4 0M507.1 233.6a1.7 1.7 0 1 0 3.4 0a1.7 1.7 0 1 0 -3.4 0M508.3 226.8a1.7 1.7 0 1 0 3.4 0a1.7 1.7 0 1 0 -3.4 0M509.6 219.1a1.7 1.7 0 1 0 3.4 0a1.7 1.7 0 1 0 -3.4 0M510.8 210.9a1.7 1.7 0 1 0 3.4 0a1.7 1.7 0 1 0 -3.4 0M512.0 205.4a1.7 1.7 0 1 0 3.4 0a1.7 1.7 0 1 0 -3.4 0M513.3 207.2a1.7 1.7 0 1 0 3.4 0a1.7 1.7 0 1 0 -3.4 0M514.5 216.7a1.7 1.7 0 1 0 3.4 0a1.7 1.7 0 1 0 -3.4 0M515.8 226.3a1.7 1.7 0 1 0 3.4 0a1.7 1.7 0 1 0 -3.4 0M517.0 230.3a1.7 1.7 0 1 0 3.4 0a1.7 1.7 0 1 0 -3.4 0M518.3 227.7a1.7 1.7 0 1 0 3.4 0a1.7 1.7 0 1 0 -3.4 0M519.5 221.3a1.7 1.7 0 1 0 3.4 0a1.7 1.7 0 1 0 -3.4 0M520.8 215.1a1.7 1.7 0 1 0 3.4 0a1.7 1.7 0 1 0 -3.4 0M522.0 209.2a1.7 1.7 0 1 0 3.4 0a1.7 1.7 0 1 0 -3.4 0M523.3 205.5a1.7 1.7 0 1 0 3.4 0a1.7 1.7 0 1 0 -3.4 0M524.5 208.6a1.7 1.7 0 1 0 3.4 0a1.7 1.7 0 1 0 -3.4 0M525.8 217.8a1.7 1.7 0 1 0 3.4 0a1.7 1.7 0 1 0 -3.4 0M527.0 225.9a1.7 1.7 0 1 0 3.4 0a1.7 1.7 0 1 0 -3.4 0M528.3 229.0a1.7 1.7 0 1 0 3.4 0a1.7 1.7 0 1 0 -3.4 0M529.5 223.6a1.7 1.7 0 1 0 3.4 0a1.7 1.7 0 1 0 -3.4 0M530.8 215.1a1.7 1.7 0 1 0 3.4 0a1.7 1.7 0 1 0 -3.4 0M532.0 207.3a1.7 1.7 0 1 0 3.4 0a1.7 1.7 0 1 0 -3.4 0M533.3 205.4a1.7 1.7 0 1 0 3.4 0a1.7 1.7 0 1 0 -3.4 0M534.5 210.2a1.7 1.7 0 1 0 3.4 0a1.7 1.7 0 1 0 -3.4 0M535.8 217.2a1.7 1.7 0 1 0 3.4 0a1.7 1.7 0 1 0 -3.4 0M537.0 223.6a1.7 1.7 0 1 0 3.4 0a1.7 1.7 0 1 0 -3.4 0M538.3 222.2a1.7 1.7 0 1 0 3.4 0a1.7 1.7 0 1 0 -3.4 0M539.5 219.3a1.7 1.7 0 1 0 3.4 0a1.7 1.7 0 1 0 -3.4 0M540.8 215.7a1.7 1.7 0 1 0 3.4 0a1.7 1.7 0 1 0 -3.4 0M542.0 210.9a1.7 1.7 0 1 0 3.4 0a1.7 1.7 0 1 0 -3.4 0M543.3 210.9a1.7 1.7 0 1 0 3.4 0a1.7 1.7 0 1 0 -3.4 0M544.5 209.1a1.7 1.7 0 1 0 3.4 0a1.7 1.7 0 1 0 -3.4 0M545.8 213.3a1.7 1.7 0 1 0 3.4 0a1.7 1.7 0 1 0 -3.4 0M547.0 216.7a1.7 1.7 0 1 0 3.4 0a1.7 1.7 0 1 0 -3.4 0M548.3 219.0a1.7 1.7 0 1 0 3.4 0a1.7 1.7 0 1 0 -3.4 0M549.5 219.1a1.7 1.7 0 1 0 3.4 0a1.7 1.7 0 1 0 -3.4 0M550.8 219.0a1.7 1.7 0 1 0 3.4 0a1.7 1.7 0 1 0 -3.4 0M552.0 218.5a1.7 1.7 0 1 0 3.4 0a1.7 1.7 0 1 0 -3.4 0M553.3 217.8a1.7 1.7 0 1 0 3.4 0a1.7 1.7 0 1 0 -3.4 0M554.5 218.2a1.7 1.7 0 1 0 3.4 0a1.7 1.7 0 1 0 -3.4 0M555.8 216.5a1.7 1.7 0 1 0 3.4 0a1.7 1.7 0 1 0 -3.4 0M557.0 211.0a1.7 1.7 0 1 0 3.4 0a1.7 1.7 0 1 0 -3.4 0M558.3 206.9a1.7 1.7 0 1 0 3.4 0a1.7 1.7 0 1 0 -3.4 0M559.5 202.7a1.7 1.7 0 1 0 3.4 0a1.7 1.7 0 1 0 -3.4 0M560.8 203.3a1.7 1.7 0 1 0 3.4 0a1.7 1.7 0 1 0 -3.4 0M562.0 206.2a1.7 1.7 0 1 0 3.4 0a1.7 1.7 0 1 0 -3.4 0M563.3 209.1a1.7 1.7 0 1 0 3.4 0a1.7 1.7 0 1 0 -3.4 0M564.5 211.7a1.7 1.7 0 1 0 3.4 0a1.7 1.7 0 1 0 -3.4 0M565.8 213.9a1.7 1.7 0 1 0 3.4 0a1.7 1.7 0 1 0 -3.4 0M567.0 210.2a1.7 1.7 0 1 0 3.4 0a1.7 1.7 0 1 0 -3.4 0M568.3 206.1a1.7 1.7 0 1 0 3.4 0a1.7 1.7 0 1 0 -3.4 0M569.5 204.3a1.7 1.7 0 1 0 3.4 0a1.7 1.7 0 1 0 -3.4 0M570.8 203.8a1.7 1.7 0 1 0 3.4 0a1.7 1.7 0 1 0 -3.4 0M572.0 206.8a1.7 1.7 0 1 0 3.4 0a1.7 1.7 0 1 0 -3.4 0M573.3 210.2a1.7 1.7 0 1 0 3.4 0a1.7 1.7 0 1 0 -3.4 0M574.5 211.1a1.7 1.7 0 1 0 3.4 0a1.7 1.7 0 1 0 -3.4 0M575.8 211.1a1.7 1.7 0 1 0 3.4 0a1.7 1.7 0 1 0 -3.4 0M577.0 208.4a1.7 1.7 0 1 0 3.4 0a1.7 1.7 0 1 0 -3.4 0M578.3 205.0a1.7 1.7 0 1 0 3.4 0a1.7 1.7 0 1 0 -3.4 0M579.5 201.1a1.7 1.7 0 1 0 3.4 0a1.7 1.7 0 1 0 -3.4 0M580.8 205.3a1.7 1.7 0 1 0 3.4 0a1.7 1.7 0 1 0 -3.4 0M582.0 211.0a1.7 1.7 0 1 0 3.4 0a1.7 1.7 0 1 0 -3.4 0M583.3 215.8a1.7 1.7 0 1 0 3.4 0a1.7 1.7 0 1 0 -3.4 0M584.5 219.4a1.7 1.7 0 1 0 3.4 0a1.7 1.7 0 1 0 -3.4 0M585.8 217.0a1.7 1.7 0 1 0 3.4 0a1.7 1.7 0 1 0 -3.4 0M587.0 213.6a1.7 1.7 0 1 0 3.4 0a1.7 1.7 0 1 0 -3.4 0M588.3 205.6a1.7 1.7 0 1 0 3.4 0a1.7 1.7 0 1 0 -3.4 0M589.5 201.4a1.7 1.7 0 1 0 3.4 0a1.7 1.7 0 1 0 -3.4 0M590.8 199.6a1.7 1.7 0 1 0 3.4 0a1.7 1.7 0 1 0 -3.4 0M592.0 205.1a1.7 1.7 0 1 0 3.4 0a1.7 1.7 0 1 0 -3.4 0M593.3 209.8a1.7 1.7 0 1 0 3.4 0a1.7 1.7 0 1 0 -3.4 0M594.5 215.3a1.7 1.7 0 1 0 3.4 0a1.7 1.7 0 1 0 -3.4 0M595.8 217.5a1.7 1.7 0 1 0 3.4 0a1.7 1.7 0 1 0 -3.4 0M597.0 214.9a1.7 1.7 0 1 0 3.4 0a1.7 1.7 0 1 0 -3.4 0M598.3 209.7a1.7 1.7 0 1 0 3.4 0a1.7 1.7 0 1 0 -3.4 0M599.5 206.1a1.7 1.7 0 1 0 3.4 0a1.7 1.7 0 1 0 -3.4 0M600.8 204.4a1.7 1.7 0 1 0 3.4 0a1.7 1.7 0 1 0 -3.4 0M602.0 205.2a1.7 1.7 0 1 0 3.4 0a1.7 1.7 0 1 0 -3.4 0M603.3 208.9a1.7 1.7 0 1 0 3.4 0a1.7 1.7 0 1 0 -3.4 0M604.5 212.0a1.7 1.7 0 1 0 3.4 0a1.7 1.7 0 1 0 -3.4 0M605.8 213.0a1.7 1.7 0 1 0 3.4 0a1.7 1.7 0 1 0 -3.4 0M607.0 215.9a1.7 1.7 0 1 0 3.4 0a1.7 1.7 0 1 0 -3.4 0M608.3 219.1a1.7 1.7 0 1 0 3.4 0a1.7 1.7 0 1 0 -3.4 0M609.5 222.1a1.7 1.7 0 1 0 3.4 0a1.7 1.7 0 1 0 -3.4 0M610.8 218.3a1.7 1.7 0 1 0 3.4 0a1.7 1.7 0 1 0 -3.4 0M612.0 208.8a1.7 1.7 0 1 0 3.4 0a1.7 1.7 0 1 0 -3.4 0M613.3 206.6a1.7 1.7 0 1 0 3.4 0a1.7 1.7 0 1 0 -3.4 0M614.5 211.6a1.7 1.7 0 1 0 3.4 0a1.7 1.7 0 1 0 -3.4 0M615.8 218.6a1.7 1.7 0 1 0 3.4 0a1.7 1.7 0 1 0 -3.4 0M617.0 223.1a1.7 1.7 0 1 0 3.4 0a1.7 1.7 0 1 0 -3.4 0M618.3 226.3a1.7 1.7 0 1 0 3.4 0a1.7 1.7 0 1 0 -3.4 0M619.5 232.3a1.7 1.7 0 1 0 3.4 0a1.7 1.7 0 1 0 -3.4 0M620.8 229.3a1.7 1.7 0 1 0 3.4 0a1.7 1.7 0 1 0 -3.4 0" stroke="#e377c2" stroke-width="1.1" fill="none"/>
<rect x="47.5" y="0.5" width="256.7" height="66.3" stroke="#1a1a1a" stroke-width="1.0" fill="none" />
<line x1="98.84" y1="66.8" x2="98.84" y2="70.3" stroke="#1a1a1a" stroke-width="1" />
<line x1="150.18" y1="66.8" x2="150.18" y2="70.3" stroke="#1a1a1a" stroke-width="1" />
<line x1="201.52" y1="66.8" x2="201.52" y2="70.3" stroke="#1a1a1a" stroke-width="1" />
<line x1="252.86" y1="66.8" x2="252.86" y2="70.3" stroke="#1a1a1a" stroke-width="1" />
<rect x="47.5" y="66.8" width="256.7" height="116.5" stroke="#1a1a1a" stroke-width="1.0" fill="none" />
<line x1="98.84" y1="183.3" x2="98.84" y2="186.8" stroke="#1a1a1a" stroke-width="1" />
<line x1="150.18" y1="183.3" x2="150.18" y2="186.8" stroke="#1a1a1a" stroke-width="1" />
<line x1="201.52" y1="183.3" x2="201.52" y2="186.8" stroke="#1a1a1a" stroke-width="1" />
<line x1="252.86" y1="183.3" x2="252.86" y2="186.8" stroke="#1a1a1a" stroke-width="1" />
<rect x="47.5" y="183.3" width="256.7" height="116.3" stroke="#1a1a1a" stroke-width="1.0" fill="none" />
<line x1="98.84" y1="299.6" x2="98.84" y2="303.1" stroke="#1a1a1a" stroke-width="1" />
<line x1="150.18" y1="299.6" x2="150.18" y2="303.1" stroke="#1a1a1a" stroke-width="1" />
<line x1="201.52" y1="299.6" x2="201.52" y2="303.1" stroke="#1a1a1a" stroke-width="1" />
<line x1="252.86" y1="299.6" x2="252.86" y2="303.1" stroke="#1a1a1a" stroke-width="1" />
<rect x="47.5" y="299.6" width="256.7" height="116.7" stroke="#1a1a1a" stroke-width="1.0" fill="none" />
<line x1="47.5" y1="416.3" x2="47.5" y2="419.8" stroke="#1a1a1a" stroke-width="1" />
<text x="47.5" y="427.9" font-size="10.5" text-anchor="middle" dominant-baseline="central" fill="#000" >0</text>
<line x1="98.84" y1="416.3" x2="98.84" y2="419.8" stroke="#1a1a1a" stroke-width="1" />
<text x="98.84" y="427.9" font-size="10.5" text-anchor="middle" dominant-baseline="central" fill="#000" >5</text>
<line x1="150.18" y1="416.3" x2="150.18" y2="419.8" stroke="#1a1a1a" stroke-width="1" />
<text x="150.18" y="427.9" font-size="10.5" text-anchor="middle" dominant-baseline="central" fill="#000" >10</text>
<line x1="201.52" y1="416.3" x2="201.52" y2="419.8" stroke="#1a1a1a" stroke-width="1" />
<text x="201.52" y="427.9" font-size="10.5" text-anchor="middle" dominant-baseline="central" fill="#000" >15</text>
<line x1="252.86" y1="416.3" x2="252.86" y2="419.8" stroke="#1a1a1a" stroke-width="1" />
<text x="252.86" y="427.9" font-size="10.5" text-anchor="middle" dominant-baseline="central" fill="#000" >20</text>
<line x1="304.2" y1="416.3" x2="304.2" y2="419.8" stroke="#1a1a1a" stroke-width="1" />
<text x="304.2" y="427.9" font-size="10.5" text-anchor="middle" dominant-baseline="central" fill="#000" >25</text>
<rect x="377" y="0.5" width="257" height="66.3" stroke="#1a1a1a" stroke-width="1.0" fill="none" />
<line x1="428.4" y1="66.8" x2="428.4" y2="70.3" stroke="#1a1a1a" stroke-width="1" />
<line x1="479.8" y1="66.8" x2="479.8" y2="70.3" stroke="#1a1a1a" stroke-width="1" />
<line x1="531.2" y1="66.8" x2="531.2" y2="70.3" stroke="#1a1a1a" stroke-width="1" />
<line x1="582.6" y1="66.8" x2="582.6" y2="70.3" stroke="#1a1a1a" stroke-width="1" />
<rect x="377" y="66.8" width="257" height="116.5" stroke="#1a1a1a" stroke-width="1.0" fill="none" />
<line x1="428.4" y1="183.3" x2="428.4" y2="186.8" stroke="#1a1a1a" stroke-width="1" />
<line x1="479.8" y1="183.3" x2="479.8" y2="186.8" stroke="#1a1a1a" stroke-width="1" />
<line x1="531.2" y1="183.3" x2="531.2" y2="186.8" stroke="#1a1a1a" stroke-width="1" />
<line x1="582.6" y1="183.3" x2="582.6" y2="186.8" stroke="#1a1a1a" stroke-width="1" />
<rect x="377" y="183.3" width="257" height="116.3" stroke="#1a1a1a" stroke-width="1.0" fill="none" />
<line x1="428.4" y1="299.6" x2="428.4" y2="303.1" stroke="#1a1a1a" stroke-width="1" />
<line x1="479.8" y1="299.6" x2="479.8" y2="303.1" stroke="#1a1a1a" stroke-width="1" />
<line x1="531.2" y1="299.6" x2="531.2" y2="303.1" stroke="#1a1a1a" stroke-width="1" />
<line x1="582.6" y1="299.6" x2="582.6" y2="303.1" stroke="#1a1a1a" stroke-width="1" />
<rect x="377" y="299.6" width="257" height="116.7" stroke="#1a1a1a" stroke-width="1.0" fill="none" />
<line x1="377" y1="416.3" x2="377" y2="419.8" stroke="#1a1a1a" stroke-width="1" />
<text x="377" y="427.9" font-size="10.5" text-anchor="middle" dominant-baseline="central" fill="#000" >0</text>
<line x1="428.4" y1="416.3" x2="428.4" y2="419.8" stroke="#1a1a1a" stroke-width="1" />
<text x="428.4" y="427.9" font-size="10.5" text-anchor="middle" dominant-baseline="central" fill="#000" >5</text>
<line x1="479.8" y1="416.3" x2="479.8" y2="419.8" stroke="#1a1a1a" stroke-width="1" />
<text x="479.8" y="427.9" font-size="10.5" text-anchor="middle" dominant-baseline="central" fill="#000" >10</text>
<line x1="531.2" y1="416.3" x2="531.2" y2="419.8" stroke="#1a1a1a" stroke-width="1" />
<text x="531.2" y="427.9" font-size="10.5" text-anchor="middle" dominant-baseline="central" fill="#000" >15</text>
<line x1="582.6" y1="416.3" x2="582.6" y2="419.8" stroke="#1a1a1a" stroke-width="1" />
<text x="582.6" y="427.9" font-size="10.5" text-anchor="middle" dominant-baseline="central" fill="#000" >20</text>
<line x1="634" y1="416.3" x2="634" y2="419.8" stroke="#1a1a1a" stroke-width="1" />
<text x="634" y="427.9" font-size="10.5" text-anchor="middle" dominant-baseline="central" fill="#000" >25</text>
<line x1="44" y1="9.7" x2="47.5" y2="9.7" stroke="#1a1a1a" stroke-width="1" />
<text x="0" y="0" font-size="10.5" text-anchor="end" dominant-baseline="central" fill="#000" transform="translate(35.3,7.5) rotate(-60)" >0.5</text>
<line x1="44" y1="33.4" x2="47.5" y2="33.4" stroke="#1a1a1a" stroke-width="1" />
<text x="0" y="0" font-size="10.5" text-anchor="end" dominant-baseline="central" fill="#000" transform="translate(35.3,31.2) rotate(-60)" >0.0</text>
<line x1="44" y1="57.1" x2="47.5" y2="57.1" stroke="#1a1a1a" stroke-width="1" />
<text x="0" y="0" font-size="10.5" text-anchor="end" dominant-baseline="central" fill="#000" transform="translate(35.3,54.9) rotate(-60)" >−0.5</text>
<line x1="373.5" y1="9.6" x2="377" y2="9.6" stroke="#1a1a1a" stroke-width="1" />
<text x="0" y="0" font-size="10.5" text-anchor="end" dominant-baseline="central" fill="#000" transform="translate(364.8,7.4) rotate(-60)" >0.5</text>
<line x1="373.5" y1="33.4" x2="377" y2="33.4" stroke="#1a1a1a" stroke-width="1" />
<text x="0" y="0" font-size="10.5" text-anchor="end" dominant-baseline="central" fill="#000" transform="translate(364.8,31.2) rotate(-60)" >0.0</text>
<line x1="373.5" y1="57.2" x2="377" y2="57.2" stroke="#1a1a1a" stroke-width="1" />
<text x="0" y="0" font-size="10.5" text-anchor="end" dominant-baseline="central" fill="#000" transform="translate(364.8,55) rotate(-60)" >−0.5</text>
<line x1="44" y1="100.7" x2="47.5" y2="100.7" stroke="#1a1a1a" stroke-width="1" />
<text x="0" y="0" font-size="10.5" text-anchor="end" dominant-baseline="central" fill="#000" transform="translate(35.3,98.5) rotate(-60)" >0.0</text>
<line x1="44" y1="169.6" x2="47.5" y2="169.6" stroke="#1a1a1a" stroke-width="1" />
<text x="0" y="0" font-size="10.5" text-anchor="end" dominant-baseline="central" fill="#000" transform="translate(35.3,167.4) rotate(-60)" >−0.1</text>
<line x1="373.5" y1="85" x2="377" y2="85" stroke="#1a1a1a" stroke-width="1" />
<text x="0" y="0" font-size="10.5" text-anchor="end" dominant-baseline="central" fill="#000" transform="translate(364.8,82.8) rotate(-60)" >0.0</text>
<line x1="373.5" y1="121.5" x2="377" y2="121.5" stroke="#1a1a1a" stroke-width="1" />
<text x="0" y="0" font-size="10.5" text-anchor="end" dominant-baseline="central" fill="#000" transform="translate(364.8,119.3) rotate(-60)" >−0.1</text>
<line x1="373.5" y1="158" x2="377" y2="158" stroke="#1a1a1a" stroke-width="1" />
<text x="0" y="0" font-size="10.5" text-anchor="end" dominant-baseline="central" fill="#000" transform="translate(364.8,155.8) rotate(-60)" >−0.2</text>
<line x1="44" y1="233.2" x2="47.5" y2="233.2" stroke="#1a1a1a" stroke-width="1" />
<text x="0" y="0" font-size="10.5" text-anchor="end" dominant-baseline="central" fill="#000" transform="translate(35.3,231) rotate(-60)" >0.5</text>
<line x1="44" y1="288.6" x2="47.5" y2="288.6" stroke="#1a1a1a" stroke-width="1" />
<text x="0" y="0" font-size="10.5" text-anchor="end" dominant-baseline="central" fill="#000" transform="translate(35.3,286.4) rotate(-60)" >0.0</text>
<line x1="373.5" y1="206.5" x2="377" y2="206.5" stroke="#1a1a1a" stroke-width="1" />
<text x="0" y="0" font-size="10.5" text-anchor="end" dominant-baseline="central" fill="#000" transform="translate(364.8,204.3) rotate(-60)" >0.08</text>
<line x1="373.5" y1="237" x2="377" y2="237" stroke="#1a1a1a" stroke-width="1" />
<text x="0" y="0" font-size="10.5" text-anchor="end" dominant-baseline="central" fill="#000" transform="translate(364.8,234.8) rotate(-60)" >0.04</text>
<line x1="373.5" y1="267.5" x2="377" y2="267.5" stroke="#1a1a1a" stroke-width="1" />
<text x="0" y="0" font-size="10.5" text-anchor="end" dominant-baseline="central" fill="#000" transform="translate(364.8,265.3) rotate(-60)" >0.00</text>
<line x1="44" y1="316.3" x2="47.5" y2="316.3" stroke="#1a1a1a" stroke-width="1" />
<text x="40" y="316.8" font-size="10.5" text-anchor="end" dominant-baseline="central" fill="#000" >5</text>
<line x1="44" y1="357.95" x2="47.5" y2="357.95" stroke="#1a1a1a" stroke-width="1" />
<text x="40" y="358.45" font-size="10.5" text-anchor="end" dominant-baseline="central" fill="#000" >0</text>
<line x1="44" y1="399.6" x2="47.5" y2="399.6" stroke="#1a1a1a" stroke-width="1" />
<text x="40" y="400.1" font-size="10.5" text-anchor="end" dominant-baseline="central" fill="#000" >−5</text>
<line x1="373.5" y1="316.3" x2="377" y2="316.3" stroke="#1a1a1a" stroke-width="1" />
<text x="369.5" y="316.8" font-size="10.5" text-anchor="end" dominant-baseline="central" fill="#000" >5</text>
<line x1="373.5" y1="357.95" x2="377" y2="357.95" stroke="#1a1a1a" stroke-width="1" />
<text x="369.5" y="358.45" font-size="10.5" text-anchor="end" dominant-baseline="central" fill="#000" >0</text>
<line x1="373.5" y1="399.6" x2="377" y2="399.6" stroke="#1a1a1a" stroke-width="1" />
<text x="369.5" y="400.1" font-size="10.5" text-anchor="end" dominant-baseline="central" fill="#000" >−5</text>
<text x="0" y="0" font-size="13.4" text-anchor="middle" dominant-baseline="central" fill="#000" transform="translate(10.6,33.8) rotate(-90)" textLength="41.5" lengthAdjust="spacingAndGlyphs"><tspan font-style="italic">E</tspan><tspan font-size="72%" font-style="italic" dy="2.6">z</tspan><tspan dy="-2.6"> (a.u.)</tspan></text>
<text x="0" y="0" font-size="13.4" text-anchor="middle" dominant-baseline="central" fill="#000" transform="translate(339.8,34) rotate(-90)" textLength="41.5" lengthAdjust="spacingAndGlyphs"><tspan font-style="italic">E</tspan><tspan font-size="72%" font-style="italic" dy="2.6">z</tspan><tspan dy="-2.6"> (a.u.)</tspan></text>
<text x="0" y="0" font-size="13.8" text-anchor="middle" dominant-baseline="central" fill="#000" transform="translate(11.4,125.1) rotate(-90)" textLength="61" lengthAdjust="spacingAndGlyphs">Δ<tspan font-style="italic">k</tspan><tspan font-size="72%" font-style="italic" dy="2.6">x</tspan><tspan dy="-2.6"> (pm</tspan><tspan font-size="72%" dy="-4.5">−1</tspan><tspan dy="4.5">)</tspan></text>
<text x="0" y="0" font-size="13.8" text-anchor="middle" dominant-baseline="central" fill="#000" transform="translate(339.6,125) rotate(-90)" textLength="61" lengthAdjust="spacingAndGlyphs">Δ<tspan font-style="italic">k</tspan><tspan font-size="72%" font-style="italic" dy="2.6">x</tspan><tspan dy="-2.6"> (pm</tspan><tspan font-size="72%" dy="-4.5">−1</tspan><tspan dy="4.5">)</tspan></text>
<text x="0" y="0" font-size="13.8" text-anchor="middle" dominant-baseline="central" fill="#000" transform="translate(11.4,242.2) rotate(-90)" textLength="61" lengthAdjust="spacingAndGlyphs">Δ<tspan font-style="italic">k</tspan><tspan font-size="72%" font-style="italic" dy="2.6">y</tspan><tspan dy="-2.6"> (pm</tspan><tspan font-size="72%" dy="-4.5">−1</tspan><tspan dy="4.5">)</tspan></text>
<text x="0" y="0" font-size="13.8" text-anchor="middle" dominant-baseline="central" fill="#000" transform="translate(339.6,243.2) rotate(-90)" textLength="61" lengthAdjust="spacingAndGlyphs">Δ<tspan font-style="italic">k</tspan><tspan font-size="72%" font-style="italic" dy="2.6">y</tspan><tspan dy="-2.6"> (pm</tspan><tspan font-size="72%" dy="-4.5">−1</tspan><tspan dy="4.5">)</tspan></text>
<text x="0" y="0" font-size="13.8" text-anchor="middle" dominant-baseline="central" fill="#000" transform="translate(17.9,359) rotate(-90)" textLength="61" lengthAdjust="spacingAndGlyphs">Δ<tspan font-style="italic">k</tspan><tspan font-size="72%" font-style="italic" dy="2.6">z</tspan><tspan dy="-2.6"> (pm</tspan><tspan font-size="72%" dy="-4.5">−1</tspan><tspan dy="4.5">)</tspan></text>
<text x="0" y="0" font-size="13.8" text-anchor="middle" dominant-baseline="central" fill="#000" transform="translate(347,359) rotate(-90)" textLength="61" lengthAdjust="spacingAndGlyphs">Δ<tspan font-style="italic">k</tspan><tspan font-size="72%" font-style="italic" dy="2.6">z</tspan><tspan dy="-2.6"> (pm</tspan><tspan font-size="72%" dy="-4.5">−1</tspan><tspan dy="4.5">)</tspan></text>
<text x="65" y="14.3" font-size="11" text-anchor="middle" dominant-baseline="central" fill="#000" >(a)</text>
<text x="65.5" y="81.9" font-size="11" text-anchor="middle" dominant-baseline="central" fill="#000" >(b)</text>
<text x="65.2" y="197.8" font-size="11" text-anchor="middle" dominant-baseline="central" fill="#000" >(c)</text>
<text x="65.1" y="314.5" font-size="11" text-anchor="middle" dominant-baseline="central" fill="#000" >(d)</text>
<text x="395.1" y="12.9" font-size="11" text-anchor="middle" dominant-baseline="central" fill="#000" >(e)</text>
<text x="394.8" y="101.2" font-size="11" text-anchor="middle" dominant-baseline="central" fill="#000" >(f)</text>
<text x="395.1" y="199.5" font-size="11" text-anchor="middle" dominant-baseline="central" fill="#000" >(g)</text>
<text x="395.1" y="314.5" font-size="11" text-anchor="middle" dominant-baseline="central" fill="#000" >(h)</text>
<text x="175.5" y="441.8" font-size="12.8" text-anchor="middle" dominant-baseline="central" fill="#000" textLength="23.2" lengthAdjust="spacingAndGlyphs"><tspan font-style="italic">t</tspan> (fs)</text>
<text x="505.5" y="441.8" font-size="12.8" text-anchor="middle" dominant-baseline="central" fill="#000" textLength="23.2" lengthAdjust="spacingAndGlyphs"><tspan font-style="italic">t</tspan> (fs)</text>
<rect x="53.6" y="134.2" width="27.9" height="21.2" stroke="none" stroke-width="0" fill="#ffd700" />
<text x="67.25" y="144.2" font-size="14.2" text-anchor="middle" dominant-baseline="central" fill="#000" textLength="17.4" lengthAdjust="spacingAndGlyphs">W1</text>
<rect x="384" y="134.2" width="27" height="21.2" stroke="none" stroke-width="0" fill="#ffd700" />
<text x="397.2" y="144.2" font-size="14.2" text-anchor="middle" dominant-baseline="central" fill="#000" textLength="17.4" lengthAdjust="spacingAndGlyphs">W2</text>
<rect x="175.5" y="308.3" width="104.3" height="38.8" stroke="none" stroke-width="0" fill="#fff" />
<line x1="175.5" y1="327.6" x2="279.8" y2="327.6" stroke="#b0b0b0" stroke-width="1" />
<rect x="175.5" y="370.4" width="104.3" height="38.9" stroke="none" stroke-width="0" fill="#fff" />
<line x1="175.5" y1="389.7" x2="279.8" y2="389.7" stroke="#b0b0b0" stroke-width="1" />
<rect x="505.5" y="308.3" width="104.3" height="38.8" stroke="none" stroke-width="0" fill="#fff" />
<line x1="505.5" y1="327.6" x2="609.8" y2="327.6" stroke="#b0b0b0" stroke-width="1" />
<rect x="505.5" y="370.4" width="104.3" height="38.9" stroke="none" stroke-width="0" fill="#fff" />
<line x1="505.5" y1="399.3" x2="609.8" y2="399.3" stroke="#b0b0b0" stroke-width="1" />
<line x1="175.5" y1="409.3" x2="149.9" y2="416.2" stroke="#333" stroke-width="0.6" stroke-dasharray="2,1.5"/>
<line x1="279.8" y1="409.3" x2="303.8" y2="416.2" stroke="#333" stroke-width="0.6" stroke-dasharray="2,1.5"/>
<line x1="505.5" y1="409.3" x2="479.6" y2="416.2" stroke="#333" stroke-width="0.6" stroke-dasharray="2,1.5"/>
<line x1="609.8" y1="409.3" x2="633.5" y2="416.2" stroke="#333" stroke-width="0.6" stroke-dasharray="2,1.5"/>
<path d="M175.5 345.9h0M176.5 328.4h0M177.4 318.5h0M178.4 320.1h0M179.4 320.3h0M180.4 332.9h0M181.3 336.2h0M182.3 336.5h0M183.3 328.0h0M184.3 322.2h0M185.2 319.0h0M186.2 317.3h0M187.2 323.8h0M188.2 335.2h0M189.1 334.6h0M190.1 332.4h0M191.1 323.6h0M192.0 317.8h0M193.0 320.8h0M194.0 323.8h0M195.0 332.8h0M195.9 336.0h0M196.9 332.5h0M197.9 328.8h0M198.9 321.7h0M199.8 316.9h0M200.8 319.9h0M201.8 325.9h0M202.8 332.8h0M203.7 329.7h0M204.7 322.8h0M205.7 317.5h0M206.7 319.7h0M207.6 322.6h0M208.6 323.8h0M209.6 326.6h0M210.5 329.5h0M211.5 324.1h0M212.5 320.3h0M213.5 317.2h0M214.4 318.0h0M215.4 322.3h0M216.4 327.8h0M217.4 325.3h0M218.3 325.4h0M219.3 324.4h0M220.3 320.8h0M221.3 322.0h0M222.2 322.2h0M223.2 330.1h0M224.2 330.7h0M225.1 328.0h0M226.1 325.1h0M227.1 321.7h0M228.1 324.0h0M229.0 322.5h0M230.0 328.4h0M231.0 329.0h0M232.0 332.4h0M232.9 326.1h0M233.9 325.0h0M234.9 322.4h0M235.9 325.6h0M236.8 329.2h0M237.8 332.7h0M238.8 331.3h0M239.7 332.0h0M240.7 327.3h0M241.7 321.5h0M242.7 322.7h0M243.6 327.7h0M244.6 331.6h0M245.6 337.6h0M246.6 336.4h0M247.5 327.7h0M248.5 318.3h0M249.5 318.3h0M250.5 320.8h0M251.4 330.8h0M252.4 337.5h0M253.4 334.2h0M254.4 333.2h0M255.3 329.9h0M256.3 320.3h0M257.3 321.7h0M258.2 329.2h0M259.2 333.9h0M260.2 336.7h0M261.2 332.8h0M262.1 327.7h0" stroke="#17becf" stroke-width="3.80" stroke-linecap="round" fill="none"/>
<path d="M173.8 344.9a1.65 1.65 0 1 0 3.3 0a1.65 1.65 0 1 0 -3.3 0M174.8 329.1a1.65 1.65 0 1 0 3.3 0a1.65 1.65 0 1 0 -3.3 0M175.8 317.9a1.65 1.65 0 1 0 3.3 0a1.65 1.65 0 1 0 -3.3 0M176.8 316.1a1.65 1.65 0 1 0 3.3 0a1.65 1.65 0 1 0 -3.3 0M177.7 318.8a1.65 1.65 0 1 0 3.3 0a1.65 1.65 0 1 0 -3.3 0M178.7 331.2a1.65 1.65 0 1 0 3.3 0a1.65 1.65 0 1 0 -3.3 0M179.7 336.1a1.65 1.65 0 1 0 3.3 0a1.65 1.65 0 1 0 -3.3 0M180.7 331.4a1.65 1.65 0 1 0 3.3 0a1.65 1.65 0 1 0 -3.3 0M181.6 329.8a1.65 1.65 0 1 0 3.3 0a1.65 1.65 0 1 0 -3.3 0M182.6 322.5a1.65 1.65 0 1 0 3.3 0a1.65 1.65 0 1 0 -3.3 0M183.6 316.4a1.65 1.65 0 1 0 3.3 0a1.65 1.65 0 1 0 -3.3 0M184.6 317.3a1.65 1.65 0 1 0 3.3 0a1.65 1.65 0 1 0 -3.3 0M185.5 323.9a1.65 1.65 0 1 0 3.3 0a1.65 1.65 0 1 0 -3.3 0M186.5 333.2a1.65 1.65 0 1 0 3.3 0a1.65 1.65 0 1 0 -3.3 0M187.5 332.3a1.65 1.65 0 1 0 3.3 0a1.65 1.65 0 1 0 -3.3 0M188.5 330.2a1.65 1.65 0 1 0 3.3 0a1.65 1.65 0 1 0 -3.3 0M189.4 323.8a1.65 1.65 0 1 0 3.3 0a1.65 1.65 0 1 0 -3.3 0M190.4 315.5a1.65 1.65 0 1 0 3.3 0a1.65 1.65 0 1 0 -3.3 0M191.4 321.5a1.65 1.65 0 1 0 3.3 0a1.65 1.65 0 1 0 -3.3 0M192.3 324.0a1.65 1.65 0 1 0 3.3 0a1.65 1.65 0 1 0 -3.3 0M193.3 333.2a1.65 1.65 0 1 0 3.3 0a1.65 1.65 0 1 0 -3.3 0M194.3 334.4a1.65 1.65 0 1 0 3.3 0a1.65 1.65 0 1 0 -3.3 0M195.3 331.9a1.65 1.65 0 1 0 3.3 0a1.65 1.65 0 1 0 -3.3 0M196.2 329.1a1.65 1.65 0 1 0 3.3 0a1.65 1.65 0 1 0 -3.3 0M197.2 320.5a1.65 1.65 0 1 0 3.3 0a1.65 1.65 0 1 0 -3.3 0M198.2 317.3a1.65 1.65 0 1 0 3.3 0a1.65 1.65 0 1 0 -3.3 0M199.2 319.6a1.65 1.65 0 1 0 3.3 0a1.65 1.65 0 1 0 -3.3 0M200.1 325.3a1.65 1.65 0 1 0 3.3 0a1.65 1.65 0 1 0 -3.3 0M201.1 332.5a1.65 1.65 0 1 0 3.3 0a1.65 1.65 0 1 0 -3.3 0M202.1 330.1a1.65 1.65 0 1 0 3.3 0a1.65 1.65 0 1 0 -3.3 0M203.1 323.5a1.65 1.65 0 1 0 3.3 0a1.65 1.65 0 1 0 -3.3 0M204.0 314.7a1.65 1.65 0 1 0 3.3 0a1.65 1.65 0 1 0 -3.3 0M205.0 321.7a1.65 1.65 0 1 0 3.3 0a1.65 1.65 0 1 0 -3.3 0M206.0 321.0a1.65 1.65 0 1 0 3.3 0a1.65 1.65 0 1 0 -3.3 0M206.9 323.9a1.65 1.65 0 1 0 3.3 0a1.65 1.65 0 1 0 -3.3 0M207.9 326.5a1.65 1.65 0 1 0 3.3 0a1.65 1.65 0 1 0 -3.3 0M208.9 331.1a1.65 1.65 0 1 0 3.3 0a1.65 1.65 0 1 0 -3.3 0M209.9 323.0a1.65 1.65 0 1 0 3.3 0a1.65 1.65 0 1 0 -3.3 0M210.8 320.0a1.65 1.65 0 1 0 3.3 0a1.65 1.65 0 1 0 -3.3 0M211.8 314.4a1.65 1.65 0 1 0 3.3 0a1.65 1.65 0 1 0 -3.3 0M212.8 317.7a1.65 1.65 0 1 0 3.3 0a1.65 1.65 0 1 0 -3.3 0M213.8 322.8a1.65 1.65 0 1 0 3.3 0a1.65 1.65 0 1 0 -3.3 0M214.7 328.5a1.65 1.65 0 1 0 3.3 0a1.65 1.65 0 1 0 -3.3 0M215.7 322.7a1.65 1.65 0 1 0 3.3 0a1.65 1.65 0 1 0 -3.3 0M216.7 323.4a1.65 1.65 0 1 0 3.3 0a1.65 1.65 0 1 0 -3.3 0M217.7 323.8a1.65 1.65 0 1 0 3.3 0a1.65 1.65 0 1 0 -3.3 0M218.6 317.1a1.65 1.65 0 1 0 3.3 0a1.65 1.65 0 1 0 -3.3 0M219.6 320.5a1.65 1.65 0 1 0 3.3 0a1.65 1.65 0 1 0 -3.3 0M220.6 321.5a1.65 1.65 0 1 0 3.3 0a1.65 1.65 0 1 0 -3.3 0M221.5 328.1a1.65 1.65 0 1 0 3.3 0a1.65 1.65 0 1 0 -3.3 0M222.5 331.2a1.65 1.65 0 1 0 3.3 0a1.65 1.65 0 1 0 -3.3 0M223.5 326.7a1.65 1.65 0 1 0 3.3 0a1.65 1.65 0 1 0 -3.3 0M224.5 325.7a1.65 1.65 0 1 0 3.3 0a1.65 1.65 0 1 0 -3.3 0M225.4 319.7a1.65 1.65 0 1 0 3.3 0a1.65 1.65 0 1 0 -3.3 0M226.4 321.9a1.65 1.65 0 1 0 3.3 0a1.65 1.65 0 1 0 -3.3 0M227.4 321.5a1.65 1.65 0 1 0 3.3 0a1.65 1.65 0 1 0 -3.3 0M228.4 325.6a1.65 1.65 0 1 0 3.3 0a1.65 1.65 0 1 0 -3.3 0M229.3 328.9a1.65 1.65 0 1 0 3.3 0a1.65 1.65 0 1 0 -3.3 0M230.3 330.5a1.65 1.65 0 1 0 3.3 0a1.65 1.65 0 1 0 -3.3 0M231.3 325.2a1.65 1.65 0 1 0 3.3 0a1.65 1.65 0 1 0 -3.3 0M232.3 325.6a1.65 1.65 0 1 0 3.3 0a1.65 1.65 0 1 0 -3.3 0M233.2 320.2a1.65 1.65 0 1 0 3.3 0a1.65 1.65 0 1 0 -3.3 0M234.2 321.9a1.65 1.65 0 1 0 3.3 0a1.65 1.65 0 1 0 -3.3 0M235.2 323.3a1.65 1.65 0 1 0 3.3 0a1.65 1.65 0 1 0 -3.3 0M236.2 331.4a1.65 1.65 0 1 0 3.3 0a1.65 1.65 0 1 0 -3.3 0M237.1 329.4a1.65 1.65 0 1 0 3.3 0a1.65 1.65 0 1 0 -3.3 0M238.1 328.3a1.65 1.65 0 1 0 3.3 0a1.65 1.65 0 1 0 -3.3 0M239.1 327.7a1.65 1.65 0 1 0 3.3 0a1.65 1.65 0 1 0 -3.3 0M240.0 318.0a1.65 1.65 0 1 0 3.3 0a1.65 1.65 0 1 0 -3.3 0M241.0 324.0a1.65 1.65 0 1 0 3.3 0a1.65 1.65 0 1 0 -3.3 0M242.0 328.3a1.65 1.65 0 1 0 3.3 0a1.65 1.65 0 1 0 -3.3 0M243.0 330.8a1.65 1.65 0 1 0 3.3 0a1.65 1.65 0 1 0 -3.3 0M243.9 337.1a1.65 1.65 0 1 0 3.3 0a1.65 1.65 0 1 0 -3.3 0M244.9 333.8a1.65 1.65 0 1 0 3.3 0a1.65 1.65 0 1 0 -3.3 0M245.9 328.2a1.65 1.65 0 1 0 3.3 0a1.65 1.65 0 1 0 -3.3 0M246.9 317.4a1.65 1.65 0 1 0 3.3 0a1.65 1.65 0 1 0 -3.3 0M247.8 317.7a1.65 1.65 0 1 0 3.3 0a1.65 1.65 0 1 0 -3.3 0M248.8 319.5a1.65 1.65 0 1 0 3.3 0a1.65 1.65 0 1 0 -3.3 0M249.8 328.7a1.65 1.65 0 1 0 3.3 0a1.65 1.65 0 1 0 -3.3 0M250.8 317.8a1.65 1.65 0 1 0 3.3 0a1.65 1.65 0 1 0 -3.3 0M251.7 316.1a1.65 1.65 0 1 0 3.3 0a1.65 1.65 0 1 0 -3.3 0M252.7 320.2a1.65 1.65 0 1 0 3.3 0a1.65 1.65 0 1 0 -3.3 0M253.7 326.3a1.65 1.65 0 1 0 3.3 0a1.65 1.65 0 1 0 -3.3 0M254.6 341.4a1.65 1.65 0 1 0 3.3 0a1.65 1.65 0 1 0 -3.3 0M255.6 342.4a1.65 1.65 0 1 0 3.3 0a1.65 1.65 0 1 0 -3.3 0M256.6 336.8a1.65 1.65 0 1 0 3.3 0a1.65 1.65 0 1 0 -3.3 0M257.6 329.8a1.65 1.65 0 1 0 3.3 0a1.65 1.65 0 1 0 -3.3 0M258.5 322.3a1.65 1.65 0 1 0 3.3 0a1.65 1.65 0 1 0 -3.3 0M259.5 315.7a1.65 1.65 0 1 0 3.3 0a1.65 1.65 0 1 0 -3.3 0M260.5 312.9a1.65 1.65 0 1 0 3.3 0a1.65 1.65 0 1 0 -3.3 0M261.5 318.1a1.65 1.65 0 1 0 3.3 0a1.65 1.65 0 1 0 -3.3 0M262.4 319.2a1.65 1.65 0 1 0 3.3 0a1.65 1.65 0 1 0 -3.3 0M263.4 336.8a1.65 1.65 0 1 0 3.3 0a1.65 1.65 0 1 0 -3.3 0M264.4 340.5a1.65 1.65 0 1 0 3.3 0a1.65 1.65 0 1 0 -3.3 0M265.4 343.2a1.65 1.65 0 1 0 3.3 0a1.65 1.65 0 1 0 -3.3 0M266.3 331.4a1.65 1.65 0 1 0 3.3 0a1.65 1.65 0 1 0 -3.3 0M267.3 324.5a1.65 1.65 0 1 0 3.3 0a1.65 1.65 0 1 0 -3.3 0M268.3 318.8a1.65 1.65 0 1 0 3.3 0a1.65 1.65 0 1 0 -3.3 0" stroke="#e377c2" stroke-width="1.25" fill="none"/>
<path d="M174.7 399.3a1.65 1.65 0 1 0 3.3 0a1.65 1.65 0 1 0 -3.3 0M175.6 396.8a1.65 1.65 0 1 0 3.3 0a1.65 1.65 0 1 0 -3.3 0M176.5 393.7a1.65 1.65 0 1 0 3.3 0a1.65 1.65 0 1 0 -3.3 0M177.5 388.7a1.65 1.65 0 1 0 3.3 0a1.65 1.65 0 1 0 -3.3 0M178.4 384.3a1.65 1.65 0 1 0 3.3 0a1.65 1.65 0 1 0 -3.3 0M179.4 381.4a1.65 1.65 0 1 0 3.3 0a1.65 1.65 0 1 0 -3.3 0M180.3 381.2a1.65 1.65 0 1 0 3.3 0a1.65 1.65 0 1 0 -3.3 0M181.3 381.7a1.65 1.65 0 1 0 3.3 0a1.65 1.65 0 1 0 -3.3 0M182.2 384.5a1.65 1.65 0 1 0 3.3 0a1.65 1.65 0 1 0 -3.3 0M183.2 387.2a1.65 1.65 0 1 0 3.3 0a1.65 1.65 0 1 0 -3.3 0M184.1 390.7a1.65 1.65 0 1 0 3.3 0a1.65 1.65 0 1 0 -3.3 0M185.1 393.4a1.65 1.65 0 1 0 3.3 0a1.65 1.65 0 1 0 -3.3 0M186.0 395.5a1.65 1.65 0 1 0 3.3 0a1.65 1.65 0 1 0 -3.3 0M187.0 396.1a1.65 1.65 0 1 0 3.3 0a1.65 1.65 0 1 0 -3.3 0M187.9 394.2a1.65 1.65 0 1 0 3.3 0a1.65 1.65 0 1 0 -3.3 0M188.9 391.6a1.65 1.65 0 1 0 3.3 0a1.65 1.65 0 1 0 -3.3 0M189.8 387.4a1.65 1.65 0 1 0 3.3 0a1.65 1.65 0 1 0 -3.3 0M190.8 383.5a1.65 1.65 0 1 0 3.3 0a1.65 1.65 0 1 0 -3.3 0M191.7 380.8a1.65 1.65 0 1 0 3.3 0a1.65 1.65 0 1 0 -3.3 0M192.7 378.9a1.65 1.65 0 1 0 3.3 0a1.65 1.65 0 1 0 -3.3 0M193.6 380.9a1.65 1.65 0 1 0 3.3 0a1.65 1.65 0 1 0 -3.3 0M194.6 382.5a1.65 1.65 0 1 0 3.3 0a1.65 1.65 0 1 0 -3.3 0M195.5 386.7a1.65 1.65 0 1 0 3.3 0a1.65 1.65 0 1 0 -3.3 0M196.5 391.5a1.65 1.65 0 1 0 3.3 0a1.65 1.65 0 1 0 -3.3 0M197.4 396.1a1.65 1.65 0 1 0 3.3 0a1.65 1.65 0 1 0 -3.3 0M198.4 399.8a1.65 1.65 0 1 0 3.3 0a1.65 1.65 0 1 0 -3.3 0M199.3 402.2a1.65 1.65 0 1 0 3.3 0a1.65 1.65 0 1 0 -3.3 0M200.3 403.0a1.65 1.65 0 1 0 3.3 0a1.65 1.65 0 1 0 -3.3 0M201.2 400.8a1.65 1.65 0 1 0 3.3 0a1.65 1.65 0 1 0 -3.3 0M202.2 396.8a1.65 1.65 0 1 0 3.3 0a1.65 1.65 0 1 0 -3.3 0M203.1 391.7a1.65 1.65 0 1 0 3.3 0a1.65 1.65 0 1 0 -3.3 0M204.1 384.2a1.65 1.65 0 1 0 3.3 0a1.65 1.65 0 1 0 -3.3 0M205.0 380.3a1.65 1.65 0 1 0 3.3 0a1.65 1.65 0 1 0 -3.3 0M206.0 378.4a1.65 1.65 0 1 0 3.3 0a1.65 1.65 0 1 0 -3.3 0M206.9 378.7a1.65 1.65 0 1 0 3.3 0a1.65 1.65 0 1 0 -3.3 0M207.9 381.1a1.65 1.65 0 1 0 3.3 0a1.65 1.65 0 1 0 -3.3 0M208.8 384.5a1.65 1.65 0 1 0 3.3 0a1.65 1.65 0 1 0 -3.3 0M209.8 388.3a1.65 1.65 0 1 0 3.3 0a1.65 1.65 0 1 0 -3.3 0M210.7 391.9a1.65 1.65 0 1 0 3.3 0a1.65 1.65 0 1 0 -3.3 0M211.7 394.3a1.65 1.65 0 1 0 3.3 0a1.65 1.65 0 1 0 -3.3 0M212.6 396.0a1.65 1.65 0 1 0 3.3 0a1.65 1.65 0 1 0 -3.3 0M213.6 395.1a1.65 1.65 0 1 0 3.3 0a1.65 1.65 0 1 0 -3.3 0M214.5 392.8a1.65 1.65 0 1 0 3.3 0a1.65 1.65 0 1 0 -3.3 0M215.5 390.6a1.65 1.65 0 1 0 3.3 0a1.65 1.65 0 1 0 -3.3 0M216.4 386.9a1.65 1.65 0 1 0 3.3 0a1.65 1.65 0 1 0 -3.3 0M217.4 385.1a1.65 1.65 0 1 0 3.3 0a1.65 1.65 0 1 0 -3.3 0M218.3 384.6a1.65 1.65 0 1 0 3.3 0a1.65 1.65 0 1 0 -3.3 0M219.3 386.6a1.65 1.65 0 1 0 3.3 0a1.65 1.65 0 1 0 -3.3 0M220.2 388.4a1.65 1.65 0 1 0 3.3 0a1.65 1.65 0 1 0 -3.3 0M221.2 391.4a1.65 1.65 0 1 0 3.3 0a1.65 1.65 0 1 0 -3.3 0M222.1 394.9a1.65 1.65 0 1 0 3.3 0a1.65 1.65 0 1 0 -3.3 0M223.1 397.7a1.65 1.65 0 1 0 3.3 0a1.65 1.65 0 1 0 -3.3 0M224.0 399.5a1.65 1.65 0 1 0 3.3 0a1.65 1.65 0 1 0 -3.3 0M225.0 401.1a1.65 1.65 0 1 0 3.3 0a1.65 1.65 0 1 0 -3.3 0M225.9 400.8a1.65 1.65 0 1 0 3.3 0a1.65 1.65 0 1 0 -3.3 0M226.9 398.3a1.65 1.65 0 1 0 3.3 0a1.65 1.65 0 1 0 -3.3 0M227.8 393.9a1.65 1.65 0 1 0 3.3 0a1.65 1.65 0 1 0 -3.3 0M228.8 389.1a1.65 1.65 0 1 0 3.3 0a1.65 1.65 0 1 0 -3.3 0M229.7 383.2a1.65 1.65 0 1 0 3.3 0a1.65 1.65 0 1 0 -3.3 0M230.7 379.6a1.65 1.65 0 1 0 3.3 0a1.65 1.65 0 1 0 -3.3 0M231.6 377.1a1.65 1.65 0 1 0 3.3 0a1.65 1.65 0 1 0 -3.3 0M232.6 376.7a1.65 1.65 0 1 0 3.3 0a1.65 1.65 0 1 0 -3.3 0M233.5 378.9a1.65 1.65 0 1 0 3.3 0a1.65 1.65 0 1 0 -3.3 0M234.5 384.1a1.65 1.65 0 1 0 3.3 0a1.65 1.65 0 1 0 -3.3 0M235.4 388.1a1.65 1.65 0 1 0 3.3 0a1.65 1.65 0 1 0 -3.3 0M236.4 394.6a1.65 1.65 0 1 0 3.3 0a1.65 1.65 0 1 0 -3.3 0M237.3 399.8a1.65 1.65 0 1 0 3.3 0a1.65 1.65 0 1 0 -3.3 0M238.3 404.1a1.65 1.65 0 1 0 3.3 0a1.65 1.65 0 1 0 -3.3 0M239.2 406.1a1.65 1.65 0 1 0 3.3 0a1.65 1.65 0 1 0 -3.3 0M240.2 406.1a1.65 1.65 0 1 0 3.3 0a1.65 1.65 0 1 0 -3.3 0M241.1 403.4a1.65 1.65 0 1 0 3.3 0a1.65 1.65 0 1 0 -3.3 0M242.1 398.5a1.65 1.65 0 1 0 3.3 0a1.65 1.65 0 1 0 -3.3 0M243.0 392.1a1.65 1.65 0 1 0 3.3 0a1.65 1.65 0 1 0 -3.3 0M244.0 386.1a1.65 1.65 0 1 0 3.3 0a1.65 1.65 0 1 0 -3.3 0M244.9 380.5a1.65 1.65 0 1 0 3.3 0a1.65 1.65 0 1 0 -3.3 0M245.9 376.1a1.65 1.65 0 1 0 3.3 0a1.65 1.65 0 1 0 -3.3 0M246.8 374.0a1.65 1.65 0 1 0 3.3 0a1.65 1.65 0 1 0 -3.3 0M247.8 373.9a1.65 1.65 0 1 0 3.3 0a1.65 1.65 0 1 0 -3.3 0M248.7 376.6a1.65 1.65 0 1 0 3.3 0a1.65 1.65 0 1 0 -3.3 0M249.7 382.0a1.65 1.65 0 1 0 3.3 0a1.65 1.65 0 1 0 -3.3 0M250.6 388.6a1.65 1.65 0 1 0 3.3 0a1.65 1.65 0 1 0 -3.3 0M251.6 395.1a1.65 1.65 0 1 0 3.3 0a1.65 1.65 0 1 0 -3.3 0M252.5 400.1a1.65 1.65 0 1 0 3.3 0a1.65 1.65 0 1 0 -3.3 0M253.5 402.8a1.65 1.65 0 1 0 3.3 0a1.65 1.65 0 1 0 -3.3 0M254.4 402.2a1.65 1.65 0 1 0 3.3 0a1.65 1.65 0 1 0 -3.3 0M255.4 400.6a1.65 1.65 0 1 0 3.3 0a1.65 1.65 0 1 0 -3.3 0M256.3 397.5a1.65 1.65 0 1 0 3.3 0a1.65 1.65 0 1 0 -3.3 0M257.3 393.0a1.65 1.65 0 1 0 3.3 0a1.65 1.65 0 1 0 -3.3 0M258.2 388.3a1.65 1.65 0 1 0 3.3 0a1.65 1.65 0 1 0 -3.3 0M259.2 383.3a1.65 1.65 0 1 0 3.3 0a1.65 1.65 0 1 0 -3.3 0M260.1 380.5a1.65 1.65 0 1 0 3.3 0a1.65 1.65 0 1 0 -3.3 0M261.1 377.7a1.65 1.65 0 1 0 3.3 0a1.65 1.65 0 1 0 -3.3 0M262.0 378.7a1.65 1.65 0 1 0 3.3 0a1.65 1.65 0 1 0 -3.3 0M263.0 381.9a1.65 1.65 0 1 0 3.3 0a1.65 1.65 0 1 0 -3.3 0M263.9 385.5a1.65 1.65 0 1 0 3.3 0a1.65 1.65 0 1 0 -3.3 0" stroke="#ff7f0e" stroke-width="1.2" fill="none"/>
<path d="M505.5 309.3h0M506.5 309.3h0M507.4 314.7h0M508.4 321.1h0M509.4 328.1h0M510.4 326.8h0M511.3 323.9h0M512.3 319.6h0M513.3 320.8h0M514.3 324.0h0M515.2 332.5h0M516.2 335.0h0M517.2 334.8h0M518.2 331.7h0M519.1 327.9h0M520.1 326.7h0M521.1 327.6h0M522.0 334.4h0M523.0 337.1h0M524.0 337.4h0M525.0 335.3h0M525.9 330.3h0M526.9 331.0h0M527.9 330.9h0M528.9 333.7h0M529.8 339.7h0M530.8 341.9h0M531.8 335.5h0M532.8 333.4h0M533.7 327.8h0M534.7 330.6h0M535.7 336.2h0M536.7 339.9h0M537.6 338.6h0M538.6 337.5h0M539.6 333.1h0M540.5 329.7h0M541.5 330.6h0M542.5 335.1h0M543.5 338.2h0M544.4 339.0h0M545.4 338.3h0M546.4 332.1h0M547.4 329.0h0M548.3 331.9h0M549.3 333.1h0M550.3 337.0h0M551.3 343.0h0M552.2 339.7h0M553.2 334.1h0M554.2 331.6h0M555.1 330.0h0M556.1 333.6h0M557.1 339.0h0M558.1 340.9h0M559.0 340.1h0M560.0 335.5h0M561.0 331.2h0M562.0 330.8h0M562.9 333.6h0M563.9 338.1h0M564.9 340.1h0M565.9 341.2h0M566.8 334.7h0M567.8 332.7h0M568.8 327.9h0M569.7 332.4h0M570.7 337.3h0M571.7 341.0h0M572.7 339.9h0M573.6 336.6h0M574.6 333.2h0M575.6 329.7h0M576.6 331.1h0M577.5 335.8h0M578.5 338.6h0M579.5 343.4h0M580.5 337.7h0M581.4 333.5h0M582.4 329.5h0M583.4 329.0h0M584.4 336.9h0M585.3 340.5h0M586.3 341.0h0M587.3 337.0h0M588.2 332.2h0M589.2 330.9h0M590.2 329.7h0M591.2 334.7h0M592.1 337.9h0" stroke="#17becf" stroke-width="3.80" stroke-linecap="round" fill="none"/>
<path d="M503.9 309.3a1.65 1.65 0 1 0 3.3 0a1.65 1.65 0 1 0 -3.3 0M504.8 309.3a1.65 1.65 0 1 0 3.3 0a1.65 1.65 0 1 0 -3.3 0M505.8 311.3a1.65 1.65 0 1 0 3.3 0a1.65 1.65 0 1 0 -3.3 0M506.8 318.7a1.65 1.65 0 1 0 3.3 0a1.65 1.65 0 1 0 -3.3 0M507.7 325.9a1.65 1.65 0 1 0 3.3 0a1.65 1.65 0 1 0 -3.3 0M508.7 323.0a1.65 1.65 0 1 0 3.3 0a1.65 1.65 0 1 0 -3.3 0M509.7 321.4a1.65 1.65 0 1 0 3.3 0a1.65 1.65 0 1 0 -3.3 0M510.7 317.4a1.65 1.65 0 1 0 3.3 0a1.65 1.65 0 1 0 -3.3 0M511.6 317.7a1.65 1.65 0 1 0 3.3 0a1.65 1.65 0 1 0 -3.3 0M512.6 320.2a1.65 1.65 0 1 0 3.3 0a1.65 1.65 0 1 0 -3.3 0M513.6 328.4a1.65 1.65 0 1 0 3.3 0a1.65 1.65 0 1 0 -3.3 0M514.6 332.4a1.65 1.65 0 1 0 3.3 0a1.65 1.65 0 1 0 -3.3 0M515.5 331.7a1.65 1.65 0 1 0 3.3 0a1.65 1.65 0 1 0 -3.3 0M516.5 327.7a1.65 1.65 0 1 0 3.3 0a1.65 1.65 0 1 0 -3.3 0M517.5 325.3a1.65 1.65 0 1 0 3.3 0a1.65 1.65 0 1 0 -3.3 0M518.5 322.3a1.65 1.65 0 1 0 3.3 0a1.65 1.65 0 1 0 -3.3 0M519.4 324.1a1.65 1.65 0 1 0 3.3 0a1.65 1.65 0 1 0 -3.3 0M520.4 332.2a1.65 1.65 0 1 0 3.3 0a1.65 1.65 0 1 0 -3.3 0M521.4 333.1a1.65 1.65 0 1 0 3.3 0a1.65 1.65 0 1 0 -3.3 0M522.3 334.5a1.65 1.65 0 1 0 3.3 0a1.65 1.65 0 1 0 -3.3 0M523.3 330.2a1.65 1.65 0 1 0 3.3 0a1.65 1.65 0 1 0 -3.3 0M524.3 327.2a1.65 1.65 0 1 0 3.3 0a1.65 1.65 0 1 0 -3.3 0M525.3 326.0a1.65 1.65 0 1 0 3.3 0a1.65 1.65 0 1 0 -3.3 0M526.2 325.1a1.65 1.65 0 1 0 3.3 0a1.65 1.65 0 1 0 -3.3 0M527.2 329.7a1.65 1.65 0 1 0 3.3 0a1.65 1.65 0 1 0 -3.3 0M528.2 335.8a1.65 1.65 0 1 0 3.3 0a1.65 1.65 0 1 0 -3.3 0M529.2 339.0a1.65 1.65 0 1 0 3.3 0a1.65 1.65 0 1 0 -3.3 0M530.1 332.1a1.65 1.65 0 1 0 3.3 0a1.65 1.65 0 1 0 -3.3 0M531.1 329.2a1.65 1.65 0 1 0 3.3 0a1.65 1.65 0 1 0 -3.3 0M532.1 322.3a1.65 1.65 0 1 0 3.3 0a1.65 1.65 0 1 0 -3.3 0M533.1 325.9a1.65 1.65 0 1 0 3.3 0a1.65 1.65 0 1 0 -3.3 0M534.0 333.8a1.65 1.65 0 1 0 3.3 0a1.65 1.65 0 1 0 -3.3 0M535.0 335.1a1.65 1.65 0 1 0 3.3 0a1.65 1.65 0 1 0 -3.3 0M536.0 336.1a1.65 1.65 0 1 0 3.3 0a1.65 1.65 0 1 0 -3.3 0M536.9 332.1a1.65 1.65 0 1 0 3.3 0a1.65 1.65 0 1 0 -3.3 0M537.9 328.5a1.65 1.65 0 1 0 3.3 0a1.65 1.65 0 1 0 -3.3 0M538.9 325.8a1.65 1.65 0 1 0 3.3 0a1.65 1.65 0 1 0 -3.3 0M539.9 328.6a1.65 1.65 0 1 0 3.3 0a1.65 1.65 0 1 0 -3.3 0M540.8 331.1a1.65 1.65 0 1 0 3.3 0a1.65 1.65 0 1 0 -3.3 0M541.8 335.6a1.65 1.65 0 1 0 3.3 0a1.65 1.65 0 1 0 -3.3 0M542.8 336.5a1.65 1.65 0 1 0 3.3 0a1.65 1.65 0 1 0 -3.3 0M543.8 335.1a1.65 1.65 0 1 0 3.3 0a1.65 1.65 0 1 0 -3.3 0M544.7 330.6a1.65 1.65 0 1 0 3.3 0a1.65 1.65 0 1 0 -3.3 0M545.7 325.6a1.65 1.65 0 1 0 3.3 0a1.65 1.65 0 1 0 -3.3 0M546.7 328.2a1.65 1.65 0 1 0 3.3 0a1.65 1.65 0 1 0 -3.3 0M547.7 328.8a1.65 1.65 0 1 0 3.3 0a1.65 1.65 0 1 0 -3.3 0M548.6 334.3a1.65 1.65 0 1 0 3.3 0a1.65 1.65 0 1 0 -3.3 0M549.6 340.2a1.65 1.65 0 1 0 3.3 0a1.65 1.65 0 1 0 -3.3 0M550.6 334.9a1.65 1.65 0 1 0 3.3 0a1.65 1.65 0 1 0 -3.3 0M551.5 329.4a1.65 1.65 0 1 0 3.3 0a1.65 1.65 0 1 0 -3.3 0M552.5 330.2a1.65 1.65 0 1 0 3.3 0a1.65 1.65 0 1 0 -3.3 0M553.5 326.1a1.65 1.65 0 1 0 3.3 0a1.65 1.65 0 1 0 -3.3 0M554.5 329.2a1.65 1.65 0 1 0 3.3 0a1.65 1.65 0 1 0 -3.3 0M555.4 336.5a1.65 1.65 0 1 0 3.3 0a1.65 1.65 0 1 0 -3.3 0M556.4 336.5a1.65 1.65 0 1 0 3.3 0a1.65 1.65 0 1 0 -3.3 0M557.4 337.1a1.65 1.65 0 1 0 3.3 0a1.65 1.65 0 1 0 -3.3 0M558.4 332.6a1.65 1.65 0 1 0 3.3 0a1.65 1.65 0 1 0 -3.3 0M559.3 329.3a1.65 1.65 0 1 0 3.3 0a1.65 1.65 0 1 0 -3.3 0M560.3 326.0a1.65 1.65 0 1 0 3.3 0a1.65 1.65 0 1 0 -3.3 0M561.3 331.4a1.65 1.65 0 1 0 3.3 0a1.65 1.65 0 1 0 -3.3 0M562.3 338.4a1.65 1.65 0 1 0 3.3 0a1.65 1.65 0 1 0 -3.3 0M563.2 338.5a1.65 1.65 0 1 0 3.3 0a1.65 1.65 0 1 0 -3.3 0M564.2 338.8a1.65 1.65 0 1 0 3.3 0a1.65 1.65 0 1 0 -3.3 0M565.2 332.9a1.65 1.65 0 1 0 3.3 0a1.65 1.65 0 1 0 -3.3 0M566.2 327.9a1.65 1.65 0 1 0 3.3 0a1.65 1.65 0 1 0 -3.3 0M567.1 325.8a1.65 1.65 0 1 0 3.3 0a1.65 1.65 0 1 0 -3.3 0M568.1 329.8a1.65 1.65 0 1 0 3.3 0a1.65 1.65 0 1 0 -3.3 0M569.1 334.1a1.65 1.65 0 1 0 3.3 0a1.65 1.65 0 1 0 -3.3 0M570.0 337.1a1.65 1.65 0 1 0 3.3 0a1.65 1.65 0 1 0 -3.3 0M571.0 338.3a1.65 1.65 0 1 0 3.3 0a1.65 1.65 0 1 0 -3.3 0M572.0 335.5a1.65 1.65 0 1 0 3.3 0a1.65 1.65 0 1 0 -3.3 0M573.0 331.1a1.65 1.65 0 1 0 3.3 0a1.65 1.65 0 1 0 -3.3 0M573.9 326.0a1.65 1.65 0 1 0 3.3 0a1.65 1.65 0 1 0 -3.3 0M574.9 328.3a1.65 1.65 0 1 0 3.3 0a1.65 1.65 0 1 0 -3.3 0M575.9 332.0a1.65 1.65 0 1 0 3.3 0a1.65 1.65 0 1 0 -3.3 0M576.9 336.3a1.65 1.65 0 1 0 3.3 0a1.65 1.65 0 1 0 -3.3 0M577.8 339.1a1.65 1.65 0 1 0 3.3 0a1.65 1.65 0 1 0 -3.3 0M578.8 334.2a1.65 1.65 0 1 0 3.3 0a1.65 1.65 0 1 0 -3.3 0M579.8 330.2a1.65 1.65 0 1 0 3.3 0a1.65 1.65 0 1 0 -3.3 0M580.8 325.7a1.65 1.65 0 1 0 3.3 0a1.65 1.65 0 1 0 -3.3 0M581.7 325.4a1.65 1.65 0 1 0 3.3 0a1.65 1.65 0 1 0 -3.3 0M582.7 333.4a1.65 1.65 0 1 0 3.3 0a1.65 1.65 0 1 0 -3.3 0M583.7 338.9a1.65 1.65 0 1 0 3.3 0a1.65 1.65 0 1 0 -3.3 0M584.6 325.3a1.65 1.65 0 1 0 3.3 0a1.65 1.65 0 1 0 -3.3 0M585.6 330.0a1.65 1.65 0 1 0 3.3 0a1.65 1.65 0 1 0 -3.3 0M586.6 337.6a1.65 1.65 0 1 0 3.3 0a1.65 1.65 0 1 0 -3.3 0M587.6 338.9a1.65 1.65 0 1 0 3.3 0a1.65 1.65 0 1 0 -3.3 0M588.5 335.5a1.65 1.65 0 1 0 3.3 0a1.65 1.65 0 1 0 -3.3 0M589.5 328.3a1.65 1.65 0 1 0 3.3 0a1.65 1.65 0 1 0 -3.3 0M590.5 328.3a1.65 1.65 0 1 0 3.3 0a1.65 1.65 0 1 0 -3.3 0M591.5 318.4a1.65 1.65 0 1 0 3.3 0a1.65 1.65 0 1 0 -3.3 0M592.4 318.2a1.65 1.65 0 1 0 3.3 0a1.65 1.65 0 1 0 -3.3 0M593.4 328.4a1.65 1.65 0 1 0 3.3 0a1.65 1.65 0 1 0 -3.3 0M594.4 327.6a1.65 1.65 0 1 0 3.3 0a1.65 1.65 0 1 0 -3.3 0M595.4 331.0a1.65 1.65 0 1 0 3.3 0a1.65 1.65 0 1 0 -3.3 0M596.3 337.3a1.65 1.65 0 1 0 3.3 0a1.65 1.65 0 1 0 -3.3 0M597.3 335.6a1.65 1.65 0 1 0 3.3 0a1.65 1.65 0 1 0 -3.3 0M598.3 336.1a1.65 1.65 0 1 0 3.3 0a1.65 1.65 0 1 0 -3.3 0" stroke="#e377c2" stroke-width="1.25" fill="none"/>
<path d="M505.1 398.5a1.65 1.65 0 1 0 3.3 0a1.65 1.65 0 1 0 -3.3 0M505.9 372.7a1.65 1.65 0 1 0 3.3 0a1.65 1.65 0 1 0 -3.3 0M506.8 372.9a1.65 1.65 0 1 0 3.3 0a1.65 1.65 0 1 0 -3.3 0M507.8 373.3a1.65 1.65 0 1 0 3.3 0a1.65 1.65 0 1 0 -3.3 0M508.7 374.5a1.65 1.65 0 1 0 3.3 0a1.65 1.65 0 1 0 -3.3 0M509.6 379.9a1.65 1.65 0 1 0 3.3 0a1.65 1.65 0 1 0 -3.3 0M510.6 387.2a1.65 1.65 0 1 0 3.3 0a1.65 1.65 0 1 0 -3.3 0M511.5 392.0a1.65 1.65 0 1 0 3.3 0a1.65 1.65 0 1 0 -3.3 0M512.5 393.6a1.65 1.65 0 1 0 3.3 0a1.65 1.65 0 1 0 -3.3 0M513.4 398.0a1.65 1.65 0 1 0 3.3 0a1.65 1.65 0 1 0 -3.3 0M514.4 400.9a1.65 1.65 0 1 0 3.3 0a1.65 1.65 0 1 0 -3.3 0M515.3 399.9a1.65 1.65 0 1 0 3.3 0a1.65 1.65 0 1 0 -3.3 0M516.3 399.5a1.65 1.65 0 1 0 3.3 0a1.65 1.65 0 1 0 -3.3 0M517.2 398.2a1.65 1.65 0 1 0 3.3 0a1.65 1.65 0 1 0 -3.3 0M518.2 396.7a1.65 1.65 0 1 0 3.3 0a1.65 1.65 0 1 0 -3.3 0M519.1 394.8a1.65 1.65 0 1 0 3.3 0a1.65 1.65 0 1 0 -3.3 0M520.1 393.2a1.65 1.65 0 1 0 3.3 0a1.65 1.65 0 1 0 -3.3 0M521.0 392.3a1.65 1.65 0 1 0 3.3 0a1.65 1.65 0 1 0 -3.3 0M522.0 391.4a1.65 1.65 0 1 0 3.3 0a1.65 1.65 0 1 0 -3.3 0M522.9 389.5a1.65 1.65 0 1 0 3.3 0a1.65 1.65 0 1 0 -3.3 0M523.9 389.5a1.65 1.65 0 1 0 3.3 0a1.65 1.65 0 1 0 -3.3 0M524.8 389.9a1.65 1.65 0 1 0 3.3 0a1.65 1.65 0 1 0 -3.3 0M525.8 391.2a1.65 1.65 0 1 0 3.3 0a1.65 1.65 0 1 0 -3.3 0M526.7 392.3a1.65 1.65 0 1 0 3.3 0a1.65 1.65 0 1 0 -3.3 0M527.7 394.1a1.65 1.65 0 1 0 3.3 0a1.65 1.65 0 1 0 -3.3 0M528.6 395.6a1.65 1.65 0 1 0 3.3 0a1.65 1.65 0 1 0 -3.3 0M529.6 396.7a1.65 1.65 0 1 0 3.3 0a1.65 1.65 0 1 0 -3.3 0M530.5 398.0a1.65 1.65 0 1 0 3.3 0a1.65 1.65 0 1 0 -3.3 0M531.5 398.9a1.65 1.65 0 1 0 3.3 0a1.65 1.65 0 1 0 -3.3 0M532.4 398.3a1.65 1.65 0 1 0 3.3 0a1.65 1.65 0 1 0 -3.3 0M533.4 397.0a1.65 1.65 0 1 0 3.3 0a1.65 1.65 0 1 0 -3.3 0M534.3 396.6a1.65 1.65 0 1 0 3.3 0a1.65 1.65 0 1 0 -3.3 0M535.3 394.6a1.65 1.65 0 1 0 3.3 0a1.65 1.65 0 1 0 -3.3 0M536.2 393.1a1.65 1.65 0 1 0 3.3 0a1.65 1.65 0 1 0 -3.3 0M537.2 392.2a1.65 1.65 0 1 0 3.3 0a1.65 1.65 0 1 0 -3.3 0M538.1 390.4a1.65 1.65 0 1 0 3.3 0a1.65 1.65 0 1 0 -3.3 0M539.1 390.1a1.65 1.65 0 1 0 3.3 0a1.65 1.65 0 1 0 -3.3 0M540.0 389.7a1.65 1.65 0 1 0 3.3 0a1.65 1.65 0 1 0 -3.3 0M541.0 391.2a1.65 1.65 0 1 0 3.3 0a1.65 1.65 0 1 0 -3.3 0M541.9 392.4a1.65 1.65 0 1 0 3.3 0a1.65 1.65 0 1 0 -3.3 0M542.9 393.4a1.65 1.65 0 1 0 3.3 0a1.65 1.65 0 1 0 -3.3 0M543.8 394.7a1.65 1.65 0 1 0 3.3 0a1.65 1.65 0 1 0 -3.3 0M544.8 396.2a1.65 1.65 0 1 0 3.3 0a1.65 1.65 0 1 0 -3.3 0M545.7 397.0a1.65 1.65 0 1 0 3.3 0a1.65 1.65 0 1 0 -3.3 0M546.7 397.7a1.65 1.65 0 1 0 3.3 0a1.65 1.65 0 1 0 -3.3 0M547.6 397.8a1.65 1.65 0 1 0 3.3 0a1.65 1.65 0 1 0 -3.3 0M548.6 397.7a1.65 1.65 0 1 0 3.3 0a1.65 1.65 0 1 0 -3.3 0M549.5 397.9a1.65 1.65 0 1 0 3.3 0a1.65 1.65 0 1 0 -3.3 0M550.5 397.2a1.65 1.65 0 1 0 3.3 0a1.65 1.65 0 1 0 -3.3 0M551.4 396.6a1.65 1.65 0 1 0 3.3 0a1.65 1.65 0 1 0 -3.3 0M552.4 396.0a1.65 1.65 0 1 0 3.3 0a1.65 1.65 0 1 0 -3.3 0M553.3 395.6a1.65 1.65 0 1 0 3.3 0a1.65 1.65 0 1 0 -3.3 0M554.3 395.0a1.65 1.65 0 1 0 3.3 0a1.65 1.65 0 1 0 -3.3 0M555.2 394.5a1.65 1.65 0 1 0 3.3 0a1.65 1.65 0 1 0 -3.3 0M556.2 393.7a1.65 1.65 0 1 0 3.3 0a1.65 1.65 0 1 0 -3.3 0M557.1 393.0a1.65 1.65 0 1 0 3.3 0a1.65 1.65 0 1 0 -3.3 0M558.1 392.0a1.65 1.65 0 1 0 3.3 0a1.65 1.65 0 1 0 -3.3 0M559.0 392.4a1.65 1.65 0 1 0 3.3 0a1.65 1.65 0 1 0 -3.3 0M560.0 391.6a1.65 1.65 0 1 0 3.3 0a1.65 1.65 0 1 0 -3.3 0M560.9 391.8a1.65 1.65 0 1 0 3.3 0a1.65 1.65 0 1 0 -3.3 0M561.9 392.3a1.65 1.65 0 1 0 3.3 0a1.65 1.65 0 1 0 -3.3 0M562.8 392.4a1.65 1.65 0 1 0 3.3 0a1.65 1.65 0 1 0 -3.3 0M563.8 392.7a1.65 1.65 0 1 0 3.3 0a1.65 1.65 0 1 0 -3.3 0M564.7 394.2a1.65 1.65 0 1 0 3.3 0a1.65 1.65 0 1 0 -3.3 0M565.7 395.0a1.65 1.65 0 1 0 3.3 0a1.65 1.65 0 1 0 -3.3 0M566.6 396.0a1.65 1.65 0 1 0 3.3 0a1.65 1.65 0 1 0 -3.3 0M567.6 397.6a1.65 1.65 0 1 0 3.3 0a1.65 1.65 0 1 0 -3.3 0M568.5 398.2a1.65 1.65 0 1 0 3.3 0a1.65 1.65 0 1 0 -3.3 0M569.5 399.5a1.65 1.65 0 1 0 3.3 0a1.65 1.65 0 1 0 -3.3 0M570.4 398.1a1.65 1.65 0 1 0 3.3 0a1.65 1.65 0 1 0 -3.3 0M571.4 397.6a1.65 1.65 0 1 0 3.3 0a1.65 1.65 0 1 0 -3.3 0M572.3 396.2a1.65 1.65 0 1 0 3.3 0a1.65 1.65 0 1 0 -3.3 0M573.3 394.7a1.65 1.65 0 1 0 3.3 0a1.65 1.65 0 1 0 -3.3 0M574.2 392.6a1.65 1.65 0 1 0 3.3 0a1.65 1.65 0 1 0 -3.3 0M575.2 392.6a1.65 1.65 0 1 0 3.3 0a1.65 1.65 0 1 0 -3.3 0M576.1 392.2a1.65 1.65 0 1 0 3.3 0a1.65 1.65 0 1 0 -3.3 0M577.1 392.3a1.65 1.65 0 1 0 3.3 0a1.65 1.65 0 1 0 -3.3 0M578.0 393.2a1.65 1.65 0 1 0 3.3 0a1.65 1.65 0 1 0 -3.3 0M579.0 394.0a1.65 1.65 0 1 0 3.3 0a1.65 1.65 0 1 0 -3.3 0M579.9 394.6a1.65 1.65 0 1 0 3.3 0a1.65 1.65 0 1 0 -3.3 0M580.9 394.8a1.65 1.65 0 1 0 3.3 0a1.65 1.65 0 1 0 -3.3 0M581.8 394.9a1.65 1.65 0 1 0 3.3 0a1.65 1.65 0 1 0 -3.3 0M582.8 394.7a1.65 1.65 0 1 0 3.3 0a1.65 1.65 0 1 0 -3.3 0M583.7 393.7a1.65 1.65 0 1 0 3.3 0a1.65 1.65 0 1 0 -3.3 0M584.7 393.0a1.65 1.65 0 1 0 3.3 0a1.65 1.65 0 1 0 -3.3 0M585.6 391.4a1.65 1.65 0 1 0 3.3 0a1.65 1.65 0 1 0 -3.3 0M586.6 391.2a1.65 1.65 0 1 0 3.3 0a1.65 1.65 0 1 0 -3.3 0M587.5 392.8a1.65 1.65 0 1 0 3.3 0a1.65 1.65 0 1 0 -3.3 0M588.5 393.0a1.65 1.65 0 1 0 3.3 0a1.65 1.65 0 1 0 -3.3 0M589.4 393.9a1.65 1.65 0 1 0 3.3 0a1.65 1.65 0 1 0 -3.3 0M590.4 393.7a1.65 1.65 0 1 0 3.3 0a1.65 1.65 0 1 0 -3.3 0M591.3 395.8a1.65 1.65 0 1 0 3.3 0a1.65 1.65 0 1 0 -3.3 0M592.3 399.0a1.65 1.65 0 1 0 3.3 0a1.65 1.65 0 1 0 -3.3 0M593.2 401.4a1.65 1.65 0 1 0 3.3 0a1.65 1.65 0 1 0 -3.3 0" stroke="#ff7f0e" stroke-width="1.2" fill="none"/>
<rect x="175.5" y="308.3" width="104.3" height="38.8" stroke="#1a1a1a" stroke-width="1" fill="none" />
<line x1="172" y1="308.8" x2="175.5" y2="308.8" stroke="#1a1a1a" stroke-width="1" />
<text x="169.5" y="309.1" font-size="9.4" text-anchor="end" dominant-baseline="central" fill="#000" >0.5</text>
<line x1="172" y1="327.6" x2="175.5" y2="327.6" stroke="#1a1a1a" stroke-width="1" />
<text x="169.5" y="327.9" font-size="9.4" text-anchor="end" dominant-baseline="central" fill="#000" >0.0</text>
<line x1="172" y1="346.9" x2="175.5" y2="346.9" stroke="#1a1a1a" stroke-width="1" />
<text x="169.5" y="347.2" font-size="9.4" text-anchor="end" dominant-baseline="central" fill="#000" >−0.5</text>
<line x1="175.5" y1="347.1" x2="175.5" y2="350.6" stroke="#1a1a1a" stroke-width="1" />
<line x1="210.27" y1="347.1" x2="210.27" y2="350.6" stroke="#1a1a1a" stroke-width="1" />
<line x1="245.03" y1="347.1" x2="245.03" y2="350.6" stroke="#1a1a1a" stroke-width="1" />
<rect x="175.5" y="370.4" width="104.3" height="38.9" stroke="#1a1a1a" stroke-width="1" fill="none" />
<line x1="172" y1="376.8" x2="175.5" y2="376.8" stroke="#1a1a1a" stroke-width="1" />
<text x="169.5" y="377.1" font-size="9.4" text-anchor="end" dominant-baseline="central" fill="#000" >0.5</text>
<line x1="172" y1="389.7" x2="175.5" y2="389.7" stroke="#1a1a1a" stroke-width="1" />
<text x="169.5" y="390" font-size="9.4" text-anchor="end" dominant-baseline="central" fill="#000" >0.0</text>
<line x1="172" y1="402.6" x2="175.5" y2="402.6" stroke="#1a1a1a" stroke-width="1" />
<text x="169.5" y="402.9" font-size="9.4" text-anchor="end" dominant-baseline="central" fill="#000" >−0.5</text>
<line x1="175.5" y1="409.3" x2="175.5" y2="412.8" stroke="#1a1a1a" stroke-width="1" />
<line x1="210.27" y1="409.3" x2="210.27" y2="412.8" stroke="#1a1a1a" stroke-width="1" />
<line x1="245.03" y1="409.3" x2="245.03" y2="412.8" stroke="#1a1a1a" stroke-width="1" />
<rect x="505.5" y="308.3" width="104.3" height="38.8" stroke="#1a1a1a" stroke-width="1" fill="none" />
<line x1="502" y1="313.9" x2="505.5" y2="313.9" stroke="#1a1a1a" stroke-width="1" />
<text x="499.5" y="314.2" font-size="9.4" text-anchor="end" dominant-baseline="central" fill="#000" >0.55</text>
<line x1="502" y1="327.6" x2="505.5" y2="327.6" stroke="#1a1a1a" stroke-width="1" />
<text x="499.5" y="327.9" font-size="9.4" text-anchor="end" dominant-baseline="central" fill="#000" >0.50</text>
<line x1="502" y1="341.4" x2="505.5" y2="341.4" stroke="#1a1a1a" stroke-width="1" />
<text x="499.5" y="341.7" font-size="9.4" text-anchor="end" dominant-baseline="central" fill="#000" >0.45</text>
<line x1="505.5" y1="347.1" x2="505.5" y2="350.6" stroke="#1a1a1a" stroke-width="1" />
<line x1="540.27" y1="347.1" x2="540.27" y2="350.6" stroke="#1a1a1a" stroke-width="1" />
<line x1="575.03" y1="347.1" x2="575.03" y2="350.6" stroke="#1a1a1a" stroke-width="1" />
<rect x="505.5" y="370.4" width="104.3" height="38.9" stroke="#1a1a1a" stroke-width="1" fill="none" />
<line x1="502" y1="375" x2="505.5" y2="375" stroke="#1a1a1a" stroke-width="1" />
<text x="499.5" y="375.3" font-size="9.4" text-anchor="end" dominant-baseline="central" fill="#000" >0.2</text>
<line x1="502" y1="399.3" x2="505.5" y2="399.3" stroke="#1a1a1a" stroke-width="1" />
<text x="499.5" y="399.6" font-size="9.4" text-anchor="end" dominant-baseline="central" fill="#000" >0.1</text>
<line x1="505.5" y1="409.3" x2="505.5" y2="412.8" stroke="#1a1a1a" stroke-width="1" />
<line x1="540.27" y1="409.3" x2="540.27" y2="412.8" stroke="#1a1a1a" stroke-width="1" />
<line x1="575.03" y1="409.3" x2="575.03" y2="412.8" stroke="#1a1a1a" stroke-width="1" />
<rect x="224.5" y="37.5" width="57" height="62.6" stroke="none" stroke-width="0" fill="#fff" />
<path d="M276.1 49.2 L280.6 49.8 L280.6 94.9 L276.1 95.6 Z" fill="#e6e6e6" stroke="none"/>
<path d="M229.7 45.3 L276.1 45.3 L280.6 49.8 L280.6 94.9 L276.1 99.4 L229.7 99.4 L225.8 94.9 L225.8 49.8 Z" fill="none" stroke="#4a4a4a" stroke-width="0.9"/>
<path d="M230.3 49.2 L276.1 49.2 L276.1 95.6 L230.3 95.6 Z" fill="none" stroke="#4a4a4a" stroke-width="0.9"/>
<path d="M225.8 49.8 L230.3 49.2 M280.6 49.8 L276.1 49.2 M225.8 94.9 L230.3 95.6 M280.6 94.9 L276.1 95.6" stroke="#4a4a4a" stroke-width="0.7" fill="none"/>
<path d="M253.8 98.8 L253.8 43.5 M227 72.4 L283.5 72.4" stroke="#8c8c8c" stroke-width="0.7" fill="none"/>
<path d="M251.9 45.5 L253.8 42.2 L255.7 45.5 M281.3 70.6 L284.6 72.4 L281.3 74.2" stroke="#8c8c8c" stroke-width="0.7" fill="none"/>
<circle cx="251.6" cy="47.2" r="0.9" fill="none" stroke="#a8a8a8" stroke-width="0.5"/>
<circle cx="250.9" cy="58.2" r="0.9" fill="none" stroke="#a8a8a8" stroke-width="0.5"/>
<circle cx="253.2" cy="58.2" r="0.9" fill="none" stroke="#a8a8a8" stroke-width="0.5"/>
<circle cx="239" cy="71.1" r="0.9" fill="none" stroke="#a8a8a8" stroke-width="0.5"/>
<circle cx="239" cy="74.3" r="0.9" fill="none" stroke="#a8a8a8" stroke-width="0.5"/>
<circle cx="267.4" cy="70.8" r="0.9" fill="none" stroke="#a8a8a8" stroke-width="0.5"/>
<circle cx="267.4" cy="74.3" r="0.9" fill="none" stroke="#a8a8a8" stroke-width="0.5"/>
<circle cx="251.6" cy="86.5" r="0.9" fill="none" stroke="#a8a8a8" stroke-width="0.5"/>
<circle cx="227.7" cy="74.3" r="0.9" fill="none" stroke="#a8a8a8" stroke-width="0.5"/>
<circle cx="278.6" cy="70.4" r="0.9" fill="none" stroke="#a8a8a8" stroke-width="0.5"/>
<circle cx="254.8" cy="98.1" r="0.9" fill="none" stroke="#a8a8a8" stroke-width="0.5"/>
<circle cx="254.8" cy="86.5" r="0.9" fill="#666"/>
<circle cx="227.7" cy="71.1" r="1.55" fill="#111"/>
<circle cx="278.6" cy="73.7" r="1.55" fill="#111"/>
<circle cx="251.6" cy="98.1" r="1.55" fill="#111"/>
<circle cx="254.5" cy="47.2" r="2.1" fill="#9467bd"/>
<path d="M261.9 57.6 L256.2 49.9" stroke="#1fa8d8" stroke-width="0.9" fill="none"/>
<path d="M255.3 48.6 L258.1 50.2 L256.2 51.6 Z" fill="#1fa8d8"/>
<text x="264.6" y="60.6" font-size="8.0" text-anchor="middle" dominant-baseline="central" fill="#000" >(I)</text>
<text x="258.3" y="39.5" font-size="9.5" text-anchor="middle" dominant-baseline="central" fill="#000" ><tspan>k</tspan><tspan font-size="70%" dy="2">y</tspan></text>
<text x="287" y="78.8" font-size="9.5" text-anchor="middle" dominant-baseline="central" fill="#000" ><tspan>k</tspan><tspan font-size="70%" dy="2">x</tspan></text>
<rect x="552" y="40" width="70.5" height="61.5" stroke="none" stroke-width="0" fill="#fff" />
<path d="M561.5 54.2 L603.2 53.4 L605 60.6 L604.4 77.2 L603.8 90.4 L617 98.2 L566.7 100.1 L565.5 90.4 L564 77.2 L563.5 69.7 Z" fill="#e2e2e2" stroke="none"/>
<path d="M603.2 53.4 L610.4 54.5 L610.4 93 L603.8 90.4 Z" fill="#ececec" stroke="none"/>
<path d="M580.5 49.0 L592.5 49.0 L592.5 100.2 L580.5 100.2 Z" fill="#c4c4c4" fill-opacity="0.55" stroke="none"/>
<path d="M552.2 73 L563.5 69.7 L602.7 69.4 L622 75.5 L604.4 77.2 L564 77.2 Z" fill="#b8b8b8" fill-opacity="0.55" stroke="none"/>
<path d="M556.2 49.5 L603.2 48.4 L618.2 52.3 L621.5 69.4 L622 75.5 L620.4 88.2 L617 98.2 L566.7 100.1 L556.8 93 L553.5 84 L552.2 73 L553 61.5 Z M556.2 49.5 L566.7 54.5 L603.2 53.4 L618.2 52.3 M566.7 54.5 L565 68.5 L563.5 69.7 M603.2 53.4 L605 60.6 L602.7 69.4 M552.2 73 L563.5 69.7 L602.7 69.4 L622 75.5 M552.2 73 L564 77.2 L604.4 77.2 L622 75.5 M564 77.2 L565.5 90.4 L603.8 90.4 L604.4 77.2 M565.5 90.4 L566.7 100.1 M603.8 90.4 L617 98.2 M553 61.5 L555.5 60 L556.5 70.5 M556.8 93 L556.5 84 L553.5 84" fill="none" stroke="#222" stroke-width="0.7" stroke-linejoin="round"/>
<path d="M586.3 46.5 L586.3 93.5 M548.5 73.8 L560 74.6 M579.4 70.6 L602.7 81.6" stroke="#7a7a7a" stroke-width="0.7" fill="none"/>
<path d="M600.2 82.3 L603.2 81.9 L601.6 79.6 Z" fill="#7a7a7a"/>
<circle cx="571.6" cy="61.2" r="1.1" fill="#222"/>
<circle cx="571.6" cy="87.7" r="1.1" fill="#222"/>
<circle cx="600.5" cy="59.8" r="1.1" fill="#222"/>
<circle cx="600.5" cy="84.9" r="1.1" fill="#222"/>
<circle cx="569.9" cy="59.8" r="0.8" fill="#9a9a9a"/>
<circle cx="579.8" cy="58.9" r="0.8" fill="#9a9a9a"/>
<circle cx="579.8" cy="84.0" r="0.8" fill="#9a9a9a"/>
<circle cx="588.0" cy="88.5" r="0.8" fill="#9a9a9a"/>
<circle cx="591.5" cy="88.5" r="0.8" fill="#9a9a9a"/>
<circle cx="598.8" cy="58.5" r="0.8" fill="#9a9a9a"/>
<circle cx="598.8" cy="83.5" r="0.8" fill="#9a9a9a"/>
<circle cx="587.0" cy="62.0" r="2.3" fill="#ff7f0e"/>
<circle cx="591.9" cy="61.8" r="2.2" fill="#444"/>
<path d="M575.2 48.2 L584.6 58.6" stroke="#1fa8d8" stroke-width="0.9" fill="none"/>
<path d="M585.6 60.0 L582.6 58.3 L584.6 56.6 Z" fill="#1fa8d8"/>
<text x="570.4" y="43.6" font-size="8.0" text-anchor="middle" dominant-baseline="central" fill="#000" >(II)</text>
<text x="589.5" y="43.6" font-size="9.5" text-anchor="middle" dominant-baseline="central" fill="#000" ><tspan>k</tspan><tspan font-size="70%" dy="2">z</tspan></text>
<text x="543.6" y="74.4" font-size="9.5" text-anchor="middle" dominant-baseline="central" fill="#000" ><tspan>k</tspan><tspan font-size="70%" dy="2">x</tspan></text>
<text x="610.5" y="85.3" font-size="9.5" text-anchor="middle" dominant-baseline="central" fill="#000" ><tspan>k</tspan><tspan font-size="70%" dy="2">y</tspan></text>
<rect x="509.3" y="2.2" width="122" height="35.2" rx="2" ry="2" fill="#fff" fill-opacity="0.8" stroke="#cccccc" stroke-width="0.9"/>
<line x1="512.5" y1="12.8" x2="532.6" y2="12.8" stroke="#9467bd" stroke-width="1.9" />
<line x1="512.5" y1="29.2" x2="532.6" y2="29.2" stroke="#ff7f0e" stroke-width="2.1" />
<text x="540.5" y="11.8" font-size="9.8" text-anchor="start" dominant-baseline="central" fill="#000" textLength="85.5" lengthAdjust="spacingAndGlyphs">P<tspan font-size="70%" dy="2.2">A</tspan><tspan dy="-2.2">: 3.9 eV 1.0 mJ/cm</tspan><tspan font-size="70%" dy="-3.8">2</tspan></text>
<text x="540.5" y="28.2" font-size="9.8" text-anchor="start" dominant-baseline="central" fill="#000" textLength="85.5" lengthAdjust="spacingAndGlyphs">P<tspan font-size="70%" dy="2.2">B</tspan><tspan dy="-2.2">: 2.0 eV 0.3 mJ/cm</tspan><tspan font-size="70%" dy="-3.8">2</tspan></text>
<rect x="133.8" y="213.7" width="129.6" height="45.4" rx="2" ry="2" fill="#fff" fill-opacity="0.8" stroke="#cccccc" stroke-width="0.9"/>
<path d="M147.4 221.3h0" stroke="#ff7f0e" stroke-width="4.20" stroke-linecap="round" fill="none"/>
<path d="M147.4 235.4h0" stroke="#17becf" stroke-width="4.20" stroke-linecap="round" fill="none"/>
<path d="M145.8 248.9a1.6 1.6 0 1 0 3.2 0a1.6 1.6 0 1 0 -3.2 0" stroke="#e377c2" stroke-width="1.2" fill="none"/>
<text x="165.3" y="221" font-size="9.6" text-anchor="start" dominant-baseline="central" fill="#000" >P<tspan font-size="70%" dy="2.2">B</tspan></text>
<text x="165.3" y="235.1" font-size="9.6" text-anchor="start" dominant-baseline="central" fill="#000" >P<tspan font-size="70%" dy="2.2">A</tspan></text>
<text x="165.3" y="248.6" font-size="9.6" text-anchor="start" dominant-baseline="central" fill="#000" textLength="93.5" lengthAdjust="spacingAndGlyphs">P<tspan font-size="70%" dy="2.2">A</tspan><tspan dy="-2.2">, Ehrenfest dynamics</tspan></text>
<line x1="81.6" y1="465.5" x2="81.6" y2="499.9" stroke="#8a8a8a" stroke-width="0.9" />
<line x1="46.8" y1="482.7" x2="116.5" y2="482.7" stroke="#c8c8c8" stroke-width="1.5" />
<rect x="46.8" y="465.5" width="69.7" height="34.4" stroke="#1a1a1a" stroke-width="1.1" fill="none" />
<line x1="43.3" y1="465.8" x2="46.8" y2="465.8" stroke="#1a1a1a" stroke-width="1.1" />
<text x="40.2" y="466.4" font-size="10.3" text-anchor="end" dominant-baseline="central" fill="#000" >0.88</text>
<line x1="43.3" y1="482.7" x2="46.8" y2="482.7" stroke="#1a1a1a" stroke-width="1.1" />
<text x="40.2" y="483.3" font-size="10.3" text-anchor="end" dominant-baseline="central" fill="#000" >0.87</text>
<line x1="43.3" y1="499.8" x2="46.8" y2="499.8" stroke="#1a1a1a" stroke-width="1.1" />
<text x="40.2" y="500.4" font-size="10.3" text-anchor="end" dominant-baseline="central" fill="#000" >0.86</text>
<line x1="46.8" y1="499.9" x2="46.8" y2="503.4" stroke="#1a1a1a" stroke-width="1.1" />
<text x="46.8" y="511.4" font-size="10.3" text-anchor="middle" dominant-baseline="central" fill="#000" >−0.02</text>
<line x1="81.6" y1="499.9" x2="81.6" y2="503.4" stroke="#1a1a1a" stroke-width="1.1" />
<text x="81.6" y="511.4" font-size="10.3" text-anchor="middle" dominant-baseline="central" fill="#000" >0.00</text>
<line x1="116.5" y1="499.9" x2="116.5" y2="503.4" stroke="#1a1a1a" stroke-width="1.1" />
<text x="116.5" y="511.4" font-size="10.3" text-anchor="middle" dominant-baseline="central" fill="#000" >0.02</text>
<text x="47.1" y="452.8" font-size="10.3" text-anchor="middle" dominant-baseline="central" fill="#000" >(i)</text>
<text x="81.65" y="528.8" font-size="12.5" text-anchor="middle" dominant-baseline="central" fill="#000" ><tspan font-style="italic">k</tspan><tspan font-size="72%" dy="2.6">x</tspan><tspan dy="-2.6"> (</tspan><tspan font-style="italic">c</tspan><tspan font-size="70%" dy="-4.2">*</tspan><tspan dy="4.2">)</tspan></text>
<text x="0" y="0" font-size="12.5" text-anchor="middle" dominant-baseline="central" fill="#000" transform="translate(8.3,483.3) rotate(-90)" ><tspan font-style="italic">k</tspan><tspan font-size="72%" dy="2.6">y</tspan><tspan dy="-2.6"> (</tspan><tspan font-style="italic">c</tspan><tspan font-size="70%" dy="-4.2">*</tspan><tspan dy="4.2">)</tspan></text>
<circle cx="59.8" cy="492.5" r="3.3" fill="#d62728"/>
<circle cx="103.6" cy="492.5" r="3.3" fill="#9467bd"/>
<path d="M58.7 476.6L63.9 481.8M58.7 481.8L63.9 476.6" stroke="#000" stroke-width="1.2" fill="none"/>
<path d="M99.9 476.6L105.1 481.8M99.9 481.8L105.1 476.6" stroke="#000" stroke-width="1.2" fill="none"/>
<line x1="61.3" y1="459" x2="61.3" y2="472.5" stroke="#000" stroke-width="1.1" />
<line x1="102.5" y1="459" x2="102.5" y2="472.5" stroke="#000" stroke-width="1.1" />
<line x1="65.5" y1="458.4" x2="98.3" y2="458.4" stroke="#000" stroke-width="1.1" />
<path d="M67.0 455.4L62.5 458.4L67.0 461.4" stroke="#000" stroke-width="1.1" fill="none"/>
<path d="M96.8 455.4L101.3 458.4L96.8 461.4" stroke="#000" stroke-width="1.1" fill="none"/>
<text x="85.2" y="451.3" font-size="11.2" text-anchor="middle" dominant-baseline="central" fill="#000" ><tspan font-style="italic">d</tspan><tspan font-size="72%" dy="2.0">20</tspan><tspan dy="-2.0"> ~ 0.95</tspan><tspan font-style="italic">d</tspan><tspan font-size="72%" dy="2.0">0</tspan></text>
<line x1="235.1" y1="465.5" x2="235.1" y2="500.4" stroke="#8a8a8a" stroke-width="0.9" />
<line x1="200.1" y1="483.1" x2="270.3" y2="483.1" stroke="#c8c8c8" stroke-width="1.5" />
<rect x="200.1" y="465.5" width="70.2" height="34.9" stroke="#1a1a1a" stroke-width="1.1" fill="none" />
<line x1="196.6" y1="465.5" x2="200.1" y2="465.5" stroke="#1a1a1a" stroke-width="1.1" />
<text x="193.5" y="466.1" font-size="10.3" text-anchor="end" dominant-baseline="central" fill="#000" >0.01</text>
<line x1="196.6" y1="483.1" x2="200.1" y2="483.1" stroke="#1a1a1a" stroke-width="1.1" />
<text x="193.5" y="483.7" font-size="10.3" text-anchor="end" dominant-baseline="central" fill="#000" >0.00</text>
<line x1="196.6" y1="500.4" x2="200.1" y2="500.4" stroke="#1a1a1a" stroke-width="1.1" />
<text x="193.5" y="501" font-size="10.3" text-anchor="end" dominant-baseline="central" fill="#000" >−0.01</text>
<line x1="200.1" y1="500.4" x2="200.1" y2="503.9" stroke="#1a1a1a" stroke-width="1.1" />
<text x="200.1" y="511.9" font-size="10.3" text-anchor="middle" dominant-baseline="central" fill="#000" >−0.02</text>
<line x1="235.1" y1="500.4" x2="235.1" y2="503.9" stroke="#1a1a1a" stroke-width="1.1" />
<text x="235.1" y="511.9" font-size="10.3" text-anchor="middle" dominant-baseline="central" fill="#000" >0.00</text>
<line x1="270.3" y1="500.4" x2="270.3" y2="503.9" stroke="#1a1a1a" stroke-width="1.1" />
<text x="270.3" y="511.9" font-size="10.3" text-anchor="middle" dominant-baseline="central" fill="#000" >0.02</text>
<text x="200.8" y="452.8" font-size="10.3" text-anchor="middle" dominant-baseline="central" fill="#000" >(j)</text>
<text x="235.2" y="528.8" font-size="12.5" text-anchor="middle" dominant-baseline="central" fill="#000" ><tspan font-style="italic">k</tspan><tspan font-size="72%" dy="2.6">x</tspan><tspan dy="-2.6"> (</tspan><tspan font-style="italic">c</tspan><tspan font-size="70%" dy="-4.2">*</tspan><tspan dy="4.2">)</tspan></text>
<text x="0" y="0" font-size="12.5" text-anchor="middle" dominant-baseline="central" fill="#000" transform="translate(156.8,483.9) rotate(-90)" ><tspan font-style="italic">k</tspan><tspan font-size="72%" dy="2.6">z</tspan><tspan dy="-2.6"> (</tspan><tspan font-style="italic">c</tspan><tspan font-size="70%" dy="-4.2">*</tspan><tspan dy="4.2">)</tspan></text>
<circle cx="213.3" cy="483.1" r="3.3" fill="#ff7f0e"/>
<circle cx="256.6" cy="483.1" r="3.3" fill="#1f77b4"/>
<path d="M212.0 481.8L217.2 487.0M212.0 487.0L217.2 481.8" stroke="#000" stroke-width="1.2" fill="none"/>
<path d="M253.2 481.4L258.4 486.6M253.2 486.6L258.4 481.4" stroke="#000" stroke-width="1.2" fill="none"/>
<line x1="418.4" y1="465.2" x2="418.4" y2="499.9" stroke="#8a8a8a" stroke-width="0.9" />
<line x1="348.3" y1="482.7" x2="488" y2="482.7" stroke="#c8c8c8" stroke-width="1.5" />
<rect x="348.3" y="465.2" width="139.7" height="34.7" stroke="#1a1a1a" stroke-width="1.1" fill="none" />
<line x1="344.8" y1="465.2" x2="348.3" y2="465.2" stroke="#1a1a1a" stroke-width="1.1" />
<text x="341.7" y="465.8" font-size="10.3" text-anchor="end" dominant-baseline="central" fill="#000" >0.49</text>
<line x1="344.8" y1="482.7" x2="348.3" y2="482.7" stroke="#1a1a1a" stroke-width="1.1" />
<text x="341.7" y="483.3" font-size="10.3" text-anchor="end" dominant-baseline="central" fill="#000" >0.48</text>
<line x1="344.8" y1="499.9" x2="348.3" y2="499.9" stroke="#1a1a1a" stroke-width="1.1" />
<text x="341.7" y="500.5" font-size="10.3" text-anchor="end" dominant-baseline="central" fill="#000" >0.47</text>
<line x1="383.8" y1="499.9" x2="383.8" y2="503.4" stroke="#1a1a1a" stroke-width="1.1" />
<text x="383.8" y="511.4" font-size="10.3" text-anchor="middle" dominant-baseline="central" fill="#000" >−0.02</text>
<line x1="418.4" y1="499.9" x2="418.4" y2="503.4" stroke="#1a1a1a" stroke-width="1.1" />
<text x="418.4" y="511.4" font-size="10.3" text-anchor="middle" dominant-baseline="central" fill="#000" >0.00</text>
<line x1="453.7" y1="499.9" x2="453.7" y2="503.4" stroke="#1a1a1a" stroke-width="1.1" />
<text x="453.7" y="511.4" font-size="10.3" text-anchor="middle" dominant-baseline="central" fill="#000" >0.02</text>
<text x="349.3" y="452.8" font-size="10.3" text-anchor="middle" dominant-baseline="central" fill="#000" >(k)</text>
<text x="418.15" y="528.8" font-size="12.5" text-anchor="middle" dominant-baseline="central" fill="#000" ><tspan font-style="italic">k</tspan><tspan font-size="72%" dy="2.6">x</tspan><tspan dy="-2.6"> (</tspan><tspan font-style="italic">c</tspan><tspan font-size="70%" dy="-4.2">*</tspan><tspan dy="4.2">)</tspan></text>
<text x="0" y="0" font-size="12.5" text-anchor="middle" dominant-baseline="central" fill="#000" transform="translate(309.4,484) rotate(-90)" ><tspan font-style="italic">k</tspan><tspan font-size="72%" dy="2.6">y</tspan><tspan dy="-2.6"> (</tspan><tspan font-style="italic">c</tspan><tspan font-size="70%" dy="-4.2">*</tspan><tspan dy="4.2">)</tspan></text>
<circle cx="363.0" cy="486.9" r="3.3" fill="#1f77b4"/>
<circle cx="473.9" cy="486.9" r="3.3" fill="#ff7f0e"/>
<path d="M364.2 482.9L369.4 488.1M364.2 488.1L369.4 482.9" stroke="#000" stroke-width="1.2" fill="none"/>
<path d="M467.7 482.9L472.9 488.1M467.7 488.1L472.9 482.9" stroke="#000" stroke-width="1.2" fill="none"/>
<line x1="615.2" y1="465.5" x2="615.2" y2="500.1" stroke="#8a8a8a" stroke-width="0.9" />
<line x1="546.3" y1="482.6" x2="684.4" y2="482.6" stroke="#c8c8c8" stroke-width="1.5" />
<rect x="546.3" y="465.5" width="138.1" height="34.6" stroke="#1a1a1a" stroke-width="1.1" fill="none" />
<line x1="542.8" y1="465.5" x2="546.3" y2="465.5" stroke="#1a1a1a" stroke-width="1.1" />
<text x="539.7" y="466.1" font-size="10.3" text-anchor="end" dominant-baseline="central" fill="#000" >0.31</text>
<line x1="542.8" y1="482.6" x2="546.3" y2="482.6" stroke="#1a1a1a" stroke-width="1.1" />
<text x="539.7" y="483.2" font-size="10.3" text-anchor="end" dominant-baseline="central" fill="#000" >0.30</text>
<line x1="542.8" y1="500" x2="546.3" y2="500" stroke="#1a1a1a" stroke-width="1.1" />
<text x="539.7" y="500.6" font-size="10.3" text-anchor="end" dominant-baseline="central" fill="#000" >0.29</text>
<line x1="580.9" y1="500.1" x2="580.9" y2="503.6" stroke="#1a1a1a" stroke-width="1.1" />
<text x="580.9" y="511.6" font-size="10.3" text-anchor="middle" dominant-baseline="central" fill="#000" >−0.02</text>
<line x1="615.2" y1="500.1" x2="615.2" y2="503.6" stroke="#1a1a1a" stroke-width="1.1" />
<text x="615.2" y="511.6" font-size="10.3" text-anchor="middle" dominant-baseline="central" fill="#000" >0.00</text>
<line x1="649.6" y1="500.1" x2="649.6" y2="503.6" stroke="#1a1a1a" stroke-width="1.1" />
<text x="649.6" y="511.6" font-size="10.3" text-anchor="middle" dominant-baseline="central" fill="#000" >0.02</text>
<text x="546.4" y="452.8" font-size="10.3" text-anchor="middle" dominant-baseline="central" fill="#000" >(l)</text>
<text x="615.35" y="528.8" font-size="12.5" text-anchor="middle" dominant-baseline="central" fill="#000" ><tspan font-style="italic">k</tspan><tspan font-size="72%" dy="2.6">x</tspan><tspan dy="-2.6"> (</tspan><tspan font-style="italic">c</tspan><tspan font-size="70%" dy="-4.2">*</tspan><tspan dy="4.2">)</tspan></text>
<text x="0" y="0" font-size="12.5" text-anchor="middle" dominant-baseline="central" fill="#000" transform="translate(507.6,485.8) rotate(-90)" ><tspan font-style="italic">k</tspan><tspan font-size="72%" dy="2.6">z</tspan><tspan dy="-2.6"> (</tspan><tspan font-style="italic">c</tspan><tspan font-size="70%" dy="-4.2">*</tspan><tspan dy="4.2">)</tspan></text>
<circle cx="559.5" cy="489.5" r="3.3" fill="#1f77b4"/>
<circle cx="670.4" cy="489.6" r="3.3" fill="#ff7f0e"/>
<path d="M561.2 479.3L566.4 484.5M561.2 484.5L566.4 479.3" stroke="#000" stroke-width="1.2" fill="none"/>
<path d="M664.1 479.4L669.3 484.6M664.1 484.6L669.3 479.4" stroke="#000" stroke-width="1.2" fill="none"/>
<line x1="563.8" y1="450" x2="563.8" y2="474.2" stroke="#000" stroke-width="1.1" />
<line x1="666.7" y1="450" x2="666.7" y2="474.2" stroke="#000" stroke-width="1.1" />
<line x1="568" y1="458.8" x2="662.5" y2="458.8" stroke="#000" stroke-width="1.1" />
<path d="M569.5 455.8L565.0 458.8L569.5 461.8" stroke="#000" stroke-width="1.1" fill="none"/>
<path d="M661.0 455.8L665.5 458.8L661.0 461.8" stroke="#000" stroke-width="1.1" fill="none"/>
<text x="614.4" y="450.6" font-size="11.2" text-anchor="middle" dominant-baseline="central" fill="#000" ><tspan font-style="italic">d</tspan><tspan font-size="72%" dy="2.0">20</tspan><tspan dy="-2.0"> ~ 0.93</tspan><tspan font-style="italic">d</tspan><tspan font-size="72%" dy="2.0">0</tspan></text>
<rect x="134.5" y="512.2" width="54.3" height="29.5" rx="2" ry="2" fill="#fff" fill-opacity="0.8" stroke="#cccccc" stroke-width="0.9"/>
<circle cx="147.6" cy="519.9" r="3.3" fill="#d62728"/>
<circle cx="147.6" cy="533.3" r="3.3" fill="#9467bd"/>
<text x="164.7" y="520.2" font-size="9.2" text-anchor="start" dominant-baseline="central" fill="#000" >W1 +</text>
<text x="164.7" y="533.6" font-size="9.2" text-anchor="start" dominant-baseline="central" fill="#000" >W1 -</text>
<rect x="288.2" y="512.8" width="63.3" height="29.4" rx="2" ry="2" fill="#fff" fill-opacity="0.8" stroke="#cccccc" stroke-width="0.9"/>
<circle cx="301.4" cy="519.7" r="3.3" fill="#000"/>
<path d="M298.8 530.8L304.0 536.0M298.8 536.0L304.0 530.8" stroke="#000" stroke-width="1.2" fill="none"/>
<text x="319" y="520" font-size="9.2" text-anchor="start" dominant-baseline="central" fill="#000" >t= 0 fs</text>
<text x="319" y="533.7" font-size="9.2" text-anchor="start" dominant-baseline="central" fill="#000" >t= 20 fs</text>
<rect x="491.9" y="512.1" width="53.5" height="30.3" rx="2" ry="2" fill="#fff" fill-opacity="0.8" stroke="#cccccc" stroke-width="0.9"/>
<circle cx="505.3" cy="519.4" r="3.3" fill="#1f77b4"/>
<circle cx="505.3" cy="533.5" r="3.3" fill="#ff7f0e"/>
<text x="522.4" y="519.7" font-size="9.2" text-anchor="start" dominant-baseline="central" fill="#000" >W2 +</text>
<text x="522.4" y="533.8" font-size="9.2" text-anchor="start" dominant-baseline="central" fill="#000" >W2 -</text></svg></body></html>
